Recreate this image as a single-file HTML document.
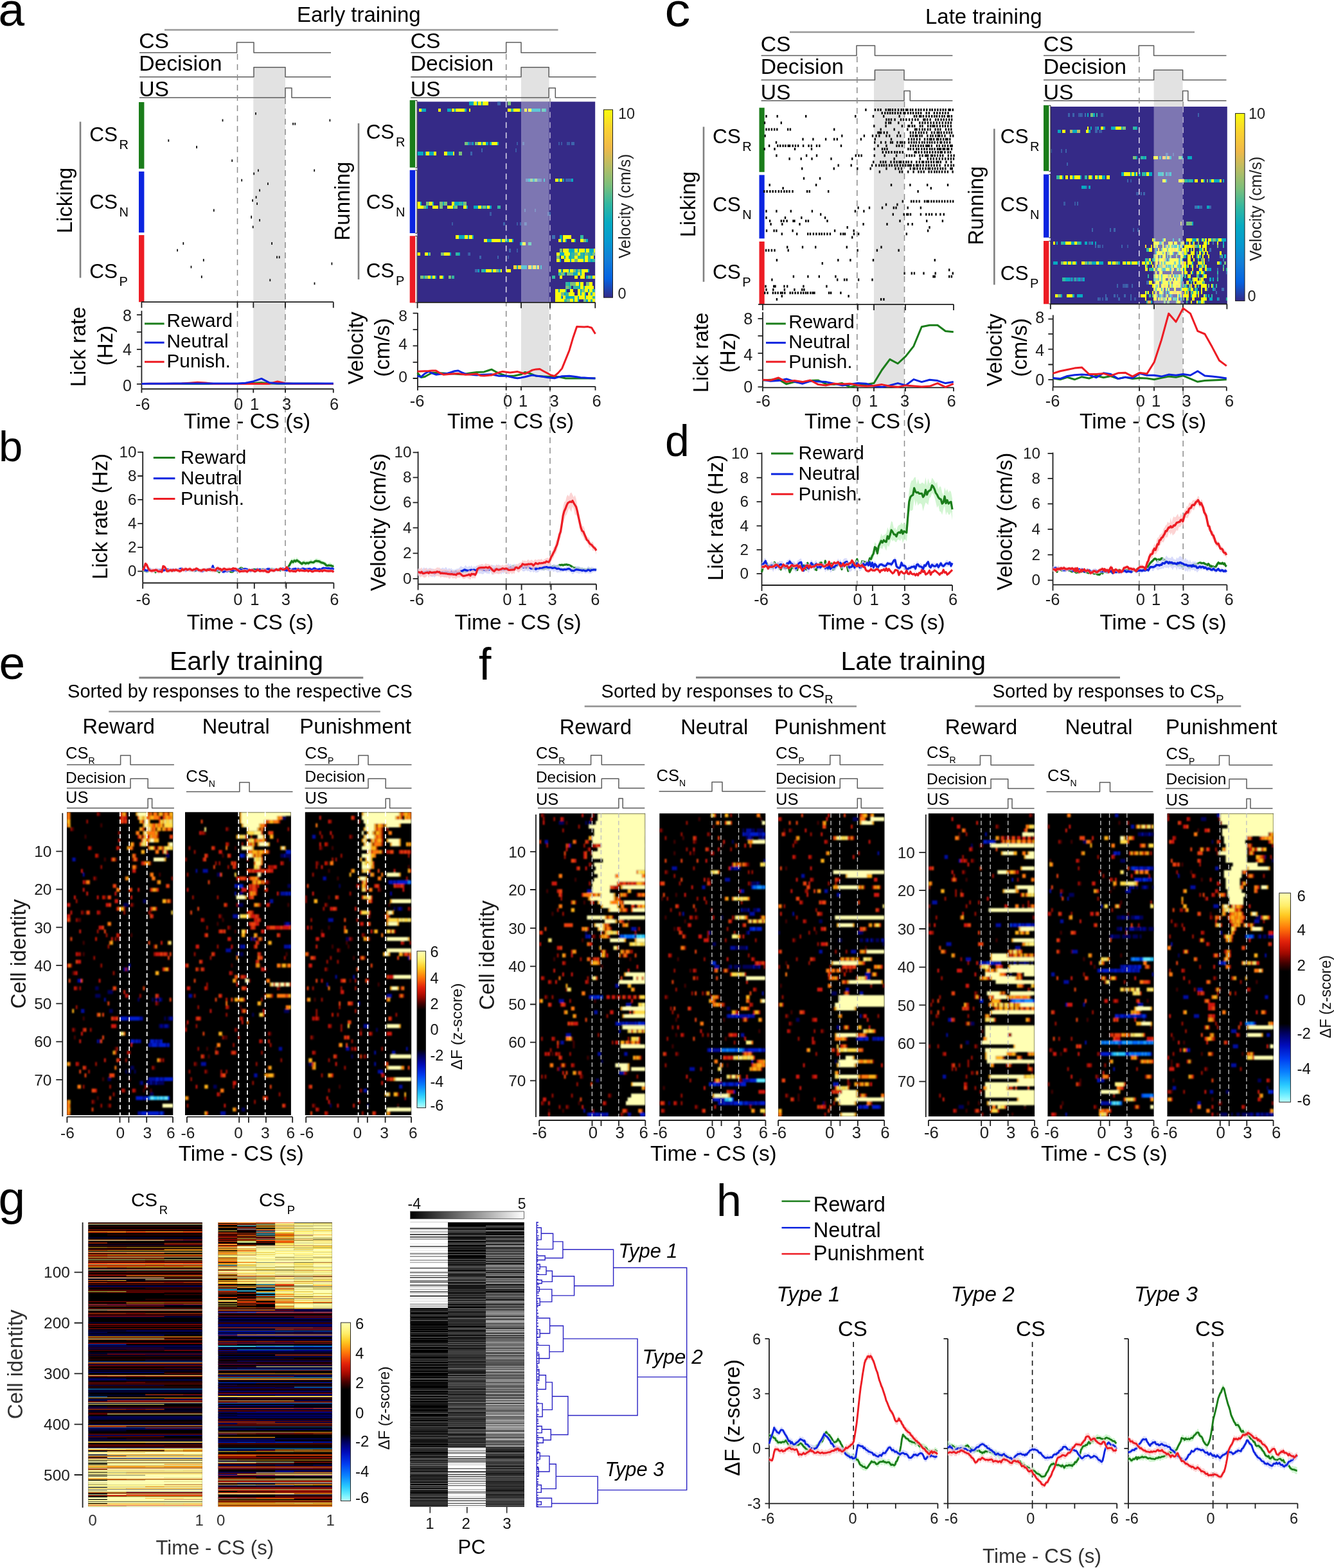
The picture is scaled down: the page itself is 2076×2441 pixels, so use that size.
<!DOCTYPE html>
<html><head><meta charset="utf-8"><title>Figure</title>
<style>html,body{margin:0;padding:0;background:#fff}svg{display:block}text{font-family:"Liberation Sans",sans-serif}</style></head>
<body>
<svg width="2076" height="2441" viewBox="0 0 2076 2441" fill="none">
<rect width="2076" height="2441" fill="#fff"/>
<defs><filter id="bl8" x="-5%" y="-5%" width="110%" height="110%"><feGaussianBlur stdDeviation="0.8"/></filter><filter id="bl5" x="-5%" y="-5%" width="110%" height="110%"><feGaussianBlur stdDeviation="0.5 0.9"/></filter></defs>
<g fill="#000">
<text x="-2.5" y="40.4" font-size="73">a</text>
<text x="462" y="33.5" font-size="33">Early training</text>
<path d="M256 46.5L868.5 46.5" stroke="#999" stroke-width="2.6"/>
<rect x="394.3" y="105" width="49.7" height="500.5" fill="#e2e2e2"/>
<path d="M217 82H368.5V66H395V82H515" stroke="#5c5c5c" stroke-width="1.5" fill="none" stroke-linejoin="round"/>
<text x="216.2" y="75.3" font-size="33.7">CS</text>
<path d="M217 119.7H395V104.7H444V119.7H515" stroke="#5c5c5c" stroke-width="1.5" fill="none" stroke-linejoin="round"/>
<text x="216.2" y="110.3" font-size="33.7">Decision</text>
<path d="M217 152H444V137H454V152H515" stroke="#5c5c5c" stroke-width="1.5" fill="none" stroke-linejoin="round"/>
<text x="216.2" y="150" font-size="33.7">US</text>
<path d="M369.5 84L369.5 916" stroke="#8c8c8c" stroke-width="1.5" stroke-dasharray="9 7"/>
<path d="M444 153L444 916" stroke="#8c8c8c" stroke-width="1.5" stroke-dasharray="9 7"/>
<rect x="216" y="159" width="8.4" height="103.6" fill="#1a7d1a"/>
<rect x="216" y="267" width="8.4" height="95" fill="#0b24e0"/>
<rect x="216" y="366" width="8.4" height="104.2" fill="#ed1c24"/>
<text text-anchor="middle" transform="translate(111.5 312) rotate(-90)" font-size="33">Licking</text>
<path d="M125 189.5L125 432.5" stroke="#808080" stroke-width="2.6"/>
<text x="139.3" y="219.5" font-size="31.6">CS<tspan font-size="20" dy="12" dx="2.3">R</tspan></text>
<text x="139.3" y="325" font-size="31.6">CS<tspan font-size="20" dy="12" dx="2.3">N</tspan></text>
<text x="139.3" y="432.5" font-size="31.6">CS<tspan font-size="20" dy="12" dx="2.3">P</tspan></text>
<path d="M398 175v3.8M346.5 185.4v3.8M513.4 185.4v3.8M456.1 191v3.8M459.2 191v3.8M262.3 217v3.8M306.1 227.1v3.8M361.2 248.2v3.8M401.9 263.5v3.8M395.2 268.4v3.8M489.2 263.5v3.8M376.2 278.8v3.8M416.9 284.3v3.8M404.1 294.4v3.8M398.6 305.1v3.8M393.1 310.3v3.8M400.1 315.2v3.8M332.8 325.6v3.8M391.2 336.4v3.8M391.2 335.8v3.8M404.1 341v3.8M393.7 351.4v3.8M285.3 377.1v3.8M423.1 377.1v3.8M276.1 387.8v3.8M431 398.5v3.8M434.7 398.5v3.8M316.8 403.1v3.8M516.4 408.6v3.8M297.5 413.8v3.8M313.8 429.1v3.8M420.3 434.3v3.8M489.5 439.5v3.8" stroke="#111" stroke-width="1.8"/>
<path d="M219.8 470.2H518.9M220.4 470.2v9M369.5 470.2v9M394.3 470.2v9M444 470.2v9M518.8 470.2v9" stroke="#1f1f1f" stroke-width="1.8" fill="none"/>
<path d="M220.4 483.8V605.5M220.4 490.2h-7.5M220.4 516.8h-7.5M220.4 543.9h-7.5M220.4 570.7h-7.5M220.4 597.9h-7.5" stroke="#1f1f1f" stroke-width="1.8" fill="none"/>
<path d="M220.4 605.5H518.8M220.4 605.5v6M369.5 605.5v6M394.3 605.5v6M444 605.5v6M518.8 605.5v6" stroke="#1f1f1f" stroke-width="1.8" fill="none"/>
<text x="205" y="500" text-anchor="end" fill="#1c1c1c" font-size="25">8</text>
<text x="205" y="553.4" text-anchor="end" fill="#1c1c1c" font-size="25">4</text>
<text x="205" y="609.4" text-anchor="end" fill="#1c1c1c" font-size="25">0</text>
<text x="222" y="637.6" text-anchor="middle" fill="#1c1c1c" font-size="25.5">-6</text>
<text x="371" y="637.6" text-anchor="middle" fill="#1c1c1c" font-size="25.5">0</text>
<text x="396" y="637.6" text-anchor="middle" fill="#1c1c1c" font-size="25.5">1</text>
<text x="446" y="637.6" text-anchor="middle" fill="#1c1c1c" font-size="25.5">3</text>
<text x="520" y="637.6" text-anchor="middle" fill="#1c1c1c" font-size="25.5">6</text>
<text x="286" y="667.2" font-size="33.4">Time - CS (s)</text>
<text text-anchor="middle" transform="translate(132.8 540) rotate(-90)" font-size="33">Lick rate</text>
<text text-anchor="middle" transform="translate(174.8 538) rotate(-90)" font-size="33">(Hz)</text>
<path d="M220.4 597.5L232.8 597.5L245.3 597.5L257.7 597.5L270.1 597.5L282.6 597.5L295 597.5L307.4 597.4L319.9 597.4L332.3 597.4L344.7 597.4L357.2 597.4L369.6 597.4L382 597.1L394.5 596.4L406.9 595.8L419.3 597.1L431.8 597.2L444.2 597.2L456.6 597.2L469.1 597.3L481.5 597.3L493.9 597.3L506.4 597.4L518.8 597.4" stroke="#1a7d1a" stroke-width="3" fill="none" stroke-linejoin="round"/>
<path d="M220.4 597.4L232.8 597.3L245.3 597.3L257.7 597.2L270.1 597.2L282.6 597.1L295 596.2L307.4 595.3L319.9 596.1L332.3 597.4L344.7 597.4L357.2 597.4L369.6 597.4L382 597.4L394.5 597.4L406.9 597.4L419.3 597.4L431.8 594L444.2 596.7L456.6 597.5L469.1 597.5L481.5 597.5L493.9 597.4L506.4 597.4L518.8 597.4" stroke="#ed1c24" stroke-width="3" fill="none" stroke-linejoin="round"/>
<path d="M220.4 597.4L232.8 597.3L245.3 597.3L257.7 597.2L270.1 597.1L282.6 597.1L295 597.1L307.4 597.1L319.9 597.1L332.3 597L344.7 597L357.2 597L369.6 597L382 596.2L394.5 593.7L406.9 589.4L419.3 595.8L431.8 597.1L444.2 597.1L456.6 597.1L469.1 597.1L481.5 597.1L493.9 597.1L506.4 597.1L518.8 597.1" stroke="#0b24e0" stroke-width="3" fill="none" stroke-linejoin="round"/>
<path d="M225 503.9L255.6 503.9" stroke="#1a7d1a" stroke-width="3"/>
<text x="259.5" y="509.3" font-size="29.8">Reward</text>
<path d="M225 533.3L255.6 533.3" stroke="#0b24e0" stroke-width="3"/>
<text x="259.5" y="541.2" font-size="29.8">Neutral</text>
<path d="M225 563.3L255.6 563.3" stroke="#ed1c24" stroke-width="3"/>
<text x="259.5" y="572.4" font-size="29.8">Punish.</text>
<rect x="811" y="105" width="43.5" height="496.8" fill="#e2e2e2"/>
<path d="M639.3 82H787.7V66H811V82H927.6" stroke="#5c5c5c" stroke-width="1.5" fill="none" stroke-linejoin="round"/>
<text x="638.7" y="75.3" font-size="33.7">CS</text>
<path d="M639.3 119.7H811V104.7H854.2V119.7H927.6" stroke="#5c5c5c" stroke-width="1.5" fill="none" stroke-linejoin="round"/>
<text x="638.7" y="110.3" font-size="33.7">Decision</text>
<path d="M639.3 152H854.2V137H864.3V152H927.6" stroke="#5c5c5c" stroke-width="1.5" fill="none" stroke-linejoin="round"/>
<text x="638.7" y="150" font-size="33.7">US</text>
<path d="M787.7 84L787.7 916" stroke="#8c8c8c" stroke-width="1.5" stroke-dasharray="9 7"/>
<path d="M856 153L856 916" stroke="#8c8c8c" stroke-width="1.5" stroke-dasharray="9 7"/>
<rect x="649.4" y="158.3" width="276.8" height="312.5" fill="#352a87"/>
<g shape-rendering="crispEdges" stroke-width="5.5">
<path d="M803.9 223.4h2.3M813.2 223.4h2.3M868.5 223.4h2.3M873.1 223.4h2.3M882.4 223.4h4.6M801.6 233.8h2.3M831.6 327.6h2.3M762.4 332.8h2.3M852.4 332.8h2.3M702.5 348.4h2.3M803.9 348.4h2.3M817.8 348.4h2.3M803.9 390.1h2.3M727.8 395.3h2.3M790.1 400.5h2.3" stroke="#3b59a5"/>
<path d="M774 160.9h4.6M730.1 223.4h4.6M889.3 223.4h4.6M748.6 233.8h2.3M732.4 239h2.3M840.9 280.7h2.3M880.1 280.7h9.2M815.5 327.6h2.3M854.7 332.8h2.3M783.2 348.4h2.3M808.6 348.4h2.3M815.5 348.4h2.3M792.4 390.1h2.3M730.1 395.3h2.3M746.3 400.5h2.3M774 400.5h2.3M739.4 421.3h4.6" stroke="#3d65ac"/>
<path d="M817.8 280.7h4.6M836.2 280.7h4.6M859.3 369.2h4.6" stroke="#3e70b3"/>
<path d="M730.1 160.9h6.9M741.7 160.9h2.3M748.6 160.9h2.3M656.3 171.3h6.9M695.5 171.3h6.9M707.1 171.3h2.3M723.2 171.3h2.3M808.6 171.3h2.3M827 171.3h13.8M847.8 171.3h2.3M727.8 223.4h2.3M734.7 223.4h2.3M748.6 223.4h2.3M755.5 223.4h4.6M762.4 223.4h2.3M774 223.4h2.3M649.4 239h9.2M660.9 239h2.3M667.9 239h6.9M695.5 239h9.2M822.4 280.7h2.3M829.3 280.7h2.3M845.5 280.7h2.3M868.5 280.7h2.3M875.5 280.7h2.3M889.3 280.7h2.3M654 317.2h2.3M672.5 317.2h2.3M688.6 317.2h2.3M707.1 317.2h6.9M718.6 317.2h2.3M663.2 322.4h2.3M704.8 322.4h2.3M725.5 322.4h2.3M737.1 322.4h6.9M748.6 322.4h2.3M755.5 322.4h2.3M762.4 322.4h2.3M714 369.2h9.2M727.8 369.2h2.3M734.7 369.2h2.3M870.8 369.2h4.6M757.8 374.4h6.9M778.6 374.4h2.3M790.1 374.4h2.3M797 374.4h2.3M873.1 374.4h2.3M880.1 374.4h2.3M893.9 374.4h2.3M912.4 374.4h2.3M808.6 379.7h4.6M884.7 390.1h9.2M898.5 390.1h2.3M910.1 390.1h2.3M917 390.1h6.9M665.5 395.3h2.3M700.1 395.3h2.3M714 395.3h2.3M870.8 395.3h6.9M887 395.3h2.3M907.7 395.3h2.3M919.3 395.3h2.3M877.8 400.5h2.3M884.7 400.5h4.6M907.7 400.5h2.3M870.8 405.7h2.3M887 405.7h2.3M907.7 405.7h2.3M919.3 405.7h2.3M803.9 416.1h2.3M810.9 416.1h9.2M827 416.1h2.3M833.9 416.1h2.3M840.9 416.1h2.3M744 421.3h2.3M753.2 421.3h2.3M764.7 421.3h2.3M776.3 421.3h2.3M873.1 421.3h2.3M884.7 421.3h2.3M896.2 421.3h2.3M903.1 421.3h2.3M914.7 421.3h2.3M877.8 426.5h2.3M891.6 426.5h6.9M903.1 426.5h2.3M658.6 431.7h2.3M670.2 431.7h2.3M677.1 431.7h2.3M688.6 431.7h2.3M912.4 431.7h2.3M919.3 431.7h2.3M884.7 442.2h2.3M900.8 442.2h2.3M900.8 447.4h2.3M907.7 447.4h2.3M868.5 452.6h2.3M880.1 452.6h2.3M903.1 452.6h2.3M914.7 452.6h2.3M921.6 452.6h2.3M877.8 457.8h2.3M903.1 457.8h2.3M910.1 457.8h2.3M919.3 457.8h2.3M873.1 463h2.3M880.1 463h13.8M898.5 463h2.3M910.1 463h2.3M891.6 468.2h2.3M898.5 468.2h2.3M912.4 468.2h2.3M919.3 468.2h2.3" stroke="#07aac1"/>
<path d="M794.7 171.3h4.6M843.2 171.3h4.6M714 317.2h4.6M774 322.4h4.6M903.1 369.2h4.6M785.5 374.4h4.6M822.4 379.7h4.6M709.4 395.3h4.6M889.3 395.3h4.6M903.1 395.3h4.6M914.7 395.3h4.6M889.3 400.5h4.6M898.5 400.5h9.2M914.7 400.5h4.6M914.7 405.7h4.6M921.6 405.7h4.6M748.6 421.3h4.6M868.5 426.5h4.6M702.5 431.7h4.6M859.3 431.7h4.6M880.1 442.2h4.6M884.7 447.4h4.6M891.6 447.4h9.2M923.9 452.6h2.3M880.1 457.8h4.6M921.6 463h4.6M877.8 468.2h4.6" stroke="#33b7a0"/>
<path d="M790.1 160.9h4.6M723.2 223.4h4.6M739.4 223.4h4.6M714 239h4.6M824.7 280.7h4.6M831.6 280.7h4.6M663.2 317.2h4.6M684 317.2h4.6M690.9 317.2h4.6M720.9 317.2h4.6M658.6 322.4h4.6M684 322.4h4.6M707.1 322.4h4.6M750.9 322.4h4.6M907.7 374.4h4.6M870.8 390.1h4.6M667.9 395.3h2.3M686.3 395.3h4.6M893.9 395.3h4.6M910.1 395.3h4.6M921.6 395.3h4.6M866.2 400.5h4.6M893.9 405.7h4.6M771.7 421.3h4.6M891.6 421.3h4.6M898.5 421.3h4.6M873.1 426.5h4.6M882.4 426.5h9.2M654 431.7h4.6M660.9 431.7h4.6M697.8 431.7h4.6M914.7 431.7h4.6M887 442.2h9.2M912.4 442.2h4.6M880.1 447.4h4.6M905.4 452.6h4.6M873.1 457.8h4.6M882.4 468.2h4.6M907.7 468.2h4.6" stroke="#7cbf7b"/>
<path d="M799.3 416.1h4.6M806.3 416.1h4.6M822.4 416.1h4.6M829.3 416.1h4.6M836.2 416.1h2.3" stroke="#fad230"/>
<path d="M737.1 160.9h4.6M744 160.9h4.6M750.9 160.9h9.2M651.7 171.3h4.6M681.7 171.3h4.6M702.5 171.3h4.6M709.4 171.3h13.8M730.1 171.3h2.3M790.1 171.3h4.6M799.3 171.3h9.2M815.5 171.3h4.6M822.4 171.3h4.6M744 223.4h4.6M750.9 223.4h4.6M764.7 223.4h9.2M663.2 239h4.6M674.8 239h4.6M690.9 239h4.6M704.8 239h2.3M863.9 280.7h4.6M870.8 280.7h4.6M649.4 317.2h4.6M667.9 317.2h4.6M702.5 317.2h4.6M649.4 322.4h9.2M672.5 322.4h9.2M695.5 322.4h9.2M720.9 322.4h4.6M744 322.4h4.6M757.8 322.4h4.6M709.4 369.2h4.6M723.2 369.2h4.6M730.1 369.2h4.6M875.5 369.2h13.8M753.2 374.4h4.6M764.7 374.4h13.8M780.9 374.4h4.6M792.4 374.4h4.6M868.5 374.4h4.6M875.5 374.4h4.6M889.3 374.4h4.6M903.1 374.4h4.6M813.2 379.7h4.6M875.5 390.1h9.2M893.9 390.1h4.6M900.8 390.1h9.2M912.4 390.1h4.6M923.9 390.1h2.3M649.4 395.3h4.6M660.9 395.3h4.6M690.9 395.3h9.2M866.2 395.3h4.6M877.8 395.3h9.2M898.5 395.3h4.6M873.1 400.5h4.6M880.1 400.5h4.6M893.9 400.5h4.6M910.1 400.5h4.6M919.3 400.5h4.6M866.2 405.7h4.6M877.8 405.7h9.2M889.3 405.7h4.6M898.5 405.7h9.2M910.1 405.7h4.6M755.5 421.3h9.2M767 421.3h4.6M778.6 421.3h2.3M787.8 421.3h6.9M868.5 421.3h4.6M875.5 421.3h9.2M887 421.3h4.6M905.4 421.3h9.2M898.5 426.5h4.6M905.4 426.5h4.6M665.5 431.7h4.6M672.5 431.7h4.6M684 431.7h4.6M870.8 431.7h4.6M893.9 431.7h4.6M903.1 431.7h6.9M921.6 431.7h4.6M896.2 442.2h4.6M903.1 442.2h4.6M917 442.2h4.6M903.1 447.4h4.6M910.1 447.4h13.8M863.9 452.6h4.6M870.8 452.6h9.2M887 452.6h4.6M898.5 452.6h4.6M910.1 452.6h4.6M917 452.6h4.6M863.9 457.8h9.2M884.7 457.8h9.2M898.5 457.8h4.6M905.4 457.8h4.6M914.7 457.8h4.6M921.6 457.8h4.6M863.9 463h9.2M875.5 463h4.6M893.9 463h4.6M900.8 463h9.2M912.4 463h9.2M863.9 468.2h13.8M887 468.2h4.6M893.9 468.2h4.6M914.7 468.2h4.6M921.6 468.2h4.6" stroke="#f9fb0e"/>
</g>
<rect x="811" y="158.3" width="43.5" height="312.5" fill="#fff" opacity="0.36"/>
<path d="M787.7 158.3L787.7 470.8" stroke="#d6d3e6" stroke-width="1.6" stroke-dasharray="9 7"/>
<path d="M856 158.3L856 470.8" stroke="#c9c6dc" stroke-width="1.3" stroke-dasharray="9 7"/>
<rect x="637.7" y="156" width="8.6" height="104.8" fill="#1a7d1a"/>
<rect x="637.7" y="264.8" width="8.6" height="98.2" fill="#0b24e0"/>
<rect x="637.7" y="367.3" width="8.6" height="104.1" fill="#ed1c24"/>
<path d="M646.3 156.4H649V261.2H646.3M646.3 264.9H649V363.2H646.3M646.3 367.4H649V471H646.3" stroke="#1f1f1f" stroke-width="1" fill="none"/>
<path d="M649.5 470.8H926.3M649.6 470.8v9M811 470.8v9M856 470.8v9M926.3 470.8v9" stroke="#1f1f1f" stroke-width="1.8" fill="none"/>
<defs><linearGradient id="par" x1="0" y1="1" x2="0" y2="0"><stop offset="0" stop-color="#352a87"/><stop offset="0.1" stop-color="#0562e1"/><stop offset="0.2" stop-color="#127dd8"/><stop offset="0.3" stop-color="#0699d0"/><stop offset="0.4" stop-color="#07aac1"/><stop offset="0.5" stop-color="#33b7a0"/><stop offset="0.6" stop-color="#7cbf7b"/><stop offset="0.7" stop-color="#b7bd64"/><stop offset="0.8" stop-color="#f0b949"/><stop offset="0.9" stop-color="#fad230"/><stop offset="1" stop-color="#f9fb0e"/></linearGradient></defs>
<rect x="939.5" y="170.8" width="14" height="292.4" fill="url(#par)" stroke="#1f1f1f" stroke-width="1"/>
<text x="962" y="184.6" fill="#1f1f1f" font-size="23.5">10</text>
<text x="961.6" y="465.3" fill="#1f1f1f" font-size="23.5">0</text>
<text text-anchor="middle" fill="#1f1f1f" transform="translate(980.5 321) rotate(-90)" font-size="25">Velocity (cm/s)</text>
<text text-anchor="middle" transform="translate(544.2 313) rotate(-90)" font-size="33">Running</text>
<path d="M558 192L558 435" stroke="#808080" stroke-width="2.6"/>
<text x="569.8" y="215.8" font-size="31.6">CS<tspan font-size="20" dy="12" dx="2.3">R</tspan></text>
<text x="569.8" y="325" font-size="31.6">CS<tspan font-size="20" dy="12" dx="2.3">N</tspan></text>
<text x="569.8" y="432" font-size="31.6">CS<tspan font-size="20" dy="12" dx="2.3">P</tspan></text>
<path d="M650 487V602M650 487.6h-7.4M650 513.1h-7.4M650 538.3h-7.4M650 563.9h-7.4M650 589h-7.4" stroke="#1f1f1f" stroke-width="1.8" fill="none"/>
<path d="M650 601.8H926.5M650 601.8v6M787.7 601.8v6M811 601.8v6M856 601.8v6M926.5 601.8v6" stroke="#1f1f1f" stroke-width="1.8" fill="none"/>
<text x="634" y="499.5" text-anchor="end" fill="#1c1c1c" font-size="24.6">8</text>
<text x="634" y="543.7" text-anchor="end" fill="#1c1c1c" font-size="24.6">4</text>
<text x="634" y="595.3" text-anchor="end" fill="#1c1c1c" font-size="24.6">0</text>
<text x="649" y="633" text-anchor="middle" fill="#1c1c1c" font-size="25.5">-6</text>
<text x="790" y="633" text-anchor="middle" fill="#1c1c1c" font-size="25.5">0</text>
<text x="814" y="633" text-anchor="middle" fill="#1c1c1c" font-size="25.5">1</text>
<text x="862.7" y="633" text-anchor="middle" fill="#1c1c1c" font-size="25.5">3</text>
<text x="928.5" y="633" text-anchor="middle" fill="#1c1c1c" font-size="25.5">6</text>
<text x="696" y="667.2" font-size="33.4">Time - CS (s)</text>
<text text-anchor="middle" transform="translate(564.5 542) rotate(-90)" font-size="33">Velocity</text>
<text text-anchor="middle" transform="translate(606 541) rotate(-90)" font-size="33">(cm/s)</text>
<path d="M649.6 580.2L655.4 587.5L661.1 586.5L666.9 583.3L672.7 580.2L678.4 580.5L684.2 580.8L690 581.1L695.8 581.4L701.5 581.8L707.3 582.1L713.1 582.4L718.8 582.7L724.6 581.9L730.4 581.1L736.1 580.3L741.9 579.5L747.7 579.2L753.4 578.9L759.2 577L765 575.1L770.7 578.3L776.5 581.4L782.3 583.3L788 585.2L793.8 585.2L799.6 585.2L805.4 584L811.1 582.7L816.9 579.5L822.7 580.7L828.4 583L834.2 585.2L840 585.5L845.7 585.9L851.5 586.2L857.3 586.5L863 586.5L868.8 586.5L874.6 587.7L880.4 589L886.1 589L891.9 589L897.7 589L903.4 589L909.2 589L915 589L920.7 589L926.5 589" stroke="#1a7d1a" stroke-width="3" fill="none" stroke-linejoin="round"/>
<path d="M649.6 585.2L655.4 586.7L661.1 581.7L666.9 578.2L672.7 581.1L678.4 583.2L684.2 582.6L690 582L695.8 581.4L701.5 579.6L707.3 577.8L713.1 577L718.8 579.8L724.6 582.2L730.4 582.8L736.1 583.4L741.9 584L747.7 583.6L753.4 583.3L759.2 583L765 582.7L770.7 584L776.5 585.2L782.3 585.2L788 585.2L793.8 586.6L799.6 587.9L805.4 588.8L811.1 587.9L816.9 586.8L822.7 585.2L828.4 584.1L834.2 584.9L840 585.7L845.7 586.5L851.5 587.4L857.3 588.3L863 588.7L868.8 587.1L874.6 585.8L880.4 585.5L886.1 585.3L891.9 585.9L897.7 586.8L903.4 587.7L909.2 588.1L915 588.4L920.7 588.7L926.5 589" stroke="#0b24e0" stroke-width="3" fill="none" stroke-linejoin="round"/>
<path d="M649.6 578.3L655.4 578.1L661.1 577.8L666.9 577.5L672.7 576.9L678.4 577.1L684.2 580.6L690 583.2L695.8 582.8L701.5 582.3L707.3 581.8L713.1 581.6L718.8 582.6L724.6 583.3L730.4 582.9L736.1 582.5L741.9 582.1L747.7 584.7L753.4 584.9L759.2 584.4L765 584L770.7 581.9L776.5 579.9L782.3 578.4L788 579.2L793.8 580L799.6 579.2L805.4 578.6L811.1 580.2L816.9 581.8L822.7 579.2L828.4 576.1L834.2 574.9L840 574.5L845.7 577.7L851.5 580.8L857.3 584L863 585.5L868.8 580.4L874.6 573.6L880.4 559.4L886.1 545.2L891.9 525.4L897.7 508.4L903.4 508.7L909.2 508.9L915 508.6L920.7 510.2L926.5 519.7" stroke="#ed1c24" stroke-width="3" fill="none" stroke-linejoin="round"/>
<text x="-2" y="718.2" font-size="67">b</text>
<path d="M222.2 702.9V907.5M222.2 703.8h-8M222.2 741h-8M222.2 777.8h-8M222.2 815.2h-8M222.2 852.2h-8M222.2 889.3h-8" stroke="#1f1f1f" stroke-width="1.8" fill="none"/>
<path d="M222.2 907.5H519.4M222.2 907.5v9M369.5 907.5v9M395.8 907.5v9M445.4 907.5v9M519.4 907.5v9" stroke="#1f1f1f" stroke-width="1.8" fill="none"/>
<text x="212.5" y="711.7" text-anchor="end" fill="#1c1c1c" font-size="24.3">10</text>
<text x="212.5" y="748.9" text-anchor="end" fill="#1c1c1c" font-size="24.3">8</text>
<text x="212.5" y="785.7" text-anchor="end" fill="#1c1c1c" font-size="24.3">6</text>
<text x="212.5" y="823.1" text-anchor="end" fill="#1c1c1c" font-size="24.3">4</text>
<text x="212.5" y="860.1" text-anchor="end" fill="#1c1c1c" font-size="24.3">2</text>
<text x="212.5" y="897.2" text-anchor="end" fill="#1c1c1c" font-size="24.3">0</text>
<text x="222.8" y="941.6" text-anchor="middle" fill="#1c1c1c" font-size="25.5">-6</text>
<text x="370.4" y="941.6" text-anchor="middle" fill="#1c1c1c" font-size="25.5">0</text>
<text x="396.4" y="941.6" text-anchor="middle" fill="#1c1c1c" font-size="25.5">1</text>
<text x="444.8" y="941.6" text-anchor="middle" fill="#1c1c1c" font-size="25.5">3</text>
<text x="520.4" y="941.6" text-anchor="middle" fill="#1c1c1c" font-size="25.5">6</text>
<text x="290.8" y="980" font-size="33.4">Time - CS (s)</text>
<text text-anchor="middle" transform="translate(167 804) rotate(-90)" font-size="33">Lick rate (Hz)</text>
<path d="M222.2 885.4L224.2 887.1L226.2 885.8L228.1 888.1L230.1 887.3L232.1 885.2L234.1 885.2L236.1 886.2L238.1 887.3L240 887.2L242 889.2L244 886L246 885.2L248 885.4L249.9 885.4L251.9 886.5L253.9 886.3L255.9 885.9L257.9 885.3L259.8 886.2L261.8 887.9L263.8 886.7L265.8 885.5L267.8 886.8L269.8 886.3L271.7 885L273.7 885.6L275.7 886L277.7 885.2L279.7 884.5L281.6 885.9L283.6 884.9L285.6 885.3L287.6 885L289.6 884.3L291.5 885.7L293.5 886L295.5 886.4L297.5 886.5L299.5 885.7L301.5 886.4L303.4 887.4L305.4 885.9L307.4 885L309.4 886.4L311.4 887.1L313.3 885.6L315.3 885.3L317.3 885.8L319.3 886.7L321.3 885.4L323.2 883.7L325.2 884.5L327.2 885.6L329.2 885L331.2 885.5L333.2 886.4L335.1 886L337.1 886.7L339.1 886.6L341.1 889.4L343.1 886L345 885.5L347 886.9L349 886L351 886.5L353 887L354.9 886.2L356.9 887L358.9 888.5L360.9 888.3L362.9 887.4L364.9 885.1L366.8 884.7L368.8 885L370.8 885.4L372.8 883.5L374.8 882.7L376.7 882.6L378.7 884.9L380.7 885.7L382.7 886L384.7 885.7L386.7 886.4L388.6 885.8L390.6 885.4L392.6 885.7L394.6 884.9L396.6 884.5L398.5 884.9L400.5 885.9L402.5 886.8L404.5 885.8L406.5 884.8L408.4 884.3L410.4 884.7L412.4 885.9L414.4 885L416.4 885.3L418.4 884.3L420.3 885L422.3 884.3L424.3 884.5L426.3 885.3L428.3 885.6L430.2 885.1L432.2 884.7L434.2 884.7L436.2 886.5L438.2 884.9L440.1 885.2L442.1 886L444.1 884.9L446.1 883.7L448.1 881.6L450.1 878.1L452 872.2L454 869.2L456 870.9L458 868.1L460 871L461.9 867.6L463.9 870.2L465.9 871.3L467.9 873.9L469.9 874.6L471.8 872.4L473.8 871.7L475.8 873.7L477.8 873.1L479.8 873L481.8 872.5L483.7 870.5L485.7 872.1L487.7 872.8L489.7 870.7L491.7 869.3L493.6 869.4L495.6 870.5L497.6 870.5L499.6 871.5L501.6 873.2L503.5 873.4L505.5 874.2L507.5 875.3L509.5 878.2L511.5 876.9L513.5 875.6L515.4 876.7L517.4 879.3L519.4 877.5L519.4 885.2L517.4 884.1L515.4 884.2L513.5 885.1L511.5 883.1L509.5 883.7L507.5 884.2L505.5 881.2L503.5 879.8L501.6 879.1L499.6 879.7L497.6 878.2L495.6 876.7L493.6 877.6L491.7 877.1L489.7 877.6L487.7 878.7L485.7 878.7L483.7 879.5L481.8 878.9L479.8 881L477.8 879.3L475.8 881.1L473.8 880.8L471.8 879.2L469.9 880.9L467.9 879.1L465.9 878.1L463.9 876.9L461.9 876.6L460 877L458 877.2L456 879.6L454 877.8L452 881.4L450.1 882.7L448.1 885.9L446.1 886.6L444.1 889.2L442.1 888.8L440.1 887.9L438.2 888.8L436.2 889.6L434.2 887.4L432.2 889.1L430.2 889.5L428.3 889.2L426.3 889.4L424.3 887.1L422.3 888.1L420.3 889.3L418.4 888.6L416.4 888.3L414.4 888.6L412.4 888.4L410.4 887.9L408.4 888.4L406.5 888.4L404.5 888.6L402.5 889.7L400.5 889.4L398.5 889L396.6 888.8L394.6 887.8L392.6 889L390.6 889.8L388.6 889.8L386.7 890.3L384.7 890.2L382.7 889L380.7 890.2L378.7 887.9L376.7 886L374.8 885.5L372.8 888.1L370.8 888L368.8 888.7L366.8 889.7L364.9 889.8L362.9 891.4L360.9 892.6L358.9 892L356.9 890.1L354.9 891.2L353 889.7L351 889.5L349 890.1L347 889.6L345 890.3L343.1 890.6L341.1 892.2L339.1 891.1L337.1 890.4L335.1 889.2L333.2 889.4L331.2 889.4L329.2 888.8L327.2 890.4L325.2 887.8L323.2 888.2L321.3 889.1L319.3 890.1L317.3 890.8L315.3 888.4L313.3 889.8L311.4 890.2L309.4 890.1L307.4 888.9L305.4 889.4L303.4 890.2L301.5 890.4L299.5 890.2L297.5 889.7L295.5 889.8L293.5 888.5L291.5 888.4L289.6 888.5L287.6 889.6L285.6 889.1L283.6 888.3L281.6 889.4L279.7 888.7L277.7 889.7L275.7 889.4L273.7 889.2L271.7 889.7L269.8 888.9L267.8 891.1L265.8 890.2L263.8 889.7L261.8 890.6L259.8 890L257.9 889L255.9 888.9L253.9 889.5L251.9 889.3L249.9 888.6L248 889.6L246 890.1L244 890.3L242 892.4L240 890.3L238.1 890.3L236.1 890.6L234.1 887.9L232.1 890.1L230.1 891.3L228.1 892.1L226.2 890.7L224.2 890L222.2 889.2Z" fill="#c6f2c6" opacity="0.8"/>
<path d="M222.2 887.3L224.2 888.5L226.2 888.3L228.1 890.1L230.1 889.3L232.1 887.6L234.1 886.6L236.1 888.4L238.1 888.8L240 888.8L242 890.8L244 888.1L246 887.6L248 887.5L249.9 887L251.9 887.9L253.9 887.9L255.9 887.4L257.9 887.2L259.8 888.1L261.8 889.2L263.8 888.2L265.8 887.9L267.8 888.9L269.8 887.6L271.7 887.4L273.7 887.4L275.7 887.7L277.7 887.5L279.7 886.6L281.6 887.6L283.6 886.6L285.6 887.2L287.6 887.3L289.6 886.4L291.5 887.1L293.5 887.2L295.5 888.1L297.5 888.1L299.5 887.9L301.5 888.4L303.4 888.8L305.4 887.6L307.4 886.9L309.4 888.2L311.4 888.7L313.3 887.7L315.3 886.9L317.3 888.3L319.3 888.4L321.3 887.2L323.2 886L325.2 886.1L327.2 888L329.2 886.9L331.2 887.5L333.2 887.9L335.1 887.6L337.1 888.6L339.1 888.9L341.1 890.8L343.1 888.3L345 887.9L347 888.2L349 888L351 888L353 888.4L354.9 888.7L356.9 888.5L358.9 890.2L360.9 890.4L362.9 889.4L364.9 887.5L366.8 887.2L368.8 886.8L370.8 886.7L372.8 885.8L374.8 884.1L376.7 884.3L378.7 886.4L380.7 888L382.7 887.5L384.7 887.9L386.7 888.4L388.6 887.8L390.6 887.6L392.6 887.3L394.6 886.4L396.6 886.7L398.5 887L400.5 887.6L402.5 888.3L404.5 887.2L406.5 886.6L408.4 886.3L410.4 886.3L412.4 887.1L414.4 886.8L416.4 886.8L418.4 886.4L420.3 887.2L422.3 886.2L424.3 885.8L426.3 887.3L428.3 887.4L430.2 887.3L432.2 886.9L434.2 886L436.2 888.1L438.2 886.8L440.1 886.5L442.1 887.4L444.1 887L446.1 885.2L448.1 883.7L450.1 880.4L452 876.8L454 873.5L456 875.2L458 872.7L460 874L461.9 872.1L463.9 873.6L465.9 874.7L467.9 876.5L469.9 877.8L471.8 875.8L473.8 876.3L475.8 877.4L477.8 876.2L479.8 877L481.8 875.7L483.7 875L485.7 875.4L487.7 875.7L489.7 874.1L491.7 873.2L493.6 873.5L495.6 873.6L497.6 874.4L499.6 875.6L501.6 876.1L503.5 876.6L505.5 877.7L507.5 879.8L509.5 880.9L511.5 880L513.5 880.4L515.4 880.4L517.4 881.7L519.4 881.4" stroke="#1a7d1a" stroke-width="3.3" fill="none" stroke-linejoin="round"/>
<path d="M222.2 885.2L224.2 883.4L226.2 885.1L228.1 884.9L230.1 884.8L232.1 883.5L234.1 883.1L236.1 885.8L238.1 885.1L240 885.5L242 884L244 883.7L246 884.5L248 885L249.9 884.3L251.9 886.4L253.9 885.3L255.9 884.1L257.9 883L259.8 884.3L261.8 884.3L263.8 885.4L265.8 884.4L267.8 885.2L269.8 884.2L271.7 884.7L273.7 884.1L275.7 885.3L277.7 884.3L279.7 883.3L281.6 883.3L283.6 882.7L285.6 884.9L287.6 883.9L289.6 884.3L291.5 885.1L293.5 885.1L295.5 883.7L297.5 885.1L299.5 885.4L301.5 884.6L303.4 885.2L305.4 883.8L307.4 883.9L309.4 884.1L311.4 887L313.3 886.1L315.3 886.5L317.3 884.8L319.3 883.9L321.3 883.8L323.2 884.3L325.2 883.9L327.2 885.4L329.2 884.7L331.2 878.7L333.2 883.6L335.1 884.1L337.1 884.2L339.1 883.9L341.1 883.6L343.1 883.6L345 884.5L347 887.3L349 886.4L351 886.2L353 886.4L354.9 886.5L356.9 885.3L358.9 884L360.9 885.3L362.9 886.4L364.9 884.9L366.8 884.3L368.8 884.8L370.8 883.2L372.8 885.4L374.8 884L376.7 883.8L378.7 884.9L380.7 882.2L382.7 884L384.7 883.4L386.7 884.8L388.6 884.4L390.6 886.3L392.6 884L394.6 885.9L396.6 887.4L398.5 884.7L400.5 883.2L402.5 884.6L404.5 884.2L406.5 884L408.4 885.9L410.4 883.4L412.4 884.5L414.4 884.1L416.4 882.7L418.4 882.2L420.3 883.1L422.3 885.9L424.3 884L426.3 883.8L428.3 884L430.2 883.7L432.2 885.4L434.2 885.1L436.2 884.1L438.2 883.2L440.1 882.7L442.1 884.5L444.1 884L446.1 885.1L448.1 884.2L450.1 881.6L452 883.9L454 885.1L456 883L458 883.1L460 881.9L461.9 884.6L463.9 883.4L465.9 884.5L467.9 884.3L469.9 883.6L471.8 881.9L473.8 883L475.8 883.8L477.8 883.5L479.8 883.6L481.8 883.5L483.7 882.6L485.7 885.4L487.7 882.4L489.7 882L491.7 882.7L493.6 884.6L495.6 883.8L497.6 883.9L499.6 885.1L501.6 882.2L503.5 881.5L505.5 882.3L507.5 881.9L509.5 882L511.5 882.7L513.5 882L515.4 883.3L517.4 882.4L519.4 883.5L519.4 889.9L517.4 887.6L515.4 887L513.5 888.9L511.5 886.5L509.5 887.8L507.5 887.1L505.5 887.2L503.5 887.2L501.6 887.3L499.6 889.1L497.6 888L495.6 889L493.6 888.9L491.7 889.3L489.7 887.9L487.7 888.1L485.7 889.7L483.7 889.7L481.8 887.6L479.8 887.6L477.8 888.4L475.8 888.8L473.8 888.8L471.8 888.5L469.9 887.9L467.9 889.7L465.9 888.3L463.9 887.6L461.9 889.2L460 888.7L458 889L456 889.2L454 888.8L452 890.3L450.1 888.3L448.1 890.7L446.1 891L444.1 890.5L442.1 890.3L440.1 886.9L438.2 889.6L436.2 888.6L434.2 888.8L432.2 889.2L430.2 889.4L428.3 890.7L426.3 891.2L424.3 890.6L422.3 889.6L420.3 889.7L418.4 889.6L416.4 889.2L414.4 890.7L412.4 889.1L410.4 890.8L408.4 889.8L406.5 891L404.5 888.6L402.5 889.3L400.5 889.1L398.5 889.6L396.6 892.1L394.6 890.3L392.6 888.8L390.6 891.4L388.6 891.7L386.7 890.6L384.7 889.6L382.7 887.8L380.7 889.2L378.7 888.9L376.7 890.4L374.8 889.1L372.8 889.6L370.8 889.5L368.8 891.9L366.8 889.8L364.9 890.3L362.9 890L360.9 890.9L358.9 889.1L356.9 890.5L354.9 891.2L353 892.3L351 891L349 893.2L347 893.1L345 891.1L343.1 890.6L341.1 890.3L339.1 890.2L337.1 889.2L335.1 891.1L333.2 890.2L331.2 883L329.2 889.1L327.2 889.7L325.2 888.2L323.2 891L321.3 890L319.3 889.8L317.3 890.4L315.3 891.6L313.3 892.5L311.4 890.6L309.4 890.5L307.4 890.4L305.4 888.3L303.4 890.9L301.5 890.4L299.5 890L297.5 888.8L295.5 890.6L293.5 889.2L291.5 888.8L289.6 891.5L287.6 890.4L285.6 889.9L283.6 887.6L281.6 887.5L279.7 888.5L277.7 889.1L275.7 889.7L273.7 889.8L271.7 890.8L269.8 891.5L267.8 889.2L265.8 889.7L263.8 890.4L261.8 888.8L259.8 889.7L257.9 889.5L255.9 891.1L253.9 890.6L251.9 890.1L249.9 891L248 890.9L246 891.2L244 891.1L242 890.3L240 890.8L238.1 892L236.1 890.5L234.1 890.3L232.1 889.2L230.1 890.8L228.1 892.1L226.2 890.3L224.2 889.3L222.2 889.1Z" fill="#d0d3fa" opacity="0.8"/>
<path d="M222.2 887.2L224.2 886.4L226.2 887.7L228.1 888.5L230.1 887.8L232.1 886.3L234.1 886.7L236.1 888.2L238.1 888.6L240 888.2L242 887.2L244 887.4L246 887.8L248 887.9L249.9 887.7L251.9 888.3L253.9 888L255.9 887.6L257.9 886.3L259.8 887L261.8 886.5L263.8 887.9L265.8 887.1L267.8 887.2L269.8 887.8L271.7 887.7L273.7 886.9L275.7 887.5L277.7 886.7L279.7 885.9L281.6 885.4L283.6 885.1L285.6 887.4L287.6 887.2L289.6 887.9L291.5 886.9L293.5 887.2L295.5 887.1L297.5 886.9L299.5 887.7L301.5 887.5L303.4 888.1L305.4 886.1L307.4 887.1L309.4 887.3L311.4 888.8L313.3 889.3L315.3 889.1L317.3 887.6L319.3 886.9L321.3 886.9L323.2 887.7L325.2 886L327.2 887.5L329.2 886.9L331.2 880.9L333.2 886.9L335.1 887.6L337.1 886.7L339.1 887.1L341.1 886.9L343.1 887.1L345 887.8L347 890.2L349 889.8L351 888.6L353 889.3L354.9 888.8L356.9 887.9L358.9 886.6L360.9 888.1L362.9 888.2L364.9 887.6L366.8 887.1L368.8 888.4L370.8 886.3L372.8 887.5L374.8 886.5L376.7 887.1L378.7 886.9L380.7 885.7L382.7 885.9L384.7 886.5L386.7 887.7L388.6 888L390.6 888.8L392.6 886.4L394.6 888.1L396.6 889.8L398.5 887.2L400.5 886.1L402.5 887L404.5 886.4L406.5 887.5L408.4 887.8L410.4 887.1L412.4 886.8L414.4 887.4L416.4 885.9L418.4 885.9L420.3 886.4L422.3 887.7L424.3 887.3L426.3 887.5L428.3 887.3L430.2 886.6L432.2 887.3L434.2 887L436.2 886.3L438.2 886.4L440.1 884.8L442.1 887.4L444.1 887.2L446.1 888L448.1 887.4L450.1 884.9L452 887.1L454 887L456 886.1L458 886L460 885.3L461.9 886.9L463.9 885.5L465.9 886.4L467.9 887L469.9 885.7L471.8 885.2L473.8 885.9L475.8 886.3L477.8 886L479.8 885.6L481.8 885.5L483.7 886.2L485.7 887.6L487.7 885.2L489.7 885L491.7 886L493.6 886.8L495.6 886.4L497.6 885.9L499.6 887.1L501.6 884.8L503.5 884.4L505.5 884.8L507.5 884.5L509.5 884.9L511.5 884.6L513.5 885.4L515.4 885.2L517.4 885L519.4 886.7" stroke="#0b24e0" stroke-width="3.3" fill="none" stroke-linejoin="round"/>
<path d="M222.2 884.7L224.2 881.2L226.2 874.9L228.1 874.7L230.1 879.7L232.1 883.6L234.1 885.2L236.1 885L238.1 884.3L240 885L242 885.1L244 884.7L246 885.3L248 886.5L249.9 886.6L251.9 887L253.9 879.3L255.9 879.6L257.9 881.3L259.8 886L261.8 886.1L263.8 884L265.8 884.3L267.8 885.9L269.8 884.9L271.7 884.9L273.7 884L275.7 885.2L277.7 884.4L279.7 886.1L281.6 885.7L283.6 882.3L285.6 884.8L287.6 882.2L289.6 882.4L291.5 884.4L293.5 883.5L295.5 881.7L297.5 883.8L299.5 885.8L301.5 882.9L303.4 884L305.4 882.5L307.4 882.9L309.4 885.4L311.4 884.4L313.3 885.5L315.3 884.4L317.3 883.7L319.3 884.8L321.3 884.9L323.2 883.2L325.2 885.3L327.2 882.9L329.2 884L331.2 883.7L333.2 884.4L335.1 884.7L337.1 881.9L339.1 880.8L341.1 882.9L343.1 883.4L345 884.8L347 883.1L349 882.5L351 884L353 883.2L354.9 883.1L356.9 882.7L358.9 884.1L360.9 883.9L362.9 882.6L364.9 882.9L366.8 883.1L368.8 883.7L370.8 885.5L372.8 886.2L374.8 887.6L376.7 886.7L378.7 885.9L380.7 886.2L382.7 885.8L384.7 886.7L386.7 885.2L388.6 885.2L390.6 886.3L392.6 884L394.6 886.2L396.6 886.9L398.5 887.1L400.5 884.3L402.5 885.2L404.5 887.2L406.5 885.4L408.4 885.7L410.4 886.1L412.4 884.8L414.4 886.2L416.4 887.2L418.4 888.7L420.3 885.4L422.3 884.9L424.3 885L426.3 886L428.3 885L430.2 884.1L432.2 885.6L434.2 884.2L436.2 883.4L438.2 882.7L440.1 883.5L442.1 885.1L444.1 883.5L446.1 881L448.1 882.3L450.1 886L452 885.8L454 885.9L456 886.9L458 886.6L460 887.3L461.9 885.3L463.9 884.9L465.9 885.6L467.9 886L469.9 885L471.8 886.1L473.8 887.2L475.8 886.8L477.8 885L479.8 886.4L481.8 886.4L483.7 887.1L485.7 887.7L487.7 886.5L489.7 886.6L491.7 886.5L493.6 886.4L495.6 887.4L497.6 887.6L499.6 886L501.6 886.8L503.5 885.4L505.5 885.5L507.5 885.7L509.5 886.5L511.5 886.6L513.5 886.3L515.4 886.9L517.4 885.9L519.4 889L519.4 892.3L517.4 891.9L515.4 890.8L513.5 891.5L511.5 891.5L509.5 891.2L507.5 891.5L505.5 890.5L503.5 890.6L501.6 891.7L499.6 890.1L497.6 891L495.6 890.4L493.6 890.3L491.7 890.8L489.7 890.2L487.7 892.1L485.7 891.8L483.7 890.2L481.8 889.7L479.8 892.4L477.8 890.3L475.8 890.2L473.8 890.4L471.8 890.7L469.9 891.4L467.9 889.8L465.9 891.8L463.9 889L461.9 890.9L460 892.3L458 891.4L456 891.8L454 891.2L452 892.1L450.1 891.9L448.1 888.3L446.1 885.1L444.1 887.4L442.1 888.4L440.1 890.1L438.2 888.5L436.2 886.7L434.2 890.3L432.2 889.6L430.2 888.4L428.3 889.8L426.3 891.2L424.3 891.5L422.3 890.5L420.3 890.6L418.4 892.2L416.4 893.6L414.4 893L412.4 891.1L410.4 891.7L408.4 891.5L406.5 891.2L404.5 891.2L402.5 889.8L400.5 889.5L398.5 890.8L396.6 892.2L394.6 891.1L392.6 891L390.6 889.9L388.6 889.2L386.7 891L384.7 893.2L382.7 891.8L380.7 891.5L378.7 892.6L376.7 891.7L374.8 891.2L372.8 893.4L370.8 890.5L368.8 890L366.8 887.9L364.9 887.9L362.9 886.8L360.9 888.1L358.9 888.6L356.9 889.3L354.9 889.7L353 890.4L351 888.5L349 888.1L347 889.1L345 891.1L343.1 888L341.1 889.4L339.1 887.7L337.1 888L335.1 892L333.2 891.1L331.2 891.3L329.2 890.9L327.2 889.1L325.2 889.2L323.2 890.2L321.3 891.3L319.3 889.8L317.3 889.4L315.3 890L313.3 891.7L311.4 890.8L309.4 890L307.4 888.7L305.4 887.5L303.4 889.4L301.5 890.2L299.5 889.7L297.5 890.1L295.5 889.5L293.5 889.1L291.5 889.8L289.6 889L287.6 890.1L285.6 890.3L283.6 889.7L281.6 891.8L279.7 892.6L277.7 892.2L275.7 890.3L273.7 889.9L271.7 891.3L269.8 889.1L267.8 891.7L265.8 890.5L263.8 892L261.8 891.7L259.8 892L257.9 888.6L255.9 885L253.9 883.8L251.9 893.7L249.9 892.2L248 892.9L246 893.5L244 890.7L242 889.5L240 891.6L238.1 891.5L236.1 892.7L234.1 891.3L232.1 891L230.1 887L228.1 882.8L226.2 880.3L224.2 887.9L222.2 891.1Z" fill="#fbc9c9" opacity="0.8"/>
<path d="M222.2 887.9L224.2 884.5L226.2 877.6L228.1 878.8L230.1 883.4L232.1 887.3L234.1 888.2L236.1 888.9L238.1 887.9L240 888.3L242 887.3L244 887.7L246 889.4L248 889.7L249.9 889.4L251.9 890.3L253.9 881.5L255.9 882.3L257.9 884.9L259.8 889L261.8 888.9L263.8 888L265.8 887.4L267.8 888.8L269.8 887L271.7 888.1L273.7 886.9L275.7 887.8L277.7 888.3L279.7 889.3L281.6 888.7L283.6 886L285.6 887.5L287.6 886.2L289.6 885.7L291.5 887.1L293.5 886.3L295.5 885.6L297.5 886.9L299.5 887.8L301.5 886.6L303.4 886.7L305.4 885L307.4 885.8L309.4 887.7L311.4 887.6L313.3 888.6L315.3 887.2L317.3 886.5L319.3 887.3L321.3 888.1L323.2 886.7L325.2 887.3L327.2 886L329.2 887.5L331.2 887.5L333.2 887.7L335.1 888.3L337.1 885L339.1 884.3L341.1 886.1L343.1 885.7L345 888L347 886.1L349 885.3L351 886.3L353 886.8L354.9 886.4L356.9 886L358.9 886.3L360.9 886L362.9 884.7L364.9 885.4L366.8 885.5L368.8 886.8L370.8 888L372.8 889.8L374.8 889.4L376.7 889.2L378.7 889.2L380.7 888.8L382.7 888.8L384.7 890L386.7 888.1L388.6 887.2L390.6 888.1L392.6 887.5L394.6 888.7L396.6 889.6L398.5 889L400.5 886.9L402.5 887.5L404.5 889.2L406.5 888.3L408.4 888.6L410.4 888.9L412.4 888L414.4 889.6L416.4 890.4L418.4 890.5L420.3 888L422.3 887.7L424.3 888.2L426.3 888.6L428.3 887.4L430.2 886.2L432.2 887.6L434.2 887.3L436.2 885L438.2 885.6L440.1 886.8L442.1 886.7L444.1 885.5L446.1 883L448.1 885.3L450.1 888.9L452 889L454 888.5L456 889.3L458 889L460 889.8L461.9 888.1L463.9 886.9L465.9 888.7L467.9 887.9L469.9 888.2L471.8 888.4L473.8 888.8L475.8 888.5L477.8 887.7L479.8 889.4L481.8 888.1L483.7 888.7L485.7 889.8L487.7 889.3L489.7 888.4L491.7 888.6L493.6 888.4L495.6 888.9L497.6 889.3L499.6 888L501.6 889.3L503.5 888L505.5 888L507.5 888.6L509.5 888.8L511.5 889L513.5 888.9L515.4 888.8L517.4 888.9L519.4 890.6" stroke="#ed1c24" stroke-width="3.3" fill="none" stroke-linejoin="round"/>
<path d="M238.8 712.6L272.4 712.6" stroke="#1a7d1a" stroke-width="3"/>
<text x="281" y="721.8" font-size="29.7">Reward</text>
<path d="M238.8 744.8L272.4 744.8" stroke="#0b24e0" stroke-width="3"/>
<text x="281" y="754" font-size="29.7">Neutral</text>
<path d="M238.8 776.6L272.4 776.6" stroke="#ed1c24" stroke-width="3"/>
<text x="281" y="786" font-size="29.7">Punish.</text>
<path d="M650.6 702.9V909.5M650.6 704.4h-8M650.6 743.3h-8M650.6 782.4h-8M650.6 821.6h-8M650.6 861.4h-8M650.6 900.9h-8" stroke="#1f1f1f" stroke-width="1.8" fill="none"/>
<path d="M650.6 909.5H928M650.6 909.5v9M787.7 909.5v9M811.6 909.5v9M857.5 909.5v9M928 909.5v9" stroke="#1f1f1f" stroke-width="1.8" fill="none"/>
<text x="640.5" y="712.3" text-anchor="end" fill="#1c1c1c" font-size="24.3">10</text>
<text x="640.5" y="751.2" text-anchor="end" fill="#1c1c1c" font-size="24.3">8</text>
<text x="640.5" y="790.3" text-anchor="end" fill="#1c1c1c" font-size="24.3">6</text>
<text x="640.5" y="829.5" text-anchor="end" fill="#1c1c1c" font-size="24.3">4</text>
<text x="640.5" y="869.3" text-anchor="end" fill="#1c1c1c" font-size="24.3">2</text>
<text x="640.5" y="908.8" text-anchor="end" fill="#1c1c1c" font-size="24.3">0</text>
<text x="648.5" y="941.6" text-anchor="middle" fill="#1c1c1c" font-size="25.5">-6</text>
<text x="789.3" y="941.6" text-anchor="middle" fill="#1c1c1c" font-size="25.5">0</text>
<text x="812.8" y="941.6" text-anchor="middle" fill="#1c1c1c" font-size="25.5">1</text>
<text x="859.7" y="941.6" text-anchor="middle" fill="#1c1c1c" font-size="25.5">3</text>
<text x="926.4" y="941.6" text-anchor="middle" fill="#1c1c1c" font-size="25.5">6</text>
<text x="707.5" y="980" font-size="33.4">Time - CS (s)</text>
<text text-anchor="middle" transform="translate(599.8 813) rotate(-90)" font-size="33">Velocity (cm/s)</text>
<path d="M650.6 889.6L652.4 889.7L654.3 888.1L656.1 888.1L658 888.4L659.8 889L661.7 889.7L663.5 888.8L665.4 887.4L667.2 888.3L669.1 886.8L670.9 887.6L672.8 888.8L674.6 888L676.5 887.7L678.3 887.7L680.2 889.2L682 889.7L683.9 887.6L685.7 888.7L687.6 889.4L689.4 888.2L691.3 887L693.1 888L695 888.2L696.8 888.7L698.7 889.8L700.5 889.1L702.4 889.5L704.2 889.8L706.1 888.5L707.9 887.4L709.8 887.8L711.6 886.6L713.5 887.9L715.3 887.5L717.2 888.2L719 888.1L720.9 888.6L722.7 887.4L724.6 887.9L726.4 887.4L728.3 887.1L730.1 885.5L732 886L733.8 885.7L735.7 886.2L737.5 886.1L739.4 885.5L741.2 885.5L743.1 884.1L744.9 883.6L746.8 883L748.6 884.8L750.5 885.8L752.3 885.2L754.2 884.4L756 883.3L757.9 884.6L759.7 885.4L761.6 885L763.4 885.1L765.3 885L767.1 884L769 884.1L770.8 883L772.7 884L774.5 882.6L776.4 883.1L778.2 883.1L780.1 883.6L781.9 883.7L783.8 882.9L785.6 883.3L787.5 882.3L789.3 883.5L791.1 881.6L793 881.7L794.8 881.7L796.7 880L798.5 879.6L800.4 879.7L802.2 880.7L804.1 879.8L805.9 880.1L807.8 880.2L809.6 879L811.5 880.7L813.3 881L815.2 880.4L817 881.3L818.9 882.6L820.7 881.7L822.6 881L824.4 880.2L826.3 881.3L828.1 883.8L830 883.3L831.8 882.6L833.7 882.2L835.5 882.3L837.4 881.9L839.2 882L841.1 883.5L842.9 881.9L844.8 884.4L846.6 883.4L848.5 882.2L850.3 883.5L852.2 882.3L854 882.4L855.9 880.4L857.7 881.1L859.6 880.1L861.4 879.3L863.3 880L865.1 879.4L867 879.8L868.8 878.3L870.7 877.1L872.5 877.5L874.4 877.2L876.2 877.2L878.1 877.4L879.9 876.7L881.8 877.2L883.6 877.9L885.5 877.3L887.3 878.7L889.2 879.6L891 880.8L892.9 882.4L894.7 881.9L896.6 882.2L898.4 881.6L900.3 881.9L902.1 883L904 884.2L905.8 882.6L907.7 884.6L909.5 884.8L911.4 884.1L913.2 884.9L915.1 882.6L916.9 883.6L918.8 884.3L920.6 883.7L922.5 885.3L924.3 885L926.2 884.8L928 884.8L928 889.7L926.2 888.1L924.3 888.5L922.5 889.5L920.6 889.2L918.8 887.4L916.9 887.9L915.1 888.7L913.2 888.5L911.4 889.5L909.5 887.8L907.7 888.7L905.8 888.7L904 887.7L902.1 887.5L900.3 887.7L898.4 887.6L896.6 886.1L894.7 886.4L892.9 885.8L891 884.7L889.2 883.5L887.3 882.4L885.5 881.9L883.6 881L881.8 880.3L879.9 881.4L878.1 881L876.2 882.8L874.4 881.3L872.5 881.9L870.7 882.2L868.8 883.7L867 883.4L865.1 884.3L863.3 883.8L861.4 883.4L859.6 883.7L857.7 885.9L855.9 886.3L854 888.2L852.2 886.6L850.3 886.5L848.5 887.5L846.6 888.3L844.8 887.5L842.9 887.4L841.1 887L839.2 887.8L837.4 885.8L835.5 885.6L833.7 886L831.8 887.7L830 886.9L828.1 886.9L826.3 886.2L824.4 885.8L822.6 886.6L820.7 885.4L818.9 886L817 884.7L815.2 885L813.3 884.9L811.5 884.1L809.6 884.5L807.8 883.6L805.9 883.4L804.1 883.3L802.2 884.1L800.4 883.9L798.5 882.9L796.7 884.2L794.8 884.7L793 885.3L791.1 886.5L789.3 886.6L787.5 886.5L785.6 887.1L783.8 887.6L781.9 886.7L780.1 887.9L778.2 888.3L776.4 886.8L774.5 887.1L772.7 887.2L770.8 887.3L769 887.5L767.1 888.6L765.3 889.1L763.4 889.5L761.6 888.7L759.7 888.6L757.9 888L756 888.7L754.2 889L752.3 888.8L750.5 889.9L748.6 888L746.8 888.4L744.9 888L743.1 887.6L741.2 889.2L739.4 888.8L737.5 890.4L735.7 891.2L733.8 888.7L732 889.9L730.1 890.8L728.3 891.1L726.4 890.4L724.6 891.9L722.7 890.4L720.9 891.7L719 891.2L717.2 891.2L715.3 892.7L713.5 890.9L711.6 892L709.8 893.1L707.9 892.5L706.1 892.7L704.2 894L702.4 893.8L700.5 893.6L698.7 893.6L696.8 894.1L695 892.9L693.1 891.6L691.3 892.1L689.4 893.1L687.6 892.1L685.7 892.4L683.9 892.9L682 893.5L680.2 892.8L678.3 890.9L676.5 892.1L674.6 892.5L672.8 891.7L670.9 892.1L669.1 890.8L667.2 892.7L665.4 892.7L663.5 892.3L661.7 892.9L659.8 891.6L658 892.8L656.1 892.9L654.3 892.7L652.4 893.1L650.6 893.5Z" fill="#c6f2c6" opacity="0.8"/>
<path d="M650.6 891.5L652.4 891.4L654.3 890.4L656.1 890.5L658 890.6L659.8 890.3L661.7 891.3L663.5 890.6L665.4 890L667.2 890.5L669.1 888.8L670.9 889.8L672.8 890.3L674.6 890.3L676.5 889.9L678.3 889.3L680.2 891L682 891.6L683.9 890.2L685.7 890.5L687.6 890.7L689.4 890.7L691.3 889.5L693.1 889.8L695 890.6L696.8 891.4L698.7 891.7L700.5 891.4L702.4 891.6L704.2 891.9L706.1 890.6L707.9 890L709.8 890.5L711.6 889.3L713.5 889.4L715.3 890.1L717.2 889.7L719 889.7L720.9 890.2L722.7 888.9L724.6 889.9L726.4 888.9L728.3 889.1L730.1 888.1L732 887.9L733.8 887.2L735.7 888.7L737.5 888.3L739.4 887.1L741.2 887.4L743.1 885.9L744.9 885.8L746.8 885.7L748.6 886.4L750.5 887.8L752.3 887L754.2 886.7L756 886L757.9 886.3L759.7 887L761.6 886.8L763.4 887.3L765.3 887.1L767.1 886.3L769 885.8L770.8 885.1L772.7 885.6L774.5 884.8L776.4 884.9L778.2 885.7L780.1 885.7L781.9 885.2L783.8 885.2L785.6 885.2L787.5 884.4L789.3 885.1L791.1 884L793 883.5L794.8 883.2L796.7 882.1L798.5 881.2L800.4 881.8L802.2 882.4L804.1 881.6L805.9 881.7L807.8 881.9L809.6 881.8L811.5 882.4L813.3 883L815.2 882.7L817 883L818.9 884.3L820.7 883.6L822.6 883.8L824.4 883L826.3 883.7L828.1 885.4L830 885.1L831.8 885.2L833.7 884.1L835.5 883.9L837.4 883.8L839.2 884.9L841.1 885.2L842.9 884.6L844.8 885.9L846.6 885.8L848.5 884.9L850.3 885L852.2 884.4L854 885.3L855.9 883.3L857.7 883.5L859.6 881.9L861.4 881.4L863.3 881.9L865.1 881.8L867 881.6L868.8 881L870.7 879.7L872.5 879.7L874.4 879.2L876.2 880L878.1 879.2L879.9 879.1L881.8 878.7L883.6 879.4L885.5 879.6L887.3 880.5L889.2 881.5L891 882.8L892.9 884.1L894.7 884.1L896.6 884.2L898.4 884.6L900.3 884.8L902.1 885.2L904 886L905.8 885.6L907.7 886.6L909.5 886.3L911.4 886.8L913.2 886.7L915.1 885.7L916.9 885.8L918.8 885.8L920.6 886.5L922.5 887.4L924.3 886.8L926.2 886.5L928 887.2" stroke="#1a7d1a" stroke-width="3.2" fill="none" stroke-linejoin="round"/>
<path d="M650.6 885.6L652.4 883.9L654.3 887.6L656.1 885.8L658 885.3L659.8 883.1L661.7 885.5L663.5 883.5L665.4 885.5L667.2 885L669.1 883.8L670.9 885L672.8 885L674.6 886L676.5 887.5L678.3 886.3L680.2 886.2L682 886.9L683.9 885.8L685.7 885.3L687.6 884.6L689.4 883.5L691.3 885.4L693.1 883L695 883.6L696.8 886.5L698.7 884L700.5 885.8L702.4 884.5L704.2 886.8L706.1 886.8L707.9 886.7L709.8 885.7L711.6 885.2L713.5 885.2L715.3 883.6L717.2 881.1L719 882.6L720.9 883.3L722.7 882.3L724.6 879.5L726.4 882.2L728.3 882.9L730.1 880.5L732 882.8L733.8 879.8L735.7 883.8L737.5 881.2L739.4 882.6L741.2 880.7L743.1 880.3L744.9 880.8L746.8 878.6L748.6 880L750.5 879.6L752.3 879.3L754.2 883.2L756 883.3L757.9 881.9L759.7 881.9L761.6 879.3L763.4 880.7L765.3 878.8L767.1 880.1L769 879.8L770.8 881.1L772.7 878.4L774.5 879.7L776.4 878.6L778.2 881.1L780.1 880.4L781.9 881.8L783.8 881.8L785.6 882L787.5 881.7L789.3 878.8L791.1 876.5L793 879.2L794.8 877.5L796.7 880.2L798.5 879.5L800.4 877.9L802.2 878.4L804.1 879.9L805.9 878.3L807.8 876.4L809.6 878.7L811.5 876.9L813.3 876.3L815.2 877L817 876.5L818.9 878L820.7 875.1L822.6 875.4L824.4 876.7L826.3 879.3L828.1 880.3L830 877.7L831.8 878.5L833.7 880.9L835.5 879.4L837.4 878.5L839.2 880.9L841.1 880.1L842.9 879.5L844.8 880.1L846.6 877.3L848.5 878.9L850.3 877.1L852.2 877.7L854 877.7L855.9 877.5L857.7 878.5L859.6 880.7L861.4 878L863.3 878.5L865.1 879.8L867 879.5L868.8 879.1L870.7 880.6L872.5 882.3L874.4 882.6L876.2 883.9L878.1 883.1L879.9 883.5L881.8 881.1L883.6 882.1L885.5 880L887.3 882.3L889.2 884.7L891 882.1L892.9 884.5L894.7 884.3L896.6 881.6L898.4 881.8L900.3 881.2L902.1 882L904 883.5L905.8 883.6L907.7 884.3L909.5 884.2L911.4 884.6L913.2 884.8L915.1 881.5L916.9 882.2L918.8 884.8L920.6 881.9L922.5 883L924.3 883.4L926.2 883.7L928 883.6L928 890L926.2 890.9L924.3 890.2L922.5 891.2L920.6 892.6L918.8 892.9L916.9 892.8L915.1 892.5L913.2 892.1L911.4 893.4L909.5 892.2L907.7 891.2L905.8 893.2L904 891.8L902.1 892.9L900.3 893.1L898.4 892L896.6 891.7L894.7 890.9L892.9 892.9L891 894.3L889.2 892L887.3 890.2L885.5 890.7L883.6 889.1L881.8 891.7L879.9 889.8L878.1 889.6L876.2 890.4L874.4 890.2L872.5 891.1L870.7 890.8L868.8 890.9L867 891.7L865.1 889.5L863.3 889.1L861.4 890.5L859.6 888.3L857.7 888.6L855.9 889.4L854 889.4L852.2 888.5L850.3 888L848.5 886.5L846.6 888.9L844.8 887.7L842.9 888.7L841.1 888.1L839.2 888.8L837.4 890.9L835.5 891.2L833.7 891.4L831.8 889.8L830 891.6L828.1 888.5L826.3 891L824.4 889.9L822.6 888.4L820.7 889.4L818.9 887.5L817 889L815.2 889.7L813.3 889.3L811.5 887L809.6 887.6L807.8 890.9L805.9 891L804.1 887.7L802.2 887.7L800.4 888.9L798.5 889.9L796.7 887.8L794.8 890.4L793 888.1L791.1 892.3L789.3 894.2L787.5 891.5L785.6 890.8L783.8 893.2L781.9 891.2L780.1 894.5L778.2 891.3L776.4 893.4L774.5 893.2L772.7 892.5L770.8 890.9L769 892.9L767.1 894.5L765.3 894.6L763.4 889.5L761.6 893.7L759.7 892.8L757.9 892.9L756 892.1L754.2 891.4L752.3 893.7L750.5 894.1L748.6 892.9L746.8 892.9L744.9 893.1L743.1 891.7L741.2 896.4L739.4 893.1L737.5 892.5L735.7 891.5L733.8 894.7L732 891.8L730.1 896L728.3 893.4L726.4 893.9L724.6 895.2L722.7 891.2L720.9 892.7L719 895.4L717.2 896.9L715.3 897.7L713.5 895.9L711.6 899.3L709.8 894.1L707.9 894.9L706.1 895.8L704.2 895.2L702.4 895.8L700.5 897.6L698.7 898.9L696.8 894.2L695 897.4L693.1 897.4L691.3 898.3L689.4 897.2L687.6 897.1L685.7 896.7L683.9 894.9L682 895L680.2 895.7L678.3 895.6L676.5 899.2L674.6 897.3L672.8 898.6L670.9 897.2L669.1 897.2L667.2 894L665.4 894L663.5 896L661.7 896L659.8 898.2L658 896.2L656.1 895.8L654.3 896L652.4 897.9L650.6 895.9Z" fill="#d0d3fa" opacity="0.8"/>
<path d="M650.6 890.7L652.4 890.9L654.3 891.8L656.1 890.8L658 890.7L659.8 890.6L661.7 890.7L663.5 889.7L665.4 889.7L667.2 889.5L669.1 890.5L670.9 891.1L672.8 891.8L674.6 891.6L676.5 893.3L678.3 891L680.2 890.9L682 890.9L683.9 890.3L685.7 891L687.6 890.8L689.4 890.4L691.3 891.9L693.1 890.2L695 890.5L696.8 890.3L698.7 891.4L700.5 891.7L702.4 890.1L704.2 891L706.1 891.3L707.9 890.8L709.8 889.9L711.6 892.2L713.5 890.6L715.3 890.6L717.2 889L719 889L720.9 888L722.7 886.8L724.6 887.4L726.4 888L728.3 888.2L730.1 888.3L732 887.3L733.8 887.2L735.7 887.6L737.5 886.9L739.4 887.8L741.2 888.5L743.1 886L744.9 887L746.8 885.8L748.6 886.4L750.5 886.8L752.3 886.5L754.2 887.3L756 887.7L757.9 887.4L759.7 887.3L761.6 886.5L763.4 885.1L765.3 886.7L767.1 887.3L769 886.4L770.8 886L772.7 885.4L774.5 886.5L776.4 886L778.2 886.2L780.1 887.4L781.9 886.5L783.8 887.5L785.6 886.4L787.5 886.6L789.3 886.5L791.1 884.4L793 883.7L794.8 884L796.7 884L798.5 884.7L800.4 883.4L802.2 883L804.1 883.8L805.9 884.6L807.8 883.7L809.6 883.1L811.5 882L813.3 882.8L815.2 883.4L817 882.7L818.9 882.8L820.7 882.2L822.6 881.9L824.4 883.3L826.3 885.2L828.1 884.4L830 884.7L831.8 884.2L833.7 886.2L835.5 885.3L837.4 884.7L839.2 884.8L841.1 884.1L842.9 884.1L844.8 883.9L846.6 883.1L848.5 882.7L850.3 882.5L852.2 883.1L854 883.5L855.9 883.4L857.7 883.6L859.6 884.5L861.4 884.2L863.3 883.8L865.1 884.6L867 885.6L868.8 885L870.7 885.7L872.5 886.7L874.4 886.4L876.2 887.2L878.1 886.3L879.9 886.6L881.8 886.4L883.6 885.6L885.5 885.4L887.3 886.2L889.2 888.3L891 888.2L892.9 888.7L894.7 887.6L896.6 886.6L898.4 886.9L900.3 887.2L902.1 887.5L904 887.6L905.8 888.4L907.7 887.7L909.5 888.2L911.4 889L913.2 888.5L915.1 887L916.9 887.5L918.8 888.9L920.6 887.3L922.5 887.1L924.3 886.8L926.2 887.3L928 886.8" stroke="#0b24e0" stroke-width="3.2" fill="none" stroke-linejoin="round"/>
<path d="M650.6 885.4L652.4 885.6L654.3 884.9L656.1 883.2L658 887.9L659.8 885.8L661.7 884.6L663.5 884.7L665.4 887.5L667.2 885L669.1 885.7L670.9 884.8L672.8 887.1L674.6 885.3L676.5 885.7L678.3 884.9L680.2 883.2L682 883.8L683.9 883.6L685.7 885.8L687.6 886.1L689.4 887L691.3 885.9L693.1 886.8L695 886.2L696.8 888.5L698.7 886.4L700.5 886.7L702.4 889.4L704.2 887.3L706.1 888.8L707.9 888.2L709.8 888.4L711.6 886.8L713.5 886.9L715.3 885.6L717.2 889.7L719 891.8L720.9 891.9L722.7 891.4L724.6 891.9L726.4 891.8L728.3 889.8L730.1 887.2L732 889.6L733.8 888.1L735.7 886.9L737.5 887.7L739.4 889.3L741.2 888.3L743.1 881L744.9 879.3L746.8 879.9L748.6 878.5L750.5 877.7L752.3 879.8L754.2 879L756 876.4L757.9 878.5L759.7 878L761.6 878.4L763.4 879.8L765.3 879.5L767.1 881.7L769 885.3L770.8 881.5L772.7 879.3L774.5 880.2L776.4 880.8L778.2 879.9L780.1 880.8L781.9 878.9L783.8 880.6L785.6 880.1L787.5 878.4L789.3 879L791.1 880.6L793 881.3L794.8 883.1L796.7 880.1L798.5 881.9L800.4 880L802.2 880L804.1 877.4L805.9 879.2L807.8 876.9L809.6 875.4L811.5 875.5L813.3 871.4L815.2 873.4L817 871.9L818.9 874.5L820.7 871.6L822.6 871L824.4 873.6L826.3 871.5L828.1 871.6L830 874.1L831.8 871.4L833.7 870.8L835.5 872.3L837.4 870.5L839.2 871L841.1 871L842.9 869.8L844.8 872.6L846.6 871.1L848.5 869.8L850.3 869.1L852.2 867.9L854 869.5L855.9 864.4L857.7 860.7L859.6 858.5L861.4 851.7L863.3 850.9L865.1 841.8L867 839.4L868.8 832.3L870.7 824.9L872.5 817.3L874.4 803L876.2 789.7L878.1 781.4L879.9 780.5L881.8 773L883.6 770.1L885.5 773.2L887.3 768L889.2 766.4L891 770.2L892.9 774.1L894.7 770.7L896.6 776.6L898.4 786.7L900.3 797.2L902.1 801.8L904 812.5L905.8 818.8L907.7 819.1L909.5 822.3L911.4 831.2L913.2 835.2L915.1 837L916.9 837.1L918.8 843L920.6 844L922.5 843.2L924.3 848.2L926.2 850.5L928 850.5L928 863.7L926.2 857.4L924.3 856.7L922.5 857.8L920.6 852.1L918.8 851.4L916.9 853L915.1 846.6L913.2 845.6L911.4 840.8L909.5 840.9L907.7 835.9L905.8 833.8L904 830.5L902.1 824.5L900.3 812.9L898.4 804.5L896.6 801.7L894.7 801.3L892.9 792.2L891 788.5L889.2 797L887.3 793.9L885.5 790.6L883.6 796.2L881.8 800.9L879.9 803.5L878.1 810.1L876.2 815.5L874.4 827.5L872.5 837.6L870.7 840L868.8 848.7L867 855.9L865.1 861.8L863.3 862.7L861.4 868.7L859.6 869.9L857.7 873.7L855.9 880L854 880.7L852.2 881.3L850.3 878.7L848.5 881.9L846.6 880.3L844.8 880.5L842.9 883.3L841.1 883L839.2 882.1L837.4 885.1L835.5 883.1L833.7 882.1L831.8 885.7L830 886.7L828.1 885.1L826.3 884.2L824.4 883L822.6 885.1L820.7 886L818.9 883L817 886.3L815.2 884.1L813.3 884.2L811.5 886.6L809.6 888.4L807.8 891.5L805.9 890.2L804.1 889.1L802.2 887.7L800.4 893.8L798.5 892L796.7 894.2L794.8 891.1L793 893.7L791.1 893.5L789.3 892.7L787.5 891.3L785.6 891.5L783.8 889.8L781.9 890.7L780.1 891L778.2 893.2L776.4 893.7L774.5 893.2L772.7 892.4L770.8 893.4L769 893.3L767.1 894.7L765.3 892.7L763.4 888.5L761.6 886.8L759.7 890.2L757.9 888.8L756 889.5L754.2 888.3L752.3 887.6L750.5 889.5L748.6 888.5L746.8 887.7L744.9 889.4L743.1 890.6L741.2 895.9L739.4 900.9L737.5 899.4L735.7 900.8L733.8 898.8L732 902.7L730.1 900.9L728.3 900.6L726.4 899.2L724.6 900L722.7 901.3L720.9 901.3L719 899.4L717.2 898L715.3 899.5L713.5 899.2L711.6 899.1L709.8 901.7L707.9 900L706.1 900.2L704.2 900.6L702.4 898.1L700.5 900.8L698.7 901L696.8 898.6L695 899.5L693.1 898.8L691.3 899.1L689.4 898.3L687.6 898L685.7 899.6L683.9 897.1L682 897.4L680.2 896.3L678.3 897.4L676.5 896L674.6 896.9L672.8 895.5L670.9 898.1L669.1 894.8L667.2 899.7L665.4 894.8L663.5 898.3L661.7 899.1L659.8 899.4L658 897.4L656.1 897.2L654.3 899L652.4 895.9L650.6 895.7Z" fill="#fbc9c9" opacity="0.8"/>
<path d="M650.6 890.5L652.4 890.8L654.3 891.9L656.1 890.2L658 892.7L659.8 892.6L661.7 891.9L663.5 891.5L665.4 891.2L667.2 892.4L669.1 890.3L670.9 891.4L672.8 891.3L674.6 891.1L676.5 890.9L678.3 891.1L680.2 889.8L682 890.6L683.9 890.4L685.7 892.7L687.6 892.1L689.4 892.6L691.3 892.5L693.1 892.8L695 892.9L696.8 893.6L698.7 893.7L700.5 893.8L702.4 893.7L704.2 893.9L706.1 894.5L707.9 894.1L709.8 895.1L711.6 893L713.5 893.1L715.3 892.6L717.2 893.8L719 895.6L720.9 896.6L722.7 896.3L724.6 896L726.4 895.5L728.3 895.2L730.1 894.1L732 896.1L733.8 893.4L735.7 893.9L737.5 893.6L739.4 895.1L741.2 892.1L743.1 885.8L744.9 884.4L746.8 883.8L748.6 883.5L750.5 883.6L752.3 883.7L754.2 883.7L756 882.9L757.9 883.6L759.7 884.1L761.6 882.6L763.4 884.2L765.3 886.1L767.1 888.2L769 889.3L770.8 887.5L772.7 885.8L774.5 886.7L776.4 887.2L778.2 886.6L780.1 885.9L781.9 884.8L783.8 885.2L785.6 885.8L787.5 884.9L789.3 885.8L791.1 887.1L793 887.5L794.8 887.1L796.7 887.2L798.5 886.9L800.4 886.9L802.2 883.8L804.1 883.3L805.9 884.7L807.8 884.2L809.6 881.9L811.5 881L813.3 877.8L815.2 878.8L817 879.1L818.9 878.7L820.7 878.8L822.6 878L824.4 878.3L826.3 877.9L828.1 878.4L830 880.4L831.8 878.6L833.7 876.5L835.5 877.7L837.4 877.8L839.2 876.6L841.1 877L842.9 876.6L844.8 876.6L846.6 875.7L848.5 875.8L850.3 873.9L852.2 874.6L854 875.1L855.9 872.2L857.7 867.2L859.6 864.2L861.4 860.2L863.3 856.8L865.1 851.8L867 847.6L868.8 840.5L870.7 832.4L872.5 827.5L874.4 815.3L876.2 802.6L878.1 795.7L879.9 792L881.8 786.9L883.6 783.1L885.5 781.9L887.3 780.9L889.2 781.7L891 779.4L892.9 783.1L894.7 786L896.6 789.1L898.4 795.6L900.3 805L902.1 813.2L904 821.5L905.8 826.3L907.7 827.5L909.5 831.6L911.4 836L913.2 840.4L915.1 841.8L916.9 845.1L918.8 847.2L920.6 848.1L922.5 850.5L924.3 852.4L926.2 853.9L928 857.1" stroke="#ed1c24" stroke-width="3.2" fill="none" stroke-linejoin="round"/>
<text transform="translate(1034.5 40.7) scale(1.06 1)" font-size="75">c</text>
<text x="1440" y="37.3" font-size="33">Late training</text>
<path d="M1229 50L1859 50" stroke="#999" stroke-width="2.6"/>
<rect x="1360" y="109.5" width="46.8" height="493.8" fill="#e2e2e2"/>
<path d="M1184.6 86.6H1333V71H1361.5V86.6H1482.4" stroke="#5c5c5c" stroke-width="1.5" fill="none" stroke-linejoin="round"/>
<text x="1183.8" y="79.6" font-size="33.7">CS</text>
<path d="M1184.6 124.6H1361.5V109H1407V124.6H1482.4" stroke="#5c5c5c" stroke-width="1.5" fill="none" stroke-linejoin="round"/>
<text x="1183.8" y="114.8" font-size="33.7">Decision</text>
<path d="M1184.6 156.7H1407V141.4H1416.3V156.7H1482.4" stroke="#5c5c5c" stroke-width="1.5" fill="none" stroke-linejoin="round"/>
<text x="1183.8" y="154.5" font-size="33.7">US</text>
<path d="M1333.8 88L1333.8 916" stroke="#8c8c8c" stroke-width="1.5" stroke-dasharray="9 7"/>
<path d="M1407.5 158L1407.5 916" stroke="#8c8c8c" stroke-width="1.5" stroke-dasharray="9 7"/>
<rect x="1181.5" y="167.7" width="8.2" height="100.1" fill="#1a7d1a"/>
<rect x="1181.5" y="272.4" width="8.2" height="98.9" fill="#0b24e0"/>
<rect x="1181.5" y="376" width="8.2" height="98" fill="#ed1c24"/>
<text text-anchor="middle" transform="translate(1081.5 318) rotate(-90)" font-size="33">Licking</text>
<path d="M1095 197.4L1095 438.7" stroke="#808080" stroke-width="2.6"/>
<text x="1109" y="222.5" font-size="31.6">CS<tspan font-size="20" dy="12" dx="2.3">R</tspan></text>
<text x="1109" y="329" font-size="31.6">CS<tspan font-size="20" dy="12" dx="2.3">N</tspan></text>
<text x="1109" y="434" font-size="31.6">CS<tspan font-size="20" dy="12" dx="2.3">P</tspan></text>
<path d="M1347.4 168.9v4M1361.9 168.9v4M1366.5 168.9v4M1370.6 168.9v4M1378.7 168.9v4M1382.6 168.9v4M1385.4 168.9v4M1389.1 168.9v4M1393.2 168.9v4M1398 168.9v4M1402.7 168.9v4M1406 168.9v4M1410.1 168.9v4M1412.4 168.9v4M1416.9 168.9v4M1420.3 168.9v4M1425.3 168.9v4M1429.6 168.9v4M1433.3 168.9v4M1437.9 168.9v4M1442.2 168.9v4M1447.2 168.9v4M1450.7 168.9v4M1455.1 168.9v4M1459.3 168.9v4M1463.6 168.9v4M1467.7 168.9v4M1471.6 168.9v4M1476.5 168.9v4M1478.7 168.9v4M1482.8 168.9v4M1372.7 174v4M1377.3 174v4M1381.5 174v4M1385.2 174v4M1389 174v4M1393 174v4M1397.4 174v4M1401.5 174v4M1406.6 174v4M1408.4 174v4M1413.1 174v4M1417.2 174v4M1421.1 174v4M1425.6 174v4M1429.3 174v4M1433.2 174v4M1441.7 174v4M1445.8 174v4M1453.9 174v4M1458.3 174v4M1462.7 174v4M1467.1 174v4M1471.2 174v4M1475.5 174v4M1192.5 179.1v4M1209.7 179.1v4M1254.2 179.1v4M1331.3 179.1v4M1359 179.1v4M1375.2 179.1v4M1399.7 179.1v4M1422.9 179.1v4M1426.3 179.1v4M1431 179.1v4M1433.2 179.1v4M1437 179.1v4M1441.5 179.1v4M1445.8 179.1v4M1450.2 179.1v4M1454.3 179.1v4M1457.8 179.1v4M1462 179.1v4M1466.2 179.1v4M1469.8 179.1v4M1474.8 179.1v4M1477 179.1v4M1480.9 179.1v4M1379.5 184.2v4M1383.3 184.2v4M1387 184.2v4M1392.6 184.2v4M1402 184.2v4M1406.1 184.2v4M1410.4 184.2v4M1415.1 184.2v4M1419.8 184.2v4M1424.4 184.2v4M1428.5 184.2v4M1437.3 184.2v4M1439.5 184.2v4M1443.2 184.2v4M1447.7 184.2v4M1456.1 184.2v4M1459.9 184.2v4M1464.6 184.2v4M1468.6 184.2v4M1472.8 184.2v4M1477.1 184.2v4M1481.1 184.2v4M1190 189.3v4M1215.8 189.3v4M1378.6 189.3v4M1383.3 189.3v4M1386.1 189.3v4M1398.3 189.3v4M1418.8 189.3v4M1431.3 189.3v4M1435.6 189.3v4M1439.6 189.3v4M1444 189.3v4M1448.6 189.3v4M1453 189.3v4M1457.7 189.3v4M1462.1 189.3v4M1466.8 189.3v4M1471.6 189.3v4M1475.7 189.3v4M1479.8 189.3v4M1360.3 194.3v4M1378.6 194.3v4M1403.9 194.3v4M1413.5 194.3v4M1415.3 194.3v4M1419.7 194.3v4M1423.3 194.3v4M1431.9 194.3v4M1435.5 194.3v4M1444.1 194.3v4M1448.2 194.3v4M1451.7 194.3v4M1454.3 194.3v4M1458.3 194.3v4M1462.9 194.3v4M1467.1 194.3v4M1471 194.3v4M1475.2 194.3v4M1479.8 194.3v4M1192.5 199.4v4M1196.6 199.4v4M1200.9 199.4v4M1205.2 199.4v4M1209.3 199.4v4M1226.1 199.4v4M1229.9 199.4v4M1298.2 199.4v4M1370.7 199.4v4M1391.7 199.4v4M1412.3 199.4v4M1424.1 199.4v4M1426.6 199.4v4M1430.9 199.4v4M1435.5 199.4v4M1439.2 199.4v4M1443.9 199.4v4M1447.7 199.4v4M1455.6 199.4v4M1459.7 199.4v4M1463.4 199.4v4M1472 199.4v4M1476.4 199.4v4M1480.3 199.4v4M1366.4 204.5v4M1368.7 204.5v4M1371.1 204.5v4M1375.8 204.5v4M1380.5 204.5v4M1398.6 204.5v4M1416.9 204.5v4M1421 204.5v4M1425.2 204.5v4M1430 204.5v4M1433.7 204.5v4M1437.6 204.5v4M1442.1 204.5v4M1450 204.5v4M1454.1 204.5v4M1458.7 204.5v4M1461.3 204.5v4M1464.8 204.5v4M1469.2 204.5v4M1473.5 204.5v4M1477.4 204.5v4M1481 204.5v4M1190.6 209.6v4M1310.3 209.6v4M1344.9 209.6v4M1358 209.6v4M1363.6 209.6v4M1368.3 209.6v4M1379.5 209.6v4M1384.2 209.6v4M1396.4 209.6v4M1401.1 209.6v4M1417 209.6v4M1420.8 209.6v4M1424.7 209.6v4M1427.1 209.6v4M1431.4 209.6v4M1434.7 209.6v4M1443.4 209.6v4M1448.2 209.6v4M1451.6 209.6v4M1456.1 209.6v4M1459.8 209.6v4M1462.2 209.6v4M1466 209.6v4M1470.5 209.6v4M1479 209.6v4M1483.2 209.6v4M1249.5 214.7v4M1265.4 214.7v4M1285.1 214.7v4M1298.2 214.7v4M1302.8 214.7v4M1339.9 214.7v4M1361.8 214.7v4M1387 214.7v4M1414.1 214.7v4M1418.6 214.7v4M1422.4 214.7v4M1426.9 214.7v4M1431.3 214.7v4M1439 214.7v4M1443.4 214.7v4M1447.2 214.7v4M1449.6 214.7v4M1453.2 214.7v4M1458 214.7v4M1460.2 214.7v4M1464 214.7v4M1468.2 214.7v4M1472 214.7v4M1474.5 214.7v4M1478.3 214.7v4M1208 219.8v4M1361.2 219.8v4M1371.1 219.8v4M1378.2 219.8v4M1386.1 219.8v4M1388.9 219.8v4M1396.4 219.8v4M1401.1 219.8v4M1403.9 219.8v4M1407.6 219.8v4M1414.4 219.8v4M1418.5 219.8v4M1422.4 219.8v4M1426 219.8v4M1430.6 219.8v4M1435.1 219.8v4M1438.7 219.8v4M1443.1 219.8v4M1446.9 219.8v4M1450.4 219.8v4M1454.5 219.8v4M1459 219.8v4M1463.5 219.8v4M1465.2 219.8v4M1469.7 219.8v4M1473.7 219.8v4M1478.2 219.8v4M1197.1 224.9v4M1309 224.9v4M1366.4 224.9v4M1379.5 224.9v4M1395.4 224.9v4M1399.2 224.9v4M1403.9 224.9v4M1210.3 224.9v4M1214.2 224.9v4M1218.6 224.9v4M1222.4 224.9v4M1226.7 224.9v4M1229.1 224.9v4M1233.7 224.9v4M1237.9 224.9v4M1242.1 224.9v4M1250.1 224.9v4M1258.5 224.9v4M1262.8 224.9v4M1271 224.9v4M1275.3 224.9v4M1417.2 224.9v4M1421.2 224.9v4M1425 224.9v4M1429.2 224.9v4M1433.3 224.9v4M1436.9 224.9v4M1441.3 224.9v4M1443.3 224.9v4M1445.8 224.9v4M1449.8 224.9v4M1458 224.9v4M1461.9 224.9v4M1466.9 224.9v4M1470.6 224.9v4M1475.1 224.9v4M1479.4 224.9v4M1481.6 224.9v4M1189.6 230v4M1205.5 230v4M1237 230v4M1263 230v4M1360.8 230v4M1373 230v4M1376.7 230v4M1380.5 230v4M1413.4 230v4M1417 230v4M1421.5 230v4M1426.2 230v4M1429.6 230v4M1434.3 230v4M1438.4 230v4M1442.4 230v4M1447.1 230v4M1450.5 230v4M1454.4 230v4M1459 230v4M1461.8 230v4M1463.9 230v4M1467.7 230v4M1470.1 230v4M1474.1 230v4M1476.2 230v4M1480.9 230v4M1373.8 235.1v4M1378.9 235.1v4M1383 235.1v4M1387.5 235.1v4M1392.3 235.1v4M1396 235.1v4M1400.4 235.1v4M1404.8 235.1v4M1423.6 235.1v4M1425.7 235.1v4M1429.8 235.1v4M1434.2 235.1v4M1439 235.1v4M1442.8 235.1v4M1447.1 235.1v4M1451.3 235.1v4M1455.6 235.1v4M1459.8 235.1v4M1463.6 235.1v4M1465.9 235.1v4M1470.4 235.1v4M1475.5 235.1v4M1479.2 235.1v4M1208.4 240.2v4M1255.1 240.2v4M1271 240.2v4M1331.8 240.2v4M1336.5 240.2v4M1340.6 240.2v4M1360.8 240.2v4M1376.7 240.2v4M1395.1 240.2v4M1411 240.2v4M1415.2 240.2v4M1419 240.2v4M1423.2 240.2v4M1431.4 240.2v4M1435.6 240.2v4M1440.3 240.2v4M1441.9 240.2v4M1444.1 240.2v4M1449.1 240.2v4M1451.1 240.2v4M1454.8 240.2v4M1459 240.2v4M1463.3 240.2v4M1467.2 240.2v4M1475.8 240.2v4M1480.2 240.2v4M1484.6 240.2v4M1228.6 245.2v4M1246.7 245.2v4M1263.5 245.2v4M1293.5 245.2v4M1326.2 245.2v4M1391.7 245.2v4M1431.9 245.2v4M1443.8 245.2v4M1448.5 245.2v4M1452.8 245.2v4M1457.4 245.2v4M1462 245.2v4M1466.7 245.2v4M1471.2 245.2v4M1475.7 245.2v4M1479.9 245.2v4M1484 245.2v4M1359.3 250.3v4M1370.4 250.3v4M1374.5 250.3v4M1378.3 250.3v4M1386.5 250.3v4M1391.5 250.3v4M1395.6 250.3v4M1399.6 250.3v4M1402.1 250.3v4M1406.1 250.3v4M1410.3 250.3v4M1413.8 250.3v4M1418.4 250.3v4M1426.3 250.3v4M1430.9 250.3v4M1435.2 250.3v4M1437.1 250.3v4M1441.5 250.3v4M1445 250.3v4M1449.2 250.3v4M1453.1 250.3v4M1457.5 250.3v4M1460.1 250.3v4M1463.8 250.3v4M1472.5 250.3v4M1480.2 250.3v4M1304.7 255.4v4M1324.7 255.4v4M1357.1 255.4v4M1363.3 255.4v4M1368.2 255.4v4M1372.1 255.4v4M1375.6 255.4v4M1379.4 255.4v4M1384.1 255.4v4M1387.9 255.4v4M1392.6 255.4v4M1396.4 255.4v4M1401 255.4v4M1405.1 255.4v4M1409.3 255.4v4M1413.1 255.4v4M1415.8 255.4v4M1417.8 255.4v4M1422 255.4v4M1426.3 255.4v4M1428.6 255.4v4M1432.4 255.4v4M1436.7 255.4v4M1441.5 255.4v4M1445.3 255.4v4M1449.5 255.4v4M1453.7 255.4v4M1458.1 255.4v4M1462.6 255.4v4M1470.9 255.4v4M1475.4 255.4v4M1480.2 255.4v4M1484 255.4v4M1248.2 260.5v4M1297.8 260.5v4M1334.3 260.5v4M1354.7 260.5v4M1379.5 260.5v4M1393.6 260.5v4M1398.3 260.5v4M1402.9 260.5v4M1416.8 260.5v4M1421.5 260.5v4M1423.4 260.5v4M1427.4 260.5v4M1431.9 260.5v4M1436.2 260.5v4M1440.6 260.5v4M1444.6 260.5v4M1447.2 260.5v4M1451.2 260.5v4M1455.1 260.5v4M1459.1 260.5v4M1463.6 260.5v4M1467.2 260.5v4M1471.3 260.5v4M1479.4 260.5v4M1481.7 260.5v4M1368.9 265.6v4M1400.1 265.6v4M1403.9 265.6v4M1413.2 265.6v4M1421.6 265.6v4M1429.4 265.6v4M1433.5 265.6v4M1437.7 265.6v4M1445.6 265.6v4M1449.6 265.6v4M1454.2 265.6v4M1457.8 265.6v4M1461.7 265.6v4M1466 265.6v4M1470.6 265.6v4M1474.9 265.6v4M1482.6 265.6v4M1251 275.8v4M1276.1 275.8v4M1197.7 286v4M1270.1 286v4M1387 286v4M1416.4 286v4M1443.2 286v4M1475 286v4M1218.6 291.1v4M1448.8 291.1v4M1256.1 296.1v4M1259.8 296.1v4M1289.2 296.1v4M1428.6 296.1v4M1189.3 296.1v4M1193.6 296.1v4M1198.4 296.1v4M1202.7 296.1v4M1207 296.1v4M1211.8 296.1v4M1215.9 296.1v4M1220.4 296.1v4M1224.4 296.1v4M1228.5 296.1v4M1233.5 296.1v4M1404.8 311.4v4M1418.2 311.4v4M1421.9 311.4v4M1426.3 311.4v4M1430.7 311.4v4M1439 311.4v4M1442.6 311.4v4M1445 311.4v4M1449.4 311.4v4M1453.3 311.4v4M1457.7 311.4v4M1461.6 311.4v4M1466 311.4v4M1470.2 311.4v4M1474.7 311.4v4M1479.1 311.4v4M1483.2 311.4v4M1379 316.5v4M1396.4 316.5v4M1335.6 321.6v4M1353 321.6v4M1373 321.6v4M1390.8 321.6v4M1394.5 321.6v4M1412.7 321.6v4M1432.9 321.6v4M1192.5 326.7v4M1208.4 326.7v4M1230.8 326.7v4M1263.9 326.7v4M1330.9 326.7v4M1344.4 326.7v4M1277.2 331.8v4M1389.8 331.8v4M1406.7 331.8v4M1411.3 331.8v4M1413.2 331.8v4M1417 331.8v4M1432.9 331.8v4M1441.3 331.8v4M1446 331.8v4M1450.1 331.8v4M1456.6 331.8v4M1463.4 331.8v4M1468.8 331.8v4M1192.5 336.9v4M1222 336.9v4M1247.3 336.9v4M1284.1 336.9v4M1198.1 342v4M1215.8 342v4M1219.6 342v4M1224.6 342v4M1234.5 342v4M1236.4 342v4M1254.2 342v4M1257.9 342v4M1287.5 342v4M1400.5 342v4M1442.2 342v4M1466.9 342v4M1199.6 347.1v4M1217.3 347.1v4M1244.5 347.1v4M1343.6 347.1v4M1380.5 347.1v4M1413.2 347.1v4M1419.8 347.1v4M1318.7 352.1v4M1446.5 352.1v4M1193 357.2v4M1204.6 357.2v4M1208.4 357.2v4M1233.6 357.2v4M1299.1 357.2v4M1328.7 357.2v4M1444.1 357.2v4M1216.8 362.3v4M1240.2 362.3v4M1308.4 362.3v4M1312.2 362.3v4M1315 362.3v4M1329 362.3v4M1336.1 362.3v4M1410.8 362.3v4M1257.2 362.3v4M1261 362.3v4M1265.9 362.3v4M1270.4 362.3v4M1275 362.3v4M1278.7 362.3v4M1282.9 362.3v4M1287.4 362.3v4M1291.9 362.3v4M1326.2 367.4v4M1225.2 382.7v4M1249 382.7v4M1269.2 382.7v4M1317.8 382.7v4M1371.5 382.7v4M1192.1 387.8v4M1196.2 387.8v4M1200.9 387.8v4M1205.5 387.8v4M1226.7 387.8v4M1334.6 387.8v4M1364.9 387.8v4M1398.6 387.8v4M1208.9 403v4M1304.3 403v4M1323.4 403v4M1359 403v4M1454.8 403v4M1279.8 408.1v4M1477.2 418.3v4M1407.6 423.4v4M1418.8 423.4v4M1422.9 423.4v4M1437.5 423.4v4M1455.7 423.4v4M1482.8 423.4v4M1234.9 428.5v4M1257.4 428.5v4M1274.8 428.5v4M1300.4 428.5v4M1452.5 428.5v4M1454.8 428.5v4M1477.2 428.5v4M1480.9 428.5v4M1201.4 433.6v4M1303.2 433.6v4M1314.1 433.6v4M1317.8 433.6v4M1336.1 433.6v4M1357.5 433.6v4M1191.5 443.8v4M1204.2 443.8v4M1206.5 443.8v4M1220.5 443.8v4M1225.2 443.8v4M1250.4 443.8v4M1286.4 443.8v4M1192.5 448.9v4M1203.3 448.9v4M1220.9 448.9v4M1236.4 448.9v4M1248.2 448.9v4M1251.4 448.9v4M1290.1 453.9v4M1293.1 453.9v4M1308.4 453.9v4M1190.2 453.9v4M1194.5 453.9v4M1202.9 453.9v4M1206.6 453.9v4M1210.6 453.9v4M1215 453.9v4M1217.6 453.9v4M1221.3 453.9v4M1229.7 453.9v4M1233.3 453.9v4M1237.6 453.9v4M1241.8 453.9v4M1246.5 453.9v4M1250.3 453.9v4M1254 453.9v4M1257 453.9v4M1261.4 453.9v4M1264.8 453.9v4M1267.4 453.9v4M1216.8 459v4M1320.6 459v4M1208.9 464.1v4M1371.1 464.1v4M1375.4 464.1v4" stroke="#0a0a0a" stroke-width="2.4"/>
<path d="M1180 473.9H1484.2M1187 473.9v9M1335 473.9v9M1360 473.9v9M1409 473.9v9M1484 473.9v9" stroke="#1f1f1f" stroke-width="1.8" fill="none"/>
<path d="M1187 486V603.3M1187 496.2h-7.5M1187 522.8h-7.5M1187 549.8h-7.5M1187 576.4h-7.5M1187 602.4h-7.5" stroke="#1f1f1f" stroke-width="1.8" fill="none"/>
<path d="M1187 603.3H1484M1187 603.3v6M1335 603.3v6M1360 603.3v6M1409 603.3v6M1484 603.3v6" stroke="#1f1f1f" stroke-width="1.8" fill="none"/>
<text x="1171.2" y="505.1" text-anchor="end" fill="#1c1c1c" font-size="25.2">8</text>
<text x="1171.2" y="561.2" text-anchor="end" fill="#1c1c1c" font-size="25.2">4</text>
<text x="1171.2" y="610.5" text-anchor="end" fill="#1c1c1c" font-size="25.2">0</text>
<text x="1187.6" y="633" text-anchor="middle" fill="#1c1c1c" font-size="25.5">-6</text>
<text x="1333" y="633" text-anchor="middle" fill="#1c1c1c" font-size="25.5">0</text>
<text x="1359" y="633" text-anchor="middle" fill="#1c1c1c" font-size="25.5">1</text>
<text x="1408" y="633" text-anchor="middle" fill="#1c1c1c" font-size="25.5">3</text>
<text x="1480.6" y="633" text-anchor="middle" fill="#1c1c1c" font-size="25.5">6</text>
<text x="1252" y="667.2" font-size="33.4">Time - CS (s)</text>
<text text-anchor="middle" transform="translate(1102 549) rotate(-90)" font-size="33">Lick rate</text>
<text text-anchor="middle" transform="translate(1143.5 549) rotate(-90)" font-size="33">(Hz)</text>
<path d="M1186.8 592L1199.2 591.3L1211.5 590.6L1223.9 597.9L1236.3 594.6L1248.7 596L1261 592.6L1273.4 592L1285.8 597.9L1298.2 598.6L1310.5 596.6L1322.9 602.6L1335.3 599.9L1347.7 598.6L1360 596.6L1372.4 576L1384.8 559.4L1397.2 566L1409.5 554.7L1421.9 538.8L1434.3 508.8L1446.7 506.2L1459 506.2L1471.4 515.5L1483.8 516.8" stroke="#1a7d1a" stroke-width="3" fill="none" stroke-linejoin="round"/>
<path d="M1186.8 591.3L1199.2 593.3L1211.5 592.6L1223.9 590L1236.3 594L1248.7 597.3L1261 593.3L1273.4 594L1285.8 594.6L1298.2 597.3L1310.5 599.9L1322.9 598.3L1335.3 596.6L1347.7 597.3L1360 601.3L1372.4 602.6L1384.8 599.9L1397.2 596.6L1409.5 599.9L1421.9 590.6L1434.3 594.6L1446.7 591.3L1459 592.6L1471.4 596.6L1483.8 594.6" stroke="#0b24e0" stroke-width="3" fill="none" stroke-linejoin="round"/>
<path d="M1186.8 591.3L1199.2 592L1211.5 588L1223.9 594.6L1236.3 592.6L1248.7 594.6L1261 592L1273.4 598.6L1285.8 599.9L1298.2 597.3L1310.5 597.9L1322.9 597.3L1335.3 599.9L1347.7 601.3L1360 600.6L1372.4 598.6L1384.8 601.3L1397.2 602.6L1409.5 599.9L1421.9 600.9L1434.3 601.9L1446.7 601.3L1459 596.6L1471.4 602.6L1483.8 597.3" stroke="#ed1c24" stroke-width="3" fill="none" stroke-linejoin="round"/>
<path d="M1192 503.9L1222.8 503.9" stroke="#1a7d1a" stroke-width="3"/>
<text x="1227.2" y="510.6" font-size="29.8">Reward</text>
<path d="M1192 533.6L1222.8 533.6" stroke="#0b24e0" stroke-width="3"/>
<text x="1227.2" y="542.1" font-size="29.8">Neutral</text>
<path d="M1192 563.2L1222.8 563.2" stroke="#ed1c24" stroke-width="3"/>
<text x="1227.2" y="573.4" font-size="29.8">Punish.</text>
<rect x="1795.6" y="109.5" width="45" height="492.9" fill="#e2e2e2"/>
<path d="M1624 86.6H1772.3V71H1795.6V86.6H1908.5" stroke="#5c5c5c" stroke-width="1.5" fill="none" stroke-linejoin="round"/>
<text x="1623.7" y="79.6" font-size="33.7">CS</text>
<path d="M1624 124.6H1795.6V109H1840.6V124.6H1908.5" stroke="#5c5c5c" stroke-width="1.5" fill="none" stroke-linejoin="round"/>
<text x="1623.7" y="114.8" font-size="33.7">Decision</text>
<path d="M1624 156.7H1840.6V141.4H1848.8V156.7H1908.5" stroke="#5c5c5c" stroke-width="1.5" fill="none" stroke-linejoin="round"/>
<text x="1623.7" y="154.5" font-size="33.7">US</text>
<path d="M1772.8 88L1772.8 916" stroke="#8c8c8c" stroke-width="1.5" stroke-dasharray="9 7"/>
<path d="M1841.2 158L1841.2 916" stroke="#8c8c8c" stroke-width="1.5" stroke-dasharray="9 7"/>
<rect x="1634.8" y="166" width="275" height="307.3" fill="#352a87"/>
<g shape-rendering="crispEdges" stroke-width="5.4">
<path d="M1678.3 178.8h2.3M1682.9 178.8h2.3M1712.7 178.8h4.6M1710.4 204.4h4.6M1634.8 235.1h2.3M1650.8 235.1h2.3M1815.8 240.3h2.3M1825 240.3h2.3M1758.5 281.2h2.3M1767.7 301.7h4.6M1655.4 317.1h2.3M1671.5 317.1h2.3M1763.1 358.1h2.3M1770 358.1h2.3M1710.4 383.7h2.3M1715 383.7h2.3M1754 383.7h2.3M1811.3 383.7h2.3M1669.2 434.9h2.3M1747.1 445.1h4.6M1754 445.1h2.3M1737.9 460.5h2.3M1710.4 465.6h2.3M1715 465.6h2.3M1765.4 465.6h2.3" stroke="#3b59a5"/>
<path d="M1662.3 178.8h2.3M1669.2 178.8h2.3M1680.6 178.8h2.3M1864 178.8h2.3M1703.5 199.3h4.6M1703.5 204.4h4.6M1657.7 235.1h2.3M1813.5 240.3h2.3M1660 255.6h2.3M1815.8 271h4.6M1754 281.2h2.3M1689.8 291.5h2.3M1774.6 301.7h2.3M1779.2 301.7h2.3M1676 317.1h2.3M1866.3 322.2h4.6M1882.3 322.2h2.3M1699 358.1h2.3M1726.5 358.1h2.3M1733.3 358.1h2.3M1694.4 378.5h4.6M1703.5 383.7h2.3M1708.1 383.7h2.3M1744.8 383.7h2.3M1783.8 440h4.6M1737.9 445.1h2.3M1751.7 445.1h2.3M1760.8 445.1h2.3M1719.6 460.5h2.3M1733.3 460.5h2.3M1749.4 460.5h2.3M1758.5 460.5h2.3M1809 460.5h2.3M1822.7 460.5h2.3M1708.1 465.6h2.3M1719.6 465.6h4.6M1740.2 465.6h2.3M1758.5 465.6h2.3" stroke="#3d65ac"/>
<path d="M1687.5 178.8h2.3M1859.4 322.2h4.6M1886.9 378.5h2.3M1882.3 388.8h2.3M1898.3 399h2.3M1786 404.2h2.3M1880 404.2h2.3M1902.9 404.2h2.3M1880 419.5h2.3M1893.8 419.5h2.3M1907.5 424.6h2.3M1893.8 429.8h2.3M1664.6 434.9h2.3M1673.8 434.9h4.6M1680.6 434.9h4.6M1877.7 450.3h2.3M1889.2 450.3h2.3M1900.6 450.3h4.6M1891.5 455.4h2.3M1896 465.6h2.3" stroke="#3e70b3"/>
<path d="M1692.1 178.8h2.3M1701.3 178.8h2.3M1696.7 199.3h2.3M1708.1 199.3h2.3M1717.3 199.3h2.3M1728.8 199.3h6.9M1744.8 199.3h2.3M1767.7 199.3h2.3M1646.3 204.4h4.6M1669.2 204.4h6.9M1694.4 204.4h2.3M1767.7 245.4h2.3M1779.2 245.4h2.3M1804.4 245.4h2.3M1813.5 245.4h2.3M1820.4 245.4h2.3M1838.8 245.4h2.3M1847.9 245.4h6.9M1744.8 271h4.6M1758.5 271h2.3M1765.4 271h2.3M1772.3 271h2.3M1781.5 271h2.3M1788.3 271h4.6M1802.1 271h6.9M1813.5 271h2.3M1820.4 271h2.3M1653.1 276.1h2.3M1669.2 276.1h2.3M1680.6 276.1h2.3M1699 276.1h2.3M1708.1 276.1h2.3M1715 276.1h4.6M1813.5 281.2h2.3M1847.9 281.2h2.3M1854.8 281.2h2.3M1873.1 281.2h2.3M1882.3 281.2h2.3M1889.2 281.2h9.2M1902.9 281.2h2.3M1682.9 291.5h6.9M1694.4 291.5h2.3M1864 322.2h2.3M1877.7 322.2h4.6M1854.8 347.8h2.3M1809 373.4h2.3M1825 373.4h2.3M1857.1 373.4h4.6M1868.5 373.4h2.3M1873.1 373.4h2.3M1884.6 373.4h2.3M1891.5 373.4h2.3M1900.6 373.4h6.9M1644 378.5h2.3M1655.4 378.5h2.3M1666.9 378.5h4.6M1680.6 378.5h2.3M1687.5 378.5h4.6M1699 378.5h2.3M1703.5 378.5h2.3M1804.4 378.5h2.3M1845.6 378.5h2.3M1854.8 378.5h2.3M1877.7 378.5h2.3M1902.9 378.5h2.3M1818.1 383.7h2.3M1827.3 383.7h4.6M1834.2 383.7h2.3M1838.8 383.7h2.3M1864 383.7h2.3M1797.5 388.8h2.3M1797.5 393.9h2.3M1825 393.9h2.3M1843.3 399h2.3M1905.2 399h2.3M1813.5 404.2h2.3M1818.1 404.2h2.3M1834.2 404.2h2.3M1838.8 404.2h2.3M1639.4 409.3h6.9M1660 409.3h2.3M1666.9 409.3h2.3M1673.8 409.3h2.3M1692.1 409.3h2.3M1699 409.3h6.9M1710.4 409.3h6.9M1728.8 409.3h2.3M1740.2 409.3h2.3M1751.7 409.3h2.3M1758.5 409.3h2.3M1770 409.3h2.3M1781.5 409.3h2.3M1788.3 409.3h2.3M1834.2 409.3h2.3M1854.8 409.3h2.3M1898.3 409.3h2.3M1802.1 414.4h2.3M1813.5 414.4h2.3M1818.1 414.4h2.3M1825 414.4h2.3M1834.2 414.4h2.3M1845.6 414.4h2.3M1866.3 414.4h2.3M1873.1 414.4h2.3M1792.9 419.5h2.3M1809 419.5h4.6M1820.4 419.5h2.3M1829.6 419.5h2.3M1841 419.5h2.3M1877.7 419.5h2.3M1882.3 419.5h2.3M1854.8 424.6h2.3M1866.3 424.6h2.3M1873.1 424.6h2.3M1806.7 429.8h2.3M1827.3 429.8h2.3M1870.8 429.8h2.3M1657.7 434.9h6.9M1666.9 434.9h2.3M1678.3 434.9h2.3M1685.2 434.9h2.3M1829.6 434.9h2.3M1838.8 434.9h2.3M1850.2 434.9h2.3M1882.3 434.9h2.3M1886.9 434.9h2.3M1806.7 440h2.3M1818.1 440h2.3M1836.5 445.1h2.3M1841 445.1h2.3M1845.6 445.1h2.3M1886.9 445.1h2.3M1797.5 450.3h2.3M1806.7 450.3h2.3M1815.8 450.3h2.3M1836.5 450.3h2.3M1850.2 450.3h2.3M1861.7 450.3h2.3M1886.9 450.3h2.3M1813.5 455.4h2.3M1818.1 455.4h2.3M1861.7 455.4h2.3M1650.8 460.5h2.3M1669.2 460.5h2.3M1676 460.5h9.2M1804.4 460.5h2.3M1820.4 460.5h2.3M1834.2 460.5h2.3M1852.5 460.5h2.3M1880 460.5h2.3M1829.6 465.6h2.3M1836.5 465.6h2.3M1882.3 465.6h4.6M1893.8 465.6h2.3M1790.6 470.7h2.3M1864 470.7h2.3" stroke="#07aac1"/>
<path d="M1705.8 178.8h2.3M1763.1 199.3h4.6M1774.6 245.4h4.6M1781.5 245.4h2.3M1776.9 271h4.6M1809 271h2.3M1644 276.1h4.6M1687.5 276.1h4.6M1843.3 281.2h4.6M1850.2 281.2h4.6M1834.2 373.4h2.3M1854.8 373.4h2.3M1893.8 373.4h2.3M1650.8 378.5h4.6M1676 378.5h4.6M1822.7 383.7h2.3M1861.7 383.7h2.3M1902.9 383.7h2.3M1783.8 388.8h4.6M1806.7 388.8h2.3M1815.8 388.8h2.3M1834.2 388.8h2.3M1866.3 388.8h4.6M1809 393.9h2.3M1831.9 393.9h2.3M1861.7 393.9h2.3M1870.8 393.9h2.3M1804.4 399h2.3M1815.8 399h2.3M1861.7 399h2.3M1866.3 399h2.3M1900.6 399h2.3M1781.5 404.2h4.6M1792.9 404.2h4.6M1864 404.2h2.3M1806.7 409.3h2.3M1811.3 409.3h2.3M1827.3 409.3h2.3M1870.8 409.3h2.3M1783.8 414.4h2.3M1820.4 414.4h2.3M1831.9 414.4h2.3M1852.5 414.4h2.3M1902.9 414.4h2.3M1788.3 419.5h4.6M1799.8 419.5h2.3M1834.2 419.5h2.3M1907.5 419.5h2.3M1893.8 424.6h2.3M1786 429.8h2.3M1831.9 429.8h2.3M1836.5 429.8h2.3M1843.3 429.8h2.3M1864 429.8h2.3M1653.1 434.9h4.6M1671.5 434.9h2.3M1795.2 434.9h2.3M1802.1 434.9h2.3M1806.7 434.9h2.3M1820.4 434.9h2.3M1836.5 434.9h2.3M1893.8 434.9h2.3M1836.5 440h2.3M1852.5 440h2.3M1870.8 440h2.3M1799.8 445.1h2.3M1822.7 445.1h2.3M1864 445.1h2.3M1891.5 445.1h2.3M1859.4 450.3h2.3M1783.8 455.4h2.3M1845.6 455.4h2.3M1854.8 455.4h2.3M1788.3 460.5h2.3M1799.8 460.5h2.3M1875.4 460.5h2.3M1884.6 460.5h2.3M1825 465.6h4.6M1907.5 465.6h2.3M1783.8 470.7h2.3M1845.6 470.7h2.3M1866.3 470.7h2.3" stroke="#33b7a0"/>
<path d="M1696.7 178.8h4.6M1747.1 199.3h4.6M1763.1 245.4h4.6M1834.2 245.4h4.6M1877.7 281.2h2.3M1845.6 347.8h9.2M1795.2 373.4h2.3M1864 373.4h2.3M1886.9 373.4h4.6M1806.7 378.5h2.3M1836.5 378.5h2.3M1864 378.5h2.3M1797.5 383.7h2.3M1813.5 383.7h2.3M1825 383.7h2.3M1859.4 383.7h2.3M1893.8 383.7h2.3M1845.6 388.8h2.3M1852.5 388.8h2.3M1815.8 393.9h4.6M1838.8 393.9h4.6M1845.6 393.9h2.3M1795.2 399h2.3M1820.4 399h2.3M1829.6 399h2.3M1841 399h2.3M1802.1 404.2h2.3M1868.5 404.2h4.6M1650.8 409.3h4.6M1687.5 409.3h4.6M1694.4 409.3h4.6M1735.6 409.3h4.6M1905.2 409.3h2.3M1804.4 414.4h4.6M1815.8 414.4h2.3M1868.5 414.4h2.3M1806.7 419.5h2.3M1902.9 419.5h2.3M1795.2 429.8h2.3M1802.1 429.8h2.3M1818.1 429.8h2.3M1829.6 429.8h2.3M1838.8 429.8h2.3M1861.7 429.8h2.3M1797.5 434.9h4.6M1854.8 434.9h2.3M1866.3 434.9h2.3M1873.1 440h2.3M1797.5 445.1h2.3M1843.3 445.1h2.3M1850.2 445.1h2.3M1880 445.1h2.3M1847.9 450.3h2.3M1809 455.4h2.3M1852.5 455.4h2.3M1646.3 460.5h4.6M1792.9 460.5h2.3M1806.7 460.5h2.3M1813.5 460.5h2.3M1804.4 465.6h2.3M1809 465.6h4.6M1841 465.6h2.3M1847.9 465.6h2.3M1811.3 470.7h2.3M1815.8 470.7h4.6M1829.6 470.7h2.3M1873.1 470.7h2.3" stroke="#7cbf7b"/>
<path d="M1664.6 204.4h4.6M1676 204.4h4.6M1836.5 347.8h2.3" stroke="#b7bd64"/>
<path d="M1809 245.4h4.6M1815.8 245.4h4.6M1811.3 404.2h2.3M1786 470.7h4.6" stroke="#f0b949"/>
<path d="M1809 378.5h2.3M1850.2 378.5h2.3M1781.5 383.7h2.3M1790.6 383.7h2.3M1815.8 383.7h2.3M1836.5 383.7h2.3M1854.8 383.7h4.6M1822.7 388.8h2.3M1827.3 388.8h2.3M1797.5 399h2.3M1873.1 404.2h2.3M1799.8 409.3h2.3M1804.4 409.3h2.3M1838.8 409.3h4.6M1809 414.4h4.6M1861.7 414.4h2.3M1870.8 414.4h2.3M1781.5 419.5h2.3M1822.7 419.5h4.6M1836.5 419.5h2.3M1854.8 419.5h2.3M1822.7 424.6h2.3M1815.8 429.8h2.3M1818.1 434.9h2.3M1831.9 434.9h2.3M1825 440h2.3M1834.2 440h2.3M1845.6 440h2.3M1811.3 445.1h2.3M1829.6 445.1h4.6M1852.5 445.1h2.3M1825 455.4h6.9M1834.2 455.4h4.6M1847.9 455.4h2.3M1797.5 460.5h2.3M1806.7 465.6h2.3" stroke="#fad230"/>
<path d="M1692.1 199.3h2.3M1712.7 199.3h4.6M1735.6 199.3h9.2M1653.1 204.4h4.6M1689.8 204.4h4.6M1795.2 245.4h6.9M1749.4 271h9.2M1760.8 271h4.6M1767.7 271h2.3M1783.8 271h4.6M1648.5 276.1h4.6M1657.7 276.1h4.6M1664.6 276.1h4.6M1671.5 276.1h9.2M1694.4 276.1h4.6M1703.5 276.1h4.6M1710.4 276.1h4.6M1721.9 276.1h4.6M1809 281.2h4.6M1834.2 281.2h9.2M1859.4 281.2h4.6M1868.5 281.2h4.6M1884.6 281.2h4.6M1898.3 281.2h2.3M1792.9 373.4h2.3M1811.3 373.4h2.3M1845.6 373.4h9.2M1861.7 373.4h2.3M1870.8 373.4h2.3M1875.4 373.4h2.3M1880 373.4h4.6M1896 373.4h4.6M1639.4 378.5h2.3M1657.7 378.5h9.2M1671.5 378.5h4.6M1795.2 378.5h9.2M1818.1 378.5h6.9M1827.3 378.5h4.6M1838.8 378.5h4.6M1857.1 378.5h2.3M1873.1 378.5h4.6M1880 378.5h2.3M1893.8 378.5h2.3M1795.2 383.7h2.3M1799.8 383.7h2.3M1809 383.7h2.3M1820.4 383.7h2.3M1831.9 383.7h2.3M1843.3 383.7h11.5M1866.3 383.7h2.3M1870.8 383.7h6.9M1788.3 388.8h4.6M1802.1 388.8h2.3M1809 388.8h6.9M1818.1 388.8h4.6M1825 388.8h2.3M1829.6 388.8h4.6M1838.8 388.8h6.9M1847.9 388.8h2.3M1857.1 388.8h2.3M1870.8 388.8h2.3M1875.4 388.8h2.3M1799.8 393.9h9.2M1811.3 393.9h2.3M1820.4 393.9h4.6M1834.2 393.9h4.6M1843.3 393.9h2.3M1852.5 393.9h6.9M1866.3 393.9h2.3M1873.1 393.9h2.3M1877.7 393.9h2.3M1898.3 393.9h2.3M1799.8 399h2.3M1809 399h4.6M1836.5 399h4.6M1847.9 399h4.6M1854.8 399h2.3M1864 399h2.3M1870.8 399h2.3M1880 399h2.3M1788.3 404.2h2.3M1797.5 404.2h4.6M1804.4 404.2h6.9M1820.4 404.2h13.8M1836.5 404.2h2.3M1847.9 404.2h4.6M1857.1 404.2h2.3M1655.4 409.3h4.6M1662.3 409.3h4.6M1669.2 409.3h4.6M1682.9 409.3h4.6M1705.8 409.3h4.6M1724.2 409.3h4.6M1731 409.3h4.6M1747.1 409.3h4.6M1754 409.3h4.6M1760.8 409.3h9.2M1776.9 409.3h4.6M1783.8 409.3h4.6M1790.6 409.3h2.3M1797.5 409.3h2.3M1809 409.3h2.3M1813.5 409.3h13.8M1829.6 409.3h4.6M1836.5 409.3h2.3M1843.3 409.3h2.3M1847.9 409.3h6.9M1864 409.3h6.9M1873.1 409.3h2.3M1893.8 409.3h4.6M1781.5 414.4h2.3M1792.9 414.4h2.3M1797.5 414.4h2.3M1822.7 414.4h2.3M1827.3 414.4h4.6M1838.8 414.4h6.9M1847.9 414.4h2.3M1854.8 414.4h2.3M1875.4 414.4h2.3M1783.8 419.5h2.3M1795.2 419.5h2.3M1802.1 419.5h4.6M1813.5 419.5h6.9M1831.9 419.5h2.3M1838.8 419.5h2.3M1843.3 419.5h2.3M1866.3 419.5h4.6M1875.4 419.5h2.3M1797.5 424.6h2.3M1804.4 424.6h4.6M1838.8 424.6h2.3M1843.3 424.6h4.6M1852.5 424.6h2.3M1861.7 424.6h4.6M1868.5 424.6h4.6M1797.5 429.8h4.6M1804.4 429.8h2.3M1809 429.8h6.9M1820.4 429.8h2.3M1825 429.8h2.3M1834.2 429.8h2.3M1847.9 429.8h4.6M1873.1 429.8h4.6M1804.4 434.9h2.3M1809 434.9h4.6M1822.7 434.9h2.3M1827.3 434.9h2.3M1834.2 434.9h2.3M1857.1 434.9h6.9M1868.5 434.9h4.6M1788.3 440h4.6M1797.5 440h6.9M1809 440h9.2M1820.4 440h2.3M1827.3 440h6.9M1847.9 440h2.3M1857.1 440h2.3M1861.7 440h9.2M1792.9 445.1h4.6M1802.1 445.1h2.3M1806.7 445.1h4.6M1813.5 445.1h4.6M1820.4 445.1h2.3M1825 445.1h4.6M1834.2 445.1h2.3M1859.4 445.1h2.3M1868.5 445.1h9.2M1884.6 445.1h2.3M1795.2 450.3h2.3M1799.8 450.3h6.9M1809 450.3h2.3M1813.5 450.3h2.3M1818.1 450.3h2.3M1827.3 450.3h2.3M1838.8 450.3h9.2M1852.5 450.3h4.6M1868.5 450.3h2.3M1875.4 450.3h2.3M1781.5 455.4h2.3M1786 455.4h2.3M1792.9 455.4h2.3M1797.5 455.4h2.3M1804.4 455.4h4.6M1820.4 455.4h4.6M1831.9 455.4h2.3M1843.3 455.4h2.3M1857.1 455.4h4.6M1864 455.4h2.3M1868.5 455.4h2.3M1641.7 460.5h4.6M1660 460.5h9.2M1774.6 460.5h9.2M1795.2 460.5h2.3M1815.8 460.5h2.3M1831.9 460.5h2.3M1836.5 460.5h2.3M1841 460.5h9.2M1854.8 460.5h6.9M1864 460.5h2.3M1873.1 460.5h2.3M1781.5 465.6h2.3M1795.2 465.6h4.6M1802.1 465.6h2.3M1813.5 465.6h2.3M1818.1 465.6h4.6M1831.9 465.6h2.3M1845.6 465.6h2.3M1854.8 465.6h4.6M1868.5 465.6h9.2M1831.9 470.7h4.6M1852.5 470.7h2.3M1861.7 470.7h2.3M1868.5 470.7h4.6" stroke="#f9fb0e"/>
</g>
<rect x="1795.6" y="166" width="45" height="307.3" fill="#fff" opacity="0.36"/>
<path d="M1772.8 166L1772.8 473.3" stroke="#d6d3e6" stroke-width="1.6" stroke-dasharray="9 7"/>
<path d="M1841.2 166L1841.2 473.3" stroke="#c9c6dc" stroke-width="1.3" stroke-dasharray="9 7"/>
<rect x="1624" y="163.8" width="8.4" height="102.5" fill="#1a7d1a"/>
<rect x="1624" y="271.5" width="8.4" height="98.3" fill="#0b24e0"/>
<rect x="1624" y="375" width="8.4" height="98.3" fill="#ed1c24"/>
<path d="M1632.4 164.2H1635V266.6H1632.4M1632.4 271.6H1635V370H1632.4M1632.4 375.2H1635V473H1632.4" stroke="#1f1f1f" stroke-width="1" fill="none"/>
<path d="M1634.6 473.3H1909.4M1634.8 473.3v8M1796 473.3v8M1841 473.3v8M1909.4 473.3v8" stroke="#1f1f1f" stroke-width="1.8" fill="none"/>
<rect x="1922.6" y="176.6" width="14.4" height="291.8" fill="url(#par)" stroke="#1f1f1f" stroke-width="1"/>
<text x="1943" y="184.6" fill="#1f1f1f" font-size="23.5">10</text>
<text x="1941.6" y="469.3" fill="#1f1f1f" font-size="23.5">0</text>
<text text-anchor="middle" fill="#1f1f1f" transform="translate(1962.5 325) rotate(-90)" font-size="25">Velocity (cm/s)</text>
<text text-anchor="middle" transform="translate(1530 320) rotate(-90)" font-size="33">Running</text>
<path d="M1547.3 200.5L1547.3 443.3" stroke="#808080" stroke-width="2.6"/>
<text x="1556.8" y="222.5" font-size="31.6">CS<tspan font-size="20" dy="12" dx="2.3">R</tspan></text>
<text x="1556.8" y="329" font-size="31.6">CS<tspan font-size="20" dy="12" dx="2.3">N</tspan></text>
<text x="1556.8" y="435.6" font-size="31.6">CS<tspan font-size="20" dy="12" dx="2.3">P</tspan></text>
<path d="M1638.8 490.4V602.7M1638.8 496.6h-7.5M1638.8 519.9h-7.5M1638.8 543.7h-7.5M1638.8 567.5h-7.5M1638.8 591.1h-7.5" stroke="#1f1f1f" stroke-width="1.8" fill="none"/>
<path d="M1638.5 602.4H1908.8M1638.5 602.4v6M1773.2 602.4v6M1796 602.4v6M1841 602.4v6M1908.8 602.4v6" stroke="#1f1f1f" stroke-width="1.8" fill="none"/>
<text x="1625.1" y="503.4" text-anchor="end" fill="#1c1c1c" font-size="25">8</text>
<text x="1625.1" y="553.9" text-anchor="end" fill="#1c1c1c" font-size="25">4</text>
<text x="1625.1" y="599.8" text-anchor="end" fill="#1c1c1c" font-size="25">0</text>
<text x="1638" y="633" text-anchor="middle" fill="#1c1c1c" font-size="25.5">-6</text>
<text x="1774.8" y="633" text-anchor="middle" fill="#1c1c1c" font-size="25.5">0</text>
<text x="1799" y="633" text-anchor="middle" fill="#1c1c1c" font-size="25.5">1</text>
<text x="1846.7" y="633" text-anchor="middle" fill="#1c1c1c" font-size="25.5">3</text>
<text x="1913" y="633" text-anchor="middle" fill="#1c1c1c" font-size="25.5">6</text>
<text x="1680" y="667.2" font-size="33.4">Time - CS (s)</text>
<text text-anchor="middle" transform="translate(1559 545) rotate(-90)" font-size="33">Velocity</text>
<text text-anchor="middle" transform="translate(1597.5 541) rotate(-90)" font-size="33">(cm/s)</text>
<path d="M1638.5 589L1649.8 590.8L1661 587.3L1672.3 590.8L1683.5 586.7L1694.8 589L1706.1 584.9L1717.3 587.8L1728.6 585.5L1739.9 589.6L1751.1 587.3L1762.4 589.6L1773.7 588.4L1784.9 589L1796.2 590.8L1807.4 588.4L1818.7 586.1L1830 587.3L1841.2 584.9L1852.5 589.6L1863.8 594.3L1875 592.6L1886.3 592L1897.5 591.4L1908.8 590.8" stroke="#1a7d1a" stroke-width="3" fill="none" stroke-linejoin="round"/>
<path d="M1638.5 588.4L1649.8 589.6L1661 585.5L1672.3 583.7L1683.5 583.1L1694.8 583.7L1706.1 587.8L1717.3 580.8L1728.6 582.5L1739.9 589.6L1751.1 587.3L1762.4 588.4L1773.7 581.4L1784.9 584.3L1796.2 584.3L1807.4 586.1L1818.7 583.1L1830 584.3L1841.2 582.5L1852.5 584.3L1863.8 577.8L1875 584.9L1886.3 586.1L1897.5 587.3L1908.8 589" stroke="#0b24e0" stroke-width="3" fill="none" stroke-linejoin="round"/>
<path d="M1638.5 581.4L1649.8 577.8L1661 575.5L1672.3 573.1L1683.5 571.9L1694.8 582.5L1706.1 582.5L1717.3 581.4L1728.6 584.9L1739.9 580.8L1751.1 580.2L1762.4 586.1L1773.7 580.2L1784.9 581.9L1796.2 563.7L1807.4 529.4L1818.7 488.1L1830 501.1L1841.2 479.9L1852.5 488.1L1863.8 515.3L1875 520L1886.3 540.1L1897.5 561.3L1908.8 569.6" stroke="#ed1c24" stroke-width="3" fill="none" stroke-linejoin="round"/>
<text x="1035" y="709.6" font-size="68">d</text>
<path d="M1185.5 704.4V911M1185.5 705.9h-8M1185.5 743.6h-8M1185.5 781.2h-8M1185.5 818.6h-8M1185.5 855.9h-8M1185.5 893.2h-8" stroke="#1f1f1f" stroke-width="1.8" fill="none"/>
<path d="M1185.5 911H1482M1185.5 911v9M1332.4 911v9M1358 911v9M1408 911v9M1482 911v9" stroke="#1f1f1f" stroke-width="1.8" fill="none"/>
<text x="1165" y="713.8" text-anchor="end" fill="#1c1c1c" font-size="24.3">10</text>
<text x="1165" y="751.5" text-anchor="end" fill="#1c1c1c" font-size="24.3">8</text>
<text x="1165" y="789.1" text-anchor="end" fill="#1c1c1c" font-size="24.3">6</text>
<text x="1165" y="826.5" text-anchor="end" fill="#1c1c1c" font-size="24.3">4</text>
<text x="1165" y="863.8" text-anchor="end" fill="#1c1c1c" font-size="24.3">2</text>
<text x="1165" y="901.1" text-anchor="end" fill="#1c1c1c" font-size="24.3">0</text>
<text x="1184.6" y="941.6" text-anchor="middle" fill="#1c1c1c" font-size="25.5">-6</text>
<text x="1334.6" y="941.6" text-anchor="middle" fill="#1c1c1c" font-size="25.5">0</text>
<text x="1360.6" y="941.6" text-anchor="middle" fill="#1c1c1c" font-size="25.5">1</text>
<text x="1409.6" y="941.6" text-anchor="middle" fill="#1c1c1c" font-size="25.5">3</text>
<text x="1483" y="941.6" text-anchor="middle" fill="#1c1c1c" font-size="25.5">6</text>
<text x="1273.3" y="980" font-size="33.4">Time - CS (s)</text>
<text text-anchor="middle" transform="translate(1125 806) rotate(-90)" font-size="33">Lick rate (Hz)</text>
<path d="M1185.5 890.7L1187.5 883.2L1189.5 879.9L1191.4 881.4L1193.4 876.9L1195.4 882.6L1197.4 880.4L1199.3 879.6L1201.3 879L1203.3 884.8L1205.3 875.4L1207.2 879.4L1209.2 878.2L1211.2 877.6L1213.2 884.8L1215.2 886.7L1217.1 881.9L1219.1 883.5L1221.1 884.9L1223.1 885L1225 881.7L1227 883.4L1229 890.9L1231 886.3L1232.9 883L1234.9 884.6L1236.9 878.4L1238.9 887.3L1240.8 887.4L1242.8 878.7L1244.8 881.8L1246.8 880.9L1248.8 881.1L1250.7 880.1L1252.7 880.6L1254.7 886.7L1256.7 876.4L1258.6 882.2L1260.6 882.3L1262.6 879.2L1264.6 877.4L1266.5 879.6L1268.5 886.3L1270.5 887.5L1272.5 879.8L1274.5 879.2L1276.4 876.1L1278.4 875.9L1280.4 882.4L1282.4 882.2L1284.3 873.1L1286.3 880.9L1288.3 886.4L1290.3 875.6L1292.2 881.2L1294.2 877.1L1296.2 886.7L1298.2 886.4L1300.1 882.2L1302.1 881.3L1304.1 879.2L1306.1 877.6L1308.1 878.4L1310 886.4L1312 877.7L1314 876L1316 879.2L1317.9 879.6L1319.9 889L1321.9 882L1323.9 877.5L1325.8 881.9L1327.8 880L1329.8 882.6L1331.8 875.6L1333.8 870.3L1335.7 877.8L1337.7 880.7L1339.7 882.6L1341.7 873.5L1343.6 873.9L1345.6 874.3L1347.6 873.1L1349.6 874.8L1351.5 873.6L1353.5 864.7L1355.5 864.2L1357.5 858.5L1359.4 854L1361.4 843.9L1363.4 846.5L1365.4 856L1367.4 842.1L1369.3 839.2L1371.3 830.4L1373.3 834.6L1375.3 833L1377.2 832.3L1379.2 829.9L1381.2 820.8L1383.2 826.2L1385.1 820.2L1387.1 811.3L1389.1 813L1391.1 823.4L1393.1 821L1395 826.1L1397 819.6L1399 817.3L1401 816.9L1402.9 812.9L1404.9 816.4L1406.9 813L1408.9 817L1410.8 815.5L1412.8 784.2L1414.8 764.1L1416.8 753L1418.7 748L1420.7 747.8L1422.7 743.5L1424.7 742.6L1426.7 754.3L1428.6 745.6L1430.6 752.9L1432.6 753.2L1434.6 751.2L1436.5 751.8L1438.5 754L1440.5 742.9L1442.5 756.4L1444.4 744.6L1446.4 752.6L1448.4 750.9L1450.4 743.7L1452.4 746.3L1454.3 749.4L1456.3 752.7L1458.3 749.9L1460.3 761.8L1462.2 757.3L1464.2 757.7L1466.2 766.7L1468.2 771.7L1470.1 758.4L1472.1 764.9L1474.1 761L1476.1 767L1478 763.4L1480 765.8L1482 776.3L1482 809.8L1480 796.8L1478 801.2L1476.1 801L1474.1 796.4L1472.1 801.9L1470.1 786.9L1468.2 792.4L1466.2 801.4L1464.2 796.8L1462.2 796L1460.3 786.6L1458.3 790.4L1456.3 782.1L1454.3 773.9L1452.4 769.2L1450.4 767.6L1448.4 774.1L1446.4 775.1L1444.4 786.3L1442.5 783.9L1440.5 782.3L1438.5 788.3L1436.5 795.7L1434.6 785.4L1432.6 783.5L1430.6 784.1L1428.6 787.1L1426.7 779.8L1424.7 788.3L1422.7 776.1L1420.7 793.4L1418.7 795.2L1416.8 794.4L1414.8 798L1412.8 825.1L1410.8 843L1408.9 839.4L1406.9 841L1404.9 845.5L1402.9 837.3L1401 842.3L1399 840L1397 840L1395 844.1L1393.1 843.4L1391.1 840.4L1389.1 842.8L1387.1 839.1L1385.1 845.9L1383.2 851.5L1381.2 848.6L1379.2 857.5L1377.2 853.3L1375.3 848.8L1373.3 854.8L1371.3 853.5L1369.3 853.3L1367.4 858.1L1365.4 866.9L1363.4 859.6L1361.4 859.5L1359.4 869.6L1357.5 871.5L1355.5 876.3L1353.5 873.4L1351.5 879.9L1349.6 879.8L1347.6 877L1345.6 875.9L1343.6 873.9L1341.7 873.5L1339.7 882.6L1337.7 880.7L1335.7 877.8L1333.8 870.3L1331.8 875.6L1329.8 882.6L1327.8 880L1325.8 881.9L1323.9 877.5L1321.9 882L1319.9 889L1317.9 879.6L1316 879.2L1314 876L1312 877.7L1310 886.4L1308.1 878.4L1306.1 877.6L1304.1 879.2L1302.1 881.3L1300.1 882.2L1298.2 886.4L1296.2 886.7L1294.2 877.1L1292.2 881.2L1290.3 875.6L1288.3 886.4L1286.3 880.9L1284.3 873.1L1282.4 882.2L1280.4 882.4L1278.4 875.9L1276.4 876.1L1274.5 879.2L1272.5 879.8L1270.5 887.5L1268.5 886.3L1266.5 879.6L1264.6 877.4L1262.6 879.2L1260.6 882.3L1258.6 882.2L1256.7 876.4L1254.7 886.7L1252.7 880.6L1250.7 880.1L1248.8 881.1L1246.8 880.9L1244.8 881.8L1242.8 878.7L1240.8 887.4L1238.9 887.3L1236.9 878.4L1234.9 884.6L1232.9 883L1231 886.3L1229 890.9L1227 883.4L1225 881.7L1223.1 885L1221.1 884.9L1219.1 883.5L1217.1 881.9L1215.2 886.7L1213.2 884.8L1211.2 877.6L1209.2 878.2L1207.2 879.4L1205.3 875.4L1203.3 884.8L1201.3 879L1199.3 879.6L1197.4 880.4L1195.4 882.6L1193.4 876.9L1191.4 881.4L1189.5 879.9L1187.5 883.2L1185.5 890.7Z" fill="#c6f2c6" opacity="0.8"/>
<path d="M1185.5 890.7L1187.5 883.2L1189.5 879.9L1191.4 881.4L1193.4 876.9L1195.4 882.6L1197.4 880.4L1199.3 879.6L1201.3 879L1203.3 884.8L1205.3 875.4L1207.2 879.4L1209.2 878.2L1211.2 877.6L1213.2 884.8L1215.2 886.7L1217.1 881.9L1219.1 883.5L1221.1 884.9L1223.1 885L1225 881.7L1227 883.4L1229 890.9L1231 886.3L1232.9 883L1234.9 884.6L1236.9 878.4L1238.9 887.3L1240.8 887.4L1242.8 878.7L1244.8 881.8L1246.8 880.9L1248.8 881.1L1250.7 880.1L1252.7 880.6L1254.7 886.7L1256.7 876.4L1258.6 882.2L1260.6 882.3L1262.6 879.2L1264.6 877.4L1266.5 879.6L1268.5 886.3L1270.5 887.5L1272.5 879.8L1274.5 879.2L1276.4 876.1L1278.4 875.9L1280.4 882.4L1282.4 882.2L1284.3 873.1L1286.3 880.9L1288.3 886.4L1290.3 875.6L1292.2 881.2L1294.2 877.1L1296.2 886.7L1298.2 886.4L1300.1 882.2L1302.1 881.3L1304.1 879.2L1306.1 877.6L1308.1 878.4L1310 886.4L1312 877.7L1314 876L1316 879.2L1317.9 879.6L1319.9 889L1321.9 882L1323.9 877.5L1325.8 881.9L1327.8 880L1329.8 882.6L1331.8 875.6L1333.8 870.3L1335.7 877.8L1337.7 880.7L1339.7 882.6L1341.7 873.5L1343.6 873.9L1345.6 875.1L1347.6 875L1349.6 877.3L1351.5 876.7L1353.5 869.1L1355.5 870.3L1357.5 865L1359.4 861.8L1361.4 851.7L1363.4 853.1L1365.4 861.5L1367.4 850.1L1369.3 846.3L1371.3 841.9L1373.3 844.7L1375.3 840.9L1377.2 842.8L1379.2 843.7L1381.2 834.7L1383.2 838.8L1385.1 833.1L1387.1 825.2L1389.1 827.9L1391.1 831.9L1393.1 832.2L1395 835.1L1397 829.8L1399 828.6L1401 829.6L1402.9 825.1L1404.9 831L1406.9 827L1408.9 828.2L1410.8 829.2L1412.8 804.7L1414.8 781.1L1416.8 773.7L1418.7 771.6L1420.7 770.6L1422.7 759.8L1424.7 765.4L1426.7 767L1428.6 766.3L1430.6 768.5L1432.6 768.3L1434.6 768.3L1436.5 773.8L1438.5 771.1L1440.5 762.6L1442.5 770.2L1444.4 765.5L1446.4 763.8L1448.4 762.5L1450.4 755.6L1452.4 757.7L1454.3 761.6L1456.3 767.4L1458.3 770.1L1460.3 774.2L1462.2 776.6L1464.2 777.3L1466.2 784L1468.2 782.1L1470.1 772.7L1472.1 783.4L1474.1 778.7L1476.1 784L1478 782.3L1480 781.3L1482 793.1" stroke="#1a7d1a" stroke-width="3.2" fill="none" stroke-linejoin="round"/>
<path d="M1185.5 874.9L1187.5 874.5L1189.5 869.3L1191.4 868.9L1193.4 874.7L1195.4 878.1L1197.4 877.8L1199.3 875.3L1201.3 874L1203.3 876L1205.3 874.6L1207.2 878.7L1209.2 874.2L1211.2 875.4L1213.2 872.7L1215.2 874.1L1217.1 873.1L1219.1 876.3L1221.1 877.8L1223.1 877L1225 872.1L1227 871.5L1229 869.4L1231 872.4L1232.9 873.9L1234.9 874.1L1236.9 874.4L1238.9 878.3L1240.8 872.9L1242.8 871.7L1244.8 870L1246.8 869.2L1248.8 876.8L1250.7 884.4L1252.7 876.6L1254.7 875.9L1256.7 878L1258.6 878.1L1260.6 875.1L1262.6 871.2L1264.6 873.8L1266.5 876.7L1268.5 873.2L1270.5 872.1L1272.5 878.9L1274.5 873L1276.4 879.7L1278.4 876.9L1280.4 876.2L1282.4 875.8L1284.3 878.9L1286.3 874.8L1288.3 879.9L1290.3 875.1L1292.2 879.7L1294.2 877.1L1296.2 878.9L1298.2 876.6L1300.1 875.1L1302.1 874.3L1304.1 869.3L1306.1 873L1308.1 870.3L1310 877.8L1312 871.2L1314 869.3L1316 868.9L1317.9 869.2L1319.9 873.6L1321.9 876.2L1323.9 875.9L1325.8 876L1327.8 871.3L1329.8 879L1331.8 873L1333.8 871.6L1335.7 874.4L1337.7 877.2L1339.7 878.6L1341.7 872.6L1343.6 872.3L1345.6 876.1L1347.6 873.8L1349.6 871.2L1351.5 877L1353.5 870.5L1355.5 876.7L1357.5 873.1L1359.4 877.9L1361.4 872.7L1363.4 876.1L1365.4 879.2L1367.4 876.1L1369.3 876.6L1371.3 875.8L1373.3 875.1L1375.3 877.2L1377.2 877L1379.2 876.8L1381.2 873.2L1383.2 874.7L1385.1 874.1L1387.1 874.9L1389.1 872.8L1391.1 869.6L1393.1 866.8L1395 877.2L1397 877.8L1399 880.2L1401 878.3L1402.9 872.2L1404.9 877.3L1406.9 875.1L1408.9 878L1410.8 883.2L1412.8 881.8L1414.8 879.2L1416.8 880.6L1418.7 879.1L1420.7 879.5L1422.7 876.1L1424.7 879.8L1426.7 874.2L1428.6 874.2L1430.6 878.6L1432.6 876.7L1434.6 878.8L1436.5 881.7L1438.5 876.4L1440.5 877.9L1442.5 873.5L1444.4 871.5L1446.4 877.4L1448.4 879.4L1450.4 876L1452.4 876L1454.3 876.5L1456.3 876.4L1458.3 874.9L1460.3 877.9L1462.2 875.3L1464.2 873.6L1466.2 875.8L1468.2 878.1L1470.1 875.4L1472.1 872.2L1474.1 871.5L1476.1 874L1478 872.3L1480 877L1482 873.4L1482 879.5L1480 885.2L1478 878.6L1476.1 882.3L1474.1 882.1L1472.1 882.4L1470.1 883.2L1468.2 884.5L1466.2 885.3L1464.2 880.1L1462.2 885.5L1460.3 888.1L1458.3 882.3L1456.3 885.7L1454.3 886.7L1452.4 885.7L1450.4 882.3L1448.4 887.3L1446.4 886.3L1444.4 877.8L1442.5 880.8L1440.5 884.2L1438.5 883.3L1436.5 890.8L1434.6 887.3L1432.6 887.1L1430.6 884.7L1428.6 882.8L1426.7 883.7L1424.7 890.8L1422.7 887.2L1420.7 885.4L1418.7 886.2L1416.8 887.7L1414.8 889.3L1412.8 889.8L1410.8 889.5L1408.9 884.9L1406.9 886.1L1404.9 883.7L1402.9 879.8L1401 887.5L1399 888.6L1397 888.7L1395 885.5L1393.1 877L1391.1 875.2L1389.1 879.3L1387.1 882.9L1385.1 881L1383.2 880.8L1381.2 880.3L1379.2 883.6L1377.2 885.4L1375.3 884L1373.3 884L1371.3 881.3L1369.3 882.1L1367.4 886.9L1365.4 890.3L1363.4 883.8L1361.4 883.1L1359.4 889L1357.5 878.8L1355.5 887L1353.5 879.6L1351.5 883.4L1349.6 881.2L1347.6 884.6L1345.6 883.5L1343.6 883.1L1341.7 886L1339.7 887.7L1337.7 889.4L1335.7 883.6L1333.8 881.8L1331.8 887.9L1329.8 888.7L1327.8 881.3L1325.8 888.3L1323.9 889.7L1321.9 890.7L1319.9 887.4L1317.9 879.5L1316 881.2L1314 884.2L1312 883.9L1310 886.2L1308.1 882L1306.1 881.7L1304.1 880.7L1302.1 885L1300.1 886.1L1298.2 889.5L1296.2 886.5L1294.2 889.9L1292.2 891.8L1290.3 885L1288.3 889.7L1286.3 887.3L1284.3 891L1282.4 885.2L1280.4 883.6L1278.4 886.7L1276.4 887.3L1274.5 886.8L1272.5 888.3L1270.5 883.6L1268.5 885.9L1266.5 888.6L1264.6 884L1262.6 881.7L1260.6 886.1L1258.6 892L1256.7 890.2L1254.7 885.8L1252.7 886.2L1250.7 892.5L1248.8 887.6L1246.8 881.5L1244.8 881.5L1242.8 883.3L1240.8 885.4L1238.9 891.5L1236.9 888L1234.9 888L1232.9 882.5L1231 881.9L1229 878.7L1227 883.1L1225 881.4L1223.1 890.2L1221.1 886.9L1219.1 886.4L1217.1 886.2L1215.2 882.8L1213.2 886.4L1211.2 888.5L1209.2 884.3L1207.2 888.2L1205.3 885.2L1203.3 890.4L1201.3 886.7L1199.3 887.1L1197.4 887.2L1195.4 885.4L1193.4 887.4L1191.4 877.6L1189.5 882.8L1187.5 882.1L1185.5 886.2Z" fill="#d0d3fa" opacity="0.8"/>
<path d="M1185.5 880.5L1187.5 878.3L1189.5 876L1191.4 873.3L1193.4 881.1L1195.4 881.8L1197.4 882.5L1199.3 881.2L1201.3 880.4L1203.3 883.2L1205.3 879.9L1207.2 883.5L1209.2 879.3L1211.2 881.9L1213.2 879.5L1215.2 878.4L1217.1 879.6L1219.1 881.3L1221.1 882.3L1223.1 883.6L1225 876.8L1227 877.3L1229 874L1231 877.1L1232.9 878.2L1234.9 881.1L1236.9 881.2L1238.9 884.9L1240.8 879.1L1242.8 877.5L1244.8 875.8L1246.8 875.4L1248.8 882.2L1250.7 888.4L1252.7 881.4L1254.7 880.8L1256.7 884.1L1258.6 885.1L1260.6 880.6L1262.6 876.5L1264.6 878.9L1266.5 882.7L1268.5 879.5L1270.5 877.8L1272.5 883.6L1274.5 879.9L1276.4 883.5L1278.4 881.8L1280.4 879.9L1282.4 880.5L1284.3 884.9L1286.3 881L1288.3 884.8L1290.3 880L1292.2 885.7L1294.2 883.5L1296.2 882.7L1298.2 883.1L1300.1 880.6L1302.1 879.7L1304.1 875L1306.1 877.3L1308.1 876.2L1310 882L1312 877.6L1314 876.7L1316 875.1L1317.9 874.4L1319.9 880.5L1321.9 883.5L1323.9 882.8L1325.8 882.2L1327.8 876.3L1329.8 883.8L1331.8 880.4L1333.8 876.7L1335.7 879L1337.7 883.3L1339.7 883.2L1341.7 879.3L1343.6 877.7L1345.6 879.8L1347.6 879.2L1349.6 876.2L1351.5 880.2L1353.5 875L1355.5 881.8L1357.5 876L1359.4 883.5L1361.4 877.9L1363.4 879.9L1365.4 884.7L1367.4 881.5L1369.3 879.3L1371.3 878.5L1373.3 879.5L1375.3 880.6L1377.2 881.2L1379.2 880.2L1381.2 876.8L1383.2 877.8L1385.1 877.5L1387.1 878.9L1389.1 876L1391.1 872.4L1393.1 871.9L1395 881.3L1397 883.3L1399 884.4L1401 882.9L1402.9 876L1404.9 880.5L1406.9 880.6L1408.9 881.4L1410.8 886.3L1412.8 885.8L1414.8 884.3L1416.8 884.1L1418.7 882.6L1420.7 882.5L1422.7 881.7L1424.7 885.3L1426.7 879L1428.6 878.5L1430.6 881.7L1432.6 881.9L1434.6 883L1436.5 886.2L1438.5 879.9L1440.5 881L1442.5 877.1L1444.4 874.7L1446.4 881.8L1448.4 883.4L1450.4 879.1L1452.4 880.8L1454.3 881.6L1456.3 881.1L1458.3 878.6L1460.3 883L1462.2 880.4L1464.2 876.9L1466.2 880.6L1468.2 881.3L1470.1 879.3L1472.1 877.3L1474.1 876.8L1476.1 878.1L1478 875.4L1480 881.1L1482 876.5" stroke="#0b24e0" stroke-width="3.2" fill="none" stroke-linejoin="round"/>
<path d="M1185.5 879.3L1187.5 879.3L1189.5 879.6L1191.4 877.7L1193.4 879.3L1195.4 881.8L1197.4 879.8L1199.3 880.6L1201.3 880.4L1203.3 879L1205.3 877.9L1207.2 876.3L1209.2 877.7L1211.2 878.6L1213.2 881.2L1215.2 882.1L1217.1 879.7L1219.1 875.5L1221.1 878.2L1223.1 878.4L1225 877.3L1227 882.7L1229 881.3L1231 877.6L1232.9 877.9L1234.9 879.1L1236.9 877.6L1238.9 878.7L1240.8 876.6L1242.8 880.2L1244.8 877.7L1246.8 882.6L1248.8 886.2L1250.7 882.7L1252.7 882.9L1254.7 878.9L1256.7 877.7L1258.6 881.8L1260.6 877.3L1262.6 881L1264.6 880.3L1266.5 879.8L1268.5 879.1L1270.5 877.4L1272.5 876.1L1274.5 877.2L1276.4 876.5L1278.4 876.8L1280.4 878.4L1282.4 879L1284.3 878.3L1286.3 876L1288.3 878L1290.3 871.8L1292.2 877.6L1294.2 880L1296.2 875.8L1298.2 872.5L1300.1 874.7L1302.1 874L1304.1 872.1L1306.1 876.2L1308.1 880.1L1310 877.7L1312 874.1L1314 878.8L1316 876.4L1317.9 875.1L1319.9 876.3L1321.9 873.8L1323.9 873.7L1325.8 869.4L1327.8 872.5L1329.8 877.7L1331.8 878.3L1333.8 880.2L1335.7 875.8L1337.7 879.6L1339.7 878.4L1341.7 876.8L1343.6 881.1L1345.6 881.3L1347.6 885.4L1349.6 885.7L1351.5 886.1L1353.5 885.6L1355.5 883.1L1357.5 885.9L1359.4 885.2L1361.4 885.8L1363.4 884.1L1365.4 883.6L1367.4 886L1369.3 888.9L1371.3 885.4L1373.3 886.1L1375.3 883.5L1377.2 885.5L1379.2 882.9L1381.2 887L1383.2 883.3L1385.1 885.9L1387.1 888.5L1389.1 890.5L1391.1 889.4L1393.1 884.9L1395 886.3L1397 885.6L1399 893.5L1401 888.6L1402.9 887.6L1404.9 889.7L1406.9 891L1408.9 890.3L1410.8 885.4L1412.8 892L1414.8 890.9L1416.8 888.3L1418.7 891.3L1420.7 891.9L1422.7 891.4L1424.7 893.4L1426.7 891.7L1428.6 893.3L1430.6 890L1432.6 890.4L1434.6 885.4L1436.5 888.8L1438.5 886.2L1440.5 891.7L1442.5 891.2L1444.4 889.2L1446.4 886.7L1448.4 893.3L1450.4 888.3L1452.4 888.5L1454.3 886.2L1456.3 887.6L1458.3 888.8L1460.3 890.8L1462.2 892.6L1464.2 890.4L1466.2 889.5L1468.2 884.6L1470.1 889.3L1472.1 889.3L1474.1 892.8L1476.1 891L1478 889.5L1480 887.4L1482 885.4L1482 889L1480 891L1478 892.7L1476.1 895L1474.1 896.2L1472.1 891.9L1470.1 893.6L1468.2 889.6L1466.2 894.7L1464.2 893.8L1462.2 896.8L1460.3 894.4L1458.3 893L1456.3 890.6L1454.3 889.9L1452.4 892.1L1450.4 893L1448.4 896.1L1446.4 889.7L1444.4 894.5L1442.5 895.2L1440.5 896.8L1438.5 891.5L1436.5 892L1434.6 889.6L1432.6 894.4L1430.6 893.3L1428.6 898L1426.7 895L1424.7 898.2L1422.7 894.9L1420.7 896.2L1418.7 895.1L1416.8 891.8L1414.8 896.5L1412.8 894.7L1410.8 890.8L1408.9 893.6L1406.9 894.8L1404.9 894.2L1402.9 891.7L1401 892.6L1399 897L1397 890.8L1395 889.1L1393.1 889.9L1391.1 893L1389.1 894.8L1387.1 892.5L1385.1 890.5L1383.2 888.2L1381.2 890.7L1379.2 886.5L1377.2 891.3L1375.3 888.6L1373.3 889.6L1371.3 889.8L1369.3 892.8L1367.4 889L1365.4 888.6L1363.4 888.4L1361.4 890.5L1359.4 890.6L1357.5 889.9L1355.5 888.6L1353.5 891L1351.5 892.2L1349.6 891.8L1347.6 890L1345.6 884.5L1343.6 884.2L1341.7 882.3L1339.7 883.9L1337.7 882.8L1335.7 881.3L1333.8 883.5L1331.8 882.9L1329.8 880.9L1327.8 878.3L1325.8 875.7L1323.9 879.5L1321.9 880.1L1319.9 881.8L1317.9 881.2L1316 882.2L1314 884L1312 880.2L1310 883.8L1308.1 883.3L1306.1 879.6L1304.1 877.9L1302.1 878.9L1300.1 879.1L1298.2 878.8L1296.2 880.7L1294.2 883.7L1292.2 881.8L1290.3 877.2L1288.3 882.1L1286.3 882.4L1284.3 884.8L1282.4 885L1280.4 883.8L1278.4 880.7L1276.4 880.7L1274.5 881.3L1272.5 881.5L1270.5 880.7L1268.5 882.9L1266.5 884.2L1264.6 883.8L1262.6 885.5L1260.6 883.3L1258.6 885.8L1256.7 881.9L1254.7 882.3L1252.7 886.4L1250.7 887.4L1248.8 890.6L1246.8 887.1L1244.8 884.2L1242.8 886.9L1240.8 882.8L1238.9 883L1236.9 884L1234.9 884.2L1232.9 881.3L1231 884.6L1229 885.3L1227 886.6L1225 883.8L1223.1 885L1221.1 883.5L1219.1 882.4L1217.1 884.4L1215.2 886.8L1213.2 885.1L1211.2 883.1L1209.2 881.4L1207.2 881.9L1205.3 884.8L1203.3 884.7L1201.3 884.7L1199.3 884.5L1197.4 884.5L1195.4 888.6L1193.4 884.3L1191.4 883.2L1189.5 885.1L1187.5 885.6L1185.5 885.3Z" fill="#fbc9c9" opacity="0.8"/>
<path d="M1185.5 882.3L1187.5 882.4L1189.5 882.3L1191.4 880.5L1193.4 881.8L1195.4 885.2L1197.4 882.1L1199.3 882.6L1201.3 882.6L1203.3 881.8L1205.3 881.3L1207.2 879.1L1209.2 879.6L1211.2 880.9L1213.2 883.2L1215.2 884.5L1217.1 882.1L1219.1 878.9L1221.1 880.8L1223.1 881.7L1225 880.6L1227 884.6L1229 883.3L1231 881.1L1232.9 879.6L1234.9 881.6L1236.9 880.8L1238.9 880.9L1240.8 879.7L1242.8 883.6L1244.8 881L1246.8 884.8L1248.8 888.4L1250.7 885L1252.7 884.7L1254.7 880.6L1256.7 879.8L1258.6 883.8L1260.6 880.3L1262.6 883.3L1264.6 882L1266.5 882L1268.5 881L1270.5 879.1L1272.5 878.8L1274.5 879.2L1276.4 878.6L1278.4 878.7L1280.4 881.1L1282.4 882L1284.3 881.6L1286.3 879.2L1288.3 880.1L1290.3 874.5L1292.2 879.7L1294.2 881.9L1296.2 878.2L1298.2 875.7L1300.1 876.9L1302.1 876.5L1304.1 875L1306.1 877.9L1308.1 881.7L1310 880.8L1312 877.2L1314 881.4L1316 879.3L1317.9 878.1L1319.9 879L1321.9 876.9L1323.9 876.6L1325.8 872.5L1327.8 875.4L1329.8 879.3L1331.8 880.6L1333.8 881.9L1335.7 878.6L1337.7 881.2L1339.7 881.2L1341.7 879.6L1343.6 882.6L1345.6 882.9L1347.6 887.7L1349.6 888.8L1351.5 889.2L1353.5 888.3L1355.5 885.9L1357.5 887.9L1359.4 887.9L1361.4 888.1L1363.4 886.2L1365.4 886.1L1367.4 887.5L1369.3 890.8L1371.3 887.6L1373.3 887.9L1375.3 886.1L1377.2 888.4L1379.2 884.7L1381.2 888.8L1383.2 885.7L1385.1 888.2L1387.1 890.5L1389.1 892.6L1391.1 891.2L1393.1 887.4L1395 887.7L1397 888.2L1399 895.2L1401 890.6L1402.9 889.7L1404.9 891.9L1406.9 892.9L1408.9 892L1410.8 888.1L1412.8 893.3L1414.8 893.7L1416.8 890L1418.7 893.2L1420.7 894.1L1422.7 893.2L1424.7 895.8L1426.7 893.3L1428.6 895.7L1430.6 891.7L1432.6 892.4L1434.6 887.5L1436.5 890.4L1438.5 888.8L1440.5 894.3L1442.5 893.2L1444.4 891.8L1446.4 888.2L1448.4 894.7L1450.4 890.7L1452.4 890.3L1454.3 888L1456.3 889.1L1458.3 890.9L1460.3 892.6L1462.2 894.7L1464.2 892.1L1466.2 892.1L1468.2 887.1L1470.1 891.4L1472.1 890.6L1474.1 894.5L1476.1 893L1478 891.1L1480 889.2L1482 887.2" stroke="#ed1c24" stroke-width="3.2" fill="none" stroke-linejoin="round"/>
<path d="M1200 706L1234.5 706" stroke="#1a7d1a" stroke-width="3"/>
<text x="1242.5" y="714.5" font-size="29.7">Reward</text>
<path d="M1200 738L1234.5 738" stroke="#0b24e0" stroke-width="3"/>
<text x="1242.5" y="746.8" font-size="29.7">Neutral</text>
<path d="M1200 769.3L1234.5 769.3" stroke="#ed1c24" stroke-width="3"/>
<text x="1242.5" y="778.5" font-size="29.7">Punish.</text>
<path d="M1638.5 704.4V910.4M1638.5 705.9h-8M1638.5 744.8h-8M1638.5 784.3h-8M1638.5 823.8h-8M1638.5 863.6h-8M1638.5 903.3h-8" stroke="#1f1f1f" stroke-width="1.8" fill="none"/>
<path d="M1638.5 910.4H1909.4M1638.5 910.4v9M1772.6 910.4v9M1796.8 910.4v9M1841.5 910.4v9M1909.4 910.4v9" stroke="#1f1f1f" stroke-width="1.8" fill="none"/>
<text x="1619" y="713.8" text-anchor="end" fill="#1c1c1c" font-size="24.3">10</text>
<text x="1619" y="752.7" text-anchor="end" fill="#1c1c1c" font-size="24.3">8</text>
<text x="1619" y="792.2" text-anchor="end" fill="#1c1c1c" font-size="24.3">6</text>
<text x="1619" y="831.7" text-anchor="end" fill="#1c1c1c" font-size="24.3">4</text>
<text x="1619" y="871.5" text-anchor="end" fill="#1c1c1c" font-size="24.3">2</text>
<text x="1619" y="911.2" text-anchor="end" fill="#1c1c1c" font-size="24.3">0</text>
<text x="1638" y="941.6" text-anchor="middle" fill="#1c1c1c" font-size="25.5">-6</text>
<text x="1774.8" y="941.6" text-anchor="middle" fill="#1c1c1c" font-size="25.5">0</text>
<text x="1799.2" y="941.6" text-anchor="middle" fill="#1c1c1c" font-size="25.5">1</text>
<text x="1844.2" y="941.6" text-anchor="middle" fill="#1c1c1c" font-size="25.5">3</text>
<text x="1912.5" y="941.6" text-anchor="middle" fill="#1c1c1c" font-size="25.5">6</text>
<text x="1711.4" y="980" font-size="33.4">Time - CS (s)</text>
<text text-anchor="middle" transform="translate(1574.5 812) rotate(-90)" font-size="33">Velocity (cm/s)</text>
<path d="M1638.5 885L1640.1 884.4L1641.7 885.9L1643.2 886L1644.8 888.4L1646.4 886.2L1648 885.2L1649.6 884.3L1651.1 885.6L1652.7 885.6L1654.3 884L1655.9 883.7L1657.5 883.8L1659 886.2L1660.6 884.3L1662.2 883.4L1663.8 885.5L1665.4 885L1666.9 886.7L1668.5 887.7L1670.1 884.7L1671.7 888.2L1673.3 888.7L1674.8 889.1L1676.4 887.5L1678 889.5L1679.6 889.2L1681.2 887.5L1682.7 888L1684.3 885.2L1685.9 887.1L1687.5 887.8L1689.1 888.1L1690.6 888L1692.2 888.7L1693.8 889.2L1695.4 889.7L1697 888.8L1698.5 890L1700.1 890.2L1701.7 890.5L1703.3 891.3L1704.9 889.7L1706.5 891.6L1708 891.4L1709.6 891.6L1711.2 892.3L1712.8 890.4L1714.4 888.9L1715.9 890.1L1717.5 888.7L1719.1 887.6L1720.7 888.4L1722.3 888.9L1723.8 889.2L1725.4 888L1727 887.8L1728.6 887.3L1730.2 888.2L1731.7 888.1L1733.3 885.4L1734.9 886.4L1736.5 886.8L1738.1 889.2L1739.6 887.7L1741.2 884.8L1742.8 885.3L1744.4 886L1746 887.3L1747.5 886.3L1749.1 884.3L1750.7 885.4L1752.3 886L1753.9 886.7L1755.4 886.3L1757 883.8L1758.6 886.2L1760.2 886.2L1761.8 887.2L1763.3 885.7L1764.9 886.4L1766.5 885.6L1768.1 885.6L1769.7 883.2L1771.2 882.9L1772.8 883L1774.4 884.3L1776 883L1777.6 883.6L1779.1 880.5L1780.7 882L1782.3 881.4L1783.9 881.2L1785.5 880.2L1787 879.8L1788.6 876.3L1790.2 874.3L1791.8 872.4L1793.4 870.6L1794.9 870.1L1796.5 868L1798.1 868.1L1799.7 867.9L1801.3 871.5L1802.8 869.5L1804.4 869.3L1806 868.5L1807.6 867.7L1809.2 867.2L1810.7 869.7L1812.3 869.8L1813.9 870.2L1815.5 873.7L1817.1 873.1L1818.6 873.6L1820.2 873.2L1821.8 876.1L1823.4 876.8L1825 875.6L1826.5 874.5L1828.1 873.7L1829.7 875.8L1831.3 876.4L1832.9 878.6L1834.5 877.4L1836 877.7L1837.6 877.1L1839.2 879.8L1840.8 879.2L1842.4 878.3L1843.9 878.4L1845.5 878.8L1847.1 877.8L1848.7 878.6L1850.3 881.4L1851.8 881.1L1853.4 880.8L1855 878.1L1856.6 878L1858.2 876.4L1859.7 876.3L1861.3 877.9L1862.9 875.3L1864.5 875.7L1866.1 874.3L1867.6 873.6L1869.2 873.4L1870.8 875.2L1872.4 874.8L1874 874L1875.5 875.8L1877.1 876.3L1878.7 877.5L1880.3 875.8L1881.9 877.6L1883.4 880.4L1885 877.9L1886.6 880.5L1888.2 880L1889.8 881.9L1891.3 881L1892.9 877.9L1894.5 875.2L1896.1 873.1L1897.7 875.4L1899.2 875.1L1900.8 875.4L1902.4 874.6L1904 875.9L1905.6 874.7L1907.1 878.4L1908.7 880L1908.7 884L1907.1 882.5L1905.6 879.6L1904 880.7L1902.4 877.8L1900.8 879.8L1899.2 878.8L1897.7 879.2L1896.1 878.6L1894.5 880.9L1892.9 883.9L1891.3 884.6L1889.8 885.5L1888.2 883.7L1886.6 884.4L1885 884L1883.4 884.4L1881.9 881L1880.3 879.5L1878.7 882.3L1877.1 881.1L1875.5 880.3L1874 879.7L1872.4 878.3L1870.8 878.7L1869.2 879.6L1867.6 878.6L1866.1 878.7L1864.5 879.4L1862.9 880.1L1861.3 881.6L1859.7 879.9L1858.2 879.8L1856.6 883L1855 882.4L1853.4 885.1L1851.8 884.3L1850.3 885.4L1848.7 884.4L1847.1 883.3L1845.5 882L1843.9 882.2L1842.4 882.5L1840.8 884.3L1839.2 884.2L1837.6 881.5L1836 881.7L1834.5 881.8L1832.9 881.8L1831.3 879.6L1829.7 879.2L1828.1 879.2L1826.5 879.6L1825 881.3L1823.4 880.6L1821.8 879.9L1820.2 878.1L1818.6 877.1L1817.1 876.3L1815.5 877.1L1813.9 875.9L1812.3 873.5L1810.7 874L1809.2 871.8L1807.6 870.6L1806 874.1L1804.4 873L1802.8 872.4L1801.3 876.5L1799.7 873.8L1798.1 871.5L1796.5 871.9L1794.9 873.5L1793.4 876.2L1791.8 877.2L1790.2 878.4L1788.6 879.9L1787 885L1785.5 883.5L1783.9 886L1782.3 887L1780.7 886.3L1779.1 886.3L1777.6 887.2L1776 888.4L1774.4 888L1772.8 888.8L1771.2 887.4L1769.7 888.5L1768.1 891.2L1766.5 889L1764.9 890.3L1763.3 888.5L1761.8 892L1760.2 889.9L1758.6 890.2L1757 886.7L1755.4 889.4L1753.9 889.5L1752.3 889.4L1750.7 890L1749.1 889.9L1747.5 890.2L1746 891.1L1744.4 890.4L1742.8 890.5L1741.2 890L1739.6 891.3L1738.1 892.5L1736.5 889.9L1734.9 892L1733.3 890.1L1731.7 893.3L1730.2 893.5L1728.6 892.4L1727 891.6L1725.4 891L1723.8 893.3L1722.3 892.1L1720.7 892.8L1719.1 891.2L1717.5 891.8L1715.9 895.2L1714.4 892L1712.8 894L1711.2 897L1709.6 897.1L1708 896.9L1706.5 895.1L1704.9 892.4L1703.3 894.8L1701.7 894.8L1700.1 893.5L1698.5 893.5L1697 891.6L1695.4 892.8L1693.8 894.7L1692.2 893.2L1690.6 893.1L1689.1 890.9L1687.5 892.9L1685.9 891.4L1684.3 889.4L1682.7 892.1L1681.2 892L1679.6 892.6L1678 892.7L1676.4 891.8L1674.8 894L1673.3 891.5L1671.7 891.2L1670.1 888.7L1668.5 892.3L1666.9 892L1665.4 888.9L1663.8 890.4L1662.2 886.4L1660.6 889.3L1659 888.9L1657.5 888.5L1655.9 887.6L1654.3 889.2L1652.7 890.3L1651.1 889.2L1649.6 888.9L1648 888L1646.4 889.3L1644.8 892.3L1643.2 889.5L1641.7 889L1640.1 889.5L1638.5 889.9Z" fill="#c6f2c6" opacity="0.8"/>
<path d="M1638.5 887.4L1640.1 886.9L1641.7 887.4L1643.2 887.8L1644.8 890.3L1646.4 887.7L1648 886.6L1649.6 886.6L1651.1 887.4L1652.7 888L1654.3 886.6L1655.9 885.6L1657.5 886.1L1659 887.5L1660.6 886.8L1662.2 884.9L1663.8 887.9L1665.4 886.9L1666.9 889.3L1668.5 890L1670.1 886.7L1671.7 889.7L1673.3 890.1L1674.8 891.5L1676.4 889.7L1678 891.1L1679.6 890.9L1681.2 889.8L1682.7 890.1L1684.3 887.3L1685.9 889.3L1687.5 890.4L1689.1 889.5L1690.6 890.6L1692.2 891L1693.8 891.9L1695.4 891.2L1697 890.2L1698.5 891.7L1700.1 891.9L1701.7 892.7L1703.3 893L1704.9 891L1706.5 893.4L1708 894.1L1709.6 894.3L1711.2 894.6L1712.8 892.2L1714.4 890.5L1715.9 892.6L1717.5 890.3L1719.1 889.4L1720.7 890.6L1722.3 890.5L1723.8 891.3L1725.4 889.5L1727 889.7L1728.6 889.8L1730.2 890.9L1731.7 890.7L1733.3 887.8L1734.9 889.2L1736.5 888.4L1738.1 890.8L1739.6 889.5L1741.2 887.4L1742.8 887.9L1744.4 888.2L1746 889.2L1747.5 888.3L1749.1 887.1L1750.7 887.7L1752.3 887.7L1753.9 888.1L1755.4 887.9L1757 885.3L1758.6 888.2L1760.2 888.1L1761.8 889.6L1763.3 887.1L1764.9 888.3L1766.5 887.3L1768.1 888.4L1769.7 885.8L1771.2 885.2L1772.8 885.9L1774.4 886.2L1776 885.7L1777.6 885.4L1779.1 883.4L1780.7 884.1L1782.3 884.2L1783.9 883.6L1785.5 881.9L1787 882.4L1788.6 878.1L1790.2 876.4L1791.8 874.8L1793.4 873.4L1794.9 871.8L1796.5 870L1798.1 869.8L1799.7 870.9L1801.3 874L1802.8 870.9L1804.4 871.2L1806 871.3L1807.6 869.1L1809.2 869.5L1810.7 871.9L1812.3 871.7L1813.9 873L1815.5 875.4L1817.1 874.7L1818.6 875.4L1820.2 875.7L1821.8 878L1823.4 878.7L1825 878.4L1826.5 877.1L1828.1 876.5L1829.7 877.5L1831.3 878L1832.9 880.2L1834.5 879.6L1836 879.7L1837.6 879.3L1839.2 882L1840.8 881.8L1842.4 880.4L1843.9 880.3L1845.5 880.4L1847.1 880.6L1848.7 881.5L1850.3 883.4L1851.8 882.7L1853.4 882.9L1855 880.2L1856.6 880.5L1858.2 878.1L1859.7 878.1L1861.3 879.7L1862.9 877.7L1864.5 877.6L1866.1 876.5L1867.6 876.1L1869.2 876.5L1870.8 877L1872.4 876.5L1874 876.9L1875.5 878L1877.1 878.7L1878.7 879.9L1880.3 877.7L1881.9 879.3L1883.4 882.4L1885 881L1886.6 882.5L1888.2 881.9L1889.8 883.7L1891.3 882.8L1892.9 880.9L1894.5 878.1L1896.1 875.9L1897.7 877.3L1899.2 877L1900.8 877.6L1902.4 876.2L1904 878.3L1905.6 877.1L1907.1 880.4L1908.7 882" stroke="#1a7d1a" stroke-width="3.4" fill="none" stroke-linejoin="round"/>
<path d="M1638.5 882.1L1640.1 880.9L1641.7 880.6L1643.2 880.7L1644.8 882.8L1646.4 880.6L1648 881L1649.6 883L1651.1 881.9L1652.7 883L1654.3 884.7L1655.9 883.7L1657.5 884.2L1659 884.2L1660.6 883.1L1662.2 883.6L1663.8 883L1665.4 884.1L1666.9 884.1L1668.5 883.1L1670.1 886.6L1671.7 885L1673.3 884.5L1674.8 883.5L1676.4 885.8L1678 883.4L1679.6 884L1681.2 884.7L1682.7 883.6L1684.3 883.3L1685.9 886.9L1687.5 886L1689.1 886.8L1690.6 885.9L1692.2 884.1L1693.8 885.6L1695.4 884.6L1697 886.6L1698.5 887L1700.1 887.4L1701.7 884.9L1703.3 885.2L1704.9 884.4L1706.5 886.6L1708 887.7L1709.6 885.4L1711.2 885.3L1712.8 886.2L1714.4 885.4L1715.9 887.2L1717.5 886L1719.1 885.7L1720.7 886.2L1722.3 887L1723.8 885.8L1725.4 887.7L1727 884.7L1728.6 887.2L1730.2 885.2L1731.7 888.8L1733.3 887.2L1734.9 887.1L1736.5 887.6L1738.1 887.6L1739.6 886.8L1741.2 888.1L1742.8 886.1L1744.4 887.7L1746 885.8L1747.5 887L1749.1 884.5L1750.7 885.5L1752.3 886.8L1753.9 887.5L1755.4 886.3L1757 887.7L1758.6 886.9L1760.2 887L1761.8 885.8L1763.3 884.4L1764.9 883.7L1766.5 884.8L1768.1 886.3L1769.7 886.4L1771.2 885.7L1772.8 884.5L1774.4 883.9L1776 884.6L1777.6 885L1779.1 885L1780.7 885.6L1782.3 884.8L1783.9 884L1785.5 884.4L1787 884.3L1788.6 880.8L1790.2 879.5L1791.8 879.5L1793.4 876.4L1794.9 876.8L1796.5 878.3L1798.1 877.3L1799.7 873.7L1801.3 871.5L1802.8 871.8L1804.4 874.7L1806 872.3L1807.6 873.1L1809.2 868.7L1810.7 868L1812.3 871.7L1813.9 866.6L1815.5 864.7L1817.1 867.4L1818.6 868.4L1820.2 868.6L1821.8 869.1L1823.4 866.5L1825 866.7L1826.5 869.9L1828.1 870.8L1829.7 871.6L1831.3 867.4L1832.9 869.7L1834.5 867.5L1836 865.4L1837.6 866.2L1839.2 866.9L1840.8 869.7L1842.4 872L1843.9 869.4L1845.5 868.7L1847.1 872L1848.7 870.9L1850.3 874.9L1851.8 870.7L1853.4 874.7L1855 875.9L1856.6 873.1L1858.2 875.3L1859.7 872.9L1861.3 875.7L1862.9 876.7L1864.5 878.2L1866.1 877.2L1867.6 877.1L1869.2 878.9L1870.8 878L1872.4 878.3L1874 881L1875.5 880.3L1877.1 879.1L1878.7 882.9L1880.3 880L1881.9 882.4L1883.4 882.7L1885 884.2L1886.6 883.1L1888.2 881.5L1889.8 883.7L1891.3 883.2L1892.9 884.5L1894.5 882.8L1896.1 882.9L1897.7 885.3L1899.2 885.1L1900.8 883.7L1902.4 884.8L1904 886.6L1905.6 885.3L1907.1 884.3L1908.7 886.7L1908.7 894L1907.1 892L1905.6 893L1904 891.8L1902.4 890.4L1900.8 892L1899.2 892.1L1897.7 890.7L1896.1 888.2L1894.5 890.4L1892.9 892L1891.3 892.5L1889.8 889.7L1888.2 889.4L1886.6 890.9L1885 890L1883.4 889.2L1881.9 888L1880.3 890L1878.7 889.3L1877.1 889.4L1875.5 886.1L1874 887.6L1872.4 886.8L1870.8 886.7L1869.2 887.9L1867.6 886.8L1866.1 887.8L1864.5 889.5L1862.9 891.5L1861.3 887.9L1859.7 889.6L1858.2 887.6L1856.6 886.7L1855 888.1L1853.4 885.7L1851.8 891L1850.3 885.8L1848.7 891.1L1847.1 887.4L1845.5 889.8L1843.9 888.8L1842.4 885.1L1840.8 884.8L1839.2 887.1L1837.6 885.8L1836 886L1834.5 886.5L1832.9 882.7L1831.3 888.6L1829.7 883.5L1828.1 883.1L1826.5 884.1L1825 887.4L1823.4 884.6L1821.8 883.3L1820.2 881.7L1818.6 885.6L1817.1 883.6L1815.5 884L1813.9 884L1812.3 882.7L1810.7 885.8L1809.2 884.7L1807.6 885.7L1806 886L1804.4 885.9L1802.8 887.4L1801.3 887.7L1799.7 885.4L1798.1 885L1796.5 885.9L1794.9 889L1793.4 889L1791.8 885.6L1790.2 886L1788.6 889.4L1787 891.7L1785.5 889.4L1783.9 890L1782.3 891.1L1780.7 890.3L1779.1 890.4L1777.6 891.9L1776 892.2L1774.4 891.7L1772.8 892.2L1771.2 889.7L1769.7 892.1L1768.1 892.9L1766.5 890.9L1764.9 890.5L1763.3 888.6L1761.8 892L1760.2 893.8L1758.6 892L1757 891.7L1755.4 892L1753.9 892.8L1752.3 893.4L1750.7 891.4L1749.1 892.3L1747.5 891.3L1746 892.3L1744.4 894.1L1742.8 892.4L1741.2 894.2L1739.6 891.1L1738.1 892.7L1736.5 893.8L1734.9 892.8L1733.3 891.3L1731.7 895.5L1730.2 892.2L1728.6 891.2L1727 891.7L1725.4 893.7L1723.8 892.9L1722.3 891.8L1720.7 893L1719.1 891.5L1717.5 892.5L1715.9 892.3L1714.4 891.6L1712.8 892.6L1711.2 892.7L1709.6 893.2L1708 892L1706.5 891.4L1704.9 892.3L1703.3 893.1L1701.7 891.9L1700.1 892.1L1698.5 892.9L1697 893.6L1695.4 891.3L1693.8 891.1L1692.2 890.1L1690.6 891.8L1689.1 893.8L1687.5 890.2L1685.9 891.7L1684.3 889.9L1682.7 891.6L1681.2 891.5L1679.6 888.5L1678 890.3L1676.4 890.9L1674.8 889.2L1673.3 889.7L1671.7 890.6L1670.1 891.2L1668.5 890.6L1666.9 888.6L1665.4 889.2L1663.8 887.4L1662.2 889.8L1660.6 889.3L1659 890.8L1657.5 891.1L1655.9 890.9L1654.3 890.5L1652.7 889.3L1651.1 887.7L1649.6 889.2L1648 888.6L1646.4 888.5L1644.8 887.5L1643.2 887.2L1641.7 888.4L1640.1 888.2L1638.5 888.9Z" fill="#d0d3fa" opacity="0.8"/>
<path d="M1638.5 885.5L1640.1 884.6L1641.7 884.5L1643.2 884L1644.8 885.1L1646.4 884.6L1648 884.8L1649.6 886.1L1651.1 884.8L1652.7 886.1L1654.3 887.6L1655.9 887.3L1657.5 887.6L1659 887.5L1660.6 886.2L1662.2 886.7L1663.8 885.2L1665.4 886.6L1666.9 886.3L1668.5 886.9L1670.1 888.9L1671.7 887.8L1673.3 887.1L1674.8 886.4L1676.4 888.4L1678 886.9L1679.6 886.2L1681.2 888.1L1682.7 887.6L1684.3 886.6L1685.9 889.3L1687.5 888.1L1689.1 890.3L1690.6 888.8L1692.2 887.1L1693.8 888.4L1695.4 887.9L1697 890.1L1698.5 889.9L1700.1 889.7L1701.7 888.4L1703.3 889.1L1704.9 888.4L1706.5 889L1708 889.8L1709.6 889.3L1711.2 889L1712.8 889.4L1714.4 888.5L1715.9 889.8L1717.5 889.2L1719.1 888.6L1720.7 889.6L1722.3 889.4L1723.8 889.3L1725.4 890.7L1727 888.2L1728.6 889.2L1730.2 888.7L1731.7 892.2L1733.3 889.3L1734.9 889.9L1736.5 890.7L1738.1 890.2L1739.6 888.9L1741.2 891.2L1742.8 889.2L1744.4 890.9L1746 889.1L1747.5 889.2L1749.1 888.4L1750.7 888.5L1752.3 890.1L1753.9 890.2L1755.4 889.2L1757 889.7L1758.6 889.5L1760.2 890.4L1761.8 888.9L1763.3 886.5L1764.9 887.1L1766.5 887.9L1768.1 889.6L1769.7 889.2L1771.2 887.7L1772.8 888.3L1774.4 887.8L1776 888.4L1777.6 888.5L1779.1 887.7L1780.7 888L1782.3 888L1783.9 887L1785.5 886.9L1787 888L1788.6 885.1L1790.2 882.7L1791.8 882.6L1793.4 882.7L1794.9 882.9L1796.5 882.1L1798.1 881.2L1799.7 879.5L1801.3 879.6L1802.8 879.6L1804.4 880.3L1806 879.2L1807.6 879.4L1809.2 876.7L1810.7 876.9L1812.3 877.2L1813.9 875.3L1815.5 874.4L1817.1 875.5L1818.6 877L1820.2 875.1L1821.8 876.2L1823.4 875.5L1825 877L1826.5 877L1828.1 876.9L1829.7 877.6L1831.3 878L1832.9 876.2L1834.5 877L1836 875.7L1837.6 876L1839.2 877L1840.8 877.3L1842.4 878.6L1843.9 879.1L1845.5 879.2L1847.1 879.7L1848.7 881L1850.3 880.3L1851.8 880.9L1853.4 880.2L1855 882L1856.6 879.9L1858.2 881.5L1859.7 881.3L1861.3 881.8L1862.9 884.1L1864.5 883.9L1866.1 882.5L1867.6 881.9L1869.2 883.4L1870.8 882.4L1872.4 882.5L1874 884.3L1875.5 883.2L1877.1 884.3L1878.7 886.1L1880.3 885L1881.9 885.2L1883.4 885.9L1885 887.1L1886.6 887L1888.2 885.4L1889.8 886.7L1891.3 887.9L1892.9 888.3L1894.5 886.6L1896.1 885.6L1897.7 888L1899.2 888.6L1900.8 887.9L1902.4 887.6L1904 889.2L1905.6 889.2L1907.1 888.2L1908.7 890.3" stroke="#0b24e0" stroke-width="3.4" fill="none" stroke-linejoin="round"/>
<path d="M1638.5 882L1640.1 883.6L1641.7 884.4L1643.2 884.5L1644.8 881.7L1646.4 883.3L1648 881.5L1649.6 883L1651.1 882.2L1652.7 881.8L1654.3 881.8L1655.9 880.2L1657.5 882.9L1659 881.9L1660.6 882.4L1662.2 883L1663.8 881.7L1665.4 883.2L1666.9 883.1L1668.5 881.2L1670.1 883L1671.7 885.6L1673.3 881.1L1674.8 885.5L1676.4 881.2L1678 886.2L1679.6 886.8L1681.2 886.1L1682.7 884.8L1684.3 887L1685.9 885.1L1687.5 884L1689.1 886L1690.6 886.3L1692.2 885.6L1693.8 884.3L1695.4 887.4L1697 888.8L1698.5 888.8L1700.1 887.7L1701.7 886.5L1703.3 885.6L1704.9 886.6L1706.5 888.2L1708 887.1L1709.6 886.2L1711.2 883.8L1712.8 884.8L1714.4 882.2L1715.9 883L1717.5 884.4L1719.1 883.8L1720.7 886.7L1722.3 884.6L1723.8 883.8L1725.4 887.2L1727 882.9L1728.6 879.4L1730.2 880L1731.7 886.2L1733.3 889.3L1734.9 885.2L1736.5 883.3L1738.1 885.7L1739.6 884.4L1741.2 887.5L1742.8 885.2L1744.4 886.5L1746 886.6L1747.5 884.6L1749.1 880.8L1750.7 881.6L1752.3 880.3L1753.9 880.1L1755.4 879.9L1757 883.6L1758.6 882L1760.2 882.6L1761.8 883.7L1763.3 882L1764.9 883L1766.5 884.6L1768.1 887.2L1769.7 883.9L1771.2 881.9L1772.8 881.2L1774.4 878.5L1776 879.1L1777.6 878.6L1779.1 880.2L1780.7 881.4L1782.3 883.3L1783.9 877.7L1785.5 872.1L1787 866.7L1788.6 860.2L1790.2 860.1L1791.8 855.8L1793.4 854.2L1794.9 851.5L1796.5 846.1L1798.1 849.4L1799.7 842L1801.3 836.7L1802.8 837.5L1804.4 832.7L1806 832L1807.6 830.5L1809.2 829L1810.7 822.9L1812.3 821.8L1813.9 817.8L1815.5 817L1817.1 812L1818.6 813.7L1820.2 814.2L1821.8 805.7L1823.4 813.2L1825 807.2L1826.5 803.7L1828.1 805.4L1829.7 804.7L1831.3 802.3L1832.9 799.7L1834.5 804.8L1836 804.3L1837.6 799.2L1839.2 802.3L1840.8 803.7L1842.4 797L1843.9 793.4L1845.5 792.7L1847.1 787L1848.7 789.2L1850.3 783.3L1851.8 782.3L1853.4 783.5L1855 780.9L1856.6 778.1L1858.2 778.7L1859.7 777.9L1861.3 776.9L1862.9 775.5L1864.5 771.8L1866.1 773.7L1867.6 780.9L1869.2 777.4L1870.8 778.4L1872.4 784.1L1874 791.9L1875.5 793.1L1877.1 797.1L1878.7 806.3L1880.3 811.4L1881.9 815.5L1883.4 819.4L1885 824.4L1886.6 825.9L1888.2 827.6L1889.8 833L1891.3 837.6L1892.9 840L1894.5 843.3L1896.1 841.8L1897.7 847L1899.2 848.4L1900.8 850.1L1902.4 850.9L1904 854.6L1905.6 855.8L1907.1 856.4L1908.7 858.9L1908.7 869.2L1907.1 865.4L1905.6 865.3L1904 864.3L1902.4 859.5L1900.8 858.5L1899.2 859.8L1897.7 854.2L1896.1 850.8L1894.5 851L1892.9 851L1891.3 848.3L1889.8 842.6L1888.2 839.2L1886.6 839.2L1885 832.4L1883.4 831.5L1881.9 823.3L1880.3 826.1L1878.7 815.6L1877.1 808.6L1875.5 806.5L1874 803.2L1872.4 796.2L1870.8 794.8L1869.2 788.8L1867.6 790L1866.1 789.2L1864.5 785.2L1862.9 785.7L1861.3 785.8L1859.7 790.4L1858.2 794.4L1856.6 793.7L1855 792.6L1853.4 797.8L1851.8 800.1L1850.3 801.8L1848.7 806.6L1847.1 806.5L1845.5 806L1843.9 808.1L1842.4 813.7L1840.8 819.5L1839.2 815.9L1837.6 819.6L1836 820.6L1834.5 820.4L1832.9 826.8L1831.3 824.9L1829.7 827.4L1828.1 831L1826.5 832L1825 833.8L1823.4 828.7L1821.8 832.8L1820.2 828.5L1818.6 828.9L1817.1 836L1815.5 836.9L1813.9 835.6L1812.3 840.7L1810.7 844.5L1809.2 843.8L1807.6 843.9L1806 849.1L1804.4 849.3L1802.8 857.6L1801.3 858L1799.7 861.8L1798.1 862.8L1796.5 862.1L1794.9 862.8L1793.4 870.2L1791.8 869.4L1790.2 868.1L1788.6 874.1L1787 879.5L1785.5 878.9L1783.9 884.1L1782.3 889.1L1780.7 885.6L1779.1 885.5L1777.6 886L1776 886L1774.4 886.3L1772.8 886.1L1771.2 887.8L1769.7 889.7L1768.1 891.1L1766.5 891.6L1764.9 888.7L1763.3 889.9L1761.8 889.2L1760.2 887.7L1758.6 888.2L1757 887.7L1755.4 886.1L1753.9 884.7L1752.3 886L1750.7 886L1749.1 887.3L1747.5 891L1746 893.7L1744.4 894.3L1742.8 889.9L1741.2 893L1739.6 892.2L1738.1 889.9L1736.5 889.6L1734.9 889.5L1733.3 894.4L1731.7 891.2L1730.2 887.8L1728.6 887.2L1727 889.1L1725.4 894.4L1723.8 891.5L1722.3 889.9L1720.7 891.7L1719.1 887.8L1717.5 891.5L1715.9 888.3L1714.4 890.1L1712.8 889.6L1711.2 891.5L1709.6 891.3L1708 893.6L1706.5 893.4L1704.9 893.3L1703.3 892.2L1701.7 892.3L1700.1 894.7L1698.5 893.5L1697 895.9L1695.4 892.2L1693.8 891.8L1692.2 890.3L1690.6 891.6L1689.1 891.7L1687.5 888.6L1685.9 889.3L1684.3 891.4L1682.7 889.1L1681.2 893.8L1679.6 894.1L1678 891.9L1676.4 887.8L1674.8 893.1L1673.3 888.8L1671.7 890.8L1670.1 888.2L1668.5 888.2L1666.9 888.2L1665.4 887.2L1663.8 887.9L1662.2 888.1L1660.6 889.3L1659 889.8L1657.5 887.8L1655.9 887.7L1654.3 888.1L1652.7 888.8L1651.1 886.2L1649.6 889.5L1648 889.1L1646.4 889.7L1644.8 888.9L1643.2 892.4L1641.7 888.9L1640.1 889.1L1638.5 889.9Z" fill="#fbc9c9" opacity="0.8"/>
<path d="M1638.5 885.9L1640.1 886.3L1641.7 886.7L1643.2 888.5L1644.8 885.3L1646.4 886.5L1648 885.3L1649.6 886.3L1651.1 884.2L1652.7 885.3L1654.3 885L1655.9 883.9L1657.5 885.4L1659 885.9L1660.6 885.8L1662.2 885.6L1663.8 884.8L1665.4 885.2L1666.9 885.7L1668.5 884.7L1670.1 885.6L1671.7 888.2L1673.3 884.9L1674.8 889.3L1676.4 884.5L1678 889.1L1679.6 890.5L1681.2 889.9L1682.7 887L1684.3 889.2L1685.9 887.2L1687.5 886.3L1689.1 888.9L1690.6 889L1692.2 888L1693.8 888L1695.4 889.8L1697 892.4L1698.5 891.1L1700.1 891.2L1701.7 889.4L1703.3 888.9L1704.9 889.9L1706.5 890.8L1708 890.3L1709.6 888.8L1711.2 887.6L1712.8 887.2L1714.4 886.1L1715.9 885.6L1717.5 888L1719.1 885.8L1720.7 889.2L1722.3 887.3L1723.8 887.7L1725.4 890.8L1727 886L1728.6 883.3L1730.2 883.9L1731.7 888.7L1733.3 891.8L1734.9 887.3L1736.5 886.5L1738.1 887.8L1739.6 888.3L1741.2 890.3L1742.8 887.6L1744.4 890.4L1746 890.1L1747.5 887.8L1749.1 884.1L1750.7 883.8L1752.3 883.2L1753.9 882.4L1755.4 883L1757 885.7L1758.6 885.1L1760.2 885.2L1761.8 886.4L1763.3 886L1764.9 885.9L1766.5 888.1L1768.1 889.1L1769.7 886.8L1771.2 884.8L1772.8 883.7L1774.4 882.4L1776 882.6L1777.6 882.3L1779.1 882.8L1780.7 883.5L1782.3 886.2L1783.9 880.9L1785.5 875.5L1787 873.1L1788.6 867.2L1790.2 864.1L1791.8 862.6L1793.4 862.2L1794.9 857.1L1796.5 854.1L1798.1 856.1L1799.7 851.9L1801.3 847.3L1802.8 847.5L1804.4 841L1806 840.5L1807.6 837.2L1809.2 836.4L1810.7 833.7L1812.3 831.2L1813.9 826.7L1815.5 826.9L1817.1 824L1818.6 821.3L1820.2 821.3L1821.8 819.2L1823.4 821L1825 820.5L1826.5 817.9L1828.1 818.2L1829.7 816.1L1831.3 813.6L1832.9 813.3L1834.5 812.6L1836 812.4L1837.6 809.4L1839.2 809.1L1840.8 811.6L1842.4 805.4L1843.9 800.7L1845.5 799.4L1847.1 796.7L1848.7 797.9L1850.3 792.6L1851.8 791.2L1853.4 790.6L1855 786.8L1856.6 785.9L1858.2 786.5L1859.7 784.2L1861.3 781.4L1862.9 780.6L1864.5 778.5L1866.1 781.4L1867.6 785.4L1869.2 783.1L1870.8 786.6L1872.4 790.1L1874 797.6L1875.5 799.8L1877.1 802.9L1878.7 810.9L1880.3 818.7L1881.9 819.4L1883.4 825.5L1885 828.4L1886.6 832.5L1888.2 833.4L1889.8 837.8L1891.3 842.9L1892.9 845.5L1894.5 847.1L1896.1 846.3L1897.7 850.6L1899.2 854.1L1900.8 854.3L1902.4 855.2L1904 859.4L1905.6 860.5L1907.1 860.9L1908.7 864.1" stroke="#ed1c24" stroke-width="3.4" fill="none" stroke-linejoin="round"/>
<text x="-1.5" y="1056.6" font-size="73">e</text>
<text x="263.9" y="1042.9" font-size="41">Early training</text>
<path d="M216.4 1055L565.3 1055" stroke="#808080" stroke-width="3"/>
<text x="105" y="1086.3" font-size="29.1">Sorted by responses to the respective CS</text>
<path d="M169.3 1107.7L591.8 1107.7" stroke="#999" stroke-width="2.6"/>
<text x="128.6" y="1142.3" font-size="32.6">Reward</text>
<text x="314.7" y="1142.3" font-size="32.6">Neutral</text>
<text x="466.2" y="1142.3" font-size="32.9">Punishment</text>
<path d="M104 1190.6H187.6V1176H203V1190.6H270.9" stroke="#5c5c5c" stroke-width="1.5" fill="none" stroke-linejoin="round"/>
<path d="M104 1227H203V1212.2H230.2V1227H270.9" stroke="#5c5c5c" stroke-width="1.5" fill="none" stroke-linejoin="round"/>
<path d="M104 1258H230.2V1243.2H236.6V1258H270.9" stroke="#5c5c5c" stroke-width="1.5" fill="none" stroke-linejoin="round"/>
<text x="102" y="1180.6" font-size="25.5">CS<tspan font-size="14" dy="8">R</tspan></text>
<text x="102" y="1218.9" font-size="24.5">Decision</text>
<text x="102" y="1249.5" font-size="25.5">US</text>
<text x="289.3" y="1217.3" font-size="25.5">CS<tspan font-size="14" dy="8">N</tspan></text>
<path d="M289.9 1232.6H372.8V1218H388.1V1232.6H455.5" stroke="#5c5c5c" stroke-width="1.5" fill="none" stroke-linejoin="round"/>
<path d="M474.5 1190.6H557.8V1176H573V1190.6H640.5" stroke="#5c5c5c" stroke-width="1.5" fill="none" stroke-linejoin="round"/>
<path d="M474.5 1227H573V1212.2H600.2V1227H640.5" stroke="#5c5c5c" stroke-width="1.5" fill="none" stroke-linejoin="round"/>
<path d="M474.5 1258H600.2V1243.2H606.6V1258H640.5" stroke="#5c5c5c" stroke-width="1.5" fill="none" stroke-linejoin="round"/>
<text x="474.5" y="1180.6" font-size="25.5">CS<tspan font-size="14" dy="8">P</tspan></text>
<text x="474.5" y="1216.5" font-size="24.5">Decision</text>
<text x="474.5" y="1250.5" font-size="25.5">US</text>
<rect x="104" y="1264.3" width="165.3" height="471.7" fill="#000"/>
<clipPath id="cl1"><rect x="104" y="1264.3" width="165.3" height="471.7"/></clipPath>
<g clip-path="url(#cl1)"><g filter="url(#bl8)" stroke-width="6.1">
<path d="M233.5 1709.5h5.5M244.5 1709.5h2.8M250 1709.5h2.8M255.5 1709.5h5.5" stroke="#62e9ff"/>
<path d="M239 1709.5h5.5M247.3 1709.5h2.8M252.8 1709.5h2.8" stroke="#28c8ff"/>
<path d="M230.7 1709.5h2.8" stroke="#0668f9"/>
<path d="M261 1709.5h2.8M250 1733.1h2.8" stroke="#003cf0"/>
<path d="M186.7 1585.6h11M200.4 1585.6h16.5M203.2 1621h5.5M211.4 1621h2.8M233.5 1621h5.5M241.8 1621h2.8M250 1621h2.8M236.2 1626.9h8.3M247.3 1626.9h11M261 1626.9h2.8M241.8 1680h5.5M250 1680h2.8M255.5 1680h13.8M211.4 1709.5h11M225.2 1709.5h5.5M219.7 1733.1h8.3M230.7 1733.1h16.5" stroke="#001dce"/>
<path d="M112.3 1338h5.5M128.8 1361.6h2.8M200.4 1503.1h2.8M192.2 1509h2.8M197.7 1509h2.8M120.5 1526.7h5.5M161.9 1556.2h2.8M241.8 1556.2h2.8M247.3 1556.2h2.8M126 1573.9h5.5M197.7 1585.6h2.8M217 1585.6h5.5M263.8 1585.6h5.5M250 1597.4h2.8M255.5 1597.4h5.5M150.8 1621h2.8M208.7 1621h2.8M214.2 1621h5.5M239 1621h2.8M244.5 1621h5.5M230.7 1626.9h5.5M244.5 1626.9h2.8M258.3 1626.9h2.8M200.4 1668.2h2.8M230.7 1680h11M247.3 1680h2.8M252.8 1680h2.8M219.7 1685.9h2.8M228 1685.9h2.8M233.5 1685.9h2.8M241.8 1685.9h2.8M222.5 1709.5h2.8M214.2 1733.1h5.5M228 1733.1h2.8M247.3 1733.1h2.8M252.8 1733.1h2.8" stroke="#00079e"/>
<path d="M258.3 1332.1h5.5M222.5 1402.9h5.5M192.2 1408.8h8.3M148.1 1538.5h5.5M167.4 1544.4h8.3M148.1 1550.3h8.3M214.2 1556.2h2.8M236.2 1556.2h2.8M250 1556.2h2.8M170.1 1573.9h5.5M255.5 1585.6h2.8M261 1585.6h2.8M247.3 1597.4h2.8M252.8 1597.4h2.8M261 1597.4h2.8M153.6 1621h2.8M203.2 1662.3h5.5M194.9 1668.2h2.8M208.7 1668.2h2.8M167.4 1680h5.5M217 1685.9h2.8M230.7 1685.9h2.8M236.2 1685.9h5.5M244.5 1685.9h11M233.5 1703.6h5.5" stroke="#00005a"/>
<path d="M153.6 1267.2h2.8M236.2 1267.2h2.8M244.5 1267.2h2.8M156.3 1284.9h2.8M112.3 1290.8h2.8M241.8 1290.8h2.8M250 1290.8h2.8M131.6 1302.6h2.8M219.7 1302.6h2.8M205.9 1320.3h2.8M161.9 1338h2.8M233.5 1343.9h2.8M211.4 1349.8h2.8M247.3 1361.6h2.8M148.1 1367.5h2.8M205.9 1408.8h2.8M128.8 1420.6h2.8M233.5 1420.6h2.8M120.5 1432.3h5.5M203.2 1455.9h2.8M128.8 1467.7h2.8M128.8 1485.4h2.8M112.3 1514.9h2.8M244.5 1562.1h2.8M128.8 1585.6h2.8M115 1603.3h2.8M115 1615.1h2.8M178.4 1632.8h2.8M250 1650.5h2.8M239 1662.3h2.8M159.1 1680h2.8M200.4 1680h2.8M228 1691.8h2.8M222.5 1697.7h2.8M233.5 1697.7h2.8M150.8 1709.5h2.8M145.3 1715.4h2.8M167.4 1721.3h2.8" stroke="#460000"/>
<path d="M150.8 1267.2h2.8M194.9 1267.2h2.8M252.8 1267.2h2.8M261 1267.2h2.8M134.3 1279h2.8M222.5 1279h2.8M252.8 1284.9h2.8M109.5 1290.8h2.8M222.5 1290.8h2.8M258.3 1290.8h2.8M266.5 1290.8h2.8M183.9 1296.7h2.8M244.5 1296.7h2.8M244.5 1302.6h2.8M139.8 1320.3h2.8M183.9 1320.3h2.8M252.8 1320.3h2.8M150.8 1332.1h2.8M178.4 1338h2.8M205.9 1338h2.8M156.3 1349.8h2.8M145.3 1367.5h2.8M266.5 1367.5h2.8M131.6 1373.4h2.8M161.9 1397h2.8M117.8 1402.9h2.8M258.3 1402.9h2.8M263.8 1402.9h2.8M203.2 1408.8h2.8M192.2 1414.7h2.8M126 1420.6h2.8M153.6 1420.6h2.8M192.2 1420.6h2.8M230.7 1420.6h2.8M117.8 1432.3h2.8M150.8 1450h2.8M164.6 1455.9h2.8M183.9 1455.9h2.8M178.4 1461.8h2.8M183.9 1461.8h2.8M167.4 1473.6h2.8M239 1473.6h2.8M120.5 1485.4h5.5M239 1485.4h2.8M145.3 1491.3h2.8M109.5 1503.1h2.8M156.3 1503.1h2.8M194.9 1509h2.8M261 1509h2.8M115 1514.9h2.8M175.6 1514.9h2.8M117.8 1538.5h2.8M123.3 1538.5h2.8M197.7 1550.3h2.8M217 1550.3h2.8M241.8 1562.1h2.8M117.8 1568h2.8M112.3 1603.3h2.8M139.8 1603.3h2.8M181.1 1632.8h2.8M200.4 1638.7h2.8M194.9 1650.5h2.8M252.8 1650.5h2.8M120.5 1656.4h2.8M148.1 1656.4h2.8M236.2 1662.3h2.8M137.1 1668.2h2.8M128.8 1691.8h2.8M170.1 1691.8h2.8M225.2 1691.8h2.8M192.2 1697.7h2.8M208.7 1697.7h2.8M175.6 1703.6h2.8M142.6 1715.4h2.8M156.3 1721.3h2.8M170.1 1721.3h2.8" stroke="#990800"/>
<path d="M186.7 1267.2h2.8M230.7 1267.2h2.8M186.7 1273.1h2.8M192.2 1273.1h5.5M247.3 1273.1h2.8M252.8 1273.1h2.8M192.2 1279h2.8M214.2 1302.6h2.8M228 1302.6h5.5M183.9 1308.5h2.8M137.1 1320.3h2.8M181.1 1320.3h2.8M244.5 1320.3h2.8M258.3 1326.2h2.8M148.1 1332.1h2.8M172.9 1338h2.8M211.4 1338h2.8M219.7 1343.9h2.8M126 1355.7h2.8M205.9 1355.7h5.5M128.8 1373.4h2.8M128.8 1385.2h2.8M214.2 1385.2h2.8M233.5 1385.2h2.8M244.5 1385.2h2.8M134.3 1391.1h2.8M178.4 1391.1h2.8M115 1397h2.8M150.8 1397h2.8M159.1 1397h2.8M203.2 1397h2.8M178.4 1402.9h5.5M104 1408.8h5.5M164.6 1408.8h5.5M181.1 1414.7h2.8M233.5 1414.7h2.8M241.8 1414.7h2.8M109.5 1420.6h2.8M150.8 1420.6h2.8M104 1426.4h5.5M236.2 1426.4h2.8M153.6 1444.1h5.5M123.3 1450h2.8M181.1 1455.9h2.8M148.1 1461.8h2.8M172.9 1461.8h2.8M250 1467.7h2.8M117.8 1485.4h2.8M241.8 1485.4h8.3M252.8 1485.4h2.8M258.3 1485.4h2.8M120.5 1497.2h5.5M104 1503.1h2.8M252.8 1509h2.8M117.8 1514.9h2.8M153.6 1526.7h2.8M115 1538.5h2.8M192.2 1544.4h2.8M194.9 1550.3h2.8M244.5 1550.3h2.8M175.6 1585.6h5.5M172.9 1597.4h8.3M128.8 1603.3h2.8M126 1609.2h2.8M123.3 1621h2.8M203.2 1626.9h2.8M197.7 1638.7h2.8M161.9 1650.5h2.8M183.9 1650.5h2.8M117.8 1656.4h2.8M131.6 1662.3h2.8M148.1 1697.7h2.8M189.4 1697.7h2.8M205.9 1697.7h2.8" stroke="#cf1707"/>
<path d="M189.4 1273.1h2.8M228 1273.1h2.8M186.7 1279h5.5M194.9 1279h2.8M247.3 1279h2.8M239 1284.9h2.8M236.2 1290.8h2.8M222.5 1302.6h2.8M263.8 1302.6h5.5M219.7 1308.5h2.8M228 1308.5h2.8M217 1314.4h2.8M228 1314.4h2.8M239 1320.3h2.8M252.8 1326.2h2.8M208.7 1332.1h2.8M222.5 1343.9h2.8M175.6 1379.3h5.5M258.3 1379.3h5.5M200.4 1385.2h5.5M167.4 1397h5.5M170.1 1408.8h2.8M134.3 1420.6h5.5M233.5 1426.4h2.8M104 1432.3h5.5M159.1 1444.1h2.8M161.9 1450h2.8M109.5 1461.8h2.8M230.7 1467.7h2.8M250 1485.4h2.8M255.5 1485.4h2.8M263.8 1485.4h2.8M261 1491.3h2.8M117.8 1497.2h2.8M106.8 1526.7h2.8M126 1526.7h2.8M175.6 1538.5h5.5M222.5 1538.5h2.8M241.8 1550.3h2.8M263.8 1556.2h2.8M167.4 1562.1h2.8M150.8 1579.7h2.8M159.1 1579.7h2.8M172.9 1585.6h2.8M181.1 1585.6h2.8M131.6 1603.3h2.8M159.1 1615.1h2.8M156.3 1621h2.8M178.4 1638.7h2.8M181.1 1650.5h2.8M247.3 1650.5h2.8M128.8 1662.3h2.8M123.3 1668.2h2.8M131.6 1674.1h2.8M170.1 1674.1h8.3M142.6 1697.7h5.5M170.1 1709.5h2.8M142.6 1727.2h2.8" stroke="#ec400a"/>
<path d="M104 1267.2h5.5M189.4 1267.2h2.8M233.5 1267.2h2.8M239 1267.2h5.5M255.5 1267.2h5.5M104 1273.1h5.5M214.2 1273.1h2.8M230.7 1273.1h2.8M239 1273.1h8.3M255.5 1273.1h2.8M261 1273.1h5.5M219.7 1279h2.8M104 1284.9h2.8M236.2 1284.9h2.8M244.5 1284.9h5.5M219.7 1290.8h2.8M239 1290.8h2.8M255.5 1290.8h2.8M261 1290.8h5.5M211.4 1296.7h5.5M230.7 1296.7h11M217 1302.6h2.8M236.2 1302.6h8.3M205.9 1314.4h2.8M200.4 1320.3h5.5M230.7 1320.3h2.8M250 1320.3h2.8M241.8 1326.2h5.5M205.9 1332.1h2.8M175.6 1338h2.8M208.7 1338h2.8M225.2 1343.9h2.8M230.7 1343.9h2.8M205.9 1349.8h5.5M233.5 1361.6h5.5M194.9 1367.5h2.8M236.2 1367.5h5.5M134.3 1373.4h5.5M244.5 1373.4h2.8M181.1 1385.2h5.5M236.2 1385.2h2.8M241.8 1385.2h2.8M261 1402.9h2.8M183.9 1414.7h2.8M236.2 1414.7h2.8M167.4 1438.2h5.5M170.1 1467.7h2.8M241.8 1473.6h2.8M106.8 1503.1h2.8M255.5 1509h2.8M153.6 1579.7h2.8M192.2 1609.2h2.8M106.8 1656.4h2.8M178.4 1662.3h2.8M120.5 1691.8h5.5M104 1715.4h2.8M104 1721.3h5.5M104 1727.2h2.8M104 1733.1h5.5" stroke="#ff780a"/>
<path d="M192.2 1267.2h2.8M211.4 1267.2h2.8M228 1267.2h2.8M247.3 1267.2h5.5M263.8 1267.2h5.5M222.5 1273.1h2.8M233.5 1273.1h5.5M258.3 1273.1h2.8M266.5 1273.1h2.8M104 1279h5.5M217 1279h2.8M230.7 1279h2.8M252.8 1279h2.8M106.8 1284.9h2.8M222.5 1284.9h2.8M230.7 1284.9h5.5M241.8 1284.9h2.8M250 1284.9h2.8M217 1290.8h2.8M228 1290.8h2.8M233.5 1290.8h2.8M244.5 1290.8h5.5M252.8 1290.8h2.8M222.5 1296.7h2.8M228 1296.7h2.8M241.8 1296.7h2.8M233.5 1302.6h2.8M230.7 1308.5h2.8M239 1308.5h8.3M203.2 1314.4h2.8M261 1314.4h2.8M197.7 1320.3h2.8M247.3 1320.3h2.8M219.7 1326.2h5.5M255.5 1338h2.8M228 1343.9h2.8M197.7 1367.5h2.8M247.3 1373.4h2.8M239 1385.2h2.8M252.8 1402.9h5.5M186.7 1414.7h5.5M239 1414.7h2.8M172.9 1467.7h2.8M261 1467.7h2.8M258.3 1509h2.8M241.8 1514.9h5.5M112.3 1573.9h2.8M175.6 1638.7h2.8M244.5 1650.5h2.8M104 1656.4h2.8M106.8 1715.4h2.8M106.8 1727.2h2.8" stroke="#ffb118"/>
<path d="M219.7 1273.1h2.8M250 1279h2.8M258.3 1279h5.5M266.5 1279h2.8M255.5 1284.9h13.8M225.2 1302.6h2.8M225.2 1308.5h2.8M219.7 1314.4h2.8M225.2 1314.4h2.8M233.5 1320.3h5.5M255.5 1320.3h5.5M263.8 1320.3h5.5M266.5 1420.6h2.8" stroke="#ffdc46"/>
<path d="M217 1273.1h2.8M225.2 1273.1h2.8M255.5 1279h2.8M263.8 1279h2.8M222.5 1308.5h2.8M222.5 1314.4h2.8M261 1320.3h2.8M255.5 1326.2h2.8M263.8 1467.7h2.8M186.7 1609.2h5.5" stroke="#fff482"/>
<path d="M214.2 1267.2h13.8M225.2 1279h5.5M225.2 1284.9h5.5M230.7 1290.8h2.8M225.2 1296.7h2.8M233.5 1308.5h5.5M263.8 1314.4h5.5M239 1338h16.5M252.8 1721.3h16.5" stroke="#ffffb4"/>
</g></g>
<path d="M186.9 1264.3L186.9 1736" stroke="#fff" stroke-width="1.8" stroke-dasharray="6.8 4.6"/>
<path d="M201.1 1264.3L201.1 1736" stroke="#fff" stroke-width="1.8" stroke-dasharray="6.8 4.6"/>
<path d="M228.7 1264.3L228.7 1736" stroke="#fff" stroke-width="1.8" stroke-dasharray="6.8 4.6"/>
<rect x="288" y="1264.3" width="164.9" height="471.7" fill="#000"/>
<clipPath id="cl2"><rect x="288" y="1264.3" width="164.9" height="471.7"/></clipPath>
<g clip-path="url(#cl2)"><g filter="url(#bl8)" stroke-width="6.1">
<path d="M373.2 1379.3h2.7" stroke="#003cf0"/>
<path d="M444.7 1326.2h8.2M373.2 1332.1h5.5M365 1379.3h2.7M370.4 1379.3h2.7M375.9 1379.3h2.7M444.7 1391.1h2.7M450.2 1391.1h2.7M378.7 1473.6h2.7M450.2 1473.6h2.7" stroke="#001dce"/>
<path d="M378.7 1332.1h2.7M441.9 1332.1h2.7M304.5 1355.7h2.7M315.5 1355.7h8.2M367.7 1379.3h2.7M365 1391.1h2.7M373.2 1391.1h2.7M436.4 1391.1h8.2M447.4 1391.1h2.7M419.9 1402.9h5.5M362.2 1426.4h8.2M444.7 1438.2h5.5M389.7 1461.8h2.7M395.2 1461.8h2.7M373.2 1473.6h5.5M441.9 1473.6h8.2M351.2 1479.5h8.2M293.5 1550.3h5.5M433.7 1632.8h5.5M312.7 1656.4h8.2M395.2 1674.1h5.5M343 1733.1h8.2" stroke="#00079e"/>
<path d="M439.2 1273.1h5.5M436.4 1332.1h5.5M444.7 1332.1h8.2M450.2 1338h2.7M337.5 1361.6h5.5M447.4 1379.3h5.5M375.9 1391.1h2.7M370.4 1408.8h8.2M441.9 1438.2h2.7M450.2 1438.2h2.7M367.7 1485.4h2.7M373.2 1485.4h5.5M441.9 1573.9h8.2M392.4 1579.7h2.7M332 1691.8h5.5M375.9 1727.2h5.5" stroke="#00005a"/>
<path d="M354 1290.8h2.7M408.9 1290.8h2.7M318.2 1296.7h2.7M365 1320.3h2.7M345.7 1332.1h2.7M417.2 1373.4h2.7M447.4 1408.8h2.7M343 1426.4h2.7M345.7 1432.3h2.7M337.5 1438.2h2.7M356.7 1444.1h2.7M365 1450h2.7M392.4 1461.8h2.7M444.7 1485.4h2.7M359.5 1503.1h2.7M403.4 1503.1h2.7M436.4 1503.1h2.7M444.7 1503.1h2.7M433.7 1538.5h2.7M373.2 1568h2.7M288 1597.4h2.7M367.7 1603.3h2.7M419.9 1609.2h2.7M348.5 1615.1h5.5M321 1632.8h2.7M334.7 1632.8h2.7M323.7 1644.6h2.7M304.5 1656.4h2.7M321 1668.2h2.7M425.4 1674.1h2.7" stroke="#460000"/>
<path d="M433.7 1279h2.7M351.2 1290.8h2.7M403.4 1290.8h2.7M447.4 1290.8h2.7M312.7 1296.7h5.5M389.7 1302.6h2.7M411.7 1308.5h2.7M430.9 1308.5h2.7M354 1314.4h2.7M375.9 1314.4h2.7M395.2 1314.4h2.7M293.5 1320.3h2.7M301.7 1326.2h2.7M384.2 1326.2h2.7M417.2 1326.2h2.7M406.2 1332.1h2.7M288 1338h2.7M384.2 1338h2.7M334.7 1343.9h2.7M340.2 1343.9h2.7M439.2 1343.9h2.7M354 1349.8h2.7M419.9 1349.8h5.5M290.7 1361.6h2.7M411.7 1373.4h5.5M397.9 1379.3h2.7M397.9 1391.1h2.7M299 1397h2.7M337.5 1397h2.7M367.7 1408.8h2.7M403.4 1408.8h2.7M392.4 1420.6h2.7M340.2 1426.4h2.7M315.5 1432.3h2.7M321 1444.1h2.7M354 1444.1h2.7M400.7 1461.8h2.7M406.2 1461.8h2.7M337.5 1473.6h2.7M301.7 1485.4h2.7M326.5 1491.3h2.7M441.9 1491.3h2.7M307.2 1509h2.7M411.7 1509h2.7M359.5 1514.9h2.7M373.2 1520.8h2.7M381.4 1520.8h2.7M386.9 1526.7h2.7M321 1532.6h2.7M321 1538.5h2.7M430.9 1538.5h2.7M301.7 1550.3h2.7M422.7 1550.3h2.7M406.2 1556.2h2.7M307.2 1568h2.7M354 1568h2.7M381.4 1573.9h2.7M351.2 1579.7h2.7M375.9 1585.6h2.7M304.5 1597.4h2.7M365 1603.3h2.7M417.2 1609.2h2.7M345.7 1615.1h2.7M370.4 1615.1h2.7M406.2 1621h2.7M362.2 1626.9h2.7M419.9 1626.9h2.7M307.2 1632.8h2.7M406.2 1638.7h2.7M436.4 1650.5h2.7M301.7 1656.4h2.7M397.9 1656.4h2.7M293.5 1668.2h2.7M318.2 1668.2h2.7M343 1668.2h2.7M351.2 1668.2h2.7M296.2 1680h2.7M392.4 1685.9h2.7M362.2 1691.8h2.7M340.2 1703.6h2.7M433.7 1703.6h2.7M395.2 1715.4h2.7M290.7 1721.3h2.7" stroke="#990800"/>
<path d="M414.4 1279h2.7M411.7 1284.9h2.7M310 1296.7h2.7M395.2 1308.5h2.7M351.2 1314.4h2.7M332 1320.3h2.7M340.2 1326.2h5.5M321 1332.1h2.7M356.7 1332.1h2.7M395.2 1332.1h2.7M315.5 1338h2.7M362.2 1343.9h2.7M436.4 1343.9h2.7M365 1349.8h2.7M417.2 1349.8h2.7M425.4 1349.8h5.5M389.7 1355.7h2.7M395.2 1355.7h11M411.7 1355.7h5.5M419.9 1355.7h5.5M367.7 1367.5h5.5M381.4 1367.5h2.7M386.9 1367.5h2.7M400.7 1367.5h2.7M389.7 1379.3h2.7M400.7 1379.3h2.7M290.7 1385.2h2.7M375.9 1385.2h8.2M386.9 1385.2h5.5M397.9 1385.2h2.7M414.4 1385.2h2.7M386.9 1391.1h2.7M430.9 1391.1h2.7M386.9 1397h2.7M351.2 1408.8h2.7M414.4 1408.8h5.5M384.2 1420.6h2.7M389.7 1426.4h8.2M400.7 1426.4h2.7M312.7 1432.3h2.7M395.2 1432.3h5.5M403.4 1432.3h2.7M386.9 1438.2h2.7M397.9 1438.2h5.5M389.7 1444.1h2.7M395.2 1444.1h2.7M414.4 1444.1h5.5M428.2 1444.1h8.2M439.2 1444.1h11M340.2 1450h2.7M345.7 1450h2.7M406.2 1450h5.5M318.2 1455.9h2.7M433.7 1455.9h2.7M354 1461.8h5.5M400.7 1467.7h2.7M304.5 1473.6h5.5M359.5 1473.6h2.7M395.2 1473.6h2.7M332 1485.4h2.7M403.4 1485.4h2.7M312.7 1497.2h2.7M397.9 1497.2h2.7M288 1503.1h2.7M315.5 1509h2.7M406.2 1509h5.5M356.7 1514.9h2.7M378.7 1520.8h2.7M367.7 1532.6h2.7M290.7 1538.5h5.5M318.2 1538.5h2.7M381.4 1538.5h2.7M343 1550.3h2.7M411.7 1550.3h2.7M351.2 1556.2h2.7M378.7 1556.2h2.7M351.2 1568h2.7M326.5 1573.9h2.7M375.9 1573.9h2.7M408.9 1573.9h2.7M304.5 1585.6h2.7M310 1585.6h2.7M373.2 1585.6h2.7M290.7 1591.5h2.7M375.9 1591.5h2.7M288 1603.3h2.7M403.4 1621h2.7M417.2 1621h2.7M337.5 1638.7h2.7M359.5 1638.7h2.7M365 1638.7h2.7M315.5 1644.6h2.7M343 1674.1h2.7M362.2 1685.9h5.5M304.5 1691.8h2.7M337.5 1703.6h2.7M414.4 1709.5h2.7M348.5 1721.3h2.7M441.9 1721.3h2.7" stroke="#cf1707"/>
<path d="M312.7 1279h2.7M406.2 1296.7h2.7M417.2 1296.7h8.2M381.4 1302.6h2.7M384.2 1308.5h2.7M389.7 1314.4h2.7M329.2 1320.3h2.7M318.2 1332.1h2.7M354 1332.1h2.7M318.2 1338h2.7M359.5 1343.9h2.7M365 1343.9h2.7M332 1349.8h2.7M362.2 1349.8h2.7M403.4 1349.8h2.7M384.2 1355.7h5.5M392.4 1355.7h2.7M406.2 1355.7h5.5M417.2 1355.7h2.7M343 1361.6h2.7M373.2 1367.5h8.2M323.7 1373.4h2.7M397.9 1373.4h2.7M406.2 1373.4h2.7M386.9 1379.3h2.7M392.4 1379.3h5.5M392.4 1385.2h5.5M411.7 1385.2h2.7M389.7 1397h5.5M348.5 1408.8h2.7M307.2 1414.7h2.7M296.2 1420.6h2.7M386.9 1420.6h5.5M397.9 1426.4h2.7M400.7 1432.3h2.7M389.7 1438.2h8.2M392.4 1444.1h2.7M419.9 1444.1h8.2M436.4 1444.1h2.7M450.2 1444.1h2.7M343 1450h2.7M348.5 1450h2.7M381.4 1450h2.7M321 1455.9h2.7M430.9 1455.9h2.7M397.9 1467.7h2.7M397.9 1473.6h2.7M329.2 1485.4h2.7M400.7 1485.4h2.7M403.4 1491.3h5.5M310 1497.2h2.7M400.7 1497.2h2.7M290.7 1503.1h2.7M304.5 1509h2.7M312.7 1509h2.7M365 1520.8h2.7M375.9 1520.8h2.7M301.7 1526.7h2.7M425.4 1532.6h2.7M433.7 1532.6h2.7M441.9 1532.6h2.7M450.2 1532.6h2.7M375.9 1538.5h5.5M340.2 1550.3h2.7M444.7 1550.3h2.7M334.7 1556.2h2.7M359.5 1556.2h2.7M408.9 1579.7h2.7M307.2 1585.6h2.7M315.5 1609.2h2.7M334.7 1638.7h2.7M362.2 1638.7h2.7M312.7 1644.6h2.7M345.7 1674.1h5.5M419.9 1691.8h2.7M408.9 1709.5h5.5M439.2 1721.3h2.7M321 1733.1h2.7" stroke="#ec400a"/>
<path d="M433.7 1273.1h5.5M417.2 1279h2.7M425.4 1279h8.2M406.2 1284.9h5.5M406.2 1290.8h2.7M397.9 1308.5h2.7M403.4 1308.5h5.5M384.2 1314.4h5.5M351.2 1320.3h2.7M386.9 1326.2h5.5M400.7 1326.2h2.7M408.9 1326.2h8.2M400.7 1332.1h2.7M406.2 1338h2.7M395.2 1343.9h2.7M406.2 1343.9h2.7M389.7 1367.5h8.2M392.4 1373.4h2.7M408.9 1373.4h2.7M392.4 1391.1h5.5M395.2 1408.8h2.7M400.7 1408.8h2.7M386.9 1426.4h2.7M397.9 1455.9h2.7M403.4 1461.8h2.7M367.7 1491.3h2.7M400.7 1491.3h2.7M397.9 1503.1h2.7M430.9 1503.1h5.5M447.4 1503.1h5.5M367.7 1520.8h2.7M365 1526.7h2.7M414.4 1526.7h5.5M419.9 1550.3h2.7M430.9 1550.3h13.7M447.4 1550.3h2.7M370.4 1556.2h2.7M351.2 1562.1h2.7M444.7 1568h5.5M378.7 1573.9h2.7M384.2 1591.5h2.7M337.5 1626.9h5.5M417.2 1662.3h2.7M414.4 1674.1h2.7M343 1697.7h5.5M290.7 1709.5h2.7M365 1727.2h2.7" stroke="#ff780a"/>
<path d="M373.2 1267.2h2.7M373.2 1273.1h2.7M430.9 1273.1h2.7M373.2 1279h2.7M411.7 1279h2.7M419.9 1279h5.5M375.9 1284.9h2.7M403.4 1284.9h2.7M384.2 1290.8h2.7M400.7 1290.8h2.7M367.7 1302.6h2.7M408.9 1302.6h2.7M419.9 1302.6h5.5M400.7 1308.5h2.7M408.9 1308.5h2.7M392.4 1314.4h2.7M400.7 1314.4h2.7M417.2 1314.4h2.7M392.4 1320.3h2.7M436.4 1320.3h2.7M441.9 1320.3h2.7M392.4 1326.2h8.2M403.4 1326.2h5.5M392.4 1332.1h2.7M397.9 1332.1h2.7M403.4 1332.1h2.7M397.9 1367.5h2.7M395.2 1373.4h2.7M400.7 1373.4h5.5M389.7 1391.1h2.7M381.4 1397h2.7M397.9 1408.8h2.7M375.9 1455.9h5.5M395.2 1455.9h2.7M417.2 1467.7h5.5M400.7 1503.1h2.7M439.2 1503.1h5.5M362.2 1526.7h2.7M419.9 1532.6h2.7M414.4 1550.3h5.5M450.2 1550.3h2.7M365 1556.2h5.5M373.2 1556.2h5.5M400.7 1562.1h5.5M450.2 1568h2.7M340.2 1609.2h5.5M419.9 1662.3h2.7M411.7 1674.1h2.7M417.2 1674.1h8.2M318.2 1691.8h5.5M288 1709.5h2.7M362.2 1727.2h2.7M318.2 1733.1h2.7" stroke="#ffb118"/>
<path d="M384.2 1296.7h11M373.2 1302.6h5.5M389.7 1308.5h5.5M397.9 1338h5.5M395.2 1349.8h5.5M365 1361.6h2.7M375.9 1426.4h8.2M375.9 1450h5.5M403.4 1579.7h5.5" stroke="#ffdc46"/>
<path d="M318.2 1290.8h2.7M395.2 1296.7h11M370.4 1302.6h2.7M378.7 1302.6h2.7M386.9 1308.5h2.7M395.2 1338h2.7M403.4 1338h2.7M397.9 1343.9h8.2M400.7 1349.8h2.7M373.2 1426.4h2.7M384.2 1426.4h2.7" stroke="#fff482"/>
<path d="M375.9 1267.2h77M375.9 1273.1h55M375.9 1279h35.7M378.7 1284.9h24.7M386.9 1290.8h13.7M400.7 1302.6h8.2M403.4 1314.4h13.7M375.9 1320.3h16.5M439.2 1320.3h2.7M384.2 1332.1h8.2M400.7 1361.6h5.5M367.7 1397h13.7M381.4 1526.7h5.5M422.7 1532.6h2.7M428.2 1532.6h5.5M436.4 1532.6h5.5M444.7 1532.6h5.5" stroke="#ffffb4"/>
</g></g>
<path d="M371.3 1264.3L371.3 1736" stroke="#fff" stroke-width="1.8" stroke-dasharray="6.8 4.6"/>
<path d="M385 1264.3L385 1736" stroke="#fff" stroke-width="1.8" stroke-dasharray="6.8 4.6"/>
<path d="M412.7 1264.3L412.7 1736" stroke="#fff" stroke-width="1.8" stroke-dasharray="6.8 4.6"/>
<rect x="474.8" y="1264.3" width="165.4" height="471.7" fill="#000"/>
<clipPath id="cl3"><rect x="474.8" y="1264.3" width="165.4" height="471.7"/></clipPath>
<g clip-path="url(#cl3)"><g filter="url(#bl8)" stroke-width="6.1">
<path d="M634.7 1373.4h2.8" stroke="#1396ff"/>
<path d="M637.4 1373.4h2.8" stroke="#0668f9"/>
<path d="M607.1 1373.4h2.8M612.6 1373.4h2.8M618.1 1373.4h16.5" stroke="#001dce"/>
<path d="M485.8 1302.6h5.5M502.4 1367.5h5.5M604.4 1373.4h2.8M609.9 1373.4h2.8M615.4 1373.4h2.8M607.1 1391.1h2.8M620.9 1414.7h2.8M510.6 1432.3h8.3M634.7 1491.3h2.8M521.7 1520.8h2.8M549.2 1520.8h2.8M507.9 1532.6h2.8M601.6 1550.3h8.3M557.5 1562.1h2.8M565.8 1597.4h8.3M538.2 1632.8h5.5M631.9 1632.8h2.8M582.3 1638.7h2.8M609.9 1638.7h5.5M582.3 1656.4h2.8M587.8 1668.2h8.3M620.9 1691.8h5.5M565.8 1697.7h5.5" stroke="#00079e"/>
<path d="M574 1361.6h2.8M527.2 1379.3h2.8M612.6 1414.7h2.8M618.1 1414.7h2.8M623.7 1414.7h2.8M538.2 1461.8h5.5M585.1 1603.3h2.8M546.5 1644.6h2.8M480.3 1656.4h5.5M513.4 1721.3h2.8M571.3 1721.3h2.8" stroke="#00005a"/>
<path d="M596.1 1284.9h2.8M546.5 1302.6h2.8M499.6 1320.3h2.8M516.1 1320.3h2.8M494.1 1343.9h2.8M634.7 1349.8h2.8M510.6 1355.7h2.8M524.4 1367.5h2.8M590.6 1385.2h2.8M510.6 1397h2.8M507.9 1408.8h2.8M604.4 1408.8h2.8M637.4 1414.7h2.8M574 1426.4h2.8M510.6 1444.1h2.8M499.6 1450h2.8M565.8 1455.9h2.8M546.5 1461.8h2.8M574 1461.8h2.8M538.2 1467.7h2.8M516.1 1473.6h2.8M541 1473.6h2.8M527.2 1479.5h2.8M626.4 1485.4h2.8M549.2 1491.3h2.8M507.9 1509h2.8M543.7 1526.7h2.8M587.8 1532.6h2.8M488.6 1556.2h2.8M560.3 1603.3h2.8M485.8 1615.1h2.8M549.2 1632.8h2.8M568.5 1644.6h2.8M527.2 1691.8h2.8M488.6 1721.3h2.8M618.1 1721.3h2.8" stroke="#460000"/>
<path d="M513.4 1279h2.8M557.5 1279h2.8M585.1 1284.9h2.8M593.3 1290.8h2.8M601.6 1290.8h2.8M496.9 1296.7h2.8M582.3 1296.7h2.8M593.3 1296.7h2.8M499.6 1302.6h2.8M516.1 1302.6h2.8M543.7 1302.6h2.8M593.3 1302.6h2.8M507.9 1314.4h2.8M579.6 1314.4h2.8M593.3 1314.4h2.8M496.9 1320.3h2.8M585.1 1320.3h2.8M593.3 1326.2h2.8M604.4 1326.2h2.8M637.4 1326.2h2.8M529.9 1332.1h2.8M634.7 1332.1h2.8M516.1 1338h2.8M521.7 1338h2.8M491.3 1343.9h2.8M507.9 1343.9h2.8M491.3 1349.8h2.8M485.8 1361.6h2.8M631.9 1367.5h2.8M557.5 1379.3h2.8M587.8 1385.2h2.8M543.7 1391.1h2.8M474.8 1397h2.8M474.8 1402.9h2.8M505.1 1408.8h2.8M502.4 1414.7h2.8M634.7 1414.7h2.8M571.3 1426.4h2.8M604.4 1426.4h2.8M483.1 1432.3h2.8M554.7 1432.3h2.8M483.1 1444.1h2.8M563 1455.9h2.8M543.7 1461.8h2.8M626.4 1467.7h2.8M637.4 1467.7h2.8M524.4 1479.5h2.8M634.7 1485.4h2.8M513.4 1491.3h2.8M565.8 1491.3h2.8M507.9 1497.2h2.8M524.4 1497.2h2.8M505.1 1509h2.8M552 1526.7h2.8M485.8 1538.5h2.8M529.9 1538.5h2.8M552 1538.5h2.8M626.4 1550.3h2.8M499.6 1556.2h2.8M527.2 1568h2.8M491.3 1573.9h2.8M552 1573.9h2.8M491.3 1579.7h2.8M524.4 1579.7h2.8M615.4 1579.7h2.8M488.6 1585.6h2.8M494.1 1585.6h2.8M513.4 1597.4h2.8M529.9 1597.4h2.8M529.9 1603.3h2.8M576.8 1609.2h2.8M483.1 1615.1h2.8M546.5 1621h2.8M546.5 1632.8h2.8M593.3 1632.8h2.8M488.6 1638.7h2.8M565.8 1644.6h2.8M510.6 1650.5h2.8M535.4 1662.3h2.8M499.6 1674.1h2.8M596.1 1674.1h2.8M604.4 1680h2.8M510.6 1697.7h2.8M560.3 1697.7h2.8M618.1 1703.6h2.8M629.2 1709.5h2.8M557.5 1715.4h2.8M485.8 1721.3h2.8M494.1 1727.2h2.8M507.9 1733.1h2.8M563 1733.1h2.8" stroke="#990800"/>
<path d="M623.7 1267.2h2.8M496.9 1273.1h2.8M549.2 1273.1h2.8M618.1 1273.1h2.8M623.7 1273.1h2.8M510.6 1279h2.8M585.1 1290.8h2.8M513.4 1296.7h2.8M593.3 1308.5h2.8M496.9 1314.4h2.8M505.1 1314.4h2.8M601.6 1326.2h2.8M620.9 1326.2h2.8M626.4 1326.2h2.8M631.9 1326.2h2.8M505.1 1343.9h2.8M499.6 1349.8h2.8M574 1355.7h2.8M612.6 1355.7h2.8M554.7 1379.3h2.8M568.5 1379.3h2.8M582.3 1379.3h2.8M587.8 1379.3h2.8M615.4 1379.3h8.3M626.4 1379.3h2.8M626.4 1385.2h2.8M485.8 1391.1h2.8M524.4 1397h2.8M571.3 1402.9h2.8M576.8 1402.9h2.8M513.4 1414.7h5.5M521.7 1414.7h2.8M552 1414.7h2.8M574 1420.6h2.8M598.9 1426.4h2.8M560.3 1438.2h5.5M477.6 1444.1h2.8M576.8 1450h2.8M607.1 1450h2.8M612.6 1450h2.8M499.6 1455.9h5.5M491.3 1461.8h5.5M623.7 1467.7h2.8M491.3 1473.6h2.8M488.6 1491.3h2.8M560.3 1491.3h2.8M480.3 1503.1h5.5M604.4 1520.8h8.3M499.6 1526.7h2.8M529.9 1526.7h2.8M571.3 1526.7h2.8M529.9 1544.4h5.5M620.9 1550.3h2.8M546.5 1562.1h2.8M516.1 1579.7h2.8M485.8 1585.6h2.8M491.3 1585.6h2.8M607.1 1585.6h2.8M510.6 1597.4h2.8M560.3 1609.2h2.8M574 1609.2h2.8M601.6 1609.2h8.3M538.2 1615.1h2.8M552 1632.8h2.8M485.8 1638.7h2.8M521.7 1644.6h2.8M521.7 1656.4h2.8M598.9 1656.4h2.8M516.1 1674.1h2.8M593.3 1674.1h2.8M601.6 1680h2.8M609.9 1680h2.8M593.3 1685.9h2.8M480.3 1691.8h2.8M507.9 1709.5h2.8M510.6 1715.4h2.8M524.4 1721.3h2.8M549.2 1721.3h2.8M491.3 1727.2h2.8M505.1 1733.1h2.8M582.3 1733.1h2.8" stroke="#cf1707"/>
<path d="M546.5 1273.1h2.8M585.1 1302.6h2.8M582.3 1308.5h2.8M576.8 1326.2h2.8M607.1 1326.2h5.5M623.7 1326.2h2.8M629.2 1326.2h2.8M634.7 1326.2h2.8M579.6 1343.9h2.8M587.8 1355.7h2.8M637.4 1355.7h2.8M563 1373.4h2.8M568.5 1373.4h2.8M477.6 1379.3h2.8M585.1 1379.3h2.8M612.6 1379.3h2.8M623.7 1379.3h2.8M568.5 1385.2h2.8M521.7 1397h2.8M563 1397h2.8M576.8 1397h2.8M518.9 1414.7h2.8M560.3 1420.6h2.8M535.4 1432.3h2.8M571.3 1438.2h5.5M535.4 1444.1h2.8M477.6 1485.4h2.8M629.2 1485.4h5.5M483.1 1491.3h5.5M618.1 1491.3h2.8M576.8 1503.1h2.8M554.7 1509h2.8M601.6 1520.8h2.8M491.3 1526.7h2.8M532.7 1526.7h5.5M568.5 1526.7h2.8M477.6 1538.5h2.8M623.7 1538.5h2.8M527.2 1562.1h2.8M541 1562.1h5.5M604.4 1585.6h2.8M541 1591.5h5.5M535.4 1615.1h2.8M541 1615.1h2.8M538.2 1626.9h2.8M518.9 1644.6h2.8M560.3 1644.6h2.8M485.8 1656.4h2.8M601.6 1656.4h2.8M634.7 1662.3h2.8M607.1 1680h2.8M483.1 1691.8h2.8M483.1 1733.1h2.8M579.6 1733.1h2.8" stroke="#ec400a"/>
<path d="M626.4 1267.2h2.8M634.7 1267.2h5.5M631.9 1273.1h2.8M637.4 1273.1h2.8M491.3 1284.9h2.8M593.3 1284.9h2.8M587.8 1290.8h5.5M590.6 1296.7h2.8M604.4 1296.7h5.5M587.8 1302.6h5.5M576.8 1308.5h2.8M585.1 1308.5h2.8M582.3 1314.4h11M634.7 1314.4h2.8M571.3 1326.2h2.8M579.6 1326.2h11M582.3 1332.1h2.8M513.4 1343.9h5.5M579.6 1349.8h2.8M546.5 1355.7h2.8M579.6 1361.6h2.8M593.3 1361.6h2.8M587.8 1367.5h5.5M574 1385.2h5.5M574 1402.9h2.8M601.6 1426.4h2.8M601.6 1432.3h2.8M535.4 1450h2.8M593.3 1455.9h2.8M568.5 1461.8h5.5M474.8 1485.4h2.8M637.4 1485.4h2.8M563 1491.3h2.8M637.4 1491.3h2.8M510.6 1538.5h2.8M626.4 1538.5h2.8M623.7 1550.3h2.8M477.6 1556.2h2.8M601.6 1556.2h2.8M527.2 1626.9h2.8M485.8 1662.3h2.8M626.4 1662.3h2.8M513.4 1674.1h2.8M604.4 1733.1h2.8" stroke="#ff780a"/>
<path d="M563 1267.2h2.8M620.9 1267.2h2.8M629.2 1267.2h5.5M615.4 1273.1h2.8M620.9 1273.1h2.8M629.2 1273.1h2.8M634.7 1273.1h2.8M582.3 1284.9h2.8M587.8 1284.9h5.5M598.9 1284.9h2.8M620.9 1284.9h2.8M565.8 1290.8h2.8M582.3 1290.8h2.8M571.3 1296.7h2.8M579.6 1296.7h2.8M585.1 1296.7h5.5M565.8 1302.6h2.8M582.3 1302.6h2.8M563 1308.5h2.8M568.5 1308.5h2.8M587.8 1308.5h5.5M601.6 1308.5h2.8M620.9 1308.5h2.8M565.8 1314.4h2.8M576.8 1314.4h2.8M607.1 1314.4h2.8M620.9 1314.4h2.8M631.9 1314.4h2.8M637.4 1314.4h2.8M576.8 1320.3h8.3M590.6 1326.2h2.8M576.8 1332.1h5.5M560.3 1338h2.8M568.5 1338h2.8M576.8 1338h2.8M571.3 1343.9h2.8M576.8 1349.8h2.8M549.2 1355.7h2.8M563 1355.7h2.8M634.7 1355.7h2.8M543.7 1361.6h2.8M576.8 1361.6h2.8M620.9 1361.6h2.8M557.5 1367.5h2.8M568.5 1367.5h2.8M563 1379.3h5.5M568.5 1397h2.8M488.6 1402.9h5.5M607.1 1402.9h2.8M601.6 1420.6h2.8M609.9 1420.6h2.8M618.1 1432.3h2.8M601.6 1438.2h2.8M618.1 1438.2h2.8M538.2 1450h2.8M582.3 1450h5.5M565.8 1461.8h2.8M634.7 1461.8h2.8M596.1 1485.4h2.8M604.4 1485.4h2.8M620.9 1485.4h5.5M607.1 1538.5h2.8M618.1 1538.5h2.8M480.3 1556.2h2.8M604.4 1556.2h2.8M620.9 1597.4h2.8M529.9 1626.9h2.8M480.3 1650.5h5.5M488.6 1656.4h2.8M488.6 1662.3h2.8M601.6 1662.3h2.8M623.7 1662.3h2.8M510.6 1674.1h2.8M612.6 1680h2.8M598.9 1703.6h2.8M604.4 1703.6h2.8M612.6 1703.6h5.5M629.2 1703.6h2.8M601.6 1733.1h2.8" stroke="#ffb118"/>
<path d="M579.6 1308.5h2.8M568.5 1343.9h2.8M576.8 1343.9h2.8M568.5 1355.7h5.5M565.8 1373.4h2.8M563 1385.2h2.8M565.8 1397h2.8M563 1420.6h8.3M604.4 1432.3h13.8M623.7 1432.3h2.8M629.2 1432.3h5.5M637.4 1432.3h2.8M601.6 1450h5.5M609.9 1450h2.8M541 1597.4h2.8" stroke="#ffdc46"/>
<path d="M574 1326.2h2.8M563 1343.9h5.5M574 1343.9h2.8M565.8 1355.7h2.8M565.8 1385.2h2.8M571.3 1397h5.5M571.3 1420.6h2.8M620.9 1432.3h2.8M626.4 1432.3h2.8M634.7 1432.3h2.8" stroke="#fff482"/>
<path d="M565.8 1267.2h55.1M563 1273.1h52.4M565.8 1279h74.4M568.5 1284.9h13.8M601.6 1284.9h19.3M568.5 1290.8h13.8M563 1296.7h2.8M574 1296.7h5.5M568.5 1302.6h13.8M565.8 1308.5h2.8M604.4 1308.5h16.5M568.5 1314.4h8.3M609.9 1314.4h11M563 1320.3h13.8M563 1332.1h13.8M571.3 1338h5.5M563 1349.8h13.8M601.6 1361.6h19.3M560.3 1367.5h8.3M609.9 1402.9h30.3M604.4 1420.6h5.5M604.4 1438.2h13.8M601.6 1461.8h33.1M601.6 1479.5h38.6M598.9 1485.4h5.5M612.6 1520.8h27.6M609.9 1538.5h8.3M601.6 1597.4h19.3M607.1 1644.6h33.1M604.4 1662.3h19.3M615.4 1680h24.8M601.6 1703.6h2.8M601.6 1727.2h38.6" stroke="#ffffb4"/>
</g></g>
<path d="M557.6 1264.3L557.6 1736" stroke="#fff" stroke-width="1.8" stroke-dasharray="6.8 4.6"/>
<path d="M572.3 1264.3L572.3 1736" stroke="#fff" stroke-width="1.8" stroke-dasharray="6.8 4.6"/>
<path d="M599.9 1264.3L599.9 1736" stroke="#fff" stroke-width="1.8" stroke-dasharray="6.8 4.6"/>
<path d="M97.3 1265.7V1738M97.3 1325.3h-10M97.3 1384.5h-10M97.3 1443.7h-10M97.3 1502.9h-10M97.3 1562.4h-10M97.3 1621.6h-10M97.3 1680.8h-10" stroke="#1f1f1f" stroke-width="1.8" fill="none"/>
<text x="80.5" y="1334.1" text-anchor="end" fill="#1c1c1c" font-size="24.5">10</text>
<text x="80.5" y="1393.3" text-anchor="end" fill="#1c1c1c" font-size="24.5">20</text>
<text x="80.5" y="1452.5" text-anchor="end" fill="#1c1c1c" font-size="24.5">30</text>
<text x="80.5" y="1511.7" text-anchor="end" fill="#1c1c1c" font-size="24.5">40</text>
<text x="80.5" y="1571.2" text-anchor="end" fill="#1c1c1c" font-size="24.5">50</text>
<text x="80.5" y="1630.4" text-anchor="end" fill="#1c1c1c" font-size="24.5">60</text>
<text x="80.5" y="1689.6" text-anchor="end" fill="#1c1c1c" font-size="24.5">70</text>
<path d="M104.4 1738.7H269M104.4 1738.7v9M186.5 1738.7v9M200.4 1738.7v9M228.2 1738.7v9M269 1738.7v9" stroke="#1f1f1f" stroke-width="1.8" fill="none"/>
<path d="M290.9 1738.7H455.2M290.9 1738.7v9M372.2 1738.7v9M386.9 1738.7v9M413.9 1738.7v9M455.2 1738.7v9" stroke="#1f1f1f" stroke-width="1.8" fill="none"/>
<path d="M476.2 1738.7H640M476.2 1738.7v9M557.5 1738.7v9M571.8 1738.7v9M599.6 1738.7v9M640 1738.7v9" stroke="#1f1f1f" stroke-width="1.8" fill="none"/>
<text x="105" y="1772" text-anchor="middle" fill="#1c1c1c" font-size="24.5">-6</text>
<text x="187.3" y="1772" text-anchor="middle" fill="#1c1c1c" font-size="24.5">0</text>
<text x="229.4" y="1772" text-anchor="middle" fill="#1c1c1c" font-size="24.5">3</text>
<text x="265.9" y="1772" text-anchor="middle" fill="#1c1c1c" font-size="24.5">6</text>
<text x="292.5" y="1772" text-anchor="middle" fill="#1c1c1c" font-size="24.5">-6</text>
<text x="371" y="1772" text-anchor="middle" fill="#1c1c1c" font-size="24.5">0</text>
<text x="412.7" y="1772" text-anchor="middle" fill="#1c1c1c" font-size="24.5">3</text>
<text x="452.4" y="1772" text-anchor="middle" fill="#1c1c1c" font-size="24.5">6</text>
<text x="477.4" y="1772" text-anchor="middle" fill="#1c1c1c" font-size="24.5">-6</text>
<text x="556.3" y="1772" text-anchor="middle" fill="#1c1c1c" font-size="24.5">0</text>
<text x="598" y="1772" text-anchor="middle" fill="#1c1c1c" font-size="24.5">3</text>
<text x="642.9" y="1772" text-anchor="middle" fill="#1c1c1c" font-size="24.5">6</text>
<text x="277.8" y="1807" font-size="33">Time - CS (s)</text>
<text text-anchor="middle" fill="#1a1a1a" transform="translate(39.6 1485) rotate(-90)" font-size="33">Cell identity</text>
<defs><linearGradient id="hce" x1="0" y1="0" x2="0" y2="1"><stop offset="0%" stop-color="#ffffb4"/><stop offset="2.1%" stop-color="#fffa9b"/><stop offset="4.2%" stop-color="#fff482"/><stop offset="6.2%" stop-color="#ffed67"/><stop offset="8.3%" stop-color="#ffdc46"/><stop offset="10.4%" stop-color="#ffcb25"/><stop offset="12.5%" stop-color="#ffb118"/><stop offset="14.6%" stop-color="#ff9511"/><stop offset="16.7%" stop-color="#ff780a"/><stop offset="18.8%" stop-color="#f65c0a"/><stop offset="20.8%" stop-color="#ec400a"/><stop offset="22.9%" stop-color="#e3240a"/><stop offset="25%" stop-color="#cf1707"/><stop offset="27.1%" stop-color="#b80f02"/><stop offset="29.2%" stop-color="#990800"/><stop offset="31.2%" stop-color="#700400"/><stop offset="33.3%" stop-color="#460000"/><stop offset="35.4%" stop-color="#230000"/><stop offset="37.5%" stop-color="#000"/><stop offset="39.6%" stop-color="#000"/><stop offset="41.7%" stop-color="#000"/><stop offset="43.8%" stop-color="#000"/><stop offset="45.8%" stop-color="#000"/><stop offset="47.9%" stop-color="#000"/><stop offset="50%" stop-color="#000"/><stop offset="52.1%" stop-color="#000"/><stop offset="54.2%" stop-color="#000"/><stop offset="56.2%" stop-color="#000"/><stop offset="58.3%" stop-color="#000"/><stop offset="60.4%" stop-color="#000"/><stop offset="62.5%" stop-color="#000"/><stop offset="64.6%" stop-color="#00002d"/><stop offset="66.7%" stop-color="#00005a"/><stop offset="68.8%" stop-color="#00047c"/><stop offset="70.8%" stop-color="#00079e"/><stop offset="72.9%" stop-color="#000dbc"/><stop offset="75%" stop-color="#001dce"/><stop offset="77.1%" stop-color="#002cdf"/><stop offset="79.2%" stop-color="#003cf0"/><stop offset="81.2%" stop-color="#0352f5"/><stop offset="83.3%" stop-color="#0668f9"/><stop offset="85.4%" stop-color="#097efe"/><stop offset="87.5%" stop-color="#1396ff"/><stop offset="89.6%" stop-color="#1dafff"/><stop offset="91.7%" stop-color="#28c8ff"/><stop offset="93.8%" stop-color="#45d9ff"/><stop offset="95.8%" stop-color="#62e9ff"/><stop offset="97.9%" stop-color="#8cf6ff"/><stop offset="100%" stop-color="#beffff"/></linearGradient></defs>
<rect x="649" y="1480.7" width="13.5" height="243.9" fill="url(#hce)" stroke="#2a2a2a" stroke-width="1"/>
<text x="669.5" y="1489.5" fill="#111" font-size="23.5">6</text>
<text x="669.5" y="1530.5" fill="#111" font-size="23.5">4</text>
<text x="669.5" y="1570.5" fill="#111" font-size="23.5">2</text>
<text x="669.5" y="1611" fill="#111" font-size="23.5">0</text>
<text x="669.5" y="1650.5" fill="#111" font-size="23.5">-2</text>
<text x="669.5" y="1691.5" fill="#111" font-size="23.5">-4</text>
<text x="669.5" y="1729.2" fill="#111" font-size="23.5">-6</text>
<text text-anchor="middle" fill="#111" transform="translate(718.5 1598) rotate(-90)" font-size="24.5">ΔF (z-score)</text>
<text x="745" y="1058.4" font-size="70">f</text>
<text x="1308.5" y="1042.9" font-size="41">Late training</text>
<path d="M1083 1054.8L1743 1054.8" stroke="#808080" stroke-width="3"/>
<text x="935.5" y="1086" font-size="29.1">Sorted by responses to CS<tspan font-size="18.5" dy="9">R</tspan></text>
<path d="M909.7 1099.6L1333 1099.6" stroke="#999" stroke-width="2.6"/>
<text x="1544.6" y="1085.6" font-size="29.1">Sorted by responses to CS<tspan font-size="18.5" dy="9">P</tspan></text>
<path d="M1517.3 1099.4L1931.3 1099.4" stroke="#999" stroke-width="2.6"/>
<text x="870.8" y="1142.9" font-size="32.6">Reward</text>
<text x="1059.3" y="1142.9" font-size="32.6">Neutral</text>
<text x="1205" y="1142.9" font-size="32.9">Punishment</text>
<text x="1470.8" y="1142.9" font-size="32.6">Reward</text>
<text x="1657.4" y="1142.9" font-size="32.6">Neutral</text>
<text x="1814" y="1142.9" font-size="32.9">Punishment</text>
<path d="M837 1190.5H919.6V1175.8H936.3V1190.5H1003.3" stroke="#5c5c5c" stroke-width="1.5" fill="none" stroke-linejoin="round"/>
<path d="M837 1227H936.3V1212.3H962.9V1227H1003.3" stroke="#5c5c5c" stroke-width="1.5" fill="none" stroke-linejoin="round"/>
<path d="M837 1258H962.9V1242.9H969.2V1258H1003.3" stroke="#5c5c5c" stroke-width="1.5" fill="none" stroke-linejoin="round"/>
<text x="833.9" y="1180.6" font-size="25.5">CS<tspan font-size="14" dy="8">R</tspan></text>
<text x="833.9" y="1217.5" font-size="24.5">Decision</text>
<text x="833.9" y="1252.8" font-size="25.5">US</text>
<text x="1021.6" y="1216.3" font-size="25.5">CS<tspan font-size="14" dy="8">N</tspan></text>
<path d="M1025.6 1232H1108V1217.5H1124V1232H1191.4" stroke="#5c5c5c" stroke-width="1.5" fill="none" stroke-linejoin="round"/>
<path d="M1208.9 1190.5H1291.8V1175.8H1307.3V1190.5H1374.8" stroke="#5c5c5c" stroke-width="1.5" fill="none" stroke-linejoin="round"/>
<path d="M1208.9 1227H1307.3V1212.3H1334.3V1227H1374.8" stroke="#5c5c5c" stroke-width="1.5" fill="none" stroke-linejoin="round"/>
<path d="M1208.9 1258H1334.3V1242.9H1340.2V1258H1374.8" stroke="#5c5c5c" stroke-width="1.5" fill="none" stroke-linejoin="round"/>
<text x="1207" y="1180.6" font-size="25.5">CS<tspan font-size="14" dy="8">P</tspan></text>
<text x="1207" y="1219.5" font-size="24.5">Decision</text>
<text x="1207" y="1252.8" font-size="25.5">US</text>
<path d="M1443.3 1191H1525.4V1176.3H1542.1V1191H1609.6" stroke="#5c5c5c" stroke-width="1.5" fill="none" stroke-linejoin="round"/>
<path d="M1443.3 1227.5H1542.1V1212.8H1568.7V1227.5H1609.6" stroke="#5c5c5c" stroke-width="1.5" fill="none" stroke-linejoin="round"/>
<path d="M1443.3 1258.5H1568.7V1243.4H1575V1258.5H1609.6" stroke="#5c5c5c" stroke-width="1.5" fill="none" stroke-linejoin="round"/>
<text x="1442" y="1179.8" font-size="25.5">CS<tspan font-size="14" dy="8">R</tspan></text>
<text x="1442" y="1220.5" font-size="24.5">Decision</text>
<text x="1442" y="1252.5" font-size="25.5">US</text>
<text x="1630" y="1215.5" font-size="25.5">CS<tspan font-size="14" dy="8">N</tspan></text>
<path d="M1628.5 1232.5H1711.5V1218H1727.5V1232.5H1794.5" stroke="#5c5c5c" stroke-width="1.5" fill="none" stroke-linejoin="round"/>
<path d="M1814 1191H1897.5V1176.3H1913V1191H1980.5" stroke="#5c5c5c" stroke-width="1.5" fill="none" stroke-linejoin="round"/>
<path d="M1814 1227.5H1913V1212.8H1940V1227.5H1980.5" stroke="#5c5c5c" stroke-width="1.5" fill="none" stroke-linejoin="round"/>
<path d="M1814 1258.5H1940V1243.4H1946V1258.5H1980.5" stroke="#5c5c5c" stroke-width="1.5" fill="none" stroke-linejoin="round"/>
<text x="1814.5" y="1181.5" font-size="25.5">CS<tspan font-size="14" dy="8">P</tspan></text>
<text x="1814.5" y="1220.5" font-size="24.5">Decision</text>
<text x="1814.5" y="1253.5" font-size="25.5">US</text>
<rect x="839.2" y="1266.3" width="165" height="471.7" fill="#000"/>
<clipPath id="cl4"><rect x="839.2" y="1266.3" width="165" height="471.7"/></clipPath>
<g clip-path="url(#cl4)"><g filter="url(#bl8)" stroke-width="6.1">
<path d="M990.5 1457.9h2.8M996 1457.9h2.8" stroke="#62e9ff"/>
<path d="M993.2 1457.9h2.8M998.7 1457.9h5.5" stroke="#28c8ff"/>
<path d="M971.2 1457.9h2.8M985 1457.9h2.8" stroke="#1396ff"/>
<path d="M965.7 1457.9h2.8M974 1457.9h11" stroke="#0668f9"/>
<path d="M968.5 1457.9h2.8M921.7 1552.3h2.8M930 1552.3h2.8M935.5 1552.3h2.8M993.2 1593.5h2.8" stroke="#003cf0"/>
<path d="M916.2 1457.9h2.8M919 1552.3h2.8M924.5 1552.3h5.5M960.2 1593.5h5.5M968.5 1593.5h2.8M974 1593.5h2.8M987.7 1593.5h2.8M996 1593.5h8.2M916.2 1735.1h8.2M927.2 1735.1h2.8M935.5 1735.1h2.8M943.7 1735.1h2.8M996 1735.1h8.2" stroke="#001dce"/>
<path d="M916.2 1281h2.8M847.5 1310.5h5.5M886 1316.4h2.8M913.5 1387.2h8.2M982.2 1446.1h8.2M910.7 1457.9h5.5M963 1457.9h2.8M987.7 1457.9h2.8M957.5 1534.6h5.5M916.2 1552.3h2.8M932.7 1552.3h2.8M869.5 1558.2h8.2M974 1564.1h8.2M924.5 1575.9h5.5M957.5 1593.5h2.8M965.7 1593.5h2.8M971.2 1593.5h2.8M976.7 1593.5h11M990.5 1593.5h2.8M963 1605.3h2.8M880.5 1611.2h8.2M872.2 1623h5.5M930 1640.7h5.5M971.2 1640.7h5.5M963 1670.2h8.2M908 1729.2h2.8M913.5 1735.1h2.8M924.5 1735.1h2.8M930 1735.1h5.5M938.2 1735.1h5.5M976.7 1735.1h5.5" stroke="#00079e"/>
<path d="M869.5 1281h8.2M910.7 1281h2.8M910.7 1452h2.8M935.5 1652.5h2.8M869.5 1664.3h2.8M927.2 1682h5.5" stroke="#00005a"/>
<path d="M844.7 1269.2h2.8M880.5 1281h2.8M913.5 1322.3h2.8M919 1345.9h2.8M894.2 1369.5h2.8M850.2 1387.2h2.8M913.5 1399h2.8M908 1404.9h2.8M858.5 1422.6h2.8M976.7 1434.3h2.8M976.7 1440.2h2.8M924.5 1457.9h2.8M905.2 1463.8h2.8M971.2 1481.5h2.8M941 1487.4h2.8M861.2 1493.3h2.8M979.5 1493.3h2.8M932.7 1499.2h2.8M935.5 1505.1h2.8M850.2 1552.3h2.8M924.5 1558.2h2.8M891.5 1623h2.8M971.2 1623h2.8M979.5 1623h2.8M891.5 1628.9h2.8M858.5 1640.7h2.8M913.5 1646.6h2.8M974 1670.2h2.8M905.2 1676.1h2.8M949.2 1705.6h2.8M844.7 1717.4h2.8M899.7 1717.4h2.8M883.2 1723.3h2.8M853 1729.2h2.8M875 1729.2h2.8M998.7 1729.2h2.8M968.5 1735.1h2.8" stroke="#460000"/>
<path d="M842 1269.2h2.8M921.7 1269.2h2.8M844.7 1275.1h2.8M861.2 1275.1h2.8M875 1275.1h2.8M899.7 1286.9h2.8M875 1292.8h2.8M850.2 1316.4h2.8M908 1316.4h2.8M924.5 1316.4h2.8M919 1328.2h2.8M877.7 1334.1h2.8M916.2 1345.9h2.8M916.2 1375.4h2.8M974 1375.4h2.8M957.5 1381.3h2.8M930 1393.1h2.8M963 1393.1h2.8M974 1393.1h2.8M990.5 1393.1h2.8M872.2 1399h2.8M957.5 1399h2.8M894.2 1404.9h2.8M968.5 1404.9h2.8M866.7 1416.7h2.8M965.7 1416.7h2.8M875 1422.6h2.8M943.7 1428.4h2.8M952 1428.4h2.8M968.5 1434.3h2.8M946.5 1440.2h2.8M941 1446.1h2.8M949.2 1446.1h2.8M993.2 1446.1h2.8M935.5 1452h2.8M987.7 1452h2.8M921.7 1457.9h2.8M932.7 1457.9h2.8M946.5 1457.9h2.8M941 1481.5h2.8M979.5 1481.5h5.5M866.7 1487.4h2.8M968.5 1487.4h2.8M902.5 1493.3h2.8M921.7 1493.3h2.8M877.7 1499.2h2.8M844.7 1522.8h2.8M913.5 1522.8h2.8M855.7 1528.7h2.8M913.5 1528.7h2.8M880.5 1540.5h2.8M847.5 1552.3h2.8M858.5 1552.3h2.8M886 1558.2h2.8M943.7 1581.7h2.8M990.5 1605.3h2.8M930 1611.2h2.8M842 1617.1h2.8M861.2 1617.1h2.8M888.7 1617.1h2.8M976.7 1617.1h2.8M952 1623h2.8M960.2 1623h2.8M987.7 1623h2.8M855.7 1634.8h2.8M850.2 1640.7h2.8M866.7 1640.7h5.5M886 1640.7h2.8M996 1646.6h2.8M872.2 1658.4h2.8M877.7 1658.4h2.8M891.5 1658.4h2.8M866.7 1664.3h2.8M971.2 1670.2h2.8M842 1676.1h2.8M847.5 1676.1h2.8M902.5 1676.1h2.8M990.5 1676.1h2.8M897 1687.9h2.8M858.5 1705.6h2.8M888.7 1705.6h2.8M946.5 1705.6h2.8M842 1717.4h2.8M941 1717.4h2.8M869.5 1723.3h2.8M880.5 1723.3h2.8M921.7 1729.2h2.8M974 1729.2h2.8M965.7 1735.1h2.8" stroke="#990800"/>
<path d="M905.2 1269.2h2.8M872.2 1275.1h2.8M919 1275.1h2.8M844.7 1281h2.8M913.5 1310.5h2.8M883.2 1316.4h2.8M921.7 1316.4h2.8M930 1316.4h5.5M880.5 1322.3h2.8M916.2 1322.3h2.8M908 1328.2h2.8M908 1334.1h2.8M894.2 1340h2.8M897 1351.8h2.8M910.7 1351.8h2.8M858.5 1375.4h8.2M965.7 1375.4h2.8M979.5 1375.4h2.8M985 1375.4h5.5M954.7 1381.3h2.8M960.2 1381.3h2.8M866.7 1387.2h2.8M872.2 1393.1h2.8M905.2 1393.1h2.8M963 1399h2.8M921.7 1404.9h2.8M985 1410.8h2.8M990.5 1410.8h2.8M974 1416.7h2.8M941 1440.2h2.8M913.5 1446.1h2.8M842 1452h2.8M839.2 1469.7h2.8M919 1469.7h2.8M866.7 1475.6h5.5M888.7 1481.5h2.8M935.5 1481.5h2.8M888.7 1487.4h2.8M943.7 1487.4h2.8M974 1487.4h2.8M927.2 1493.3h2.8M875 1499.2h2.8M990.5 1505.1h2.8M861.2 1511h2.8M976.7 1511h2.8M875 1516.9h2.8M888.7 1516.9h2.8M842 1522.8h2.8M853 1528.7h2.8M864 1528.7h2.8M910.7 1528.7h2.8M943.7 1552.3h5.5M952 1552.3h5.5M960.2 1552.3h5.5M971.2 1552.3h2.8M976.7 1552.3h5.5M985 1552.3h2.8M993.2 1552.3h2.8M982.2 1558.2h2.8M855.7 1564.1h2.8M872.2 1564.1h2.8M877.7 1564.1h2.8M949.2 1575.9h5.5M979.5 1575.9h2.8M886 1593.5h2.8M891.5 1593.5h8.2M982.2 1605.3h2.8M998.7 1605.3h2.8M858.5 1617.1h2.8M957.5 1623h2.8M993.2 1623h2.8M866.7 1628.9h2.8M847.5 1640.7h2.8M853 1640.7h2.8M864 1640.7h2.8M872.2 1646.6h2.8M888.7 1658.4h2.8M875 1670.2h2.8M902.5 1670.2h2.8M844.7 1711.5h5.5M853 1717.4h2.8M938.2 1717.4h2.8M905.2 1723.3h2.8M853 1735.1h2.8" stroke="#cf1707"/>
<path d="M839.2 1310.5h2.8M894.2 1310.5h2.8M910.7 1310.5h2.8M880.5 1316.4h2.8M927.2 1316.4h2.8M877.7 1328.2h2.8M910.7 1328.2h2.8M910.7 1334.1h2.8M888.7 1340h5.5M899.7 1351.8h2.8M960.2 1375.4h5.5M968.5 1375.4h5.5M976.7 1375.4h2.8M982.2 1375.4h2.8M1001.5 1375.4h2.8M949.2 1381.3h5.5M869.5 1387.2h5.5M869.5 1393.1h2.8M921.7 1393.1h2.8M996 1393.1h2.8M888.7 1404.9h2.8M919 1404.9h2.8M963 1404.9h2.8M982.2 1410.8h2.8M996 1410.8h2.8M965.7 1434.3h2.8M877.7 1440.2h13.8M847.5 1446.1h2.8M839.2 1452h2.8M960.2 1452h2.8M916.2 1469.7h2.8M872.2 1475.6h2.8M960.2 1475.6h2.8M987.7 1487.4h2.8M916.2 1493.3h2.8M924.5 1493.3h2.8M930 1493.3h2.8M927.2 1522.8h2.8M965.7 1522.8h2.8M990.5 1522.8h2.8M998.7 1522.8h2.8M968.5 1552.3h2.8M987.7 1552.3h2.8M853 1564.1h2.8M875 1564.1h2.8M910.7 1587.6h2.8M883.2 1593.5h2.8M888.7 1593.5h2.8M993.2 1617.1h2.8M866.7 1623h2.8M976.7 1623h2.8M869.5 1646.6h2.8M880.5 1670.2h2.8M899.7 1670.2h2.8M877.7 1676.1h2.8M919 1687.9h2.8M902.5 1711.5h2.8M968.5 1729.2h5.5" stroke="#ec400a"/>
<path d="M919 1304.6h2.8M891.5 1310.5h2.8M990.5 1357.7h2.8M869.5 1363.6h5.5M957.5 1363.6h5.5M998.7 1363.6h5.5M998.7 1375.4h2.8M908 1393.1h11M924.5 1393.1h2.8M968.5 1393.1h5.5M993.2 1393.1h2.8M998.7 1393.1h5.5M960.2 1399h2.8M952 1404.9h8.2M965.7 1404.9h2.8M869.5 1410.8h5.5M965.7 1410.8h5.5M968.5 1416.7h5.5M982.2 1416.7h2.8M946.5 1428.4h2.8M963 1434.3h2.8M943.7 1440.2h2.8M968.5 1440.2h5.5M905.2 1446.1h5.5M943.7 1446.1h5.5M941 1452h2.8M938.2 1457.9h2.8M943.7 1457.9h2.8M913.5 1469.7h2.8M894.2 1481.5h2.8M968.5 1481.5h2.8M974 1481.5h5.5M877.7 1487.4h2.8M963 1487.4h2.8M971.2 1487.4h2.8M913.5 1493.3h2.8M919 1499.2h2.8M930 1499.2h2.8M869.5 1522.8h2.8M985 1540.5h2.8M905.2 1546.4h5.5M839.2 1558.2h2.8M888.7 1570h5.5M877.7 1575.9h2.8M985 1575.9h2.8M894.2 1581.7h2.8M880.5 1617.1h5.5M974 1623h2.8M982.2 1623h2.8M990.5 1623h2.8M987.7 1646.6h2.8M993.2 1646.6h2.8M855.7 1658.4h5.5M875 1658.4h2.8M894.2 1670.2h2.8M1001.5 1693.8h2.8M993.2 1729.2h5.5" stroke="#ff780a"/>
<path d="M916.2 1304.6h2.8M990.5 1375.4h8.2M965.7 1381.3h2.8M976.7 1387.2h5.5M919 1393.1h2.8M927.2 1393.1h2.8M932.7 1393.1h2.8M954.7 1393.1h2.8M965.7 1393.1h2.8M916.2 1399h2.8M954.7 1399h2.8M891.5 1404.9h2.8M930 1404.9h2.8M949.2 1404.9h2.8M960.2 1404.9h2.8M935.5 1410.8h2.8M960.2 1410.8h2.8M993.2 1410.8h2.8M998.7 1410.8h5.5M888.7 1416.7h5.5M946.5 1416.7h2.8M963 1416.7h2.8M941 1428.4h2.8M949.2 1428.4h2.8M957.5 1434.3h2.8M924.5 1440.2h2.8M938.2 1440.2h2.8M974 1440.2h2.8M910.7 1446.1h2.8M930 1446.1h2.8M938.2 1446.1h2.8M935.5 1457.9h2.8M941 1457.9h2.8M971.2 1463.8h2.8M987.7 1463.8h2.8M932.7 1475.6h2.8M891.5 1481.5h2.8M938.2 1481.5h2.8M965.7 1481.5h2.8M875 1487.4h2.8M935.5 1487.4h5.5M921.7 1499.2h8.2M971.2 1516.9h2.8M880.5 1534.6h2.8M976.7 1534.6h5.5M982.2 1540.5h2.8M842 1558.2h2.8M965.7 1570h2.8M880.5 1575.9h2.8M891.5 1581.7h2.8M968.5 1581.7h2.8M886 1617.1h2.8M965.7 1623h5.5M985 1623h2.8M985 1646.6h2.8M990.5 1646.6h2.8M976.7 1658.4h2.8M976.7 1664.3h2.8M891.5 1670.2h2.8M982.2 1687.9h2.8M998.7 1693.8h2.8" stroke="#ffb118"/>
<path d="M996 1357.7h8.2M943.7 1452h2.8M949.2 1452h5.5M957.5 1452h2.8M853 1463.8h2.8M979.5 1469.7h5.5M987.7 1469.7h2.8M996 1469.7h5.5M886 1540.5h2.8M996 1552.3h8.2M993.2 1564.1h5.5M987.7 1575.9h16.5M976.7 1605.3h2.8M985 1605.3h2.8M993.2 1605.3h5.5M1001.5 1605.3h2.8M982.2 1617.1h8.2" stroke="#ffdc46"/>
<path d="M993.2 1357.7h2.8M946.5 1452h2.8M954.7 1452h2.8M855.7 1463.8h2.8M985 1469.7h2.8M990.5 1469.7h5.5M1001.5 1469.7h2.8M954.7 1475.6h5.5M921.7 1522.8h5.5M883.2 1540.5h2.8M998.7 1564.1h5.5M979.5 1605.3h2.8M987.7 1605.3h2.8M990.5 1617.1h2.8" stroke="#fff482"/>
<path d="M930 1269.2h74.2M930 1275.1h74.2M927.2 1281h77M916.2 1286.9h88M924.5 1292.8h79.8M924.5 1298.7h79.8M921.7 1304.6h82.5M921.7 1310.5h82.5M935.5 1316.4h68.8M930 1322.3h74.2M921.7 1328.2h82.5M921.7 1334.1h82.5M938.2 1340h66M924.5 1345.9h79.8M927.2 1351.8h77M924.5 1357.7h66M930 1363.6h27.5M963 1363.6h35.8M924.5 1369.5h79.8M921.7 1375.4h38.5M921.7 1381.3h27.5M968.5 1381.3h35.8M921.7 1387.2h27.5M935.5 1393.1h19.2M919 1399h35.8M932.7 1404.9h16.5M971.2 1404.9h33M938.2 1410.8h22M949.2 1416.7h13.8M985 1416.7h19.2M913.5 1428.4h27.5M963 1428.4h41.2M941 1434.3h16.5M927.2 1440.2h11M932.7 1446.1h5.5M949.2 1463.8h22M990.5 1463.8h13.8M974 1516.9h30.2M985 1522.8h5.5M993.2 1522.8h5.5M1001.5 1522.8h2.8M963 1528.7h41.2M968.5 1570h35.8M971.2 1581.7h33M968.5 1599.4h35.8M965.7 1628.9h38.5M957.5 1658.4h19.2M965.7 1664.3h11M982.2 1664.3h22M985 1687.9h19.2M982.2 1705.6h22M976.7 1711.5h27.5M974 1717.4h30.2" stroke="#ffffb4"/>
</g></g>
<path d="M921.4 1266.3L921.4 1738" stroke="#c2c2c2" stroke-width="1.4" stroke-dasharray="6.8 4.6"/>
<path d="M935.4 1266.3L935.4 1738" stroke="#c2c2c2" stroke-width="1.4" stroke-dasharray="6.8 4.6"/>
<path d="M962.8 1266.3L962.8 1738" stroke="#c2c2c2" stroke-width="1.4" stroke-dasharray="6.8 4.6"/>
<rect x="1026.3" y="1266.3" width="165" height="471.7" fill="#000"/>
<clipPath id="cl5"><rect x="1026.3" y="1266.3" width="165" height="471.7"/></clipPath>
<g clip-path="url(#cl5)"><g filter="url(#bl8)" stroke-width="6.1">
<path d="M1177.5 1682h13.8M1133.5 1711.5h5.5" stroke="#62e9ff"/>
<path d="M1128 1711.5h5.5" stroke="#28c8ff"/>
<path d="M1177.5 1381.3h8.2M1188.5 1381.3h2.8M1122.5 1634.8h2.8M1130.8 1634.8h2.8M1147.3 1634.8h8.2" stroke="#1396ff"/>
<path d="M1172 1381.3h5.5M1185.8 1381.3h2.8M1125.3 1634.8h5.5M1133.5 1634.8h11M1155.5 1634.8h2.8" stroke="#0668f9"/>
<path d="M1172 1446.1h2.8M1108.8 1499.2h2.8M1144.5 1634.8h2.8M1180.3 1634.8h2.8M1174.8 1682h2.8M1111.5 1687.9h2.8M1125.3 1687.9h2.8M1139 1711.5h2.8M1150 1717.4h5.5" stroke="#003cf0"/>
<path d="M1155.5 1298.7h2.8M1166.5 1298.7h13.8M1185.8 1298.7h5.5M1169.3 1381.3h2.8M1166.5 1446.1h5.5M1177.5 1446.1h8.2M1111.5 1499.2h2.8M1133.5 1581.7h2.8M1139 1581.7h2.8M1144.5 1581.7h5.5M1163.8 1581.7h2.8M1103.3 1634.8h2.8M1163.8 1634.8h16.5M1183 1634.8h2.8M1188.5 1634.8h2.8M1166.5 1682h8.2M1103.3 1687.9h2.8M1108.8 1687.9h2.8M1117 1687.9h2.8M1133.5 1687.9h8.2M1144.5 1687.9h5.5M1152.8 1687.9h8.2M1111.5 1711.5h8.2M1122.5 1711.5h2.8M1119.8 1717.4h2.8M1125.3 1717.4h2.8M1136.3 1717.4h2.8M1141.8 1717.4h8.2M1158.3 1717.4h5.5M1174.8 1717.4h2.8M1183 1717.4h8.2" stroke="#001dce"/>
<path d="M1161 1292.8h8.2M1158.3 1298.7h8.2M1180.3 1298.7h5.5M1163.8 1304.6h5.5M1185.8 1304.6h2.8M1188.5 1340h2.8M1045.5 1351.8h8.2M1136.3 1351.8h2.8M1141.8 1351.8h8.2M1128 1369.5h8.2M1177.5 1375.4h2.8M1092.3 1381.3h5.5M1152.8 1387.2h5.5M1152.8 1416.7h2.8M1163.8 1416.7h2.8M1177.5 1416.7h5.5M1062 1422.6h2.8M1166.5 1422.6h8.2M1174.8 1446.1h2.8M1103.3 1452h2.8M1163.8 1452h2.8M1136.3 1475.6h8.2M1161 1475.6h2.8M1106 1499.2h2.8M1111.5 1505.1h8.2M1136.3 1505.1h2.8M1172 1505.1h2.8M1180.3 1505.1h2.8M1185.8 1546.4h2.8M1130.8 1581.7h2.8M1136.3 1581.7h2.8M1141.8 1581.7h2.8M1150 1581.7h13.8M1166.5 1581.7h8.2M1152.8 1611.2h5.5M1100.5 1634.8h2.8M1106 1634.8h16.5M1158.3 1634.8h5.5M1185.8 1634.8h2.8M1169.3 1652.5h2.8M1073 1664.3h8.2M1155.5 1682h11M1106 1687.9h2.8M1114.3 1687.9h2.8M1119.8 1687.9h5.5M1128 1687.9h5.5M1141.8 1687.9h2.8M1150 1687.9h2.8M1141.8 1699.7h2.8M1108.8 1711.5h2.8M1119.8 1711.5h2.8M1125.3 1711.5h2.8M1117 1717.4h2.8M1122.5 1717.4h2.8M1128 1717.4h8.2M1139 1717.4h2.8M1155.5 1717.4h2.8M1163.8 1717.4h11M1177.5 1717.4h5.5" stroke="#00079e"/>
<path d="M1155.5 1292.8h2.8M1169.3 1292.8h5.5M1177.5 1292.8h11M1161 1304.6h2.8M1169.3 1304.6h2.8M1180.3 1304.6h5.5M1188.5 1304.6h2.8M1139 1310.5h2.8M1139 1351.8h2.8M1150 1351.8h2.8M1169.3 1375.4h8.2M1180.3 1375.4h2.8M1155.5 1416.7h8.2M1172 1416.7h5.5M1122.5 1428.4h2.8M1161 1452h2.8M1108.8 1469.7h5.5M1144.5 1475.6h16.5M1133.5 1505.1h2.8M1141.8 1505.1h11M1155.5 1505.1h16.5M1174.8 1505.1h5.5M1130.8 1570h5.5M1040 1717.4h2.8" stroke="#00005a"/>
<path d="M1086.8 1275.1h2.8M1183 1275.1h2.8M1108.8 1286.9h2.8M1029 1292.8h2.8M1103.3 1298.7h2.8M1062 1304.6h2.8M1048.3 1310.5h2.8M1081.3 1310.5h2.8M1122.5 1316.4h2.8M1048.3 1328.2h2.8M1078.5 1328.2h2.8M1152.8 1345.9h2.8M1163.8 1345.9h2.8M1037.3 1357.7h2.8M1103.3 1369.5h2.8M1166.5 1375.4h2.8M1051 1393.1h2.8M1029 1399h2.8M1034.5 1428.4h2.8M1084 1428.4h2.8M1141.8 1428.4h2.8M1064.8 1434.3h2.8M1048.3 1446.1h2.8M1053.8 1493.3h2.8M1073 1511h2.8M1081.3 1522.8h2.8M1064.8 1534.6h2.8M1103.3 1546.4h2.8M1037.3 1552.3h2.8M1051 1587.6h2.8M1125.3 1587.6h2.8M1180.3 1605.3h2.8M1051 1611.2h2.8M1128 1617.1h2.8M1045.5 1628.9h2.8M1053.8 1640.7h2.8M1169.3 1640.7h2.8M1130.8 1658.4h2.8M1152.8 1682h2.8M1031.8 1693.8h2.8M1084 1723.3h2.8" stroke="#460000"/>
<path d="M1136.3 1269.2h2.8M1067.5 1281h2.8M1026.3 1292.8h2.8M1059.3 1298.7h2.8M1100.5 1298.7h2.8M1034.5 1304.6h2.8M1078.5 1310.5h2.8M1067.5 1322.3h2.8M1136.3 1322.3h2.8M1073 1328.2h2.8M1108.8 1328.2h2.8M1144.5 1345.9h2.8M1161 1345.9h2.8M1078.5 1351.8h2.8M1034.5 1357.7h2.8M1163.8 1357.7h2.8M1169.3 1357.7h2.8M1048.3 1363.6h2.8M1100.5 1369.5h2.8M1056.5 1375.4h2.8M1163.8 1375.4h2.8M1150 1387.2h2.8M1037.3 1399h2.8M1084 1399h2.8M1097.8 1404.9h2.8M1152.8 1404.9h2.8M1042.8 1416.7h2.8M1081.3 1416.7h2.8M1106 1416.7h2.8M1056.5 1422.6h2.8M1075.8 1428.4h2.8M1081.3 1428.4h2.8M1139 1428.4h2.8M1183 1428.4h2.8M1169.3 1434.3h2.8M1056.5 1446.1h2.8M1130.8 1446.1h2.8M1100.5 1452h2.8M1141.8 1452h2.8M1064.8 1457.9h2.8M1100.5 1457.9h2.8M1128 1463.8h2.8M1174.8 1463.8h2.8M1064.8 1475.6h2.8M1042.8 1487.4h2.8M1163.8 1487.4h2.8M1095 1493.3h2.8M1172 1493.3h2.8M1188.5 1505.1h2.8M1048.3 1511h2.8M1081.3 1511h2.8M1125.3 1511h2.8M1130.8 1511h2.8M1084 1522.8h2.8M1051 1540.5h2.8M1174.8 1540.5h2.8M1075.8 1546.4h2.8M1092.3 1546.4h2.8M1097.8 1546.4h2.8M1034.5 1552.3h2.8M1117 1552.3h2.8M1111.5 1558.2h2.8M1125.3 1564.1h2.8M1169.3 1564.1h2.8M1042.8 1570h2.8M1045.5 1575.9h2.8M1147.3 1575.9h2.8M1053.8 1581.7h2.8M1155.5 1587.6h2.8M1161 1587.6h2.8M1045.5 1599.4h2.8M1062 1611.2h2.8M1092.3 1611.2h2.8M1100.5 1611.2h2.8M1037.3 1617.1h2.8M1141.8 1623h2.8M1051 1640.7h2.8M1155.5 1640.7h2.8M1034.5 1658.4h2.8M1089.5 1664.3h2.8M1136.3 1676.1h2.8M1073 1682h2.8M1119.8 1682h2.8M1150 1682h2.8M1059.3 1705.6h2.8M1026.3 1717.4h2.8M1051 1717.4h2.8M1059.3 1717.4h2.8M1081.3 1723.3h2.8M1166.5 1723.3h2.8M1031.8 1729.2h2.8M1188.5 1735.1h2.8" stroke="#990800"/>
<path d="M1081.3 1304.6h2.8M1125.3 1310.5h2.8M1158.3 1316.4h2.8M1078.5 1322.3h2.8M1100.5 1322.3h2.8M1117 1322.3h2.8M1106 1328.2h2.8M1097.8 1340h2.8M1139 1345.9h2.8M1133.5 1351.8h2.8M1095 1369.5h2.8M1026.3 1375.4h2.8M1103.3 1375.4h2.8M1075.8 1381.3h2.8M1064.8 1393.1h2.8M1095 1399h2.8M1053.8 1410.8h2.8M1073 1428.4h2.8M1108.8 1428.4h2.8M1136.3 1434.3h2.8M1177.5 1434.3h2.8M1185.8 1434.3h2.8M1070.3 1440.2h5.5M1155.5 1440.2h2.8M1053.8 1446.1h2.8M1059.3 1452h2.8M1086.8 1457.9h5.5M1155.5 1457.9h2.8M1095 1463.8h8.2M1040 1487.4h2.8M1130.8 1493.3h2.8M1169.3 1493.3h2.8M1174.8 1499.2h2.8M1180.3 1499.2h5.5M1188.5 1499.2h2.8M1078.5 1511h2.8M1158.3 1516.9h2.8M1161 1528.7h2.8M1172 1540.5h2.8M1106 1552.3h2.8M1166.5 1564.1h2.8M1073 1570h2.8M1163.8 1570h2.8M1144.5 1575.9h2.8M1172 1575.9h2.8M1180.3 1575.9h2.8M1053.8 1599.4h2.8M1089.5 1605.3h2.8M1059.3 1611.2h2.8M1133.5 1611.2h2.8M1139 1611.2h8.2M1158.3 1617.1h2.8M1034.5 1640.7h2.8M1128 1646.6h5.5M1136.3 1646.6h5.5M1177.5 1652.5h2.8M1169.3 1658.4h2.8M1183 1664.3h2.8M1067.5 1676.1h2.8M1144.5 1676.1h2.8M1150 1676.1h2.8M1161 1676.1h2.8M1111.5 1682h2.8M1095 1693.8h2.8M1133.5 1699.7h8.2M1180.3 1699.7h11M1031.8 1717.4h2.8M1048.3 1717.4h2.8M1111.5 1723.3h2.8M1029 1729.2h2.8M1092.3 1729.2h2.8" stroke="#cf1707"/>
<path d="M1111.5 1269.2h2.8M1128 1281h2.8M1136.3 1281h2.8M1078.5 1304.6h2.8M1117 1304.6h2.8M1144.5 1316.4h2.8M1166.5 1316.4h2.8M1097.8 1322.3h2.8M1034.5 1340h2.8M1059.3 1340h2.8M1084 1340h2.8M1158.3 1345.9h2.8M1059.3 1369.5h2.8M1029 1375.4h5.5M1100.5 1375.4h2.8M1031.8 1393.1h2.8M1051 1410.8h2.8M1078.5 1410.8h2.8M1161 1428.4h2.8M1133.5 1434.3h2.8M1158.3 1440.2h2.8M1056.5 1452h2.8M1062 1457.9h2.8M1150 1457.9h2.8M1081.3 1481.5h2.8M1177.5 1499.2h2.8M1185.8 1499.2h2.8M1111.5 1511h2.8M1136.3 1516.9h2.8M1078.5 1522.8h2.8M1114.3 1522.8h2.8M1045.5 1528.7h2.8M1081.3 1546.4h2.8M1166.5 1546.4h2.8M1163.8 1558.2h2.8M1122.5 1564.1h2.8M1048.3 1570h2.8M1070.3 1570h2.8M1081.3 1587.6h2.8M1136.3 1611.2h2.8M1078.5 1617.1h2.8M1031.8 1640.7h2.8M1161 1640.7h2.8M1125.3 1646.6h2.8M1133.5 1646.6h2.8M1172 1646.6h2.8M1130.8 1699.7h2.8M1029 1717.4h2.8M1095 1729.2h2.8" stroke="#ec400a"/>
<path d="M1177.5 1269.2h5.5M1114.3 1281h5.5M1166.5 1310.5h2.8M1147.3 1345.9h5.5M1155.5 1345.9h2.8M1117 1357.7h2.8M1128 1399h2.8M1139 1399h2.8M1163.8 1399h2.8M1188.5 1428.4h2.8M1163.8 1434.3h2.8M1059.3 1475.6h5.5M1114.3 1511h2.8M1128 1511h2.8M1111.5 1552.3h5.5M1106 1558.2h5.5M1161 1558.2h2.8M1108.8 1564.1h5.5M1117 1564.1h5.5M1152.8 1570h5.5M1161 1570h2.8M1158.3 1587.6h2.8M1183 1587.6h2.8M1089.5 1593.5h5.5M1169.3 1623h2.8M1158.3 1640.7h2.8M1163.8 1640.7h5.5M1111.5 1652.5h5.5M1180.3 1652.5h8.2M1119.8 1658.4h5.5M1172 1658.4h5.5M1185.8 1658.4h5.5M1169.3 1664.3h2.8M1177.5 1664.3h2.8M1117 1682h2.8M1172 1729.2h2.8" stroke="#ff780a"/>
<path d="M1128 1269.2h5.5M1163.8 1310.5h2.8M1169.3 1310.5h2.8M1141.8 1345.9h2.8M1130.8 1399h2.8M1158.3 1428.4h2.8M1185.8 1428.4h2.8M1100.5 1546.4h2.8M1108.8 1552.3h2.8M1161 1552.3h5.5M1103.3 1558.2h2.8M1183 1558.2h2.8M1114.3 1564.1h2.8M1158.3 1570h2.8M1139 1575.9h5.5M1174.8 1575.9h5.5M1180.3 1587.6h2.8M1188.5 1652.5h2.8M1177.5 1658.4h8.2M1166.5 1664.3h2.8M1172 1664.3h5.5M1180.3 1664.3h2.8M1114.3 1682h2.8M1108.8 1705.6h2.8M1133.5 1705.6h2.8M1169.3 1729.2h2.8" stroke="#ffb118"/>
<path d="M1106 1269.2h5.5M1130.8 1281h2.8M1183 1345.9h5.5M1108.8 1357.7h2.8M1147.3 1399h5.5M1155.5 1399h8.2M1150 1428.4h2.8M1172 1434.3h5.5M1180.3 1434.3h5.5M1188.5 1434.3h2.8M1147.3 1457.9h2.8M1139 1516.9h8.2M1150 1516.9h5.5M1144.5 1646.6h5.5M1155.5 1646.6h8.2M1166.5 1646.6h5.5M1117 1664.3h2.8M1133.5 1676.1h2.8M1147.3 1676.1h2.8M1183 1729.2h8.2" stroke="#ffdc46"/>
<path d="M1133.5 1281h2.8M1188.5 1345.9h2.8M1106 1357.7h2.8M1111.5 1357.7h5.5M1141.8 1399h5.5M1152.8 1399h2.8M1144.5 1428.4h5.5M1152.8 1428.4h5.5M1166.5 1434.3h2.8M1139 1457.9h8.2M1147.3 1516.9h2.8M1155.5 1516.9h2.8M1161 1623h8.2M1141.8 1646.6h2.8M1150 1646.6h5.5M1163.8 1646.6h2.8M1119.8 1664.3h2.8M1130.8 1676.1h2.8M1139 1676.1h5.5" stroke="#fff482"/>
<path d="M1185.8 1281h5.5M1172 1310.5h19.2M1161 1522.8h30.2M1185.8 1558.2h5.5M1111.5 1705.6h22" stroke="#ffffb4"/>
</g></g>
<path d="M1107.9 1266.3L1107.9 1738" stroke="#c2c2c2" stroke-width="1.4" stroke-dasharray="6.8 4.6"/>
<path d="M1122 1266.3L1122 1738" stroke="#c2c2c2" stroke-width="1.4" stroke-dasharray="6.8 4.6"/>
<path d="M1149.5 1266.3L1149.5 1738" stroke="#c2c2c2" stroke-width="1.4" stroke-dasharray="6.8 4.6"/>
<rect x="1211.1" y="1266.3" width="165.4" height="471.7" fill="#000"/>
<clipPath id="cl6"><rect x="1211.1" y="1266.3" width="165.4" height="471.7"/></clipPath>
<g clip-path="url(#cl6)"><g filter="url(#bl8)" stroke-width="6.1">
<path d="M1335.2 1617.1h8.3M1346.2 1617.1h5.5M1365.5 1617.1h2.8M1371 1617.1h2.8M1296.6 1687.9h2.8M1302.1 1687.9h2.8M1337.9 1723.3h2.8M1343.4 1723.3h8.3M1357.2 1723.3h11" stroke="#001dce"/>
<path d="M1365.5 1328.2h2.8M1246.9 1363.6h5.5M1282.8 1387.2h5.5M1302.1 1393.1h5.5M1233.2 1422.6h2.8M1335.2 1452h2.8M1348.9 1463.8h2.8M1354.4 1463.8h2.8M1371 1463.8h5.5M1274.5 1481.5h5.5M1324.1 1481.5h8.3M1346.2 1516.9h8.3M1348.9 1522.8h5.5M1315.9 1540.5h5.5M1337.9 1546.4h5.5M1337.9 1581.7h2.8M1302.1 1599.4h2.8M1332.4 1617.1h2.8M1343.4 1617.1h2.8M1357.2 1617.1h8.3M1368.2 1617.1h2.8M1373.7 1617.1h2.8M1299.3 1687.9h2.8M1335.2 1723.3h2.8M1340.7 1723.3h2.8M1368.2 1723.3h2.8" stroke="#00079e"/>
<path d="M1326.9 1275.1h8.3M1274.5 1434.3h5.5M1211.1 1452h2.8M1337.9 1452h5.5M1304.8 1463.8h5.5M1337.9 1463.8h5.5M1346.2 1463.8h2.8M1357.2 1463.8h2.8M1362.7 1463.8h5.5M1373.7 1469.7h2.8M1293.8 1546.4h8.3M1238.7 1587.6h5.5M1304.8 1599.4h2.8M1299.3 1652.5h2.8M1280 1717.4h2.8" stroke="#00005a"/>
<path d="M1348.9 1269.2h2.8M1346.2 1275.1h2.8M1271.7 1281h2.8M1219.4 1292.8h2.8M1230.4 1292.8h2.8M1238.7 1310.5h2.8M1222.1 1351.8h2.8M1222.1 1434.3h2.8M1269 1452h2.8M1235.9 1463.8h2.8M1346.2 1475.6h2.8M1329.6 1493.3h2.8M1222.1 1499.2h2.8M1299.3 1511h2.8M1307.6 1511h5.5M1324.1 1511h2.8M1213.9 1534.6h2.8M1296.6 1570h2.8M1230.4 1575.9h2.8M1224.9 1581.7h2.8M1230.4 1593.5h2.8M1280 1605.3h2.8M1321.4 1687.9h2.8M1335.2 1687.9h2.8M1351.7 1687.9h2.8M1224.9 1705.6h2.8M1241.4 1705.6h2.8M1241.4 1711.5h2.8M1282.8 1717.4h2.8" stroke="#460000"/>
<path d="M1213.9 1275.1h2.8M1227.6 1292.8h2.8M1260.7 1298.7h2.8M1321.4 1304.6h2.8M1326.9 1304.6h2.8M1235.9 1310.5h2.8M1285.5 1310.5h2.8M1233.2 1316.4h2.8M1335.2 1328.2h2.8M1235.9 1334.1h2.8M1260.7 1334.1h2.8M1263.5 1369.5h2.8M1304.8 1369.5h2.8M1288.3 1375.4h2.8M1299.3 1375.4h2.8M1343.4 1381.3h2.8M1357.2 1381.3h2.8M1368.2 1381.3h2.8M1252.4 1387.2h5.5M1246.9 1404.9h2.8M1219.4 1410.8h2.8M1269 1416.7h2.8M1277.3 1422.6h2.8M1238.7 1428.4h2.8M1252.4 1434.3h2.8M1266.2 1446.1h2.8M1346.2 1446.1h2.8M1258 1452h2.8M1244.2 1457.9h2.8M1233.2 1463.8h2.8M1271.7 1469.7h2.8M1299.3 1481.5h2.8M1315.9 1481.5h2.8M1346.2 1481.5h2.8M1238.7 1493.3h2.8M1266.2 1493.3h2.8M1313.1 1493.3h2.8M1321.4 1493.3h2.8M1335.2 1493.3h2.8M1258 1499.2h2.8M1211.1 1505.1h2.8M1291 1505.1h2.8M1291 1511h2.8M1315.9 1511h2.8M1321.4 1511h2.8M1362.7 1516.9h2.8M1288.3 1522.8h2.8M1315.9 1528.7h2.8M1354.4 1534.6h2.8M1373.7 1534.6h2.8M1313.1 1546.4h2.8M1216.6 1552.3h2.8M1211.1 1564.1h2.8M1222.1 1581.7h2.8M1365.5 1581.7h2.8M1263.5 1587.6h2.8M1227.6 1593.5h2.8M1227.6 1605.3h2.8M1266.2 1605.3h2.8M1277.3 1605.3h2.8M1346.2 1611.2h2.8M1241.4 1617.1h2.8M1315.9 1617.1h2.8M1266.2 1623h2.8M1315.9 1628.9h2.8M1269 1640.7h2.8M1304.8 1640.7h2.8M1357.2 1652.5h2.8M1263.5 1676.1h2.8M1337.9 1676.1h2.8M1362.7 1676.1h2.8M1318.6 1682h2.8M1318.6 1687.9h2.8M1343.4 1687.9h2.8M1222.1 1705.6h2.8M1346.2 1705.6h2.8M1266.2 1711.5h2.8M1296.6 1717.4h2.8M1354.4 1717.4h2.8M1282.8 1735.1h2.8" stroke="#990800"/>
<path d="M1288.3 1269.2h2.8M1337.9 1269.2h2.8M1211.1 1275.1h2.8M1285.5 1275.1h2.8M1324.1 1286.9h2.8M1252.4 1292.8h2.8M1219.4 1298.7h2.8M1277.3 1298.7h2.8M1282.8 1310.5h2.8M1351.7 1310.5h2.8M1233.2 1334.1h2.8M1258 1334.1h2.8M1326.9 1334.1h2.8M1260.7 1351.8h2.8M1238.7 1369.5h2.8M1260.7 1369.5h2.8M1302.1 1369.5h2.8M1360 1369.5h5.5M1258 1375.4h2.8M1230.4 1387.2h2.8M1255.2 1393.1h2.8M1360 1393.1h8.3M1244.2 1404.9h2.8M1277.3 1404.9h2.8M1365.5 1416.7h2.8M1213.9 1422.6h2.8M1274.5 1422.6h2.8M1249.7 1434.3h2.8M1277.3 1446.1h5.5M1277.3 1469.7h8.3M1211.1 1481.5h2.8M1263.5 1493.3h2.8M1343.4 1499.2h2.8M1310.3 1505.1h2.8M1318.6 1505.1h2.8M1324.1 1505.1h2.8M1371 1505.1h2.8M1291 1516.9h2.8M1313.1 1516.9h2.8M1302.1 1522.8h2.8M1271.7 1540.5h8.3M1318.6 1546.4h2.8M1216.6 1564.1h2.8M1249.7 1575.9h2.8M1343.4 1581.7h5.5M1266.2 1587.6h5.5M1348.9 1587.6h2.8M1318.6 1599.4h2.8M1351.7 1599.4h2.8M1224.9 1605.3h2.8M1335.2 1611.2h2.8M1263.5 1617.1h2.8M1263.5 1623h2.8M1307.6 1628.9h2.8M1296.6 1634.8h2.8M1302.1 1640.7h2.8M1249.7 1658.4h2.8M1371 1658.4h2.8M1238.7 1676.1h5.5M1266.2 1676.1h5.5M1354.4 1687.9h2.8M1244.2 1693.8h2.8M1293.8 1699.7h2.8M1299.3 1699.7h2.8M1304.8 1699.7h5.5M1337.9 1705.6h2.8M1233.2 1711.5h2.8M1274.5 1723.3h2.8M1280 1723.3h5.5" stroke="#cf1707"/>
<path d="M1246.9 1269.2h2.8M1313.1 1269.2h2.8M1227.6 1281h2.8M1238.7 1281h2.8M1280 1286.9h5.5M1216.6 1298.7h2.8M1296.6 1304.6h2.8M1318.6 1304.6h2.8M1213.9 1351.8h2.8M1299.3 1369.5h2.8M1249.7 1375.4h5.5M1255.2 1381.3h5.5M1337.9 1381.3h2.8M1266.2 1387.2h2.8M1238.7 1399h5.5M1274.5 1404.9h2.8M1280 1404.9h5.5M1335.2 1404.9h2.8M1362.7 1416.7h2.8M1271.7 1422.6h2.8M1368.2 1440.2h2.8M1282.8 1446.1h2.8M1337.9 1446.1h5.5M1285.5 1469.7h2.8M1213.9 1481.5h2.8M1260.7 1493.3h2.8M1224.9 1505.1h2.8M1313.1 1505.1h5.5M1321.4 1505.1h2.8M1326.9 1505.1h5.5M1288.3 1516.9h2.8M1332.4 1522.8h2.8M1346.2 1522.8h2.8M1313.1 1528.7h2.8M1244.2 1575.9h5.5M1313.1 1599.4h2.8M1360 1605.3h2.8M1310.3 1628.9h2.8M1293.8 1634.8h2.8M1302.1 1634.8h2.8M1335.2 1634.8h2.8M1340.7 1634.8h2.8M1216.6 1682h5.5M1299.3 1693.8h2.8M1296.6 1699.7h2.8M1302.1 1699.7h2.8M1230.4 1711.5h2.8M1271.7 1723.3h2.8M1277.3 1723.3h2.8M1291 1723.3h2.8M1288.3 1729.2h2.8" stroke="#ec400a"/>
<path d="M1340.7 1269.2h2.8M1354.4 1269.2h2.8M1337.9 1275.1h8.3M1280 1281h2.8M1238.7 1304.6h2.8M1299.3 1304.6h2.8M1324.1 1304.6h2.8M1285.5 1328.2h2.8M1299.3 1381.3h2.8M1360 1381.3h5.5M1271.7 1387.2h2.8M1211.1 1410.8h5.5M1351.7 1440.2h2.8M1360 1440.2h2.8M1343.4 1446.1h2.8M1337.9 1481.5h2.8M1343.4 1481.5h2.8M1307.6 1493.3h2.8M1315.9 1493.3h2.8M1324.1 1493.3h2.8M1354.4 1493.3h2.8M1340.7 1499.2h2.8M1360 1505.1h5.5M1368.2 1505.1h2.8M1285.5 1511h5.5M1293.8 1511h5.5M1302.1 1511h5.5M1351.7 1511h2.8M1222.1 1516.9h2.8M1357.2 1516.9h2.8M1291 1522.8h8.3M1310.3 1528.7h2.8M1288.3 1534.6h5.5M1315.9 1546.4h2.8M1307.6 1581.7h2.8M1337.9 1611.2h8.3M1299.3 1617.1h11M1313.1 1617.1h2.8M1313.1 1628.9h2.8M1255.2 1634.8h2.8M1337.9 1634.8h2.8M1337.9 1652.5h5.5M1348.9 1652.5h5.5M1302.1 1670.2h2.8M1340.7 1676.1h11M1332.4 1687.9h2.8M1337.9 1687.9h2.8M1318.6 1693.8h2.8M1343.4 1705.6h2.8M1371 1705.6h5.5M1348.9 1717.4h5.5M1211.1 1735.1h5.5" stroke="#ff780a"/>
<path d="M1343.4 1269.2h5.5M1357.2 1269.2h2.8M1282.8 1281h2.8M1337.9 1281h2.8M1357.2 1281h2.8M1241.4 1304.6h2.8M1288.3 1328.2h2.8M1277.3 1340h5.5M1315.9 1363.6h2.8M1348.9 1363.6h8.3M1296.6 1381.3h2.8M1302.1 1381.3h2.8M1335.2 1381.3h2.8M1340.7 1381.3h2.8M1365.5 1381.3h2.8M1274.5 1387.2h2.8M1302.1 1440.2h2.8M1326.9 1440.2h2.8M1354.4 1440.2h2.8M1340.7 1481.5h2.8M1310.3 1493.3h2.8M1318.6 1493.3h2.8M1326.9 1493.3h2.8M1332.4 1493.3h2.8M1293.8 1499.2h2.8M1335.2 1499.2h5.5M1365.5 1505.1h2.8M1348.9 1511h2.8M1360 1516.9h2.8M1299.3 1522.8h2.8M1318.6 1528.7h2.8M1371 1528.7h2.8M1213.9 1564.1h2.8M1299.3 1570h2.8M1329.6 1570h2.8M1304.8 1581.7h2.8M1315.9 1599.4h2.8M1335.2 1599.4h5.5M1348.9 1605.3h2.8M1357.2 1605.3h2.8M1299.3 1611.2h2.8M1332.4 1611.2h2.8M1310.3 1617.1h2.8M1258 1634.8h2.8M1326.9 1646.6h2.8M1335.2 1652.5h2.8M1343.4 1652.5h5.5M1354.4 1652.5h2.8M1302.1 1658.4h2.8M1329.6 1658.4h2.8M1299.3 1670.2h2.8M1335.2 1676.1h2.8M1351.7 1676.1h11M1329.6 1687.9h2.8M1340.7 1687.9h2.8M1346.2 1687.9h5.5M1332.4 1699.7h2.8M1332.4 1705.6h2.8M1340.7 1705.6h2.8M1299.3 1711.5h2.8M1304.8 1717.4h2.8M1329.6 1717.4h2.8M1211.1 1729.2h5.5M1307.6 1735.1h2.8M1329.6 1735.1h2.8" stroke="#ffb118"/>
<path d="M1310.3 1304.6h5.5M1362.7 1440.2h5.5M1348.9 1493.3h2.8M1337.9 1522.8h2.8M1343.4 1522.8h2.8M1346.2 1605.3h2.8M1351.7 1605.3h5.5M1302.1 1628.9h2.8M1304.8 1634.8h8.3M1318.6 1634.8h13.8M1302.1 1676.1h2.8M1302.1 1693.8h5.5M1310.3 1693.8h5.5" stroke="#ffdc46"/>
<path d="M1302.1 1304.6h8.3M1315.9 1304.6h2.8M1373.7 1410.8h2.8M1343.4 1493.3h5.5M1351.7 1493.3h2.8M1335.2 1522.8h2.8M1340.7 1522.8h2.8M1343.4 1605.3h2.8M1313.1 1634.8h5.5M1332.4 1634.8h2.8M1299.3 1676.1h2.8M1307.6 1693.8h2.8M1315.9 1693.8h2.8" stroke="#fff482"/>
<path d="M1354.4 1275.1h22.1M1340.7 1281h16.5M1296.6 1357.7h79.9M1318.6 1363.6h30.3M1304.8 1381.3h30.3M1299.3 1428.4h77.2M1304.8 1440.2h22.1M1348.9 1481.5h27.6M1296.6 1499.2h38.6M1321.4 1528.7h49.6M1304.8 1552.3h71.7M1304.8 1558.2h71.7M1299.3 1564.1h77.2M1302.1 1570h27.6M1302.1 1611.2h30.3M1315.9 1646.6h11M1304.8 1652.5h30.3M1304.8 1658.4h24.8M1304.8 1676.1h30.3M1310.3 1699.7h22.1M1304.8 1705.6h27.6M1302.1 1711.5h74.4M1307.6 1717.4h22.1M1310.3 1735.1h19.3" stroke="#ffffb4"/>
</g></g>
<path d="M1293.1 1266.3L1293.1 1738" stroke="#c2c2c2" stroke-width="1.4" stroke-dasharray="6.8 4.6"/>
<path d="M1306.8 1266.3L1306.8 1738" stroke="#c2c2c2" stroke-width="1.4" stroke-dasharray="6.8 4.6"/>
<path d="M1334.4 1266.3L1334.4 1738" stroke="#c2c2c2" stroke-width="1.4" stroke-dasharray="6.8 4.6"/>
<rect x="1444.9" y="1266.3" width="165.2" height="471.7" fill="#000"/>
<clipPath id="cl7"><rect x="1444.9" y="1266.3" width="165.2" height="471.7"/></clipPath>
<g clip-path="url(#cl7)"><g filter="url(#bl8)" stroke-width="6.1">
<path d="M1579.8 1558.2h8.3M1593.6 1558.2h13.8" stroke="#1396ff"/>
<path d="M1574.3 1558.2h5.5M1588.1 1558.2h5.5" stroke="#0668f9"/>
<path d="M1571.6 1440.2h2.8M1585.3 1440.2h2.8M1535.8 1499.2h2.8M1607.3 1558.2h2.8" stroke="#003cf0"/>
<path d="M1530.3 1310.5h5.5M1538.5 1310.5h8.3M1577.1 1440.2h5.5M1590.8 1440.2h2.8M1596.3 1440.2h8.3M1607.3 1440.2h2.8M1524.7 1499.2h5.5M1538.5 1499.2h8.3M1549.5 1499.2h2.8M1555 1499.2h2.8M1524.7 1558.2h5.5" stroke="#001dce"/>
<path d="M1533 1298.7h2.8M1535.8 1310.5h2.8M1546.8 1310.5h2.8M1469.7 1334.1h5.5M1491.7 1340h2.8M1574.3 1369.5h2.8M1450.4 1404.9h8.3M1549.5 1440.2h8.3M1574.3 1440.2h2.8M1582.6 1440.2h2.8M1588.1 1440.2h2.8M1593.6 1440.2h2.8M1604.6 1440.2h2.8M1472.4 1469.7h8.3M1579.8 1475.6h8.3M1502.7 1493.3h8.3M1530.3 1499.2h5.5M1546.8 1499.2h2.8M1552.3 1499.2h2.8M1577.1 1499.2h2.8M1593.6 1499.2h2.8M1571.6 1558.2h2.8M1475.2 1587.6h5.5M1472.4 1611.2h2.8M1466.9 1676.1h5.5" stroke="#00079e"/>
<path d="M1511 1316.4h2.8M1571.6 1499.2h2.8M1579.8 1499.2h2.8M1585.3 1499.2h8.3M1596.3 1499.2h5.5M1604.6 1499.2h2.8M1571.6 1516.9h2.8M1511 1593.5h5.5M1502.7 1623h5.5M1491.7 1723.3h8.3" stroke="#00005a"/>
<path d="M1604.6 1269.2h2.8M1552.3 1286.9h2.8M1491.7 1298.7h2.8M1491.7 1304.6h2.8M1563.3 1310.5h2.8M1571.6 1310.5h2.8M1579.8 1310.5h2.8M1596.3 1310.5h2.8M1527.5 1316.4h2.8M1513.7 1340h2.8M1500 1357.7h2.8M1502.7 1369.5h2.8M1494.5 1387.2h2.8M1593.6 1393.1h2.8M1601.8 1410.8h2.8M1585.3 1452h2.8M1593.6 1452h2.8M1549.5 1463.8h2.8M1590.8 1487.4h2.8M1546.8 1511h2.8M1601.8 1540.5h2.8M1519.2 1546.4h2.8M1563.3 1546.4h2.8M1560.5 1570h2.8M1568.8 1570h2.8M1577.1 1570h2.8M1585.3 1570h2.8M1601.8 1570h2.8M1458.7 1581.7h2.8M1601.8 1587.6h2.8M1508.2 1593.5h2.8M1527.5 1605.3h2.8M1519.2 1628.9h2.8M1579.8 1640.7h2.8M1513.7 1670.2h2.8M1604.6 1670.2h2.8M1505.5 1717.4h2.8M1522 1717.4h2.8M1538.5 1723.3h2.8M1593.6 1723.3h2.8M1502.7 1729.2h2.8M1574.3 1735.1h2.8" stroke="#460000"/>
<path d="M1601.8 1269.2h2.8M1549.5 1286.9h2.8M1502.7 1298.7h2.8M1557.8 1310.5h2.8M1588.1 1310.5h2.8M1604.6 1310.5h2.8M1524.7 1316.4h2.8M1511 1322.3h2.8M1497.2 1334.1h2.8M1497.2 1340h2.8M1502.7 1340h2.8M1511 1340h2.8M1497.2 1357.7h2.8M1579.8 1357.7h2.8M1483.4 1363.6h2.8M1544 1363.6h2.8M1582.6 1369.5h2.8M1444.9 1381.3h2.8M1486.2 1387.2h2.8M1486.2 1393.1h2.8M1469.7 1399h2.8M1508.2 1404.9h2.8M1522 1404.9h2.8M1599.1 1404.9h2.8M1444.9 1410.8h2.8M1502.7 1410.8h2.8M1566 1410.8h2.8M1590.8 1410.8h2.8M1599.1 1410.8h2.8M1516.5 1422.6h2.8M1455.9 1428.4h2.8M1607.3 1428.4h2.8M1444.9 1440.2h2.8M1450.4 1452h2.8M1469.7 1481.5h2.8M1568.8 1487.4h2.8M1574.3 1487.4h2.8M1582.6 1487.4h2.8M1599.1 1487.4h2.8M1607.3 1487.4h2.8M1494.5 1493.3h2.8M1505.5 1499.2h2.8M1588.1 1516.9h2.8M1464.2 1522.8h2.8M1538.5 1522.8h2.8M1590.8 1534.6h2.8M1599.1 1540.5h2.8M1516.5 1546.4h2.8M1557.8 1546.4h2.8M1461.4 1552.3h2.8M1522 1552.3h2.8M1601.8 1552.3h2.8M1450.4 1558.2h2.8M1541.3 1558.2h2.8M1447.7 1564.1h2.8M1505.5 1564.1h2.8M1552.3 1564.1h2.8M1560.5 1564.1h2.8M1577.1 1564.1h2.8M1466.9 1570h2.8M1513.7 1570h2.8M1546.8 1570h2.8M1552.3 1570h2.8M1593.6 1570h2.8M1447.7 1575.9h2.8M1455.9 1581.7h2.8M1505.5 1581.7h2.8M1538.5 1581.7h2.8M1450.4 1593.5h2.8M1502.7 1593.5h2.8M1571.6 1611.2h2.8M1444.9 1628.9h2.8M1458.7 1628.9h2.8M1516.5 1628.9h2.8M1466.9 1640.7h2.8M1511 1646.6h2.8M1560.5 1646.6h2.8M1588.1 1646.6h2.8M1505.5 1652.5h2.8M1491.7 1658.4h2.8M1505.5 1658.4h2.8M1571.6 1658.4h2.8M1599.1 1658.4h2.8M1480.7 1664.3h2.8M1486.2 1664.3h2.8M1511 1670.2h2.8M1502.7 1676.1h2.8M1502.7 1687.9h2.8M1516.5 1693.8h2.8M1568.8 1693.8h2.8M1574.3 1693.8h2.8M1461.4 1705.6h2.8M1486.2 1729.2h2.8M1516.5 1729.2h2.8M1522 1729.2h2.8M1527.5 1735.1h2.8" stroke="#990800"/>
<path d="M1480.7 1275.1h2.8M1519.2 1281h2.8M1489 1286.9h5.5M1593.6 1292.8h2.8M1560.5 1304.6h2.8M1566 1304.6h5.5M1582.6 1304.6h5.5M1590.8 1304.6h5.5M1601.8 1304.6h2.8M1607.3 1304.6h2.8M1508.2 1322.3h2.8M1494.5 1340h2.8M1500 1340h2.8M1505.5 1345.9h2.8M1444.9 1351.8h5.5M1480.7 1357.7h2.8M1568.8 1357.7h2.8M1582.6 1357.7h2.8M1480.7 1369.5h2.8M1486.2 1369.5h2.8M1497.2 1393.1h2.8M1588.1 1393.1h2.8M1535.8 1399h2.8M1563.3 1410.8h2.8M1497.2 1422.6h2.8M1453.2 1440.2h2.8M1500 1440.2h5.5M1444.9 1452h5.5M1574.3 1481.5h2.8M1582.6 1481.5h2.8M1519.2 1499.2h2.8M1557.8 1505.1h2.8M1458.7 1511h2.8M1489 1511h8.3M1516.5 1516.9h2.8M1563.3 1516.9h2.8M1582.6 1522.8h2.8M1588.1 1522.8h2.8M1502.7 1534.6h5.5M1516.5 1552.3h2.8M1544 1552.3h2.8M1555 1558.2h2.8M1544 1564.1h2.8M1568.8 1564.1h2.8M1500 1570h2.8M1505.5 1570h2.8M1483.4 1587.6h2.8M1568.8 1611.2h2.8M1469.7 1640.7h2.8M1480.7 1658.4h2.8M1566 1658.4h2.8M1599.1 1664.3h2.8M1604.6 1664.3h2.8M1500 1687.9h2.8M1502.7 1693.8h2.8M1524.7 1699.7h2.8M1466.9 1711.5h2.8M1483.4 1729.2h2.8M1552.3 1729.2h2.8" stroke="#cf1707"/>
<path d="M1500 1292.8h2.8M1557.8 1304.6h2.8M1574.3 1304.6h5.5M1599.1 1304.6h2.8M1549.5 1322.3h2.8M1450.4 1351.8h2.8M1524.7 1351.8h2.8M1494.5 1393.1h2.8M1505.5 1440.2h5.5M1522 1452h2.8M1522 1469.7h8.3M1461.4 1475.6h2.8M1568.8 1481.5h2.8M1588.1 1481.5h2.8M1571.6 1487.4h2.8M1585.3 1487.4h2.8M1549.5 1505.1h2.8M1555 1505.1h2.8M1538.5 1511h2.8M1582.6 1516.9h2.8M1527.5 1522.8h2.8M1535.8 1522.8h2.8M1480.7 1546.4h5.5M1458.7 1558.2h2.8M1502.7 1564.1h2.8M1497.2 1570h2.8M1502.7 1570h2.8M1590.8 1570h2.8M1458.7 1575.9h2.8M1480.7 1587.6h2.8M1546.8 1587.6h2.8M1494.5 1628.9h2.8M1599.1 1640.7h2.8M1483.4 1658.4h2.8M1519.2 1670.2h2.8M1500 1693.8h2.8M1571.6 1693.8h2.8M1579.8 1693.8h2.8M1599.1 1693.8h2.8M1563.3 1723.3h2.8M1519.2 1729.2h2.8" stroke="#ec400a"/>
<path d="M1596.3 1286.9h5.5M1497.2 1292.8h2.8M1596.3 1292.8h2.8M1486.2 1304.6h5.5M1552.3 1304.6h2.8M1560.5 1310.5h2.8M1566 1310.5h2.8M1574.3 1310.5h5.5M1590.8 1310.5h5.5M1599.1 1310.5h5.5M1590.8 1328.2h5.5M1577.1 1357.7h2.8M1590.8 1363.6h5.5M1483.4 1369.5h2.8M1604.6 1369.5h5.5M1447.7 1375.4h2.8M1582.6 1387.2h2.8M1596.3 1393.1h2.8M1579.8 1410.8h5.5M1604.6 1410.8h5.5M1494.5 1428.4h2.8M1590.8 1452h2.8M1590.8 1469.7h2.8M1464.2 1481.5h5.5M1483.4 1487.4h2.8M1577.1 1487.4h2.8M1596.3 1487.4h2.8M1601.8 1487.4h2.8M1524.7 1505.1h2.8M1538.5 1505.1h2.8M1552.3 1505.1h2.8M1535.8 1511h2.8M1544 1511h2.8M1557.8 1516.9h5.5M1585.3 1516.9h2.8M1585.3 1534.6h5.5M1560.5 1546.4h2.8M1538.5 1552.3h5.5M1568.8 1552.3h2.8M1574.3 1552.3h2.8M1579.8 1552.3h8.3M1590.8 1552.3h8.3M1538.5 1564.1h2.8M1582.6 1564.1h2.8M1549.5 1570h2.8M1571.6 1570h2.8M1582.6 1570h2.8M1588.1 1570h2.8M1596.3 1570h5.5M1604.6 1570h5.5M1533 1581.7h2.8M1599.1 1587.6h2.8M1505.5 1593.5h2.8M1530.3 1617.1h2.8M1568.8 1640.7h5.5M1604.6 1640.7h2.8M1582.6 1646.6h5.5M1544 1658.4h2.8M1568.8 1658.4h2.8M1601.8 1664.3h2.8M1530.3 1693.8h2.8M1544 1723.3h5.5M1541.3 1729.2h2.8" stroke="#ff780a"/>
<path d="M1549.5 1304.6h2.8M1568.8 1310.5h2.8M1582.6 1310.5h5.5M1607.3 1310.5h2.8M1557.8 1328.2h2.8M1577.1 1328.2h5.5M1599.1 1328.2h2.8M1593.6 1334.1h2.8M1588.1 1351.8h2.8M1566 1357.7h2.8M1571.6 1357.7h5.5M1444.9 1375.4h2.8M1579.8 1381.3h2.8M1464.2 1387.2h5.5M1560.5 1387.2h2.8M1579.8 1387.2h2.8M1590.8 1393.1h2.8M1497.2 1428.4h2.8M1585.3 1446.1h2.8M1579.8 1452h5.5M1588.1 1452h2.8M1596.3 1452h5.5M1574.3 1463.8h2.8M1593.6 1469.7h2.8M1585.3 1481.5h2.8M1480.7 1487.4h2.8M1541.3 1487.4h2.8M1566 1487.4h2.8M1579.8 1487.4h2.8M1588.1 1487.4h2.8M1593.6 1487.4h2.8M1604.6 1487.4h2.8M1541.3 1493.3h2.8M1568.8 1505.1h2.8M1533 1511h2.8M1541.3 1511h2.8M1549.5 1511h2.8M1555 1516.9h2.8M1524.7 1522.8h2.8M1530.3 1522.8h5.5M1541.3 1522.8h2.8M1579.8 1522.8h2.8M1585.3 1522.8h2.8M1582.6 1534.6h2.8M1607.3 1534.6h2.8M1555 1546.4h2.8M1519.2 1552.3h2.8M1566 1552.3h2.8M1571.6 1552.3h2.8M1577.1 1552.3h2.8M1588.1 1552.3h2.8M1599.1 1552.3h2.8M1544 1558.2h11M1500 1564.1h2.8M1579.8 1564.1h2.8M1585.3 1564.1h2.8M1555 1570h5.5M1563.3 1570h5.5M1574.3 1570h2.8M1579.8 1570h2.8M1541.3 1575.9h2.8M1535.8 1581.7h2.8M1596.3 1587.6h2.8M1533 1617.1h2.8M1577.1 1628.9h2.8M1533 1640.7h2.8M1566 1640.7h2.8M1574.3 1640.7h5.5M1601.8 1640.7h2.8M1607.3 1640.7h2.8M1533 1646.6h2.8M1549.5 1646.6h11M1541.3 1658.4h2.8M1538.5 1676.1h2.8M1593.6 1676.1h2.8M1582.6 1682h2.8M1533 1693.8h2.8M1566 1693.8h2.8M1582.6 1711.5h2.8M1535.8 1717.4h2.8" stroke="#ffb118"/>
<path d="M1601.8 1286.9h5.5M1599.1 1393.1h5.5M1607.3 1393.1h2.8M1599.1 1469.7h2.8M1571.6 1481.5h2.8M1579.8 1481.5h2.8M1530.3 1505.1h2.8M1604.6 1534.6h2.8M1541.3 1564.1h2.8M1546.8 1564.1h5.5M1555 1564.1h2.8M1563.3 1564.1h5.5M1571.6 1564.1h5.5M1533 1587.6h2.8M1538.5 1587.6h2.8M1596.3 1676.1h8.3M1607.3 1676.1h2.8M1557.8 1723.3h5.5M1544 1729.2h8.3" stroke="#ffdc46"/>
<path d="M1607.3 1286.9h2.8M1604.6 1393.1h2.8M1596.3 1469.7h2.8M1601.8 1469.7h8.3M1577.1 1481.5h2.8M1527.5 1505.1h2.8M1533 1505.1h5.5M1557.8 1564.1h2.8M1535.8 1587.6h2.8M1541.3 1587.6h5.5M1604.6 1676.1h2.8M1552.3 1723.3h5.5" stroke="#fff482"/>
<path d="M1590.8 1298.7h19.3M1541.3 1316.4h68.8M1560.5 1328.2h16.5M1601.8 1328.2h8.3M1596.3 1334.1h13.8M1590.8 1351.8h19.3M1552.3 1357.7h13.8M1582.6 1381.3h27.5M1563.3 1387.2h16.5M1599.1 1387.2h11M1538.5 1416.7h71.6M1588.1 1446.1h22M1577.1 1463.8h33M1544 1487.4h22M1544 1493.3h66.1M1571.6 1505.1h38.5M1552.3 1511h57.8M1533 1516.9h22M1593.6 1516.9h16.5M1544 1522.8h35.8M1549.5 1528.7h60.6M1535.8 1546.4h19.3M1571.6 1546.4h38.5M1546.8 1552.3h19.3M1588.1 1564.1h22M1544 1575.9h66.1M1533 1599.4h77.1M1533 1605.3h77.1M1533 1611.2h35.8M1574.3 1611.2h35.8M1535.8 1617.1h74.3M1527.5 1623h82.6M1579.8 1628.9h30.3M1533 1634.8h77.1M1535.8 1640.7h30.3M1535.8 1646.6h13.8M1535.8 1652.5h74.3M1541.3 1676.1h52.3M1585.3 1682h24.8M1533 1687.9h77.1M1535.8 1693.8h30.3M1533 1699.7h77.1M1533 1705.6h77.1M1585.3 1711.5h24.8M1538.5 1717.4h71.6" stroke="#ffffb4"/>
</g></g>
<path d="M1526.9 1266.3L1526.9 1738" stroke="#c2c2c2" stroke-width="1.4" stroke-dasharray="6.8 4.6"/>
<path d="M1541.1 1266.3L1541.1 1738" stroke="#c2c2c2" stroke-width="1.4" stroke-dasharray="6.8 4.6"/>
<path d="M1568.7 1266.3L1568.7 1738" stroke="#c2c2c2" stroke-width="1.4" stroke-dasharray="6.8 4.6"/>
<rect x="1630.4" y="1266.3" width="165.2" height="471.7" fill="#000"/>
<clipPath id="cl8"><rect x="1630.4" y="1266.3" width="165.2" height="471.7"/></clipPath>
<g clip-path="url(#cl8)"><g filter="url(#bl8)" stroke-width="6.1">
<path d="M1779.1 1493.3h11M1737.8 1640.7h2.8M1732.3 1717.4h2.8M1737.8 1717.4h2.8" stroke="#62e9ff"/>
<path d="M1790.1 1493.3h5.5M1732.3 1640.7h5.5M1740.5 1640.7h11M1729.5 1717.4h2.8M1735 1717.4h2.8M1740.5 1717.4h2.8" stroke="#28c8ff"/>
<path d="M1762.6 1493.3h2.8M1713 1623h2.8M1718.5 1623h2.8M1724 1623h2.8M1729.5 1623h2.8M1735 1623h5.5M1746 1623h16.5M1770.8 1623h2.8M1779.1 1623h5.5M1787.3 1623h2.8M1792.8 1623h2.8M1729.5 1640.7h2.8M1757.1 1640.7h2.8M1765.3 1640.7h2.8M1776.3 1640.7h2.8M1781.8 1640.7h2.8M1790.1 1705.6h2.8" stroke="#1396ff"/>
<path d="M1759.8 1493.3h2.8M1765.3 1493.3h8.3M1776.3 1493.3h2.8M1715.8 1623h2.8M1721.3 1623h2.8M1726.8 1623h2.8M1732.3 1623h2.8M1740.5 1623h2.8M1762.6 1623h8.3M1773.6 1623h5.5M1784.6 1623h2.8M1790.1 1623h2.8M1759.8 1640.7h5.5M1768.1 1640.7h8.3M1779.1 1640.7h2.8M1784.6 1640.7h5.5M1779.1 1705.6h11M1792.8 1705.6h2.8M1743.3 1717.4h2.8" stroke="#0668f9"/>
<path d="M1762.6 1351.8h2.8M1779.1 1369.5h2.8M1754.3 1581.7h2.8M1765.3 1581.7h2.8M1779.1 1581.7h2.8M1743.3 1623h2.8M1751.5 1640.7h2.8M1776.3 1705.6h2.8" stroke="#003cf0"/>
<path d="M1735 1328.2h2.8M1740.5 1328.2h2.8M1759.8 1351.8h2.8M1765.3 1351.8h5.5M1773.6 1351.8h5.5M1784.6 1351.8h5.5M1765.3 1369.5h11M1781.8 1369.5h5.5M1790.1 1369.5h2.8M1773.6 1493.3h2.8M1748.8 1505.1h2.8M1757.1 1505.1h2.8M1765.3 1505.1h2.8M1770.8 1505.1h5.5M1710.2 1511h2.8M1715.8 1511h11M1735 1511h2.8M1746 1511h2.8M1751.5 1511h8.3M1762.6 1511h2.8M1770.8 1511h2.8M1735 1581.7h5.5M1743.3 1581.7h5.5M1751.5 1581.7h2.8M1757.1 1581.7h2.8M1762.6 1581.7h2.8M1776.3 1581.7h2.8M1713 1640.7h13.8M1754.3 1640.7h2.8M1707.5 1682h2.8M1713 1717.4h2.8M1726.8 1717.4h2.8" stroke="#001dce"/>
<path d="M1735 1269.2h5.5M1759.8 1286.9h5.5M1776.3 1298.7h2.8M1787.3 1298.7h2.8M1732.3 1328.2h2.8M1737.8 1328.2h2.8M1770.8 1351.8h2.8M1779.1 1351.8h5.5M1790.1 1351.8h5.5M1776.3 1369.5h2.8M1787.3 1369.5h2.8M1757.1 1381.3h2.8M1762.6 1381.3h2.8M1779.1 1381.3h5.5M1633.2 1387.2h2.8M1751.5 1387.2h8.3M1649.7 1393.1h2.8M1660.7 1399h2.8M1713 1410.8h2.8M1746 1428.4h2.8M1754.3 1428.4h2.8M1765.3 1428.4h8.3M1649.7 1434.3h5.5M1743.3 1446.1h2.8M1751.5 1446.1h2.8M1757.1 1446.1h8.3M1773.6 1446.1h2.8M1779.1 1446.1h2.8M1729.5 1457.9h2.8M1668.9 1481.5h8.3M1743.3 1505.1h5.5M1751.5 1505.1h5.5M1759.8 1505.1h5.5M1768.1 1505.1h2.8M1707.5 1511h2.8M1713 1511h2.8M1726.8 1511h8.3M1737.8 1511h8.3M1748.8 1511h2.8M1759.8 1511h2.8M1765.3 1511h5.5M1635.9 1516.9h5.5M1792.8 1516.9h2.8M1655.2 1528.7h8.3M1657.9 1564.1h2.8M1685.5 1564.1h2.8M1770.8 1564.1h8.3M1740.5 1581.7h2.8M1748.8 1581.7h2.8M1759.8 1581.7h2.8M1768.1 1581.7h8.3M1781.8 1581.7h2.8M1688.2 1623h2.8M1726.8 1640.7h2.8M1790.1 1640.7h2.8M1732.3 1664.3h2.8M1710.2 1682h8.3M1715.8 1717.4h11M1657.9 1735.1h2.8" stroke="#00079e"/>
<path d="M1770.8 1298.7h5.5M1779.1 1298.7h8.3M1790.1 1298.7h5.5M1685.5 1310.5h5.5M1743.3 1340h8.3M1759.8 1381.3h2.8M1768.1 1381.3h2.8M1776.3 1381.3h2.8M1784.6 1381.3h2.8M1792.8 1381.3h2.8M1663.4 1393.1h8.3M1737.8 1428.4h8.3M1748.8 1428.4h5.5M1759.8 1428.4h5.5M1773.6 1428.4h5.5M1737.8 1446.1h5.5M1765.3 1446.1h8.3M1776.3 1446.1h2.8M1781.8 1446.1h2.8M1787.3 1446.1h8.3M1726.8 1457.9h2.8M1732.3 1457.9h11M1746 1457.9h13.8M1762.6 1457.9h8.3M1773.6 1457.9h2.8M1779.1 1587.6h2.8" stroke="#00005a"/>
<path d="M1740.5 1281h2.8M1724 1304.6h2.8M1649.7 1310.5h2.8M1666.2 1310.5h2.8M1781.8 1316.4h2.8M1770.8 1328.2h2.8M1787.3 1328.2h2.8M1633.2 1340h2.8M1770.8 1357.7h2.8M1779.1 1357.7h2.8M1680 1375.4h2.8M1732.3 1381.3h2.8M1652.4 1387.2h2.8M1726.8 1387.2h2.8M1743.3 1404.9h2.8M1754.3 1422.6h2.8M1649.7 1452h2.8M1666.2 1481.5h2.8M1743.3 1487.4h2.8M1685.5 1493.3h2.8M1702 1505.1h2.8M1784.6 1558.2h2.8M1773.6 1575.9h2.8M1691 1587.6h2.8M1790.1 1599.4h2.8M1740.5 1628.9h2.8M1635.9 1634.8h2.8M1649.7 1640.7h2.8M1710.2 1640.7h2.8M1707.5 1676.1h2.8M1680 1682h2.8M1680 1687.9h2.8M1635.9 1699.7h2.8M1652.4 1717.4h2.8M1704.7 1723.3h2.8" stroke="#460000"/>
<path d="M1754.3 1281h2.8M1630.4 1286.9h2.8M1773.6 1286.9h2.8M1790.1 1286.9h2.8M1646.9 1310.5h2.8M1696.5 1310.5h2.8M1762.6 1328.2h2.8M1779.1 1328.2h2.8M1790.1 1328.2h2.8M1707.5 1334.1h2.8M1732.3 1334.1h2.8M1677.2 1340h2.8M1677.2 1351.8h2.8M1710.2 1357.7h2.8M1715.8 1363.6h2.8M1787.3 1363.6h2.8M1729.5 1369.5h2.8M1677.2 1375.4h2.8M1649.7 1387.2h2.8M1707.5 1399h2.8M1790.1 1404.9h2.8M1635.9 1416.7h2.8M1729.5 1416.7h2.8M1633.2 1422.6h2.8M1666.2 1422.6h2.8M1770.8 1440.2h2.8M1751.5 1452h2.8M1646.9 1481.5h2.8M1787.3 1505.1h2.8M1685.5 1516.9h2.8M1718.5 1528.7h2.8M1748.8 1528.7h2.8M1748.8 1540.5h2.8M1757.1 1540.5h2.8M1765.3 1540.5h2.8M1732.3 1558.2h2.8M1737.8 1558.2h2.8M1699.2 1575.9h2.8M1641.4 1593.5h2.8M1732.3 1611.2h2.8M1757.1 1611.2h2.8M1646.9 1617.1h2.8M1666.2 1617.1h2.8M1633.2 1634.8h2.8M1657.9 1634.8h2.8M1707.5 1640.7h2.8M1768.1 1646.6h2.8M1773.6 1652.5h2.8M1691 1658.4h2.8M1696.5 1658.4h2.8M1718.5 1658.4h2.8M1660.7 1664.3h2.8M1768.1 1664.3h2.8M1704.7 1676.1h2.8M1724 1676.1h2.8M1781.8 1676.1h2.8M1790.1 1676.1h2.8M1630.4 1687.9h2.8M1677.2 1687.9h2.8M1732.3 1705.6h2.8M1649.7 1723.3h2.8M1702 1723.3h2.8M1765.3 1723.3h2.8M1770.8 1723.3h2.8M1641.4 1735.1h2.8" stroke="#990800"/>
<path d="M1663.4 1286.9h2.8M1781.8 1286.9h2.8M1657.9 1292.8h2.8M1699.2 1304.6h2.8M1762.6 1304.6h2.8M1773.6 1316.4h2.8M1757.1 1328.2h2.8M1729.5 1334.1h2.8M1674.5 1340h2.8M1765.3 1357.7h2.8M1759.8 1363.6h2.8M1726.8 1369.5h2.8M1735 1369.5h2.8M1699.2 1375.4h5.5M1707.5 1387.2h2.8M1740.5 1410.8h2.8M1630.4 1422.6h2.8M1649.7 1422.6h2.8M1696.5 1422.6h5.5M1704.7 1422.6h2.8M1680 1434.3h2.8M1702 1440.2h2.8M1671.7 1452h2.8M1646.9 1463.8h2.8M1696.5 1499.2h2.8M1666.2 1522.8h2.8M1691 1522.8h2.8M1713 1522.8h2.8M1718.5 1522.8h2.8M1726.8 1522.8h2.8M1735 1522.8h2.8M1765.3 1522.8h2.8M1787.3 1528.7h2.8M1718.5 1558.2h5.5M1735 1558.2h2.8M1768.1 1558.2h2.8M1660.7 1564.1h8.3M1638.7 1575.9h2.8M1735 1587.6h2.8M1765.3 1587.6h2.8M1726.8 1611.2h2.8M1743.3 1611.2h2.8M1735 1617.1h8.3M1784.6 1617.1h8.3M1677.2 1628.9h2.8M1655.2 1634.8h2.8M1638.7 1640.7h5.5M1677.2 1640.7h2.8M1693.7 1658.4h2.8M1715.8 1670.2h2.8M1666.2 1676.1h2.8M1746 1693.8h2.8M1765.3 1711.5h2.8M1726.8 1729.2h2.8M1635.9 1735.1h5.5" stroke="#cf1707"/>
<path d="M1680 1304.6h8.3M1754.3 1304.6h2.8M1754.3 1310.5h2.8M1754.3 1351.8h2.8M1644.2 1363.6h2.8M1635.9 1381.3h2.8M1652.4 1399h2.8M1646.9 1422.6h2.8M1707.5 1422.6h2.8M1704.7 1440.2h2.8M1759.8 1440.2h2.8M1666.2 1452h5.5M1644.2 1463.8h2.8M1726.8 1463.8h2.8M1644.2 1481.5h2.8M1715.8 1499.2h2.8M1781.8 1505.1h2.8M1644.2 1522.8h2.8M1688.2 1522.8h2.8M1779.1 1528.7h8.3M1671.7 1540.5h2.8M1773.6 1546.4h2.8M1688.2 1558.2h2.8M1770.8 1558.2h2.8M1635.9 1575.9h2.8M1674.5 1587.6h2.8M1732.3 1587.6h2.8M1737.8 1587.6h2.8M1729.5 1611.2h2.8M1735 1611.2h8.3M1779.1 1611.2h2.8M1638.7 1617.1h2.8M1732.3 1617.1h2.8M1792.8 1617.1h2.8M1674.5 1628.9h2.8M1680 1628.9h2.8M1792.8 1652.5h2.8M1674.5 1687.9h2.8M1748.8 1687.9h2.8M1743.3 1693.8h2.8M1748.8 1711.5h2.8M1718.5 1729.2h2.8M1721.3 1735.1h2.8" stroke="#ec400a"/>
<path d="M1660.7 1269.2h5.5M1768.1 1286.9h2.8M1759.8 1304.6h2.8M1691 1310.5h5.5M1729.5 1316.4h5.5M1776.3 1316.4h5.5M1682.7 1328.2h2.8M1765.3 1328.2h2.8M1776.3 1328.2h2.8M1781.8 1328.2h2.8M1635.9 1345.9h2.8M1773.6 1357.7h5.5M1781.8 1357.7h5.5M1735 1375.4h2.8M1768.1 1375.4h2.8M1704.7 1387.2h2.8M1735 1410.8h2.8M1663.4 1428.4h2.8M1696.5 1487.4h2.8M1724 1493.3h2.8M1779.1 1499.2h5.5M1784.6 1505.1h2.8M1773.6 1528.7h5.5M1762.6 1575.9h2.8M1768.1 1575.9h5.5M1748.8 1611.2h8.3M1759.8 1646.6h5.5M1726.8 1652.5h2.8M1779.1 1652.5h5.5M1787.3 1652.5h5.5M1715.8 1676.1h8.3M1784.6 1676.1h5.5M1737.8 1693.8h5.5M1790.1 1711.5h2.8M1768.1 1723.3h2.8M1710.2 1729.2h8.3M1721.3 1729.2h5.5" stroke="#ff780a"/>
<path d="M1718.5 1304.6h5.5M1748.8 1304.6h2.8M1757.1 1304.6h2.8M1696.5 1316.4h2.8M1685.5 1328.2h2.8M1759.8 1328.2h2.8M1768.1 1328.2h2.8M1773.6 1328.2h2.8M1784.6 1328.2h2.8M1633.2 1345.9h2.8M1768.1 1357.7h2.8M1732.3 1375.4h2.8M1702 1387.2h2.8M1666.2 1428.4h2.8M1693.7 1487.4h2.8M1713 1499.2h2.8M1715.8 1522.8h2.8M1729.5 1522.8h5.5M1765.3 1570h2.8M1790.1 1570h2.8M1759.8 1575.9h2.8M1765.3 1575.9h2.8M1768.1 1593.5h8.3M1790.1 1593.5h2.8M1746 1611.2h2.8M1765.3 1646.6h2.8M1729.5 1652.5h2.8M1776.3 1652.5h2.8M1784.6 1652.5h2.8M1740.5 1699.7h2.8M1762.6 1711.5h2.8M1792.8 1711.5h2.8M1710.2 1735.1h2.8" stroke="#ffb118"/>
<path d="M1770.8 1286.9h2.8M1776.3 1286.9h2.8M1784.6 1286.9h2.8M1792.8 1286.9h2.8M1743.3 1310.5h11M1787.3 1316.4h8.3M1743.3 1357.7h2.8M1743.3 1375.4h8.3M1765.3 1375.4h2.8M1718.5 1410.8h5.5M1737.8 1410.8h2.8M1792.8 1410.8h2.8M1713 1493.3h5.5M1721.3 1493.3h2.8M1710.2 1499.2h2.8M1721.3 1528.7h2.8M1743.3 1540.5h5.5M1754.3 1540.5h2.8M1759.8 1540.5h5.5M1784.6 1540.5h5.5M1792.8 1540.5h2.8M1762.6 1546.4h2.8M1768.1 1546.4h2.8M1762.6 1611.2h2.8M1776.3 1611.2h2.8M1751.5 1711.5h8.3M1713 1735.1h5.5" stroke="#ffdc46"/>
<path d="M1779.1 1286.9h2.8M1787.3 1286.9h2.8M1746 1357.7h2.8M1751.5 1375.4h13.8M1790.1 1410.8h2.8M1718.5 1493.3h2.8M1724 1528.7h2.8M1751.5 1540.5h2.8M1768.1 1540.5h5.5M1790.1 1540.5h2.8M1765.3 1546.4h2.8M1770.8 1546.4h2.8M1759.8 1611.2h2.8M1765.3 1611.2h11M1735 1687.9h13.8M1759.8 1711.5h2.8M1718.5 1735.1h2.8" stroke="#fff482"/>
<path d="M1743.3 1304.6h5.5M1768.1 1570h22M1776.3 1593.5h13.8M1713 1699.7h27.5M1790.1 1723.3h5.5" stroke="#ffffb4"/>
</g></g>
<path d="M1712.9 1266.3L1712.9 1738" stroke="#c2c2c2" stroke-width="1.4" stroke-dasharray="6.8 4.6"/>
<path d="M1726.6 1266.3L1726.6 1738" stroke="#c2c2c2" stroke-width="1.4" stroke-dasharray="6.8 4.6"/>
<path d="M1753.8 1266.3L1753.8 1738" stroke="#c2c2c2" stroke-width="1.4" stroke-dasharray="6.8 4.6"/>
<rect x="1816.5" y="1266.3" width="165.5" height="471.7" fill="#000"/>
<clipPath id="cl9"><rect x="1816.5" y="1266.3" width="165.5" height="471.7"/></clipPath>
<g clip-path="url(#cl9)"><g filter="url(#bl8)" stroke-width="6.1">
<path d="M1940.6 1457.9h2.8M1940.6 1593.5h2.8M1946.1 1593.5h2.8" stroke="#1396ff"/>
<path d="M1946.1 1457.9h2.8M1937.9 1593.5h2.8M1943.4 1593.5h2.8M1948.9 1593.5h2.8" stroke="#0668f9"/>
<path d="M1943.4 1457.9h2.8M1904.8 1499.2h2.8M1973.7 1699.7h2.8" stroke="#003cf0"/>
<path d="M1937.9 1457.9h2.8M1948.9 1457.9h2.8M1896.5 1499.2h5.5M1976.5 1699.7h5.5" stroke="#001dce"/>
<path d="M1893.7 1269.2h5.5M1891 1351.8h5.5M1833 1363.6h2.8M1852.4 1381.3h8.3M1888.2 1410.8h8.3M1951.7 1434.3h8.3M1899.2 1452h2.8M1959.9 1457.9h2.8M1973.7 1457.9h2.8M1979.2 1457.9h2.8M1822 1469.7h2.8M1968.2 1487.4h2.8M1902 1499.2h2.8M1863.4 1540.5h8.3M1841.3 1552.3h8.3M1968.2 1552.3h5.5M1857.9 1581.7h8.3M1951.7 1593.5h2.8M1915.8 1605.3h8.3M1971 1611.2h5.5M1918.6 1628.9h8.3M1846.8 1634.8h5.5M1915.8 1658.4h8.3M1824.8 1693.8h5.5M1882.7 1699.7h5.5M1863.4 1717.4h5.5M1946.1 1735.1h2.8M1954.4 1735.1h5.5M1962.7 1735.1h2.8M1971 1735.1h2.8M1976.5 1735.1h5.5" stroke="#00079e"/>
<path d="M1868.9 1275.1h8.3M1885.5 1310.5h2.8M1968.2 1334.1h2.8M1979.2 1340h2.8M1954.4 1428.4h8.3M1957.2 1457.9h2.8M1965.5 1457.9h5.5M1976.5 1457.9h2.8M1833 1487.4h2.8M1957.2 1682h5.5M1971 1693.8h2.8M1907.5 1699.7h5.5M1899.2 1735.1h11M1915.8 1735.1h2.8M1924.1 1735.1h5.5M1932.3 1735.1h13.8M1948.9 1735.1h2.8M1959.9 1735.1h2.8M1965.5 1735.1h5.5M1973.7 1735.1h2.8" stroke="#00005a"/>
<path d="M1863.4 1292.8h2.8M1838.6 1345.9h2.8M1852.4 1357.7h2.8M1868.9 1369.5h2.8M1874.4 1399h2.8M1882.7 1422.6h2.8M1885.5 1428.4h2.8M1899.2 1428.4h2.8M1830.3 1440.2h2.8M1929.6 1440.2h2.8M1891 1522.8h2.8M1882.7 1528.7h2.8M1954.4 1528.7h2.8M1830.3 1540.5h2.8M1893.7 1552.3h2.8M1888.2 1611.2h2.8M1824.8 1617.1h2.8M1841.3 1623h2.8M1868.9 1640.7h2.8M1932.3 1640.7h2.8M1822 1652.5h2.8M1852.4 1652.5h2.8M1822 1658.4h2.8M1877.2 1664.3h2.8M1824.8 1682h2.8M1822 1699.7h2.8M1885.5 1711.5h2.8M1899.2 1717.4h2.8M1893.7 1735.1h2.8" stroke="#460000"/>
<path d="M1816.5 1269.2h2.8M1849.6 1275.1h2.8M1896.5 1275.1h2.8M1899.2 1281h2.8M1973.7 1298.7h2.8M1827.5 1304.6h2.8M1946.1 1304.6h2.8M1959.9 1304.6h2.8M1946.1 1316.4h2.8M1979.2 1316.4h2.8M1866.2 1322.3h2.8M1871.7 1322.3h2.8M1891 1322.3h2.8M1951.7 1322.3h2.8M1893.7 1328.2h2.8M1965.5 1334.1h2.8M1976.5 1334.1h2.8M1954.4 1340h2.8M1965.5 1340h2.8M1830.3 1345.9h2.8M1866.2 1345.9h2.8M1830.3 1357.7h2.8M1932.3 1357.7h2.8M1857.9 1363.6h2.8M1940.6 1363.6h2.8M1948.9 1363.6h2.8M1965.5 1363.6h2.8M1896.5 1375.4h2.8M1937.9 1375.4h2.8M1893.7 1387.2h2.8M1866.2 1393.1h2.8M1888.2 1393.1h2.8M1932.3 1410.8h2.8M1835.8 1416.7h5.5M1929.6 1416.7h2.8M1882.7 1428.4h2.8M1822 1434.3h2.8M1965.5 1434.3h2.8M1827.5 1440.2h2.8M1838.6 1440.2h2.8M1948.9 1440.2h2.8M1871.7 1452h2.8M1819.3 1457.9h2.8M1855.1 1457.9h2.8M1866.2 1463.8h2.8M1915.8 1463.8h2.8M1879.9 1469.7h2.8M1904.8 1481.5h2.8M1913 1481.5h2.8M1937.9 1499.2h2.8M1866.2 1505.1h2.8M1913 1505.1h2.8M1819.3 1511h2.8M1841.3 1511h2.8M1888.2 1522.8h2.8M1915.8 1522.8h2.8M1849.6 1528.7h2.8M1929.6 1528.7h2.8M1857.9 1540.5h2.8M1891 1540.5h2.8M1943.4 1540.5h2.8M1866.2 1546.4h2.8M1893.7 1546.4h2.8M1921.3 1546.4h2.8M1968.2 1575.9h2.8M1888.2 1587.6h2.8M1838.6 1593.5h2.8M1891 1593.5h2.8M1893.7 1599.4h2.8M1844.1 1605.3h2.8M1822 1611.2h2.8M1926.8 1611.2h2.8M1888.2 1617.1h2.8M1824.8 1640.7h2.8M1885.5 1640.7h2.8M1948.9 1640.7h2.8M1833 1658.4h2.8M1874.4 1664.3h2.8M1929.6 1664.3h2.8M1868.9 1670.2h2.8M1973.7 1682h2.8M1816.5 1699.7h5.5M1841.3 1699.7h2.8M1959.9 1711.5h2.8M1896.5 1717.4h2.8M1979.2 1717.4h2.8M1935.1 1723.3h2.8M1852.4 1729.2h2.8" stroke="#990800"/>
<path d="M1816.5 1275.1h2.8M1846.8 1275.1h2.8M1835.8 1281h2.8M1841.3 1286.9h5.5M1874.4 1292.8h5.5M1824.8 1304.6h2.8M1940.6 1304.6h2.8M1822 1310.5h5.5M1896.5 1310.5h2.8M1973.7 1310.5h2.8M1940.6 1316.4h2.8M1879.9 1322.3h2.8M1943.4 1322.3h5.5M1948.9 1328.2h2.8M1866.2 1340h2.8M1937.9 1357.7h2.8M1855.1 1363.6h2.8M1882.7 1369.5h2.8M1893.7 1375.4h2.8M1932.3 1375.4h2.8M1957.2 1381.3h2.8M1891 1387.2h2.8M1885.5 1393.1h2.8M1904.8 1393.1h2.8M1877.2 1399h2.8M1943.4 1410.8h2.8M1924.1 1416.7h2.8M1913 1422.6h2.8M1932.3 1422.6h2.8M1935.1 1428.4h2.8M1973.7 1428.4h2.8M1891 1434.3h2.8M1913 1434.3h2.8M1932.3 1434.3h2.8M1899.2 1440.2h2.8M1915.8 1440.2h2.8M1943.4 1440.2h2.8M1841.3 1446.1h2.8M1868.9 1452h2.8M1973.7 1452h8.3M1871.7 1463.8h2.8M1943.4 1463.8h2.8M1877.2 1469.7h2.8M1976.5 1469.7h2.8M1841.3 1481.5h2.8M1846.8 1481.5h2.8M1888.2 1487.4h2.8M1893.7 1487.4h2.8M1913 1487.4h2.8M1946.1 1499.2h2.8M1954.4 1499.2h5.5M1888.2 1505.1h2.8M1838.6 1511h2.8M1841.3 1522.8h2.8M1896.5 1540.5h2.8M1940.6 1540.5h2.8M1863.4 1546.4h2.8M1871.7 1546.4h2.8M1879.9 1558.2h2.8M1879.9 1564.1h11M1879.9 1570h5.5M1954.4 1575.9h2.8M1819.3 1581.7h2.8M1879.9 1581.7h2.8M1885.5 1581.7h5.5M1929.6 1593.5h2.8M1874.4 1599.4h2.8M1879.9 1599.4h2.8M1924.1 1611.2h2.8M1874.4 1617.1h2.8M1833 1623h2.8M1877.2 1623h2.8M1907.5 1623h2.8M1971 1628.9h2.8M1835.8 1634.8h2.8M1816.5 1646.6h2.8M1846.8 1652.5h2.8M1830.3 1658.4h2.8M1819.3 1664.3h8.3M1855.1 1676.1h2.8M1971 1682h2.8M1874.4 1699.7h2.8M1957.2 1699.7h2.8M1822 1711.5h2.8M1957.2 1711.5h2.8M1885.5 1723.3h2.8M1932.3 1723.3h2.8M1885.5 1735.1h2.8" stroke="#cf1707"/>
<path d="M1833 1281h2.8M1846.8 1286.9h2.8M1879.9 1292.8h2.8M1819.3 1310.5h2.8M1893.7 1310.5h2.8M1852.4 1322.3h2.8M1877.2 1322.3h2.8M1954.4 1322.3h2.8M1962.7 1322.3h2.8M1863.4 1328.2h8.3M1943.4 1328.2h2.8M1962.7 1334.1h2.8M1822 1340h2.8M1863.4 1340h2.8M1824.8 1345.9h5.5M1833 1345.9h2.8M1954.4 1387.2h2.8M1871.7 1393.1h2.8M1915.8 1410.8h2.8M1921.3 1410.8h2.8M1824.8 1416.7h2.8M1844.1 1416.7h2.8M1921.3 1416.7h2.8M1863.4 1422.6h5.5M1893.7 1428.4h2.8M1910.3 1428.4h2.8M1962.7 1428.4h2.8M1940.6 1440.2h2.8M1921.3 1446.1h2.8M1918.6 1452h2.8M1904.8 1457.9h2.8M1915.8 1457.9h2.8M1973.7 1469.7h2.8M1932.3 1475.6h5.5M1907.5 1481.5h2.8M1860.6 1493.3h2.8M1910.3 1493.3h2.8M1830.3 1499.2h2.8M1877.2 1528.7h2.8M1868.9 1546.4h2.8M1913 1546.4h2.8M1874.4 1558.2h2.8M1885.5 1570h5.5M1882.7 1581.7h2.8M1926.8 1599.4h2.8M1868.9 1611.2h2.8M1885.5 1617.1h2.8M1904.8 1623h2.8M1844.1 1634.8h2.8M1943.4 1640.7h2.8M1948.9 1646.6h2.8M1885.5 1682h2.8" stroke="#ec400a"/>
<path d="M1857.9 1298.7h5.5M1976.5 1298.7h2.8M1943.4 1304.6h2.8M1962.7 1304.6h5.5M1971 1304.6h2.8M1979.2 1304.6h2.8M1976.5 1310.5h2.8M1943.4 1316.4h2.8M1904.8 1322.3h2.8M1959.9 1334.1h2.8M1957.2 1340h2.8M1935.1 1357.7h2.8M1943.4 1363.6h5.5M1929.6 1381.3h5.5M1951.7 1381.3h5.5M1841.3 1387.2h2.8M1951.7 1387.2h2.8M1896.5 1393.1h8.3M1838.6 1404.9h2.8M1929.6 1410.8h2.8M1902 1416.7h2.8M1926.8 1416.7h2.8M1904.8 1422.6h2.8M1915.8 1422.6h5.5M1924.1 1422.6h2.8M1891 1428.4h2.8M1896.5 1428.4h2.8M1913 1428.4h2.8M1921.3 1428.4h5.5M1929.6 1428.4h5.5M1915.8 1434.3h2.8M1921.3 1434.3h2.8M1929.6 1434.3h2.8M1891 1440.2h2.8M1918.6 1440.2h2.8M1924.1 1440.2h2.8M1935.1 1440.2h2.8M1907.5 1463.8h2.8M1816.5 1475.6h5.5M1891 1487.4h2.8M1907.5 1487.4h2.8M1857.9 1493.3h2.8M1904.8 1493.3h2.8M1932.3 1499.2h2.8M1907.5 1505.1h5.5M1951.7 1511h8.3M1962.7 1511h2.8M1819.3 1516.9h5.5M1918.6 1522.8h2.8M1879.9 1528.7h2.8M1885.5 1552.3h2.8M1877.2 1558.2h2.8M1841.3 1575.9h2.8M1902 1575.9h5.5M1962.7 1575.9h5.5M1879.9 1587.6h2.8M1885.5 1587.6h2.8M1976.5 1593.5h5.5M1882.7 1611.2h2.8M1877.2 1617.1h2.8M1879.9 1640.7h5.5M1940.6 1640.7h2.8M1852.4 1676.1h2.8M1959.9 1705.6h2.8M1816.5 1711.5h2.8M1863.4 1723.3h5.5M1877.2 1729.2h5.5M1976.5 1729.2h2.8" stroke="#ff780a"/>
<path d="M1979.2 1298.7h2.8M1968.2 1304.6h2.8M1973.7 1304.6h5.5M1979.2 1310.5h2.8M1868.9 1322.3h2.8M1902 1322.3h2.8M1948.9 1322.3h2.8M1965.5 1322.3h5.5M1946.1 1328.2h2.8M1954.4 1334.1h5.5M1959.9 1340h5.5M1940.6 1351.8h2.8M1973.7 1351.8h2.8M1935.1 1375.4h2.8M1971 1381.3h2.8M1844.1 1387.2h2.8M1838.6 1399h2.8M1841.3 1410.8h5.5M1902 1410.8h2.8M1910.3 1410.8h2.8M1924.1 1410.8h5.5M1846.8 1416.7h2.8M1902 1422.6h2.8M1921.3 1422.6h2.8M1926.8 1422.6h5.5M1946.1 1422.6h2.8M1954.4 1422.6h2.8M1915.8 1428.4h5.5M1926.8 1428.4h2.8M1971 1428.4h2.8M1918.6 1434.3h2.8M1924.1 1434.3h5.5M1921.3 1440.2h2.8M1926.8 1440.2h2.8M1946.1 1440.2h2.8M1946.1 1446.1h2.8M1962.7 1446.1h2.8M1915.8 1452h2.8M1913 1457.9h2.8M1868.9 1463.8h2.8M1910.3 1463.8h5.5M1844.1 1481.5h2.8M1910.3 1481.5h2.8M1910.3 1487.4h2.8M1951.7 1487.4h5.5M1940.6 1499.2h2.8M1921.3 1522.8h2.8M1937.9 1522.8h2.8M1893.7 1540.5h2.8M1888.2 1552.3h5.5M1844.1 1575.9h2.8M1882.7 1587.6h2.8M1973.7 1593.5h2.8M1877.2 1599.4h2.8M1940.6 1599.4h2.8M1885.5 1611.2h2.8M1962.7 1611.2h2.8M1879.9 1617.1h5.5M1841.3 1634.8h2.8M1946.1 1640.7h2.8M1849.6 1652.5h2.8M1849.6 1676.1h2.8M1962.7 1705.6h2.8M1819.3 1711.5h2.8M1979.2 1729.2h2.8" stroke="#ffb118"/>
<path d="M1904.8 1416.7h2.8M1913 1416.7h8.3M1965.5 1428.4h5.5M1893.7 1440.2h2.8M1915.8 1446.1h5.5M1907.5 1457.9h5.5M1907.5 1493.3h2.8M1943.4 1499.2h2.8M1948.9 1499.2h2.8M1940.6 1646.6h8.3" stroke="#ffdc46"/>
<path d="M1957.2 1322.3h5.5M1918.6 1410.8h2.8M1907.5 1416.7h5.5M1896.5 1440.2h2.8M1937.9 1440.2h2.8M1935.1 1499.2h2.8M1951.7 1499.2h2.8M1959.9 1511h2.8" stroke="#fff482"/>
<path d="M1899.2 1269.2h82.8M1899.2 1275.1h82.8M1902 1281h80M1910.3 1286.9h71.7M1902 1292.8h80M1902 1298.7h71.7M1904.8 1304.6h35.9M1904.8 1310.5h33.1M1907.5 1316.4h33.1M1907.5 1322.3h33.1M1896.5 1328.2h44.1M1907.5 1334.1h33.1M1907.5 1340h33.1M1918.6 1345.9h38.6M1915.8 1351.8h24.8M1943.4 1351.8h30.3M1904.8 1357.7h27.6M1904.8 1363.6h27.6M1907.5 1369.5h22.1M1907.5 1375.4h22.1M1907.5 1381.3h22.1M1962.7 1381.3h8.3M1910.3 1387.2h22.1M1910.3 1393.1h27.6M1913 1399h22.1M1913 1404.9h22.1M1904.8 1410.8h5.5M1948.9 1422.6h5.5M1948.9 1446.1h13.8M1943.4 1599.4h38.6M1940.6 1611.2h22.1M1976.5 1628.9h5.5M1951.7 1646.6h30.3" stroke="#ffffb4"/>
</g></g>
<path d="M1898.5 1266.3L1898.5 1738" stroke="#c2c2c2" stroke-width="1.4" stroke-dasharray="6.8 4.6"/>
<path d="M1912.2 1266.3L1912.2 1738" stroke="#c2c2c2" stroke-width="1.4" stroke-dasharray="6.8 4.6"/>
<path d="M1939.9 1266.3L1939.9 1738" stroke="#c2c2c2" stroke-width="1.4" stroke-dasharray="6.8 4.6"/>
<path d="M834 1268V1739M834 1325.9h-9M834 1385h-9M834 1444.8h-9M834 1504.4h-9M834 1563.5h-9M834 1622.6h-9M834 1682.4h-9" stroke="#1f1f1f" stroke-width="1.8" fill="none"/>
<text x="818.5" y="1334.7" text-anchor="end" fill="#1c1c1c" font-size="24.5">10</text>
<text x="818.5" y="1393.8" text-anchor="end" fill="#1c1c1c" font-size="24.5">20</text>
<text x="818.5" y="1453.6" text-anchor="end" fill="#1c1c1c" font-size="24.5">30</text>
<text x="818.5" y="1513.2" text-anchor="end" fill="#1c1c1c" font-size="24.5">40</text>
<text x="818.5" y="1572.3" text-anchor="end" fill="#1c1c1c" font-size="24.5">50</text>
<text x="818.5" y="1631.4" text-anchor="end" fill="#1c1c1c" font-size="24.5">60</text>
<text x="818.5" y="1691.2" text-anchor="end" fill="#1c1c1c" font-size="24.5">70</text>
<path d="M1440.8 1268V1739M1440.8 1327.1h-10.5M1440.8 1386.2h-10.5M1440.8 1446h-10.5M1440.8 1505.6h-10.5M1440.8 1564.7h-10.5M1440.8 1623.8h-10.5M1440.8 1683.6h-10.5" stroke="#1f1f1f" stroke-width="1.8" fill="none"/>
<text x="1424" y="1335.9" text-anchor="end" fill="#1c1c1c" font-size="24.5">10</text>
<text x="1424" y="1395" text-anchor="end" fill="#1c1c1c" font-size="24.5">20</text>
<text x="1424" y="1454.8" text-anchor="end" fill="#1c1c1c" font-size="24.5">30</text>
<text x="1424" y="1514.4" text-anchor="end" fill="#1c1c1c" font-size="24.5">40</text>
<text x="1424" y="1573.5" text-anchor="end" fill="#1c1c1c" font-size="24.5">50</text>
<text x="1424" y="1632.6" text-anchor="end" fill="#1c1c1c" font-size="24.5">60</text>
<text x="1424" y="1692.4" text-anchor="end" fill="#1c1c1c" font-size="24.5">70</text>
<path d="M839.2 1744H1004.3M839.2 1744v9M921.5 1744v9M935.5 1744v9M963 1744v9M1004.3 1744v9" stroke="#1f1f1f" stroke-width="1.8" fill="none"/>
<path d="M1026.3 1744H1191.4M1026.3 1744v9M1108.5 1744v9M1122.6 1744v9M1150.1 1744v9M1191.4 1744v9" stroke="#1f1f1f" stroke-width="1.8" fill="none"/>
<path d="M1211.1 1744H1376.2M1211.1 1744v9M1293.3 1744v9M1307.4 1744v9M1334.9 1744v9M1376.2 1744v9" stroke="#1f1f1f" stroke-width="1.8" fill="none"/>
<path d="M1444.9 1744H1610M1444.9 1744v9M1527.2 1744v9M1541.2 1744v9M1568.7 1744v9M1610 1744v9" stroke="#1f1f1f" stroke-width="1.8" fill="none"/>
<path d="M1630.4 1744H1795.5M1630.4 1744v9M1712.7 1744v9M1726.7 1744v9M1754.2 1744v9M1795.5 1744v9" stroke="#1f1f1f" stroke-width="1.8" fill="none"/>
<path d="M1816.5 1744H1981.6M1816.5 1744v9M1898.8 1744v9M1912.8 1744v9M1940.3 1744v9M1981.6 1744v9" stroke="#1f1f1f" stroke-width="1.8" fill="none"/>
<text x="839.7" y="1771.8" text-anchor="middle" fill="#1c1c1c" font-size="25.8">-6</text>
<text x="923" y="1771.8" text-anchor="middle" fill="#1c1c1c" font-size="25.8">0</text>
<text x="964.7" y="1771.8" text-anchor="middle" fill="#1c1c1c" font-size="25.8">3</text>
<text x="1001.6" y="1771.8" text-anchor="middle" fill="#1c1c1c" font-size="25.8">6</text>
<text x="1027.4" y="1771.8" text-anchor="middle" fill="#1c1c1c" font-size="25.8">-6</text>
<text x="1106" y="1771.8" text-anchor="middle" fill="#1c1c1c" font-size="25.8">0</text>
<text x="1147.6" y="1771.8" text-anchor="middle" fill="#1c1c1c" font-size="25.8">3</text>
<text x="1188" y="1771.8" text-anchor="middle" fill="#1c1c1c" font-size="25.8">6</text>
<text x="1212.7" y="1771.8" text-anchor="middle" fill="#1c1c1c" font-size="25.8">-6</text>
<text x="1291.3" y="1771.8" text-anchor="middle" fill="#1c1c1c" font-size="25.8">0</text>
<text x="1333" y="1771.8" text-anchor="middle" fill="#1c1c1c" font-size="25.8">3</text>
<text x="1377.4" y="1771.8" text-anchor="middle" fill="#1c1c1c" font-size="25.8">6</text>
<text x="1449.4" y="1771.8" text-anchor="middle" fill="#1c1c1c" font-size="25.8">-6</text>
<text x="1532" y="1771.8" text-anchor="middle" fill="#1c1c1c" font-size="25.8">0</text>
<text x="1573.2" y="1771.8" text-anchor="middle" fill="#1c1c1c" font-size="25.8">3</text>
<text x="1610.1" y="1771.8" text-anchor="middle" fill="#1c1c1c" font-size="25.8">6</text>
<text x="1636.7" y="1771.8" text-anchor="middle" fill="#1c1c1c" font-size="25.8">-6</text>
<text x="1714.5" y="1771.8" text-anchor="middle" fill="#1c1c1c" font-size="25.8">0</text>
<text x="1755.8" y="1771.8" text-anchor="middle" fill="#1c1c1c" font-size="25.8">3</text>
<text x="1797.8" y="1771.8" text-anchor="middle" fill="#1c1c1c" font-size="25.8">6</text>
<text x="1821.2" y="1771.8" text-anchor="middle" fill="#1c1c1c" font-size="25.8">-6</text>
<text x="1899.8" y="1771.8" text-anchor="middle" fill="#1c1c1c" font-size="25.8">0</text>
<text x="1941.5" y="1771.8" text-anchor="middle" fill="#1c1c1c" font-size="25.8">3</text>
<text x="1986.3" y="1771.8" text-anchor="middle" fill="#1c1c1c" font-size="25.8">6</text>
<text x="1012" y="1807" font-size="33.3">Time - CS (s)</text>
<text x="1620" y="1807" font-size="33.3">Time - CS (s)</text>
<text text-anchor="middle" fill="#1a1a1a" transform="translate(768.7 1487) rotate(-90)" font-size="33">Cell identity</text>
<defs><linearGradient id="hcf" x1="0" y1="0" x2="0" y2="1"><stop offset="0%" stop-color="#ffffb4"/><stop offset="2.1%" stop-color="#fffa9b"/><stop offset="4.2%" stop-color="#fff482"/><stop offset="6.2%" stop-color="#ffed67"/><stop offset="8.3%" stop-color="#ffdc46"/><stop offset="10.4%" stop-color="#ffcb25"/><stop offset="12.5%" stop-color="#ffb118"/><stop offset="14.6%" stop-color="#ff9511"/><stop offset="16.7%" stop-color="#ff780a"/><stop offset="18.8%" stop-color="#f65c0a"/><stop offset="20.8%" stop-color="#ec400a"/><stop offset="22.9%" stop-color="#e3240a"/><stop offset="25%" stop-color="#cf1707"/><stop offset="27.1%" stop-color="#b80f02"/><stop offset="29.2%" stop-color="#990800"/><stop offset="31.2%" stop-color="#700400"/><stop offset="33.3%" stop-color="#460000"/><stop offset="35.4%" stop-color="#230000"/><stop offset="37.5%" stop-color="#000"/><stop offset="39.6%" stop-color="#000"/><stop offset="41.7%" stop-color="#000"/><stop offset="43.8%" stop-color="#000"/><stop offset="45.8%" stop-color="#000"/><stop offset="47.9%" stop-color="#000"/><stop offset="50%" stop-color="#000"/><stop offset="52.1%" stop-color="#000"/><stop offset="54.2%" stop-color="#000"/><stop offset="56.2%" stop-color="#000"/><stop offset="58.3%" stop-color="#000"/><stop offset="60.4%" stop-color="#000"/><stop offset="62.5%" stop-color="#000"/><stop offset="64.6%" stop-color="#00002d"/><stop offset="66.7%" stop-color="#00005a"/><stop offset="68.8%" stop-color="#00047c"/><stop offset="70.8%" stop-color="#00079e"/><stop offset="72.9%" stop-color="#000dbc"/><stop offset="75%" stop-color="#001dce"/><stop offset="77.1%" stop-color="#002cdf"/><stop offset="79.2%" stop-color="#003cf0"/><stop offset="81.2%" stop-color="#0352f5"/><stop offset="83.3%" stop-color="#0668f9"/><stop offset="85.4%" stop-color="#097efe"/><stop offset="87.5%" stop-color="#1396ff"/><stop offset="89.6%" stop-color="#1dafff"/><stop offset="91.7%" stop-color="#28c8ff"/><stop offset="93.8%" stop-color="#45d9ff"/><stop offset="95.8%" stop-color="#62e9ff"/><stop offset="97.9%" stop-color="#8cf6ff"/><stop offset="100%" stop-color="#beffff"/></linearGradient></defs>
<rect x="1990.8" y="1390.2" width="17.6" height="325.6" fill="url(#hcf)" stroke="#2a2a2a" stroke-width="1"/>
<text x="2018.6" y="1403" fill="#111" font-size="24">6</text>
<text x="2018.6" y="1456.2" fill="#111" font-size="24">4</text>
<text x="2018.6" y="1510.6" fill="#111" font-size="24">2</text>
<text x="2018.6" y="1564.9" fill="#111" font-size="24">0</text>
<text x="2018.6" y="1617.4" fill="#111" font-size="24">-2</text>
<text x="2018.6" y="1671.8" fill="#111" font-size="24">-4</text>
<text x="2018.6" y="1720.9" fill="#111" font-size="24">-6</text>
<text text-anchor="middle" fill="#111" transform="translate(2070.6 1551.6) rotate(-90)" font-size="23.5">ΔF (z-score)</text>
<text x="-2.5" y="1891" font-size="75">g</text>
<text x="204" y="1878.4" font-size="29.6">CS<tspan font-size="18.5" dy="11.5" dx="2.6">R</tspan></text>
<text x="403" y="1878.4" font-size="29.6">CS<tspan font-size="18.5" dy="11.5" dx="2.6">P</tspan></text>
<rect x="137.3" y="1903" width="177.5" height="442.4" fill="#000"/>
<g stroke-width="1.04">
<path d="M137.3 2119.9h177.5M137.3 2162.5h177.5M137.3 2174.4h29.6M137.3 2222.6h177.5" stroke="#1396ff"/>
<path d="M137.3 2093h59.2" stroke="#003cf0"/>
<path d="M196.5 2071.7h118.3M137.3 2074h29.6M137.3 2078.8h118.3M137.3 2096.2h177.5M137.3 2136.4h118.3M137.3 2146.7h59.2M137.3 2148.3h177.5M137.3 2157h118.3M137.3 2164.9h177.5M137.3 2179.1h177.5M137.3 2206.8h177.5M137.3 2209.1h177.5M137.3 2224.9h177.5M137.3 2234.4h177.5M137.3 2254.2h177.5M137.3 2265.2h177.5M137.3 2270.7h29.6M196.5 2270.7h118.3M137.3 2318.1h177.5M196.5 2322.9h118.3" stroke="#00079e"/>
<path d="M137.3 1927.1h177.5M255.6 1931h59.2M137.3 1938.2h177.5M137.3 1975.3h59.2M137.3 1990.3h59.2M137.3 1991.9h88.8M137.3 2002.1h177.5M137.3 2002.9h177.5M137.3 2031.4h177.5M137.3 2048.8h177.5M137.3 2050.3h177.5M137.3 2059h177.5M137.3 2070.9h177.5M137.3 2073.2h177.5M137.3 2076.4h177.5M137.3 2094.6h177.5M137.3 2096.9h177.5M137.3 2099.3h177.5M137.3 2100.1h177.5M196.5 2101.7h118.3M137.3 2106.4h177.5M137.3 2109.6h177.5M226.1 2117.5h88.8M137.3 2120.6h177.5M137.3 2124.6h177.5M255.6 2129.3h59.2M137.3 2134.1h177.5M137.3 2145.9h29.6M137.3 2167.3h177.5M137.3 2172h177.5M137.3 2175.2h88.8M137.3 2179.9h177.5M137.3 2184.6h177.5M137.3 2190.2h29.6M137.3 2191h177.5M137.3 2192.5h118.3M137.3 2193.3h177.5M137.3 2196.5h177.5M137.3 2205.2h177.5M137.3 2206h177.5M137.3 2217.8h177.5M137.3 2218.6h177.5M137.3 2223.3h88.8M137.3 2227.3h59.2M137.3 2238.4h29.6M137.3 2240.7h177.5M137.3 2242.3h177.5M226.1 2246.3h88.8M166.9 2270.7h29.6" stroke="#00005a"/>
<path d="M137.3 1904.2h177.5M137.3 1905h177.5M137.3 1909.7h177.5M137.3 1916h59.2M137.3 1916.8h177.5M166.9 1922.4h147.9M137.3 1935.8h118.3M137.3 1938.9h177.5M137.3 1944.5h177.5M137.3 1946.1h177.5M137.3 1972.1h59.2M196.5 1975.3h118.3M196.5 1980h118.3M137.3 1986.3h59.2M137.3 1991.1h177.5M226.1 1994.2h88.8M137.3 1995.8h177.5M137.3 2004.5h177.5M226.1 2005.3h88.8M166.9 2011.6h147.9M137.3 2012.4h118.3M255.6 2015.6h59.2M226.1 2022.7h88.8M137.3 2040.9h177.5M137.3 2044h88.8M137.3 2046.4h177.5M137.3 2047.2h177.5M137.3 2048h177.5M137.3 2062.2h177.5M137.3 2063h177.5M137.3 2064.6h177.5M137.3 2065.3h177.5M196.5 2086.7h118.3M137.3 2090.6h177.5M137.3 2098.5h118.3M196.5 2100.9h118.3M137.3 2101.7h59.2M137.3 2102.5h118.3M137.3 2108.8h88.8M137.3 2112h177.5M137.3 2115.9h177.5M137.3 2125.4h177.5M137.3 2130.1h177.5M137.3 2130.9h177.5M137.3 2140.4h177.5M137.3 2142.8h177.5M137.3 2143.6h177.5M196.5 2151.5h118.3M226.1 2152.2h88.8M137.3 2157.8h177.5M137.3 2160.1h177.5M137.3 2181.5h177.5M166.9 2190.2h147.9M137.3 2191.7h177.5M137.3 2198.9h177.5M137.3 2200.4h177.5M137.3 2213.9h177.5M137.3 2220.2h177.5M137.3 2221.8h177.5M196.5 2239.9h118.3M137.3 2250.2h118.3M137.3 2251.8h177.5M137.3 2252.6h177.5M255.6 2253.4h59.2" stroke="#460000"/>
<path d="M137.3 1914.5h177.5M255.6 1937.4h59.2M137.3 1950h177.5M137.3 1954h177.5M137.3 1956.3h177.5M137.3 1965.8h177.5M137.3 1969.8h177.5M137.3 1976.1h177.5M137.3 1980.8h177.5M137.3 1984h177.5M137.3 1985.6h177.5M137.3 1988.7h177.5M137.3 1999h177.5M137.3 2008.5h177.5M196.5 2010.8h118.3M137.3 2026.6h177.5M137.3 2036.9h177.5M166.9 2040.1h147.9M137.3 2049.5h118.3M137.3 2061.4h177.5M137.3 2068.5h177.5M137.3 2091.4h177.5M255.6 2102.5h59.2M166.9 2108h147.9M137.3 2123h177.5M137.3 2126.2h177.5M255.6 2138h59.2M137.3 2152.2h88.8M137.3 2154.6h177.5M255.6 2177.5h59.2M137.3 2182.3h177.5M137.3 2201.2h29.6M226.1 2223.3h88.8M137.3 2232.8h177.5M137.3 2236.8h118.3M137.3 2249.4h177.5" stroke="#990800"/>
<path d="M137.3 1918.4h29.6M196.5 1918.4h118.3M196.5 1930.3h59.2M285.2 1930.3h29.6M137.3 1950.8h59.2M137.3 1954.7h29.6M226.1 1963.4h29.6M137.3 1967.4h29.6M285.2 1967.4h29.6M226.1 1970.5h29.6M166.9 1996.6h29.6M255.6 1996.6h29.6M166.9 2030.6h29.6M255.6 2030.6h29.6M196.5 2033h59.2M196.5 2044.8h29.6M255.6 2081.9h59.2M137.3 2142h29.6M196.5 2142h29.6M285.2 2171.2h29.6M196.5 2194.1h29.6M255.6 2258.9h59.2M137.3 2286.5h177.5M137.3 2302.3h177.5M166.9 2303.9h59.2M255.6 2311.8h59.2M137.3 2323.7h177.5M196.5 2326.8h118.3M166.9 2327.6h147.9M137.3 2328.4h59.2M255.6 2334.7h59.2M137.3 2343.4h177.5" stroke="#cf1707"/>
<path d="M166.9 1918.4h29.6M137.3 1930.3h59.2M255.6 1930.3h29.6M137.3 1935h29.6M255.6 1935.8h59.2M196.5 1950.8h59.2M166.9 1954.7h147.9M137.3 1958.7h118.3M137.3 1963.4h88.8M255.6 1963.4h59.2M137.3 1966.6h177.5M166.9 1967.4h118.3M137.3 1970.5h88.8M255.6 1970.5h59.2M137.3 1996.6h29.6M196.5 1996.6h59.2M285.2 1996.6h29.6M137.3 2030.6h29.6M196.5 2030.6h59.2M285.2 2030.6h29.6M137.3 2033h59.2M137.3 2044.8h59.2M226.1 2044.8h88.8M137.3 2081.9h118.3M137.3 2085.1h177.5M166.9 2142h29.6M226.1 2142h88.8M226.1 2171.2h59.2M166.9 2180.7h147.9M137.3 2194.1h59.2M226.1 2194.1h29.6M137.3 2221h59.2" stroke="#ec400a"/>
<path d="M196.5 1917.6h29.6M285.2 1917.6h29.6M166.9 1942.1h29.6M137.3 1946.8h29.6M137.3 1953.2h29.6M137.3 1971.3h88.8M255.6 1971.3h29.6M166.9 1972.9h29.6M137.3 1993.5h29.6M255.6 2028.2h59.2M137.3 2257.3h118.3M137.3 2267.6h177.5M137.3 2270h29.6M166.9 2276.3h147.9M255.6 2279.4h59.2M137.3 2282.6h177.5M166.9 2284.2h147.9M137.3 2288.1h29.6M196.5 2292.1h118.3M226.1 2314.2h88.8M166.9 2325.3h147.9M196.5 2328.4h118.3" stroke="#ff780a"/>
<path d="M137.3 1917.6h59.2M226.1 1917.6h59.2M137.3 1942.1h29.6M196.5 1942.1h118.3M255.6 1945.3h59.2M166.9 1946.8h147.9M166.9 1953.2h147.9M226.1 1971.3h29.6M285.2 1971.3h29.6M137.3 1972.9h29.6M196.5 1972.9h118.3M196.5 1986.3h118.3M166.9 1993.5h29.6M196.5 2028.2h59.2M137.3 2081.1h177.5M137.3 2121.4h177.5M137.3 2175.9h177.5M137.3 2219.4h177.5M137.3 2245.5h177.5M137.3 2256.5h29.6M196.5 2256.5h59.2M285.2 2256.5h29.6M285.2 2257.3h29.6M285.2 2258.1h29.6M166.9 2259.7h88.8M285.2 2259.7h29.6M137.3 2261.3h88.8M166.9 2264.4h118.3M166.9 2272.3h147.9M166.9 2283.4h59.2M255.6 2283.4h59.2M137.3 2284.2h29.6M166.9 2289.7h88.8M285.2 2289.7h29.6M196.5 2294.4h118.3M137.3 2301.6h29.6M166.9 2303.1h29.6M226.1 2303.1h88.8M166.9 2315h88.8M196.5 2317.4h118.3M166.9 2330h29.6M226.1 2330h88.8M226.1 2332.4h59.2M166.9 2341.1h147.9M137.3 2341.8h118.3M285.2 2341.8h29.6" stroke="#ffb118"/>
<path d="M137.3 1957.1h29.6M226.1 1961.1h29.6M226.1 1968.2h29.6M137.3 2010.8h59.2M166.9 2256.5h29.6M255.6 2256.5h29.6M255.6 2257.3h29.6M255.6 2258.1h29.6M255.6 2259.7h29.6M285.2 2264.4h29.6M137.3 2272.3h29.6M137.3 2283.4h29.6M226.1 2283.4h29.6M255.6 2289.7h29.6M137.3 2294.4h59.2M137.3 2303.1h29.6M196.5 2303.1h29.6M137.3 2317.4h59.2M137.3 2322.9h59.2M196.5 2330h29.6M285.2 2332.4h29.6M255.6 2341.8h29.6" stroke="#ffdc46"/>
<path d="M137.3 1949.2h177.5M166.9 1957.1h147.9M137.3 1961.1h88.8M255.6 1961.1h59.2M137.3 1968.2h88.8M255.6 1968.2h59.2M137.3 2084.3h118.3M137.3 2141.2h177.5M137.3 2183.8h177.5M137.3 2186.2h118.3M166.9 2201.2h147.9M137.3 2244.7h177.5M166.9 2255.7h147.9M137.3 2266h177.5M196.5 2266.8h118.3M166.9 2278.6h147.9M137.3 2280.2h177.5M137.3 2281.8h177.5M137.3 2290.5h177.5M137.3 2292.1h59.2M166.9 2293.7h147.9M255.6 2300.8h59.2M255.6 2306.3h59.2M137.3 2308.7h29.6M255.6 2311h59.2M137.3 2311.8h118.3M137.3 2312.6h177.5M255.6 2315h59.2M137.3 2335.5h118.3M137.3 2344.2h29.6M137.3 2345h59.2" stroke="#fff482"/>
<path d="M137.3 1905.8h177.5M137.3 1931h118.3M137.3 1976.9h177.5M137.3 1989.5h118.3M226.1 1991.9h88.8M137.3 2039.3h177.5M137.3 2254.9h177.5M137.3 2255.7h29.6M137.3 2260.5h177.5M226.1 2261.3h88.8M137.3 2262.1h177.5M137.3 2262.8h177.5M137.3 2263.6h177.5M166.9 2268.4h147.9M166.9 2269.2h147.9M137.3 2271.5h177.5M137.3 2273.9h177.5M166.9 2274.7h147.9M137.3 2275.5h177.5M137.3 2277.1h177.5M166.9 2279.4h88.8M166.9 2281h147.9M137.3 2285.8h177.5M166.9 2287.3h147.9M166.9 2288.1h147.9M137.3 2288.9h177.5M137.3 2289.7h29.6M166.9 2291.3h147.9M166.9 2292.9h147.9M137.3 2293.7h29.6M137.3 2295.2h177.5M166.9 2296h147.9M226.1 2296.8h88.8M137.3 2297.6h177.5M166.9 2298.4h147.9M137.3 2299.2h177.5M137.3 2300h177.5M137.3 2300.8h118.3M166.9 2301.6h147.9M226.1 2303.9h88.8M166.9 2304.7h147.9M137.3 2305.5h177.5M137.3 2306.3h118.3M137.3 2307.1h177.5M137.3 2307.9h177.5M166.9 2308.7h147.9M137.3 2309.5h177.5M137.3 2310.2h177.5M166.9 2311h88.8M137.3 2313.4h177.5M137.3 2314.2h88.8M166.9 2315.8h147.9M137.3 2316.6h177.5M137.3 2318.9h177.5M137.3 2319.7h177.5M166.9 2320.5h147.9M137.3 2321.3h177.5M137.3 2322.1h177.5M166.9 2326h147.9M137.3 2326.8h59.2M166.9 2330.8h147.9M137.3 2331.6h177.5M137.3 2332.4h88.8M137.3 2333.2h177.5M166.9 2333.9h147.9M166.9 2334.7h88.8M255.6 2335.5h59.2M137.3 2336.3h177.5M137.3 2337.1h177.5M137.3 2338.7h177.5M137.3 2339.5h177.5M166.9 2340.3h147.9M137.3 2342.6h177.5M166.9 2344.2h147.9M196.5 2345h118.3" stroke="#ffffb4"/>
</g>
<rect x="339.5" y="1903" width="177.3" height="442.4" fill="#000"/>
<g stroke-width="1.04">
<path d="M398.6 1905.8h29.5M369.1 1908.1h29.5M369.1 1913.7h29.5M398.6 1916.8h29.5M398.6 1919.2h29.5M398.6 1921.6h29.5M398.6 1928.7h29.5M369.1 1933.4h29.5M339.5 1950h29.5M339.5 1953.2h29.5M339.5 1969.8h29.5M398.6 1999.8h29.5M398.6 2002.9h29.5M398.6 2006.9h29.5M369.1 2009.3h29.5M339.5 2025.8h29.5M398.6 2095.4h59.1M339.5 2096.2h59.1" stroke="#62e9ff"/>
<path d="M398.6 1923.9h29.5M398.6 2005.3h29.5M339.5 2006.9h29.5M339.5 2008.5h29.5M369.1 2010h29.5M398.6 2012.4h29.5M398.6 2013.2h29.5M398.6 2016.4h29.5M398.6 2022.7h29.5M339.5 2095.4h59.1M428.1 2096.2h29.5M487.2 2096.2h29.5" stroke="#28c8ff"/>
<path d="M339.5 2043.2h59.1M339.5 2071.7h177.3M457.7 2095.4h59.1M398.6 2096.2h29.5M457.7 2096.2h29.5M369.1 2100.9h147.7M339.5 2132.5h177.3M339.5 2144.3h177.3M457.7 2159.4h59.1M339.5 2184.6h177.3M339.5 2221h177.3M339.5 2254.9h177.3" stroke="#1396ff"/>
<path d="M369.1 2042.4h88.6M487.2 2042.4h29.5M339.5 2073.2h118.2M487.2 2073.2h29.5M339.5 2077.2h29.5M398.6 2077.2h59.1M369.1 2079.6h147.7M339.5 2152.2h177.3M369.1 2245.5h29.5M428.1 2245.5h59.1" stroke="#003cf0"/>
<path d="M339.5 2042.4h29.5M457.7 2042.4h29.5M457.7 2073.2h29.5M369.1 2077.2h29.5M457.7 2077.2h59.1M339.5 2079.6h29.5M339.5 2245.5h29.5M398.6 2245.5h29.5M487.2 2245.5h29.5M339.5 2257.3h88.6M339.5 2295.2h29.5M339.5 2312.6h118.2M428.1 2326.8h88.6" stroke="#001dce"/>
<path d="M428.1 2039.3h88.6M339.5 2052.7h177.3M339.5 2062.2h177.3M339.5 2063.8h177.3M339.5 2072.5h88.6M398.6 2096.9h118.2M339.5 2098.5h29.5M339.5 2102.5h177.3M339.5 2103.3h177.3M339.5 2112h177.3M369.1 2119.1h147.7M457.7 2153h59.1M339.5 2157h29.5M339.5 2165.7h177.3M339.5 2171.2h177.3M339.5 2179.9h88.6M339.5 2188.6h118.2M339.5 2198.9h177.3M369.1 2199.6h147.7M339.5 2206.8h177.3M339.5 2216.2h29.5M339.5 2224.9h177.3M339.5 2232.8h29.5M339.5 2239.9h177.3M339.5 2242.3h88.6M339.5 2243.9h177.3M339.5 2273.9h29.5M339.5 2281h59.1M428.1 2281h29.5M487.2 2281h29.5M339.5 2285h59.1M428.1 2285h59.1M428.1 2289.7h88.6M428.1 2290.5h29.5M339.5 2292.1h118.2M339.5 2297.6h29.5M398.6 2297.6h29.5M457.7 2297.6h59.1M369.1 2308.7h59.1M457.7 2308.7h59.1M339.5 2315h29.5M398.6 2315h29.5M457.7 2315h59.1M369.1 2326.8h29.5M339.5 2332.4h29.5M339.5 2341.1h29.5M398.6 2341.1h88.6" stroke="#00079e"/>
<path d="M339.5 2038.5h177.3M398.6 2040.9h118.2M339.5 2044.8h177.3M339.5 2049.5h177.3M339.5 2051.9h177.3M339.5 2053.5h177.3M339.5 2055.9h177.3M339.5 2057.4h177.3M339.5 2058.2h177.3M339.5 2061.4h177.3M339.5 2065.3h177.3M339.5 2066.1h177.3M339.5 2068.5h177.3M339.5 2070.1h177.3M339.5 2074h177.3M339.5 2075.6h88.6M339.5 2076.4h177.3M369.1 2080.4h147.7M428.1 2081.1h88.6M339.5 2085.1h177.3M339.5 2085.9h177.3M339.5 2090.6h118.2M339.5 2092.2h177.3M369.1 2098.5h147.7M457.7 2101.7h59.1M339.5 2105.6h177.3M339.5 2108h177.3M339.5 2115.1h118.2M339.5 2119.9h177.3M339.5 2122.2h59.1M339.5 2124.6h177.3M398.6 2126.2h118.2M339.5 2129.3h177.3M369.1 2130.1h147.7M339.5 2130.9h177.3M339.5 2140.4h177.3M339.5 2141.2h177.3M339.5 2142h177.3M339.5 2146.7h177.3M339.5 2148.3h177.3M339.5 2153.8h59.1M339.5 2156.2h29.5M369.1 2157h147.7M339.5 2159.4h118.2M339.5 2160.1h88.6M339.5 2160.9h177.3M428.1 2161.7h88.6M339.5 2166.5h177.3M339.5 2168.8h177.3M339.5 2170.4h177.3M428.1 2172.8h88.6M339.5 2175.2h177.3M428.1 2179.9h88.6M457.7 2180.7h59.1M339.5 2183.8h177.3M339.5 2187h177.3M339.5 2191.7h177.3M339.5 2193.3h177.3M339.5 2194.1h177.3M398.6 2197.3h118.2M339.5 2198.1h177.3M339.5 2202h177.3M339.5 2202.8h177.3M369.1 2203.6h147.7M339.5 2204.4h177.3M339.5 2206h177.3M339.5 2207.5h177.3M339.5 2211.5h177.3M428.1 2213.9h88.6M339.5 2214.7h177.3M339.5 2224.1h59.1M339.5 2225.7h177.3M339.5 2230.5h118.2M369.1 2273.9h29.5M398.6 2281h29.5M457.7 2281h29.5M398.6 2285h29.5M487.2 2285h29.5M457.7 2290.5h59.1M369.1 2297.6h29.5M428.1 2297.6h29.5M428.1 2308.7h29.5M369.1 2315h29.5M428.1 2315h29.5M339.5 2326.8h29.5M398.6 2326.8h29.5M369.1 2332.4h29.5M369.1 2341.1h29.5M487.2 2341.1h29.5" stroke="#00005a"/>
<path d="M339.5 2037.7h177.3M339.5 2041.6h177.3M339.5 2059h177.3M339.5 2060.6h177.3M339.5 2070.9h177.3M428.1 2075.6h88.6M339.5 2087.5h177.3M339.5 2100.9h29.5M339.5 2104.1h29.5M339.5 2107.2h177.3M339.5 2116.7h177.3M339.5 2120.6h177.3M339.5 2127.8h59.1M339.5 2137.2h88.6M457.7 2139.6h59.1M339.5 2149.1h177.3M398.6 2153.8h118.2M339.5 2157.8h177.3M339.5 2162.5h177.3M339.5 2168h177.3M339.5 2172h29.5M369.1 2175.9h147.7M339.5 2177.5h177.3M339.5 2181.5h177.3M339.5 2209.9h177.3M339.5 2210.7h59.1M339.5 2220.2h177.3M457.7 2230.5h59.1M339.5 2239.1h88.6M339.5 2251h177.3" stroke="#460000"/>
<path d="M339.5 1906.6h29.5M369.1 1912.1h29.5M369.1 1914.5h59.1M398.6 1915.2h29.5M339.5 1922.4h29.5M428.1 1922.4h59.1M339.5 1924.7h29.5M339.5 1925.5h29.5M369.1 1926.3h29.5M398.6 1927.1h29.5M398.6 1927.9h29.5M339.5 1929.5h59.1M339.5 1930.3h29.5M398.6 1934.2h29.5M369.1 1938.2h29.5M398.6 1939.7h29.5M339.5 1945.3h29.5M428.1 1965.8h29.5M487.2 1965.8h29.5M339.5 1977.7h59.1M457.7 1977.7h29.5M398.6 1986.3h29.5M369.1 1987.1h29.5M339.5 1995.8h29.5M398.6 1995.8h29.5M487.2 1995.8h29.5M398.6 2003.7h29.5M398.6 2017.9h29.5M369.1 2018.7h29.5M369.1 2026.6h29.5M428.1 2028.2h29.5M398.6 2029h29.5M398.6 2029.8h29.5M339.5 2040.1h118.2M339.5 2044h177.3M339.5 2048.8h177.3M457.7 2051.1h59.1M339.5 2078.8h177.3M339.5 2091.4h177.3M339.5 2093h29.5M339.5 2123.8h177.3M339.5 2133.3h177.3M339.5 2142.8h118.2M339.5 2169.6h177.3M339.5 2196.5h177.3M339.5 2213.1h177.3M339.5 2218.6h177.3M339.5 2247.8h177.3M398.6 2258.1h118.2M339.5 2264.4h177.3M398.6 2266h118.2M339.5 2267.6h59.1M339.5 2268.4h177.3M339.5 2278.6h118.2M457.7 2292.1h59.1M339.5 2293.7h177.3M339.5 2300.8h59.1M339.5 2305.5h177.3M339.5 2306.3h177.3M339.5 2308.7h29.5M339.5 2317.4h177.3M369.1 2320.5h147.7M428.1 2322.1h88.6M428.1 2329.2h88.6M398.6 2332.4h118.2" stroke="#990800"/>
<path d="M487.2 2066.9h29.5M457.7 2069.3h59.1M369.1 2089h29.5M428.1 2089h29.5M339.5 2183.1h29.5M457.7 2192.5h29.5M369.1 2216.2h29.5M398.6 2232h88.6M339.5 2270h177.3M457.7 2276.3h59.1M339.5 2283.4h177.3M339.5 2286.5h177.3M339.5 2296.8h177.3M339.5 2307.1h177.3M339.5 2315.8h177.3M339.5 2318.1h177.3M339.5 2320.5h29.5M369.1 2321.3h147.7M339.5 2323.7h177.3M339.5 2331.6h177.3M339.5 2337.9h177.3" stroke="#cf1707"/>
<path d="M398.6 1903.4h59.1M369.1 1906.6h29.5M369.1 1911.3h29.5M428.1 1915.2h29.5M398.6 1918.4h29.5M339.5 1919.2h29.5M339.5 1920h59.1M428.1 1920.8h29.5M369.1 1922.4h29.5M428.1 1924.7h29.5M339.5 1927.1h29.5M428.1 1927.9h29.5M398.6 1931h29.5M398.6 1931.8h59.1M339.5 1932.6h29.5M428.1 1933.4h29.5M428.1 1934.2h29.5M339.5 1936.6h29.5M339.5 1938.9h29.5M457.7 1939.7h29.5M339.5 1940.5h29.5M369.1 1943.7h29.5M369.1 1947.6h29.5M369.1 1953.2h29.5M339.5 1961.9h29.5M339.5 1963.4h29.5M339.5 1971.3h29.5M339.5 1972.9h29.5M487.2 1977.7h29.5M339.5 1981.6h29.5M369.1 1983.2h29.5M369.1 1986.3h29.5M487.2 1986.3h29.5M428.1 1987.1h29.5M369.1 1991.1h29.5M428.1 1995.8h59.1M428.1 1999h29.5M428.1 1999.8h29.5M428.1 2000.6h29.5M339.5 2001.4h29.5M398.6 2001.4h29.5M487.2 2001.4h29.5M428.1 2002.1h29.5M369.1 2003.7h29.5M339.5 2005.3h29.5M428.1 2006.1h29.5M428.1 2007.7h29.5M339.5 2010h29.5M339.5 2011.6h29.5M369.1 2013.2h29.5M339.5 2014h29.5M428.1 2015.6h29.5M428.1 2017.9h29.5M487.2 2018.7h29.5M339.5 2019.5h29.5M339.5 2020.3h29.5M369.1 2021.9h59.1M487.2 2021.9h29.5M369.1 2023.5h29.5M428.1 2024.3h29.5M428.1 2026.6h29.5M369.1 2027.4h29.5M487.2 2027.4h29.5M398.6 2028.2h29.5M369.1 2029h29.5M369.1 2031.4h29.5M428.1 2033.7h29.5M339.5 2036.1h29.5M398.6 2036.1h29.5M398.6 2043.2h118.2M339.5 2066.9h147.7M428.1 2069.3h29.5M339.5 2089h29.5M398.6 2089h29.5M457.7 2089h59.1M428.1 2109.6h88.6M369.1 2183.1h147.7M339.5 2192.5h118.2M487.2 2192.5h29.5M339.5 2213.9h88.6M398.6 2216.2h118.2M339.5 2232h59.1M487.2 2232h29.5" stroke="#ec400a"/>
<path d="M339.5 1903.4h59.1M369.1 1904.2h29.5M398.6 1905h29.5M339.5 1905.8h29.5M428.1 1908.1h29.5M398.6 1908.9h29.5M339.5 1910.5h29.5M428.1 1910.5h29.5M428.1 1921.6h29.5M487.2 1922.4h29.5M428.1 1923.1h29.5M369.1 1923.9h29.5M398.6 1924.7h29.5M457.7 1929.5h29.5M398.6 1930.3h29.5M369.1 1931h29.5M428.1 1931h29.5M487.2 1931h29.5M428.1 1932.6h29.5M369.1 1938.9h29.5M428.1 1939.7h29.5M487.2 1939.7h29.5M339.5 1941.3h29.5M339.5 1942.9h29.5M369.1 1945.3h29.5M369.1 1946.8h29.5M339.5 1949.2h29.5M339.5 1950.8h29.5M339.5 1952.4h29.5M339.5 1957.9h29.5M339.5 1959.5h29.5M339.5 1961.1h29.5M339.5 1964.2h29.5M369.1 1965h29.5M369.1 1965.8h29.5M339.5 1966.6h29.5M339.5 1975.3h29.5M339.5 1984.8h29.5M339.5 1987.1h29.5M398.6 1987.1h29.5M457.7 1987.1h29.5M428.1 1989.5h29.5M487.2 1989.5h29.5M339.5 1990.3h29.5M369.1 1994.2h29.5M369.1 1995.8h29.5M339.5 1998.2h29.5M428.1 2005.3h29.5M398.6 2011.6h29.5M398.6 2018.7h59.1M457.7 2021.9h29.5M398.6 2023.5h29.5M398.6 2024.3h29.5M369.1 2025.8h29.5M339.5 2026.6h29.5M428.1 2027.4h59.1M457.7 2028.2h29.5M428.1 2034.5h29.5M369.1 2036.1h29.5M339.5 2265.2h177.3M339.5 2266h59.1M339.5 2284.2h177.3M339.5 2302.3h88.6M428.1 2310.2h88.6M339.5 2324.5h177.3M339.5 2336.3h177.3M339.5 2342.6h177.3M339.5 2344.2h177.3M339.5 2345h177.3" stroke="#ff780a"/>
<path d="M428.1 1912.1h29.5M428.1 1919.2h29.5M428.1 1923.9h29.5M428.1 1925.5h29.5M428.1 1928.7h29.5M428.1 1935h29.5M339.5 1946.1h29.5M339.5 1948.4h29.5M369.1 1950h29.5M339.5 1951.6h29.5M339.5 1954h29.5M369.1 1958.7h29.5M339.5 1967.4h29.5M339.5 1968.2h29.5M369.1 1969h29.5M339.5 1984h29.5M369.1 1991.9h29.5M339.5 1993.5h29.5M339.5 1995h29.5M428.1 2023.5h29.5M428.1 2025.8h29.5M428.1 2029.8h29.5M428.1 2036.9h29.5M339.5 2039.3h88.6M369.1 2078h147.7M339.5 2138.8h177.3M339.5 2145.9h177.3M339.5 2147.5h177.3M339.5 2173.6h177.3M339.5 2180.7h118.2M339.5 2229.7h177.3M339.5 2237.6h88.6M428.1 2257.3h29.5M487.2 2257.3h29.5M369.1 2259.7h59.1M457.7 2259.7h59.1M369.1 2273.1h147.7M339.5 2311.8h29.5M398.6 2311.8h59.1M487.2 2311.8h29.5M339.5 2326h177.3M339.5 2333.2h118.2M339.5 2339.5h88.6M339.5 2340.3h118.2M487.2 2340.3h29.5M339.5 2341.8h177.3" stroke="#ffb118"/>
<path d="M487.2 1904.2h29.5M457.7 1905h29.5M428.1 1905.8h59.1M428.1 1906.6h29.5M398.6 1907.3h29.5M457.7 1908.1h29.5M457.7 1909.7h29.5M398.6 1910.5h29.5M487.2 1912.9h29.5M398.6 1913.7h59.1M487.2 1915.2h29.5M339.5 1916h29.5M487.2 1916h29.5M457.7 1917.6h29.5M428.1 1918.4h29.5M428.1 1920h29.5M457.7 1924.7h29.5M428.1 1926.3h29.5M369.1 1927.9h29.5M457.7 1927.9h59.1M457.7 1931.8h29.5M369.1 1932.6h29.5M487.2 1933.4h29.5M369.1 1934.2h29.5M428.1 1935.8h29.5M487.2 1935.8h29.5M339.5 1937.4h29.5M428.1 1937.4h29.5M428.1 1938.2h29.5M487.2 1940.5h29.5M398.6 1941.3h59.1M487.2 1941.3h29.5M428.1 1942.1h29.5M457.7 1942.9h59.1M487.2 1943.7h29.5M339.5 1944.5h59.1M457.7 1944.5h29.5M457.7 1946.1h29.5M369.1 1948.4h29.5M428.1 1948.4h59.1M398.6 1949.2h29.5M487.2 1949.2h29.5M398.6 1950h29.5M369.1 1951.6h29.5M428.1 1951.6h29.5M398.6 1952.4h29.5M457.7 1952.4h59.1M369.1 1954h29.5M457.7 1954.7h29.5M398.6 1955.5h29.5M487.2 1956.3h29.5M428.1 1957.1h29.5M487.2 1957.9h29.5M428.1 1958.7h29.5M457.7 1959.5h59.1M339.5 1960.3h59.1M428.1 1961.9h29.5M339.5 1962.6h29.5M398.6 1962.6h29.5M487.2 1965h29.5M457.7 1966.6h29.5M398.6 1967.4h59.1M487.2 1967.4h29.5M457.7 1968.2h29.5M457.7 1969h29.5M369.1 1969.8h29.5M369.1 1970.5h29.5M428.1 1971.3h29.5M457.7 1972.1h29.5M369.1 1972.9h29.5M428.1 1972.9h29.5M398.6 1973.7h29.5M487.2 1974.5h29.5M398.6 1976.1h29.5M398.6 1976.9h59.1M339.5 1978.4h29.5M457.7 1978.4h29.5M398.6 1979.2h59.1M457.7 1980h29.5M428.1 1980.8h29.5M369.1 1981.6h59.1M398.6 1982.4h29.5M428.1 1984h29.5M398.6 1984.8h29.5M487.2 1984.8h29.5M369.1 1985.6h29.5M339.5 1988.7h29.5M398.6 1991.1h29.5M457.7 1991.9h59.1M398.6 1992.7h29.5M487.2 1992.7h29.5M487.2 1993.5h29.5M457.7 1995h29.5M339.5 1996.6h29.5M339.5 1997.4h29.5M428.1 1997.4h59.1M369.1 1998.2h29.5M457.7 1998.2h29.5M487.2 2000.6h29.5M369.1 2002.1h59.1M339.5 2002.9h29.5M369.1 2004.5h29.5M487.2 2004.5h29.5M487.2 2006.9h29.5M457.7 2007.7h29.5M428.1 2008.5h29.5M428.1 2009.3h29.5M428.1 2010h29.5M398.6 2010.8h29.5M457.7 2010.8h29.5M457.7 2011.6h29.5M487.2 2013.2h29.5M428.1 2014h29.5M428.1 2014.8h59.1M428.1 2016.4h29.5M457.7 2017.9h29.5M457.7 2019.5h59.1M398.6 2021.1h29.5M428.1 2022.7h29.5M487.2 2023.5h29.5M339.5 2024.3h29.5M457.7 2024.3h29.5M339.5 2025.1h29.5M487.2 2025.1h29.5M487.2 2026.6h29.5M457.7 2029h59.1M339.5 2029.8h29.5M428.1 2032.2h29.5M339.5 2033h29.5M487.2 2033.7h29.5M428.1 2035.3h29.5M457.7 2036.1h59.1M457.7 2036.9h29.5M457.7 2257.3h29.5M339.5 2259.7h29.5M428.1 2259.7h29.5M339.5 2273.1h29.5M369.1 2311.8h29.5M457.7 2311.8h29.5M428.1 2339.5h88.6M457.7 2340.3h29.5" stroke="#ffdc46"/>
<path d="M487.2 1905.8h29.5M487.2 1906.6h29.5M428.1 1907.3h29.5M487.2 1908.1h29.5M428.1 1909.7h29.5M487.2 1910.5h29.5M428.1 1911.3h29.5M457.7 1912.1h29.5M428.1 1912.9h29.5M457.7 1913.7h29.5M457.7 1914.5h29.5M457.7 1916h29.5M457.7 1916.8h59.1M487.2 1918.4h29.5M457.7 1919.2h29.5M457.7 1920h29.5M457.7 1920.8h29.5M487.2 1921.6h29.5M457.7 1923.9h29.5M487.2 1926.3h29.5M428.1 1927.1h29.5M428.1 1930.3h29.5M487.2 1930.3h29.5M487.2 1931.8h29.5M457.7 1935h29.5M428.1 1936.6h29.5M457.7 1937.4h29.5M457.7 1938.2h29.5M487.2 1938.9h29.5M457.7 1940.5h29.5M457.7 1941.3h29.5M339.5 1942.1h29.5M457.7 1942.1h59.1M398.6 1942.9h29.5M428.1 1944.5h29.5M398.6 1945.3h29.5M457.7 1945.3h29.5M369.1 1946.1h29.5M428.1 1946.8h29.5M487.2 1948.4h29.5M369.1 1950.8h29.5M457.7 1951.6h29.5M398.6 1953.2h29.5M339.5 1954.7h29.5M339.5 1955.5h29.5M339.5 1956.3h29.5M457.7 1956.3h29.5M339.5 1957.1h29.5M457.7 1957.1h29.5M398.6 1959.5h29.5M398.6 1960.3h88.6M457.7 1961.9h29.5M487.2 1962.6h29.5M369.1 1964.2h29.5M457.7 1964.2h29.5M369.1 1967.4h29.5M457.7 1967.4h29.5M398.6 1969.8h29.5M457.7 1970.5h29.5M369.1 1971.3h29.5M457.7 1971.3h29.5M339.5 1972.1h29.5M398.6 1972.9h29.5M457.7 1972.9h59.1M457.7 1973.7h59.1M339.5 1974.5h59.1M457.7 1974.5h29.5M398.6 1975.3h29.5M369.1 1976.1h29.5M457.7 1976.1h29.5M369.1 1976.9h29.5M457.7 1976.9h29.5M369.1 1978.4h29.5M487.2 1978.4h29.5M339.5 1979.2h29.5M487.2 1979.2h29.5M487.2 1980h29.5M457.7 1980.8h29.5M457.7 1981.6h59.1M369.1 1982.4h29.5M428.1 1983.2h59.1M487.2 1984h29.5M457.7 1984.8h29.5M398.6 1987.9h29.5M487.2 1987.9h29.5M369.1 1988.7h59.1M398.6 1990.3h59.1M428.1 1991.1h29.5M369.1 1992.7h29.5M369.1 1993.5h29.5M457.7 1993.5h29.5M398.6 1994.2h29.5M457.7 1994.2h59.1M369.1 1995h29.5M369.1 1996.6h29.5M369.1 1997.4h59.1M487.2 1999h29.5M487.2 1999.8h29.5M487.2 2002.1h29.5M428.1 2002.9h59.1M457.7 2005.3h29.5M487.2 2006.1h29.5M428.1 2006.9h29.5M428.1 2012.4h29.5M428.1 2013.2h29.5M487.2 2014h29.5M487.2 2014.8h29.5M457.7 2015.6h29.5M457.7 2016.4h29.5M487.2 2017.9h29.5M428.1 2020.3h59.1M428.1 2025.1h59.1M457.7 2025.8h29.5M428.1 2029h29.5M457.7 2030.6h29.5M428.1 2031.4h29.5M487.2 2031.4h29.5M428.1 2033h29.5M428.1 2036.1h29.5M398.6 2127.8h118.2M339.5 2174.4h177.3M339.5 2277.1h59.1M398.6 2292.9h118.2M369.1 2295.2h147.7M428.1 2296h88.6M428.1 2302.3h88.6M339.5 2303.9h177.3M339.5 2318.9h177.3" stroke="#fff482"/>
<path d="M428.1 1904.2h59.1M428.1 1905h29.5M487.2 1905h29.5M457.7 1906.6h29.5M457.7 1907.3h59.1M428.1 1908.9h88.6M487.2 1909.7h29.5M457.7 1910.5h29.5M457.7 1911.3h59.1M487.2 1912.1h29.5M457.7 1912.9h29.5M487.2 1913.7h29.5M428.1 1914.5h29.5M487.2 1914.5h29.5M457.7 1915.2h29.5M428.1 1916h29.5M428.1 1916.8h29.5M428.1 1917.6h29.5M487.2 1917.6h29.5M457.7 1918.4h29.5M487.2 1919.2h29.5M487.2 1920h29.5M487.2 1920.8h29.5M457.7 1921.6h29.5M457.7 1923.1h59.1M487.2 1923.9h29.5M487.2 1924.7h29.5M457.7 1925.5h59.1M457.7 1926.3h29.5M457.7 1927.1h59.1M457.7 1928.7h59.1M457.7 1930.3h29.5M457.7 1932.6h59.1M457.7 1933.4h29.5M457.7 1934.2h59.1M487.2 1935h29.5M457.7 1935.8h29.5M457.7 1936.6h59.1M487.2 1937.4h29.5M487.2 1938.2h29.5M398.6 1938.9h88.6M369.1 1940.5h88.6M369.1 1941.3h29.5M369.1 1942.1h59.1M369.1 1942.9h29.5M428.1 1942.9h29.5M398.6 1943.7h88.6M398.6 1944.5h29.5M487.2 1944.5h29.5M428.1 1945.3h29.5M487.2 1945.3h29.5M398.6 1946.1h59.1M487.2 1946.1h29.5M398.6 1946.8h29.5M457.7 1946.8h59.1M398.6 1947.6h118.2M398.6 1948.4h29.5M369.1 1949.2h29.5M428.1 1949.2h59.1M428.1 1950h88.6M398.6 1950.8h118.2M398.6 1951.6h29.5M487.2 1951.6h29.5M369.1 1952.4h29.5M428.1 1952.4h29.5M428.1 1953.2h88.6M398.6 1954h118.2M369.1 1954.7h88.6M487.2 1954.7h29.5M369.1 1955.5h29.5M428.1 1955.5h88.6M369.1 1956.3h88.6M369.1 1957.1h59.1M487.2 1957.1h29.5M369.1 1957.9h118.2M398.6 1958.7h29.5M457.7 1958.7h59.1M369.1 1959.5h29.5M428.1 1959.5h29.5M487.2 1960.3h29.5M369.1 1961.1h147.7M369.1 1961.9h59.1M487.2 1961.9h29.5M369.1 1962.6h29.5M428.1 1962.6h59.1M369.1 1963.4h147.7M398.6 1964.2h59.1M487.2 1964.2h29.5M398.6 1965h88.6M369.1 1966.6h88.6M487.2 1966.6h29.5M369.1 1968.2h88.6M487.2 1968.2h29.5M398.6 1969h59.1M487.2 1969h29.5M428.1 1969.8h88.6M398.6 1970.5h59.1M487.2 1970.5h29.5M398.6 1971.3h29.5M487.2 1971.3h29.5M369.1 1972.1h88.6M487.2 1972.1h29.5M339.5 1973.7h59.1M428.1 1973.7h29.5M398.6 1974.5h59.1M369.1 1975.3h29.5M428.1 1975.3h88.6M339.5 1976.1h29.5M428.1 1976.1h29.5M487.2 1976.1h29.5M487.2 1976.9h29.5M398.6 1978.4h59.1M369.1 1979.2h29.5M457.7 1979.2h29.5M339.5 1980h118.2M339.5 1980.8h88.6M487.2 1980.8h29.5M428.1 1981.6h29.5M339.5 1982.4h29.5M428.1 1982.4h88.6M398.6 1983.2h29.5M487.2 1983.2h29.5M369.1 1984h59.1M457.7 1984h29.5M369.1 1984.8h29.5M428.1 1984.8h29.5M398.6 1985.6h118.2M339.5 1987.9h59.1M428.1 1987.9h59.1M428.1 1988.7h88.6M369.1 1990.3h29.5M457.7 1990.3h59.1M457.7 1991.1h59.1M398.6 1991.9h59.1M428.1 1992.7h59.1M398.6 1993.5h59.1M428.1 1994.2h29.5M398.6 1995h59.1M487.2 1995h29.5M398.6 1996.6h118.2M487.2 1997.4h29.5M398.6 1998.2h59.1M487.2 1998.2h29.5M457.7 1999h29.5M457.7 1999.8h29.5M457.7 2000.6h29.5M457.7 2002.1h29.5M487.2 2002.9h29.5M428.1 2004.5h59.1M487.2 2005.3h29.5M457.7 2006.1h29.5M457.7 2006.9h29.5M487.2 2007.7h29.5M457.7 2008.5h59.1M457.7 2009.3h59.1M457.7 2010h59.1M428.1 2010.8h29.5M487.2 2010.8h29.5M428.1 2011.6h29.5M487.2 2011.6h29.5M457.7 2012.4h59.1M457.7 2013.2h29.5M457.7 2014h29.5M487.2 2015.6h29.5M487.2 2016.4h29.5M428.1 2017.2h88.6M428.1 2019.5h29.5M487.2 2020.3h29.5M428.1 2021.1h88.6M457.7 2022.7h59.1M457.7 2023.5h29.5M487.2 2024.3h29.5M487.2 2025.8h29.5M457.7 2026.6h29.5M457.7 2029.8h59.1M428.1 2030.6h29.5M487.2 2030.6h29.5M457.7 2031.4h29.5M457.7 2032.2h59.1M457.7 2033h59.1M457.7 2033.7h29.5M457.7 2034.5h59.1M457.7 2035.3h59.1M487.2 2036.9h29.5M339.5 2276.3h118.2M339.5 2307.9h177.3M339.5 2325.3h118.2" stroke="#ffffb4"/>
</g>
<path d="M128.6 1903V2347M128.6 1980.6h-13M128.6 2059.5h-13M128.6 2138.4h-13M128.6 2217.3h-13M128.6 2296h-13" stroke="#1f1f1f" stroke-width="1.8" fill="none"/>
<text x="109" y="1989.4" text-anchor="end" fill="#1c1c1c" font-size="24.5">100</text>
<text x="109" y="2068.3" text-anchor="end" fill="#1c1c1c" font-size="24.5">200</text>
<text x="109" y="2147.2" text-anchor="end" fill="#1c1c1c" font-size="24.5">300</text>
<text x="109" y="2226.1" text-anchor="end" fill="#1c1c1c" font-size="24.5">400</text>
<text x="109" y="2304.8" text-anchor="end" fill="#1c1c1c" font-size="24.5">500</text>
<text x="144.2" y="2375" text-anchor="middle" fill="#333" font-size="24">0</text>
<text x="310.2" y="2375" text-anchor="middle" fill="#333" font-size="24">1</text>
<text x="343.8" y="2375" text-anchor="middle" fill="#333" font-size="24">0</text>
<text x="514.2" y="2375" text-anchor="middle" fill="#333" font-size="24">1</text>
<text x="242.4" y="2420" fill="#333" font-size="31.1">Time - CS (s)</text>
<text text-anchor="middle" fill="#333" transform="translate(34.7 2124) rotate(-90)" font-size="33">Cell identity</text>
<defs><linearGradient id="hcg" x1="0" y1="0" x2="0" y2="1"><stop offset="0%" stop-color="#ffffb4"/><stop offset="2.1%" stop-color="#fffa9b"/><stop offset="4.2%" stop-color="#fff482"/><stop offset="6.2%" stop-color="#ffed67"/><stop offset="8.3%" stop-color="#ffdc46"/><stop offset="10.4%" stop-color="#ffcb25"/><stop offset="12.5%" stop-color="#ffb118"/><stop offset="14.6%" stop-color="#ff9511"/><stop offset="16.7%" stop-color="#ff780a"/><stop offset="18.8%" stop-color="#f65c0a"/><stop offset="20.8%" stop-color="#ec400a"/><stop offset="22.9%" stop-color="#e3240a"/><stop offset="25%" stop-color="#cf1707"/><stop offset="27.1%" stop-color="#b80f02"/><stop offset="29.2%" stop-color="#990800"/><stop offset="31.2%" stop-color="#700400"/><stop offset="33.3%" stop-color="#460000"/><stop offset="35.4%" stop-color="#230000"/><stop offset="37.5%" stop-color="#000"/><stop offset="39.6%" stop-color="#000"/><stop offset="41.7%" stop-color="#000"/><stop offset="43.8%" stop-color="#000"/><stop offset="45.8%" stop-color="#000"/><stop offset="47.9%" stop-color="#000"/><stop offset="50%" stop-color="#000"/><stop offset="52.1%" stop-color="#000"/><stop offset="54.2%" stop-color="#000"/><stop offset="56.2%" stop-color="#000"/><stop offset="58.3%" stop-color="#000"/><stop offset="60.4%" stop-color="#000"/><stop offset="62.5%" stop-color="#000"/><stop offset="64.6%" stop-color="#00002d"/><stop offset="66.7%" stop-color="#00005a"/><stop offset="68.8%" stop-color="#00047c"/><stop offset="70.8%" stop-color="#00079e"/><stop offset="72.9%" stop-color="#000dbc"/><stop offset="75%" stop-color="#001dce"/><stop offset="77.1%" stop-color="#002cdf"/><stop offset="79.2%" stop-color="#003cf0"/><stop offset="81.2%" stop-color="#0352f5"/><stop offset="83.3%" stop-color="#0668f9"/><stop offset="85.4%" stop-color="#097efe"/><stop offset="87.5%" stop-color="#1396ff"/><stop offset="89.6%" stop-color="#1dafff"/><stop offset="91.7%" stop-color="#28c8ff"/><stop offset="93.8%" stop-color="#45d9ff"/><stop offset="95.8%" stop-color="#62e9ff"/><stop offset="97.9%" stop-color="#8cf6ff"/><stop offset="100%" stop-color="#beffff"/></linearGradient></defs>
<rect x="530.5" y="2059" width="15" height="277.6" fill="url(#hcg)" stroke="#2a2a2a" stroke-width="1"/>
<text x="553" y="2069.3" fill="#111" font-size="24">6</text>
<text x="553" y="2114.6" fill="#111" font-size="24">4</text>
<text x="553" y="2161" fill="#111" font-size="24">2</text>
<text x="553" y="2207.8" fill="#111" font-size="24">0</text>
<text x="553" y="2252.1" fill="#111" font-size="24">-2</text>
<text x="553" y="2299.1" fill="#111" font-size="24">-4</text>
<text x="553" y="2340.2" fill="#111" font-size="24">-6</text>
<text text-anchor="middle" fill="#111" transform="translate(605.6 2192) rotate(-90)" font-size="23.6">ΔF (z-score)</text>
<rect x="638.3" y="1902.8" width="177.5" height="442.8" fill="#000"/>
<g shape-rendering="crispEdges" stroke-width="1">
<path d="M697.1 1911.9h58.7M755.8 1911.9h60M638.3 1912.7h58.8M697.1 1913.5h58.7M697.1 1914.3h58.7M697.1 1917.4h58.7M755.8 1919h60M755.8 1922.2h60M697.1 1923h58.7M697.1 1924.5h58.7M638.3 1925.3h58.8M638.3 1926.1h58.8M755.8 1930.1h60M755.8 1930.9h60M755.8 1933.2h60M697.1 1935.6h58.7M755.8 1937.2h60M638.3 1940.4h58.8M697.1 1940.4h58.7M697.1 1941.9h58.7M697.1 1942.7h58.7M697.1 1943.5h58.7M697.1 1944.3h58.7M697.1 1948.3h58.7M755.8 1952.2h60M697.1 1953.8h58.7M638.3 1957.8h58.8M697.1 1958.5h58.7M697.1 1960.1h58.7M755.8 1960.9h60M697.1 1961.7h58.7M697.1 1964.9h58.7M697.1 1965.7h58.7M638.3 1972.8h58.8M697.1 1975.2h58.7M697.1 1978.3h58.7M755.8 1981.5h60M697.1 1985.4h58.7M697.1 1986.2h58.7M697.1 1991h58.7M697.1 1992.5h58.7M755.8 1992.5h60M755.8 1994.1h60M638.3 1995.7h58.8M755.8 1995.7h60M697.1 1996.5h58.7M638.3 1998.1h58.8M697.1 1998.9h58.7M638.3 2000.5h58.8M755.8 2002h60M697.1 2002.8h58.7M697.1 2003.6h58.7M697.1 2004.4h58.7M697.1 2006.8h58.7M697.1 2008.4h58.7M755.8 2009.2h60M755.8 2011.5h60M755.8 2013.1h60M755.8 2014.7h60M755.8 2016.3h60M638.3 2017.1h58.8M697.1 2017.1h58.7M638.3 2017.8h58.8M697.1 2019.4h58.7M697.1 2020.2h58.7M755.8 2025h60M697.1 2028.9h58.7M697.1 2030.5h58.7M755.8 2032.9h60M638.3 2036h58.8M638.3 2036.8h58.8M638.3 2048.7h58.8M697.1 2048.7h58.7M697.1 2049.5h58.7M697.1 2056.6h58.7M638.3 2059h58.8M697.1 2061.3h58.7M697.1 2062.9h58.7M697.1 2072.4h58.7M697.1 2078.7h58.7M697.1 2081.9h58.7M697.1 2082.7h58.7M697.1 2083.5h58.7M697.1 2084.3h58.7M697.1 2085.1h58.7M638.3 2089h58.8M638.3 2092.2h58.8M697.1 2104h58.7M697.1 2108h58.7M638.3 2108.8h58.8M697.1 2111.2h58.7M697.1 2113.5h58.7M697.1 2119.1h58.7M697.1 2124.6h58.7M697.1 2132.5h58.7M697.1 2138.8h58.7M638.3 2145.9h58.8M697.1 2148.3h58.7M697.1 2150.7h58.7M638.3 2151.5h58.8M638.3 2154.6h58.8M638.3 2156.2h58.8M697.1 2161h58.7M697.1 2162.5h58.7M697.1 2163.3h58.7M697.1 2168.9h58.7M638.3 2177.6h58.8M697.1 2180.7h58.7M697.1 2181.5h58.7M638.3 2183.1h58.8M638.3 2187.9h58.8M638.3 2194.2h58.8M697.1 2194.2h58.7M697.1 2198.1h58.7M697.1 2198.9h58.7M697.1 2199.7h58.7M697.1 2202.1h58.7M697.1 2209.2h58.7M638.3 2218.7h58.8M697.1 2221.1h58.7M638.3 2221.9h58.8M697.1 2221.9h58.7M638.3 2222.6h58.8M697.1 2222.6h58.7M697.1 2223.4h58.7M697.1 2224.2h58.7M638.3 2229h58.8M697.1 2229h58.7M638.3 2231.3h58.8M697.1 2232.9h58.7M697.1 2239.2h58.7M697.1 2240.8h58.7M638.3 2243.2h58.8M638.3 2244h58.8M697.1 2247.2h58.7M697.1 2251.9h58.7M638.3 2252.7h58.8M697.1 2252.7h58.7M755.8 2253.5h60M755.8 2256.6h60M638.3 2257.4h58.8M755.8 2259h60M638.3 2263.8h58.8M638.3 2264.6h58.8M638.3 2265.3h58.8M755.8 2266.1h60M638.3 2266.9h58.8M755.8 2266.9h60M755.8 2270.9h60M638.3 2273.2h58.8M638.3 2274.8h58.8M755.8 2278h60M638.3 2278.8h58.8M755.8 2281.2h60M638.3 2285.1h58.8M755.8 2285.1h60M755.8 2285.9h60M755.8 2293h60M755.8 2293.8h60M755.8 2294.6h60M755.8 2296.2h60M755.8 2297h60M638.3 2298.6h58.8M638.3 2299.3h58.8M638.3 2300.1h58.8M755.8 2303.3h60M638.3 2304.1h58.8M755.8 2305.7h60M755.8 2307.3h60M755.8 2310.4h60M755.8 2313.6h60M755.8 2315.2h60M638.3 2316.7h58.8M755.8 2318.3h60M638.3 2319.9h58.8M638.3 2323.9h58.8M755.8 2323.9h60M755.8 2325.4h60M755.8 2327.8h60M638.3 2330.2h58.8M755.8 2331.8h60M638.3 2336.5h58.8M638.3 2343.6h58.8" stroke="#1a1a1a"/>
<path d="M755.8 1909.5h60M755.8 1910.3h60M755.8 1911.1h60M697.1 1912.7h58.7M755.8 1915.1h60M697.1 1915.8h58.7M755.8 1919.8h60M697.1 1920.6h58.7M697.1 1922.2h58.7M755.8 1924.5h60M697.1 1925.3h58.7M755.8 1925.3h60M697.1 1928.5h58.7M755.8 1928.5h60M755.8 1931.7h60M755.8 1932.5h60M755.8 1934h60M755.8 1936.4h60M697.1 1937.2h58.7M755.8 1938.8h60M697.1 1941.1h58.7M755.8 1941.9h60M755.8 1942.7h60M755.8 1943.5h60M755.8 1944.3h60M697.1 1945.9h58.7M755.8 1947.5h60M755.8 1948.3h60M755.8 1950.6h60M697.1 1952.2h58.7M755.8 1953.8h60M755.8 1956.2h60M755.8 1957h60M755.8 1958.5h60M755.8 1959.3h60M755.8 1960.1h60M755.8 1962.5h60M755.8 1963.3h60M755.8 1964.9h60M755.8 1967.2h60M697.1 1968h58.7M755.8 1968h60M697.1 1971.2h58.7M697.1 1972h58.7M697.1 1973.6h58.7M755.8 1973.6h60M697.1 1974.4h58.7M755.8 1975.2h60M697.1 1975.9h58.7M697.1 1976.7h58.7M755.8 1977.5h60M755.8 1978.3h60M697.1 1979.9h58.7M755.8 1979.9h60M755.8 1980.7h60M755.8 1983.8h60M697.1 1984.6h58.7M755.8 1984.6h60M697.1 1987.8h58.7M755.8 1988.6h60M697.1 1989.4h58.7M755.8 1989.4h60M755.8 1991h60M697.1 1993.3h58.7M697.1 2000.5h58.7M755.8 2000.5h60M755.8 2001.2h60M755.8 2003.6h60M755.8 2004.4h60M697.1 2006h58.7M755.8 2006.8h60M697.1 2007.6h58.7M755.8 2007.6h60M755.8 2008.4h60M697.1 2009.2h58.7M697.1 2009.9h58.7M755.8 2009.9h60M697.1 2012.3h58.7M755.8 2012.3h60M697.1 2014.7h58.7M755.8 2017.8h60M697.1 2018.6h58.7M755.8 2018.6h60M697.1 2021.8h58.7M755.8 2021.8h60M697.1 2022.6h58.7M755.8 2023.4h60M755.8 2024.2h60M697.1 2027.3h58.7M697.1 2029.7h58.7M755.8 2029.7h60M755.8 2030.5h60M755.8 2031.3h60M697.1 2033.7h58.7M697.1 2036h58.7M697.1 2036.8h58.7M638.3 2038.4h58.8M697.1 2038.4h58.7M755.8 2038.4h60M697.1 2039.2h58.7M638.3 2040h58.8M697.1 2040h58.7M638.3 2040.8h58.8M638.3 2041.6h58.8M697.1 2041.6h58.7M638.3 2042.4h58.8M697.1 2043.2h58.7M697.1 2043.9h58.7M697.1 2044.7h58.7M697.1 2045.5h58.7M638.3 2046.3h58.8M697.1 2046.3h58.7M697.1 2047.1h58.7M697.1 2047.9h58.7M755.8 2048.7h60M638.3 2049.5h58.8M755.8 2049.5h60M638.3 2052.6h58.8M697.1 2053.4h58.7M638.3 2054.2h58.8M697.1 2054.2h58.7M755.8 2054.2h60M638.3 2055h58.8M697.1 2055h58.7M755.8 2055h60M697.1 2055.8h58.7M638.3 2056.6h58.8M697.1 2057.4h58.7M697.1 2058.2h58.7M697.1 2059h58.7M697.1 2060.5h58.7M697.1 2062.1h58.7M697.1 2063.7h58.7M638.3 2064.5h58.8M697.1 2066.1h58.7M638.3 2067.7h58.8M697.1 2067.7h58.7M755.8 2067.7h60M755.8 2068.5h60M697.1 2069.2h58.7M697.1 2070h58.7M697.1 2070.8h58.7M638.3 2071.6h58.8M697.1 2073.2h58.7M697.1 2074h58.7M697.1 2074.8h58.7M755.8 2074.8h60M638.3 2075.6h58.8M755.8 2075.6h60M697.1 2076.4h58.7M638.3 2077.2h58.8M697.1 2077.2h58.7M638.3 2077.9h58.8M697.1 2077.9h58.7M755.8 2079.5h60M638.3 2082.7h58.8M755.8 2082.7h60M638.3 2085.9h58.8M697.1 2085.9h58.7M697.1 2086.6h58.7M697.1 2087.4h58.7M755.8 2089h60M697.1 2090.6h58.7M697.1 2091.4h58.7M697.1 2092.2h58.7M697.1 2093.8h58.7M755.8 2094.5h60M638.3 2095.3h58.8M697.1 2095.3h58.7M697.1 2096.1h58.7M697.1 2096.9h58.7M697.1 2097.7h58.7M697.1 2098.5h58.7M697.1 2100.1h58.7M697.1 2100.9h58.7M697.1 2101.7h58.7M697.1 2102.5h58.7M697.1 2104.8h58.7M755.8 2105.6h60M638.3 2106.4h58.8M697.1 2106.4h58.7M638.3 2107.2h58.8M755.8 2107.2h60M697.1 2108.8h58.7M697.1 2109.6h58.7M697.1 2110.4h58.7M638.3 2111.2h58.8M697.1 2111.9h58.7M697.1 2112.7h58.7M697.1 2114.3h58.7M697.1 2115.1h58.7M697.1 2115.9h58.7M638.3 2116.7h58.8M697.1 2116.7h58.7M697.1 2118.3h58.7M638.3 2119.1h58.8M697.1 2119.9h58.7M638.3 2122.2h58.8M697.1 2122.2h58.7M638.3 2123h58.8M697.1 2123h58.7M697.1 2123.8h58.7M755.8 2124.6h60M697.1 2125.4h58.7M638.3 2126.2h58.8M697.1 2126.2h58.7M638.3 2127.8h58.8M697.1 2127.8h58.7M697.1 2128.5h58.7M697.1 2129.3h58.7M697.1 2130.1h58.7M638.3 2133.3h58.8M697.1 2133.3h58.7M697.1 2134.1h58.7M697.1 2134.9h58.7M697.1 2136.5h58.7M697.1 2138h58.7M697.1 2140.4h58.7M638.3 2142h58.8M697.1 2144.4h58.7M638.3 2145.2h58.8M697.1 2145.9h58.7M638.3 2150.7h58.8M697.1 2151.5h58.7M755.8 2152.3h60M697.1 2153.1h58.7M697.1 2155.4h58.7M697.1 2157h58.7M697.1 2157.8h58.7M697.1 2158.6h58.7M697.1 2160.2h58.7M638.3 2161.8h58.8M697.1 2161.8h58.7M638.3 2163.3h58.8M697.1 2164.1h58.7M755.8 2164.1h60M697.1 2165.7h58.7M697.1 2166.5h58.7M755.8 2166.5h60M697.1 2167.3h58.7M638.3 2168.1h58.8M697.1 2168.1h58.7M638.3 2168.9h58.8M697.1 2169.7h58.7M697.1 2170.5h58.7M697.1 2172h58.7M697.1 2174.4h58.7M697.1 2175.2h58.7M697.1 2176h58.7M638.3 2176.8h58.8M697.1 2176.8h58.7M755.8 2176.8h60M697.1 2177.6h58.7M697.1 2178.4h58.7M638.3 2179.2h58.8M638.3 2180.7h58.8M638.3 2183.9h58.8M697.1 2183.9h58.7M697.1 2184.7h58.7M638.3 2185.5h58.8M697.1 2185.5h58.7M697.1 2186.3h58.7M697.1 2187.9h58.7M697.1 2188.6h58.7M755.8 2188.6h60M638.3 2192.6h58.8M697.1 2195h58.7M697.1 2196.6h58.7M638.3 2197.3h58.8M697.1 2200.5h58.7M697.1 2201.3h58.7M697.1 2202.9h58.7M697.1 2203.7h58.7M697.1 2204.5h58.7M638.3 2205.2h58.8M697.1 2206h58.7M638.3 2206.8h58.8M697.1 2206.8h58.7M638.3 2207.6h58.8M697.1 2207.6h58.7M697.1 2208.4h58.7M697.1 2210.8h58.7M697.1 2211.6h58.7M638.3 2212.4h58.8M697.1 2212.4h58.7M638.3 2213.2h58.8M697.1 2213.2h58.7M638.3 2213.9h58.8M638.3 2214.7h58.8M638.3 2215.5h58.8M697.1 2215.5h58.7M697.1 2216.3h58.7M697.1 2217.1h58.7M638.3 2217.9h58.8M697.1 2218.7h58.7M697.1 2219.5h58.7M638.3 2221.1h58.8M697.1 2225h58.7M638.3 2227.4h58.8M697.1 2227.4h58.7M697.1 2228.2h58.7M638.3 2230.6h58.8M697.1 2231.3h58.7M697.1 2232.1h58.7M638.3 2233.7h58.8M638.3 2234.5h58.8M697.1 2234.5h58.7M638.3 2235.3h58.8M697.1 2235.3h58.7M697.1 2236.1h58.7M697.1 2237.7h58.7M638.3 2238.5h58.8M697.1 2238.5h58.7M697.1 2240h58.7M638.3 2241.6h58.8M697.1 2241.6h58.7M697.1 2242.4h58.7M697.1 2243.2h58.7M755.8 2243.2h60M697.1 2244h58.7M697.1 2244.8h58.7M697.1 2247.9h58.7M697.1 2248.7h58.7M755.8 2248.7h60M697.1 2249.5h58.7M638.3 2250.3h58.8M697.1 2250.3h58.7M697.1 2251.1h58.7M638.3 2254.3h58.8M755.8 2255.1h60M638.3 2255.9h58.8M755.8 2255.9h60M638.3 2256.6h58.8M638.3 2258.2h58.8M638.3 2259h58.8M755.8 2259.8h60M638.3 2263h58.8M755.8 2263h60M755.8 2263.8h60M755.8 2264.6h60M755.8 2267.7h60M755.8 2269.3h60M638.3 2270.1h58.8M697.1 2270.1h58.7M755.8 2270.1h60M697.1 2270.9h58.7M638.3 2272.5h58.8M697.1 2273.2h58.7M638.3 2274h58.8M697.1 2275.6h58.7M755.8 2275.6h60M755.8 2276.4h60M638.3 2279.6h58.8M755.8 2280.4h60M638.3 2281.2h58.8M638.3 2282.7h58.8M638.3 2283.5h58.8M755.8 2283.5h60M638.3 2284.3h58.8M638.3 2285.9h58.8M697.1 2286.7h58.7M755.8 2286.7h60M638.3 2287.5h58.8M755.8 2287.5h60M638.3 2288.3h58.8M638.3 2289.1h58.8M755.8 2289.1h60M638.3 2289.9h58.8M755.8 2289.9h60M755.8 2290.6h60M638.3 2291.4h58.8M697.1 2291.4h58.7M755.8 2291.4h60M755.8 2292.2h60M638.3 2293.8h58.8M638.3 2295.4h58.8M697.1 2295.4h58.7M755.8 2295.4h60M638.3 2297h58.8M638.3 2297.8h58.8M755.8 2300.1h60M638.3 2300.9h58.8M755.8 2300.9h60M638.3 2301.7h58.8M755.8 2301.7h60M638.3 2303.3h58.8M638.3 2304.9h58.8M755.8 2304.9h60M638.3 2305.7h58.8M638.3 2306.5h58.8M755.8 2306.5h60M638.3 2308h58.8M755.8 2308h60M638.3 2308.8h58.8M755.8 2308.8h60M755.8 2309.6h60M697.1 2312h58.7M755.8 2312h60M638.3 2312.8h58.8M755.8 2312.8h60M638.3 2313.6h58.8M638.3 2314.4h58.8M755.8 2314.4h60M638.3 2315.9h58.8M755.8 2315.9h60M755.8 2316.7h60M755.8 2317.5h60M755.8 2319.1h60M755.8 2319.9h60M638.3 2321.5h58.8M755.8 2321.5h60M697.1 2322.3h58.7M755.8 2322.3h60M755.8 2323.1h60M638.3 2325.4h58.8M638.3 2326.2h58.8M755.8 2326.2h60M638.3 2327h58.8M638.3 2327.8h58.8M638.3 2328.6h58.8M755.8 2328.6h60M755.8 2329.4h60M755.8 2330.2h60M638.3 2331h58.8M755.8 2331h60M638.3 2331.8h58.8M697.1 2332.6h58.7M755.8 2332.6h60M638.3 2334.1h58.8M638.3 2334.9h58.8M755.8 2334.9h60M638.3 2335.7h58.8M638.3 2337.3h58.8M755.8 2337.3h60M638.3 2338.1h58.8M755.8 2338.1h60M638.3 2338.9h58.8M638.3 2339.7h58.8M638.3 2340.5h58.8M697.1 2340.5h58.7M755.8 2340.5h60M638.3 2341.3h58.8M755.8 2341.3h60M638.3 2342h58.8M755.8 2342h60M638.3 2342.8h58.8M638.3 2344.4h58.8M755.8 2345.2h60" stroke="#333"/>
<path d="M697.1 1915.1h58.7M638.3 1919h58.8M638.3 1921.4h58.8M638.3 1922.2h58.8M697.1 1930.9h58.7M697.1 1931.7h58.7M697.1 1934.8h58.7M697.1 1953h58.7M697.1 1966.5h58.7M697.1 1970.4h58.7M638.3 1974.4h58.8M638.3 1979.1h58.8M638.3 1981.5h58.8M697.1 1981.5h58.7M697.1 1982.3h58.7M638.3 1985.4h58.8M638.3 1988.6h58.8M697.1 1991.8h58.7M638.3 1993.3h58.8M697.1 1995.7h58.7M697.1 1998.1h58.7M697.1 1999.7h58.7M638.3 2002h58.8M638.3 2010.7h58.8M697.1 2010.7h58.7M697.1 2015.5h58.7M697.1 2017.8h58.7M638.3 2021.8h58.8M697.1 2025.8h58.7M697.1 2028.1h58.7M697.1 2032.1h58.7M755.8 2036.8h60M697.1 2040.8h58.7M755.8 2040.8h60M755.8 2043.9h60M638.3 2047.9h58.8M697.1 2051.1h58.7M697.1 2051.8h58.7M638.3 2055.8h58.8M755.8 2061.3h60M755.8 2066.9h60M638.3 2074h58.8M697.1 2075.6h58.7M755.8 2078.7h60M638.3 2081.1h58.8M755.8 2085.1h60M697.1 2089h58.7M638.3 2091.4h58.8M755.8 2092.2h60M638.3 2093h58.8M638.3 2096.1h58.8M755.8 2098.5h60M755.8 2100.1h60M638.3 2100.9h58.8M755.8 2102.5h60M697.1 2103.2h58.7M697.1 2105.6h58.7M697.1 2107.2h58.7M638.3 2109.6h58.8M755.8 2110.4h60M755.8 2111.2h60M755.8 2111.9h60M638.3 2115.1h58.8M755.8 2115.1h60M755.8 2116.7h60M697.1 2117.5h58.7M638.3 2118.3h58.8M755.8 2118.3h60M697.1 2121.4h58.7M755.8 2121.4h60M755.8 2122.2h60M755.8 2123h60M638.3 2131.7h58.8M638.3 2136.5h58.8M755.8 2136.5h60M755.8 2141.2h60M755.8 2142.8h60M697.1 2143.6h58.7M755.8 2144.4h60M697.1 2145.2h58.7M638.3 2146.7h58.8M697.1 2146.7h58.7M755.8 2146.7h60M638.3 2147.5h58.8M697.1 2149.1h58.7M697.1 2149.9h58.7M697.1 2152.3h58.7M697.1 2153.9h58.7M697.1 2154.6h58.7M755.8 2158.6h60M697.1 2159.4h58.7M638.3 2164.9h58.8M755.8 2167.3h60M638.3 2171.2h58.8M755.8 2171.2h60M638.3 2172h58.8M755.8 2172h60M697.1 2172.8h58.7M755.8 2172.8h60M697.1 2173.6h58.7M638.3 2175.2h58.8M755.8 2175.2h60M755.8 2176h60M697.1 2179.2h58.7M755.8 2179.9h60M755.8 2180.7h60M755.8 2183.9h60M755.8 2184.7h60M755.8 2185.5h60M697.1 2187.1h58.7M697.1 2190.2h58.7M697.1 2191.8h58.7M697.1 2193.4h58.7M755.8 2194.2h60M755.8 2197.3h60M638.3 2199.7h58.8M638.3 2200.5h58.8M755.8 2202.9h60M755.8 2205.2h60M638.3 2209.2h58.8M697.1 2214.7h58.7M697.1 2217.9h58.7M638.3 2220.3h58.8M638.3 2223.4h58.8M638.3 2225.8h58.8M755.8 2225.8h60M697.1 2226.6h58.7M755.8 2227.4h60M755.8 2228.2h60M697.1 2230.6h58.7M755.8 2233.7h60M755.8 2235.3h60M638.3 2237.7h58.8M755.8 2237.7h60M755.8 2238.5h60M638.3 2239.2h58.8M755.8 2244.8h60M638.3 2246.4h58.8M755.8 2246.4h60M755.8 2254.3h60M755.8 2257.4h60M755.8 2265.3h60M638.3 2269.3h58.8M755.8 2271.7h60M755.8 2273.2h60M755.8 2274.8h60M638.3 2275.6h58.8M755.8 2277.2h60M638.3 2278h58.8M638.3 2280.4h58.8M755.8 2281.9h60M638.3 2292.2h58.8M638.3 2293h58.8M638.3 2294.6h58.8M755.8 2297.8h60M755.8 2298.6h60M755.8 2299.3h60M755.8 2311.2h60M638.3 2315.2h58.8M638.3 2319.1h58.8M755.8 2334.1h60M755.8 2335.7h60M755.8 2336.5h60M755.8 2339.7h60M755.8 2343.6h60M755.8 2344.4h60" stroke="#4c4c4c"/>
<path d="M755.8 1908.7h60M697.1 1910.3h58.7M755.8 1915.8h60M697.1 1916.6h58.7M697.1 1918.2h58.7M697.1 1923.8h58.7M755.8 1927.7h60M697.1 1930.1h58.7M697.1 1936.4h58.7M755.8 1938h60M755.8 1945.9h60M755.8 1946.7h60M697.1 1949.1h58.7M755.8 1951.4h60M755.8 1954.6h60M755.8 1955.4h60M697.1 1960.9h58.7M697.1 1963.3h58.7M755.8 1971.2h60M697.1 1972.8h58.7M755.8 1974.4h60M755.8 1975.9h60M755.8 1979.1h60M697.1 1980.7h58.7M755.8 1982.3h60M755.8 1986.2h60M697.1 1988.6h58.7M697.1 1990.2h58.7M697.1 1994.9h58.7M755.8 2002.8h60M697.1 2023.4h58.7M697.1 2026.5h58.7M755.8 2027.3h60M697.1 2037.6h58.7M755.8 2037.6h60M755.8 2039.2h60M755.8 2040h60M755.8 2041.6h60M755.8 2043.2h60M755.8 2046.3h60M755.8 2047.9h60M755.8 2051.1h60M697.1 2052.6h58.7M755.8 2052.6h60M755.8 2053.4h60M755.8 2059h60M755.8 2059.8h60M755.8 2060.5h60M755.8 2063.7h60M755.8 2064.5h60M755.8 2065.3h60M755.8 2066.1h60M697.1 2068.5h58.7M755.8 2070.8h60M755.8 2071.6h60M755.8 2074h60M755.8 2076.4h60M755.8 2077.9h60M697.1 2080.3h58.7M755.8 2081.1h60M755.8 2081.9h60M755.8 2083.5h60M755.8 2084.3h60M755.8 2085.9h60M755.8 2086.6h60M755.8 2087.4h60M697.1 2089.8h58.7M697.1 2093h58.7M755.8 2093h60M755.8 2096.1h60M755.8 2096.9h60M755.8 2099.3h60M755.8 2100.9h60M755.8 2104h60M755.8 2106.4h60M755.8 2109.6h60M755.8 2113.5h60M755.8 2117.5h60M755.8 2119.1h60M755.8 2119.9h60M755.8 2120.6h60M755.8 2123.8h60M755.8 2125.4h60M755.8 2126.2h60M755.8 2127h60M755.8 2128.5h60M755.8 2129.3h60M697.1 2130.9h58.7M755.8 2130.9h60M697.1 2131.7h58.7M755.8 2131.7h60M755.8 2132.5h60M755.8 2134.1h60M755.8 2135.7h60M755.8 2137.2h60M755.8 2138h60M697.1 2139.6h58.7M755.8 2139.6h60M755.8 2140.4h60M697.1 2142h58.7M755.8 2142h60M755.8 2145.2h60M755.8 2145.9h60M697.1 2147.5h58.7M755.8 2148.3h60M755.8 2150.7h60M755.8 2153.9h60M697.1 2156.2h58.7M755.8 2156.2h60M755.8 2157h60M755.8 2157.8h60M755.8 2159.4h60M755.8 2160.2h60M755.8 2161h60M755.8 2162.5h60M755.8 2163.3h60M697.1 2164.9h58.7M755.8 2164.9h60M755.8 2168.1h60M755.8 2170.5h60M755.8 2173.6h60M755.8 2177.6h60M697.1 2179.9h58.7M697.1 2182.3h58.7M697.1 2183.1h58.7M755.8 2187.1h60M697.1 2189.4h58.7M697.1 2191h58.7M755.8 2191h60M755.8 2191.8h60M755.8 2192.6h60M755.8 2195h60M697.1 2195.8h58.7M755.8 2195.8h60M755.8 2196.6h60M697.1 2197.3h58.7M755.8 2199.7h60M755.8 2201.3h60M697.1 2205.2h58.7M755.8 2206h60M755.8 2206.8h60M755.8 2208.4h60M755.8 2209.2h60M755.8 2210h60M755.8 2215.5h60M755.8 2216.3h60M755.8 2217.9h60M755.8 2219.5h60M697.1 2220.3h58.7M755.8 2221.9h60M755.8 2224.2h60M697.1 2225.8h58.7M755.8 2226.6h60M697.1 2229.8h58.7M755.8 2229.8h60M755.8 2232.1h60M697.1 2236.9h58.7M755.8 2240.8h60M755.8 2244h60M755.8 2245.6h60M697.1 2246.4h58.7M755.8 2249.5h60M755.8 2252.7h60M638.3 2253.5h58.8M697.1 2253.5h58.7M697.1 2259h58.7M697.1 2261.4h58.7M755.8 2261.4h60M755.8 2262.2h60M638.3 2266.1h58.8M697.1 2266.9h58.7M697.1 2267.7h58.7M638.3 2271.7h58.8M697.1 2271.7h58.7M755.8 2272.5h60M755.8 2274h60M638.3 2277.2h58.8M755.8 2279.6h60M638.3 2281.9h58.8M755.8 2284.3h60M755.8 2288.3h60M697.1 2290.6h58.7M697.1 2298.6h58.7M697.1 2302.5h58.7M755.8 2302.5h60M697.1 2304.1h58.7M755.8 2304.1h60M697.1 2305.7h58.7M638.3 2309.6h58.8M638.3 2312h58.8M697.1 2312.8h58.7M638.3 2318.3h58.8M697.1 2324.6h58.7M755.8 2324.6h60M638.3 2329.4h58.8M638.3 2333.3h58.8M755.8 2333.3h60M697.1 2335.7h58.7M697.1 2338.1h58.7M697.1 2343.6h58.7M638.3 2345.2h58.8" stroke="#666"/>
<path d="M755.8 1923h60M755.8 1929.3h60M755.8 1934.8h60M755.8 1935.6h60M755.8 1939.6h60M755.8 1953h60M755.8 1969.6h60M755.8 1990.2h60M755.8 1994.9h60M755.8 1996.5h60M755.8 1998.9h60M755.8 2015.5h60M755.8 2025.8h60M755.8 2080.3h60M755.8 2088.2h60M755.8 2089.8h60M755.8 2091.4h60M755.8 2114.3h60M755.8 2143.6h60M755.8 2149.1h60M755.8 2153.1h60M755.8 2155.4h60M755.8 2189.4h60M755.8 2198.9h60M755.8 2207.6h60M755.8 2212.4h60M755.8 2213.2h60M755.8 2214.7h60M755.8 2232.9h60M755.8 2236.9h60M755.8 2242.4h60" stroke="#808080"/>
<path d="M638.3 1911.1h58.8M755.8 1916.6h60M638.3 1926.9h58.8M638.3 1928.5h58.8M755.8 1940.4h60M755.8 1949.1h60M638.3 1951.4h58.8M638.3 1952.2h58.8M638.3 1955.4h58.8M755.8 1957.8h60M638.3 1961.7h58.8M755.8 1961.7h60M638.3 1965.7h58.8M755.8 1965.7h60M755.8 1970.4h60M755.8 1972.8h60M638.3 1973.6h58.8M755.8 1976.7h60M755.8 1983.1h60M755.8 1985.4h60M638.3 1989.4h58.8M638.3 1991h58.8M755.8 1991.8h60M755.8 1993.3h60M755.8 1997.3h60M755.8 2005.2h60M638.3 2007.6h58.8M755.8 2013.9h60M755.8 2017.1h60M638.3 2018.6h58.8M755.8 2019.4h60M755.8 2021h60M638.3 2025.8h58.8M755.8 2026.5h60M755.8 2028.1h60M638.3 2031.3h58.8M638.3 2032.1h58.8M755.8 2032.1h60M755.8 2034.5h60M755.8 2036h60M755.8 2044.7h60M755.8 2045.5h60M755.8 2047.1h60M755.8 2050.3h60M755.8 2051.8h60M755.8 2055.8h60M755.8 2057.4h60M755.8 2062.1h60M755.8 2062.9h60M755.8 2069.2h60M755.8 2070h60M755.8 2072.4h60M755.8 2090.6h60M755.8 2093.8h60M755.8 2097.7h60M755.8 2103.2h60M755.8 2108.8h60M755.8 2112.7h60M755.8 2115.9h60M755.8 2127.8h60M755.8 2130.1h60M755.8 2134.9h60M755.8 2138.8h60M755.8 2151.5h60M755.8 2154.6h60M755.8 2161.8h60M755.8 2165.7h60M755.8 2168.9h60M755.8 2169.7h60M755.8 2174.4h60M755.8 2179.2h60M755.8 2181.5h60M755.8 2182.3h60M755.8 2183.1h60M755.8 2200.5h60M755.8 2202.1h60M755.8 2204.5h60M755.8 2211.6h60M755.8 2213.9h60M755.8 2218.7h60M755.8 2221.1h60M755.8 2222.6h60M755.8 2231.3h60M755.8 2234.5h60M755.8 2236.1h60M755.8 2239.2h60M755.8 2241.6h60M755.8 2247.2h60M755.8 2247.9h60M755.8 2250.3h60M755.8 2251.1h60M755.8 2251.9h60M697.1 2258.2h58.7M697.1 2262.2h58.7M697.1 2263.8h58.7M697.1 2276.4h58.7M697.1 2278.8h58.7M697.1 2289.1h58.7M697.1 2299.3h58.7M697.1 2306.5h58.7M697.1 2309.6h58.7M697.1 2323.1h58.7M697.1 2331.8h58.7" stroke="#999"/>
<path d="M638.3 1911.9h58.8M638.3 1917.4h58.8M638.3 1929.3h58.8M638.3 1934h58.8M638.3 1956.2h58.8M638.3 1979.9h58.8M638.3 1983.1h58.8M638.3 1987h58.8M638.3 1996.5h58.8M638.3 2002.8h58.8M638.3 2009.2h58.8M638.3 2011.5h58.8M638.3 2012.3h58.8M638.3 2029.7h58.8M638.3 2033.7h58.8M755.8 2042.4h60M755.8 2056.6h60M755.8 2058.2h60M755.8 2073.2h60M755.8 2077.2h60M755.8 2095.3h60M755.8 2101.7h60M755.8 2104.8h60M755.8 2108h60M755.8 2133.3h60M755.8 2147.5h60M755.8 2149.9h60M755.8 2178.4h60M755.8 2186.3h60M755.8 2187.9h60M755.8 2190.2h60M755.8 2193.4h60M755.8 2198.1h60M755.8 2203.7h60M755.8 2210.8h60M755.8 2217.1h60M755.8 2220.3h60M755.8 2223.4h60M755.8 2225h60M755.8 2229h60M755.8 2230.6h60M755.8 2240h60M697.1 2268.5h58.7M697.1 2274h58.7M697.1 2292.2h58.7M697.1 2297h58.7M697.1 2308h58.7M697.1 2319.1h58.7M697.1 2336.5h58.7" stroke="#b2b2b2"/>
<path d="M638.3 1913.5h58.8M638.3 1914.3h58.8M638.3 1915.8h58.8M638.3 1918.2h58.8M638.3 1930.9h58.8M638.3 1939.6h58.8M638.3 1942.7h58.8M638.3 1945.9h58.8M638.3 1950.6h58.8M638.3 1960.9h58.8M638.3 1962.5h58.8M638.3 1964.1h58.8M638.3 1980.7h58.8M638.3 1987.8h58.8M638.3 2001.2h58.8M638.3 2003.6h58.8M638.3 2013.1h58.8M638.3 2016.3h58.8M638.3 2025h58.8M638.3 2034.5h58.8M697.1 2255.1h58.7M697.1 2255.9h58.7M697.1 2257.4h58.7M697.1 2259.8h58.7M697.1 2263h58.7M697.1 2272.5h58.7M697.1 2278h58.7M697.1 2280.4h58.7M697.1 2294.6h58.7M697.1 2297.8h58.7M697.1 2300.9h58.7M697.1 2301.7h58.7M697.1 2308.8h58.7M697.1 2313.6h58.7M697.1 2315.9h58.7M697.1 2318.3h58.7M697.1 2319.9h58.7M697.1 2327h58.7M697.1 2329.4h58.7M697.1 2337.3h58.7" stroke="#ccc"/>
<path d="M638.3 1910.3h58.8M638.3 1916.6h58.8M638.3 1920.6h58.8M638.3 1936.4h58.8M638.3 1946.7h58.8M638.3 1949.8h58.8M638.3 1963.3h58.8M638.3 1976.7h58.8M638.3 1992.5h58.8M638.3 1997.3h58.8M638.3 2005.2h58.8M638.3 2013.9h58.8M638.3 2021h58.8M638.3 2022.6h58.8M638.3 2030.5h58.8M697.1 2260.6h58.7M697.1 2274.8h58.7M697.1 2296.2h58.7M697.1 2310.4h58.7M697.1 2320.7h58.7M697.1 2323.9h58.7M697.1 2326.2h58.7M697.1 2333.3h58.7M697.1 2338.9h58.7M697.1 2345.2h58.7" stroke="#e6e6e6"/>
<path d="M638.3 1903.2h58.8M638.3 1904h58.8M638.3 1904.8h58.8M638.3 1905.6h58.8M638.3 1906.4h58.8M638.3 1907.1h58.8M638.3 1907.9h58.8M638.3 1908.7h58.8M638.3 1909.5h58.8M638.3 1915.1h58.8M638.3 1919.8h58.8M638.3 1923h58.8M638.3 1923.8h58.8M638.3 1924.5h58.8M638.3 1927.7h58.8M638.3 1930.1h58.8M638.3 1931.7h58.8M638.3 1932.5h58.8M638.3 1933.2h58.8M638.3 1934.8h58.8M638.3 1935.6h58.8M638.3 1937.2h58.8M638.3 1938h58.8M638.3 1938.8h58.8M638.3 1941.1h58.8M638.3 1941.9h58.8M638.3 1943.5h58.8M638.3 1944.3h58.8M638.3 1945.1h58.8M638.3 1947.5h58.8M638.3 1948.3h58.8M638.3 1949.1h58.8M638.3 1953h58.8M638.3 1953.8h58.8M638.3 1954.6h58.8M638.3 1957h58.8M638.3 1958.5h58.8M638.3 1959.3h58.8M638.3 1960.1h58.8M638.3 1964.9h58.8M638.3 1966.5h58.8M638.3 1967.2h58.8M638.3 1968h58.8M638.3 1968.8h58.8M638.3 1969.6h58.8M638.3 1970.4h58.8M638.3 1971.2h58.8M638.3 1972h58.8M638.3 1975.2h58.8M638.3 1975.9h58.8M638.3 1977.5h58.8M638.3 1978.3h58.8M638.3 1982.3h58.8M638.3 1983.8h58.8M638.3 1984.6h58.8M638.3 1986.2h58.8M638.3 1990.2h58.8M638.3 1991.8h58.8M638.3 1994.1h58.8M638.3 1994.9h58.8M638.3 1998.9h58.8M638.3 1999.7h58.8M638.3 2004.4h58.8M638.3 2006h58.8M638.3 2006.8h58.8M638.3 2008.4h58.8M638.3 2009.9h58.8M638.3 2014.7h58.8M638.3 2015.5h58.8M638.3 2019.4h58.8M638.3 2020.2h58.8M638.3 2023.4h58.8M638.3 2024.2h58.8M638.3 2026.5h58.8M638.3 2027.3h58.8M638.3 2028.1h58.8M638.3 2028.9h58.8M638.3 2032.9h58.8M638.3 2035.2h58.8M697.1 2254.3h58.7M697.1 2256.6h58.7M697.1 2264.6h58.7M697.1 2265.3h58.7M697.1 2266.1h58.7M697.1 2269.3h58.7M697.1 2277.2h58.7M697.1 2279.6h58.7M697.1 2281.2h58.7M697.1 2281.9h58.7M697.1 2282.7h58.7M697.1 2283.5h58.7M697.1 2284.3h58.7M697.1 2285.1h58.7M697.1 2285.9h58.7M697.1 2287.5h58.7M697.1 2288.3h58.7M697.1 2289.9h58.7M697.1 2293h58.7M697.1 2293.8h58.7M697.1 2300.1h58.7M697.1 2303.3h58.7M697.1 2304.9h58.7M697.1 2307.3h58.7M697.1 2311.2h58.7M697.1 2314.4h58.7M697.1 2315.2h58.7M697.1 2316.7h58.7M697.1 2317.5h58.7M697.1 2321.5h58.7M697.1 2325.4h58.7M697.1 2327.8h58.7M697.1 2328.6h58.7M697.1 2330.2h58.7M697.1 2331h58.7M697.1 2334.1h58.7M697.1 2334.9h58.7M697.1 2339.7h58.7M697.1 2341.3h58.7M697.1 2342h58.7M697.1 2342.8h58.7M697.1 2344.4h58.7" stroke="#fff"/>
</g>
<defs><linearGradient id="gr" x1="0" y1="0" x2="1" y2="0"><stop offset="0" stop-color="#000"/><stop offset="1" stop-color="#fff"/></linearGradient></defs>
<rect x="638.6" y="1885.9" width="177" height="11.4" fill="url(#gr)" stroke="#444" stroke-width="0.8"/>
<text x="634.5" y="1882" fill="#111" font-size="23">-4</text>
<text x="818.5" y="1882" text-anchor="end" fill="#111" font-size="23">5</text>
<path d="M669.3 2346V2355.5M726.8 2346V2355.5M788.7 2346V2355.5" stroke="#1f1f1f" stroke-width="1.5" fill="none"/>
<text x="669" y="2380.4" text-anchor="middle" fill="#111" font-size="24">1</text>
<text x="725.3" y="2380.4" text-anchor="middle" fill="#111" font-size="24">2</text>
<text x="789" y="2380.4" text-anchor="middle" fill="#111" font-size="24">3</text>
<text x="712.5" y="2419.3" font-size="31">PC</text>
<path d="M1068.7 1973.5V2319.6M954.6 1973.5H1068.7M992.1 2143.6H1068.7M930.2 2319.6H1068.7M954.6 1945.2V2001.8M875.9 1945.2H954.6M893.6 2001.8H954.6M875.9 1932.9V1958.5M860.6 1932.9H875.9M848.2 1958.5H875.9M860.6 1920.2V1944.6M842.3 1920.2H860.6M835.8 1944.6H860.6M842.3 1911.3V1929.9M835.8 1911.3H842.3M835.8 1929.9H842.3M848.2 1955V1961.5M835.8 1955H848.2M835.8 1961.5H848.2M893.6 1986.8V2016.9M859.4 1986.8H893.6M858.8 2016.9H893.6M859.4 1978.5V1995.4M850 1978.5H859.4M843.2 1995.4H859.4M850 1972.1V1984.4M840.2 1972.1H850M835.8 1984.4H850M840.2 1968.2V1975.6M835.8 1968.2H840.2M835.8 1975.6H840.2M843.2 1992.7V1998M835.8 1992.7H843.2M835.8 1998H843.2M858.8 2007.1V2026.6M835.8 2007.1H858.8M840.2 2026.6H858.8M840.2 2021.3V2032.2M835.8 2021.3H840.2M835.8 2032.2H840.2M839.4 2003.6V2010.4M835.8 2003.6H839.4M835.8 2010.4H839.4M992.1 2084.1V2203.5M876.5 2084.1H992.1M883.9 2203.5H992.1M876.5 2064V2104.4M855.6 2064H876.5M855 2104.4H876.5M855.6 2052V2075.8M835.8 2052H855.6M840.2 2075.8H855.6M840.2 2069.9V2081.7M835.8 2069.9H840.2M835.8 2081.7H840.2M855 2094.4V2114.7M835.8 2094.4H855M838.8 2114.7H855M838.8 2107.7V2122.4M835.8 2107.7H838.8M835.8 2122.4H838.8M883.9 2173.7V2233.5M859.4 2173.7H883.9M857.3 2233.5H883.9M859.4 2151.9V2194.6M849.4 2151.9H859.4M844.1 2194.6H859.4M849.4 2140.7V2162.8M838.8 2140.7H849.4M835.8 2162.8H849.4M838.8 2131.8V2149.5M835.8 2131.8H838.8M835.8 2149.5H838.8M844.1 2184.9V2205.5M835.8 2184.9H844.1M835.8 2205.5H844.1M857.3 2225.3V2241.8M843.2 2225.3H857.3M845.3 2241.8H857.3M843.2 2220.3V2230.6M835.8 2220.3H843.2M835.8 2230.6H843.2M845.3 2238V2246.2M835.8 2238H845.3M835.8 2246.2H845.3M930.2 2298.4V2340.5M865.3 2298.4H930.2M858.5 2340.5H930.2M865.3 2279.2V2317.6M855 2279.2H865.3M842.3 2317.6H865.3M855 2266.6V2291M840.2 2266.6H855M838.2 2291H855M840.2 2261.5V2271.9M835.8 2261.5H840.2M835.8 2271.9H840.2M838.2 2285.1V2298.4M835.8 2285.1H838.2M835.8 2298.4H838.2M842.3 2311.7V2323.4M835.8 2311.7H842.3M835.8 2323.4H842.3M858.5 2332.3V2345.9M835.8 2332.3H858.5M835.8 2345.9H858.5M842.3 2337.6V2342.6M835.8 2337.6H842.3M835.8 2342.6H842.3M835.2 1902.8V2345.9M835.3 1903h2M835.3 1907.6h2M835.3 1911.4h1M835.3 1915.5h1M835.3 1918.3h1.5M835.3 1923.9h3M835.3 1927.3h2M835.3 1930.5h2M835.3 1934.7h1M835.3 1938.8h2M835.3 1944.3h2M835.3 1949.1h1M835.3 1952.9h1.5M835.3 1957.8h1.5M835.3 1960.8h1M835.3 1963.5h1.5M835.3 1968.9h2.5M835.3 1973h2M835.3 1978.7h3M835.3 1983.7h3M835.3 1987.6h1M835.3 1991.7h2M835.3 1997.3h1.5M835.3 1999.9h3M835.3 2003.1h2M835.3 2007.2h2M835.3 2012.7h3M835.3 2016.9h3M835.3 2021.4h1M835.3 2026h1M835.3 2029.3h2.5M835.3 2034.2h1.5M835.3 2039.7h1M835.3 2044.5h2M835.3 2049.5h2.5M835.3 2055.4h1M835.3 2059.9h2M835.3 2064.7h2M835.3 2070.1h1M835.3 2073.5h1.5M835.3 2076.2h2M835.3 2082.2h1.5M835.3 2085.9h1.5M835.3 2089.8h2M835.3 2092.4h3M835.3 2097.6h1.5M835.3 2100.2h1M835.3 2105.4h3M835.3 2110.4h2.5M835.3 2114.8h2.5M835.3 2119.1h1.5M835.3 2122.7h1.5M835.3 2125.6h1M835.3 2128.2h2M835.3 2134.1h2.5M835.3 2138.7h2M835.3 2143.6h2.5M835.3 2147.2h2M835.3 2152.9h3M835.3 2156.7h1M835.3 2160.5h1M835.3 2165.4h1.5M835.3 2170.1h1M835.3 2173.6h2M835.3 2178.6h2M835.3 2184.3h3M835.3 2190.3h1M835.3 2193.8h2.5M835.3 2196.4h3M835.3 2202.3h2.5M835.3 2204.9h1M835.3 2209.5h2M835.3 2212.2h2M835.3 2215.8h2.5M835.3 2220.7h2.5M835.3 2225.3h2.5M835.3 2230.4h1.5M835.3 2235h2M835.3 2237.6h2.5M835.3 2240.9h3M835.3 2244.5h1M835.3 2248.1h2.5M835.3 2251.3h2.5M835.3 2256.7h2.5M835.3 2260.3h3M835.3 2263.1h1.5M835.3 2269h2M835.3 2274.1h2.5M835.3 2278.4h2M835.3 2283.7h2M835.3 2287.3h2M835.3 2291.3h2M835.3 2294.2h1M835.3 2297.8h2.5M835.3 2302.7h2M835.3 2306.7h2M835.3 2309.5h2M835.3 2314.3h1M835.3 2318.3h2M835.3 2323.6h1.5M835.3 2327.9h2M835.3 2331.5h1M835.3 2334.7h2.5M835.3 2338.4h2M835.3 2341.2h1M835.3 2344.9h2" stroke="#2a22c4" stroke-width="1.4" fill="none" stroke-linecap="square"/>
<text x="962.6" y="1958" font-style="italic" font-size="30.8">Type 1</text>
<text x="999.5" y="2123" font-style="italic" font-size="31.6">Type 2</text>
<text x="941.4" y="2298.4" font-style="italic" font-size="30.8">Type 3</text>
<text x="1115" y="1892.6" font-size="70">h</text>
<path d="M1216.5 1870L1260.7 1870" stroke="#1a7d1a" stroke-width="2.6"/>
<text x="1265.7" y="1886.3" font-size="32.6">Reward</text>
<path d="M1216.5 1911.3L1260.7 1911.3" stroke="#0b24e0" stroke-width="2.6"/>
<text x="1265.7" y="1926" font-size="32.6">Neutral</text>
<path d="M1216.5 1952L1260.7 1952" stroke="#ed1c24" stroke-width="2.6"/>
<text x="1265.7" y="1962.3" font-size="32.6">Punishment</text>
<text x="1208.5" y="2026.3" font-style="italic" font-size="33.2">Type 1</text>
<text x="1479.7" y="2026.3" font-style="italic" font-size="33.2">Type 2</text>
<text x="1765" y="2026.3" font-style="italic" font-size="33.2">Type 3</text>
<text x="1304" y="2080.3" font-size="33">CS</text>
<text x="1581" y="2080.3" font-size="33">CS</text>
<text x="1860" y="2080.3" font-size="33">CS</text>
<text text-anchor="middle" transform="translate(1151.4 2207) rotate(-90)" font-size="33">ΔF (z-score)</text>
<text x="1184" y="2092.6" text-anchor="end" fill="#1c1c1c" font-size="23.5">6</text>
<text x="1184" y="2178.1" text-anchor="end" fill="#1c1c1c" font-size="23.5">3</text>
<text x="1184" y="2263.3" text-anchor="end" fill="#1c1c1c" font-size="23.5">0</text>
<text x="1184" y="2349.1" text-anchor="end" fill="#1c1c1c" font-size="23.5">-3</text>
<path d="M1197 2084.1V2340.6M1197 2084.1h-6.5M1197 2169.6h-6.5M1197 2254.8h-6.5M1197 2340.6h-6.5" stroke="#1f1f1f" stroke-width="1.8" fill="none"/>
<path d="M1197 2340.6H1459.4M1197 2340.6v8M1328.2 2340.6v8M1350.1 2340.6v8M1393.8 2340.6v8M1459.4 2340.6v8" stroke="#1f1f1f" stroke-width="1.8" fill="none"/>
<path d="M1328.2 2089L1328.2 2340" stroke="#111" stroke-width="1.6" stroke-dasharray="8 6.5"/>
<path d="M1197 2232L1198.5 2230.5L1200.1 2232.3L1201.6 2230L1203.1 2232.2L1204.7 2234L1206.2 2234.3L1207.7 2236.9L1209.2 2237.8L1210.8 2241.3L1212.3 2241.7L1213.8 2241.8L1215.4 2242.8L1216.9 2241.9L1218.4 2240.4L1220 2240.5L1221.5 2239.5L1223 2236.7L1224.6 2239.3L1226.1 2241L1227.6 2242.9L1229.1 2244.1L1230.7 2248.1L1232.2 2247.1L1233.7 2244.5L1235.3 2246.2L1236.8 2243.2L1238.3 2243.8L1239.9 2246.2L1241.4 2245.2L1242.9 2245L1244.5 2242.8L1246 2241.8L1247.5 2244.8L1249 2244.8L1250.6 2247.9L1252.1 2247L1253.6 2250.2L1255.2 2250.7L1256.7 2251.8L1258.2 2253.6L1259.8 2252.9L1261.3 2254.5L1262.8 2250.4L1264.3 2250.7L1265.9 2251.7L1267.4 2250.2L1268.9 2248.8L1270.5 2248.4L1272 2244.9L1273.5 2246.3L1275.1 2244.3L1276.6 2239L1278.1 2240.9L1279.7 2240.4L1281.2 2234.9L1282.7 2232.6L1284.2 2227.5L1285.8 2225.7L1287.3 2226.4L1288.8 2228.7L1290.4 2230.4L1291.9 2233.1L1293.4 2232.3L1295 2237.2L1296.5 2239.4L1298 2242.3L1299.6 2240.1L1301.1 2241L1302.6 2239.9L1304.1 2234L1305.7 2238.5L1307.2 2240.6L1308.7 2244.3L1310.3 2244.9L1311.8 2249.5L1313.3 2251L1314.9 2258L1316.4 2256.1L1317.9 2258.1L1319.5 2260.6L1321 2260.6L1322.5 2262.1L1324 2264.8L1325.6 2262L1327.1 2264.2L1328.6 2263L1330.2 2263.5L1331.7 2265.6L1333.2 2267.8L1334.8 2267.9L1336.3 2269.6L1337.8 2274.7L1339.4 2275.1L1340.9 2275.9L1342.4 2277.3L1343.9 2278L1345.5 2277.8L1347 2280.3L1348.5 2282.1L1350.1 2280.4L1351.6 2278L1353.1 2275.2L1354.7 2274.2L1356.2 2270.8L1357.7 2273L1359.3 2271.4L1360.8 2270.4L1362.3 2274L1363.8 2276L1365.4 2274.4L1366.9 2271.8L1368.4 2272L1370 2271.8L1371.5 2270.9L1373 2270.1L1374.6 2270.7L1376.1 2270.7L1377.6 2271.4L1379.1 2273.5L1380.7 2272.4L1382.2 2271.1L1383.7 2271.2L1385.3 2272.9L1386.8 2276.8L1388.3 2274.6L1389.9 2276.4L1391.4 2277L1392.9 2274.9L1394.5 2269.9L1396 2268.8L1397.5 2266.3L1399 2263L1400.6 2253.3L1402.1 2246.8L1403.6 2236.4L1405.2 2229.4L1406.7 2231L1408.2 2232.8L1409.8 2235.1L1411.3 2235.2L1412.8 2237.1L1414.4 2238.3L1415.9 2238.3L1417.4 2238.7L1418.9 2239.2L1420.5 2240.6L1422 2242.2L1423.5 2239.8L1425.1 2241.5L1426.6 2241.9L1428.1 2243.9L1429.7 2246.9L1431.2 2245.8L1432.7 2247.1L1434.3 2246.1L1435.8 2247.2L1437.3 2246.9L1438.8 2248L1440.4 2249.6L1441.9 2249.4L1443.4 2251.7L1445 2255.7L1446.5 2254.2L1448 2256.1L1449.6 2257.7L1451.1 2254.6L1452.6 2257.3L1454.2 2253.8L1455.7 2252.8L1457.2 2254.8L1458.7 2254.2L1458.7 2264.2L1457.2 2262.7L1455.7 2262.7L1454.2 2265.9L1452.6 2264L1451.1 2263.7L1449.6 2263.9L1448 2263.7L1446.5 2264.3L1445 2262.2L1443.4 2263.7L1441.9 2260.5L1440.4 2257.8L1438.8 2257.7L1437.3 2259.1L1435.8 2258.7L1434.3 2253.3L1432.7 2255.6L1431.2 2257.9L1429.7 2253.1L1428.1 2250.4L1426.6 2251.3L1425.1 2253.1L1423.5 2250.8L1422 2248.9L1420.5 2249.3L1418.9 2250.8L1417.4 2248.7L1415.9 2248.6L1414.4 2246.6L1412.8 2243.1L1411.3 2244L1409.8 2242.7L1408.2 2240.6L1406.7 2239.5L1405.2 2237.5L1403.6 2243.3L1402.1 2254L1400.6 2263.5L1399 2269.7L1397.5 2274.4L1396 2279.8L1394.5 2281L1392.9 2285.5L1391.4 2285.6L1389.9 2284.1L1388.3 2285.4L1386.8 2284.2L1385.3 2284.4L1383.7 2281.9L1382.2 2281.1L1380.7 2281.1L1379.1 2280.5L1377.6 2280.4L1376.1 2281.7L1374.6 2277.9L1373 2280.9L1371.5 2280.3L1370 2279.4L1368.4 2280.5L1366.9 2284.1L1365.4 2283.9L1363.8 2282.8L1362.3 2280.7L1360.8 2281.6L1359.3 2280.9L1357.7 2279.1L1356.2 2279L1354.7 2281.3L1353.1 2283.9L1351.6 2285.8L1350.1 2288.1L1348.5 2289.2L1347 2290.3L1345.5 2288.9L1343.9 2289.3L1342.4 2288.7L1340.9 2286.4L1339.4 2286.5L1337.8 2283L1336.3 2280.7L1334.8 2276.8L1333.2 2277L1331.7 2275L1330.2 2273.5L1328.6 2273.4L1327.1 2274.8L1325.6 2274.2L1324 2271.7L1322.5 2273.6L1321 2269.3L1319.5 2269L1317.9 2267.3L1316.4 2268.2L1314.9 2265L1313.3 2263.1L1311.8 2259.1L1310.3 2255.4L1308.7 2251.5L1307.2 2247.2L1305.7 2247.4L1304.1 2246L1302.6 2246L1301.1 2248.1L1299.6 2249.5L1298 2248.3L1296.5 2248.3L1295 2243.8L1293.4 2243.5L1291.9 2239.2L1290.4 2237.1L1288.8 2238.7L1287.3 2236.6L1285.8 2232.8L1284.2 2234.5L1282.7 2238.7L1281.2 2245.8L1279.7 2247.2L1278.1 2248.7L1276.6 2250.9L1275.1 2250.4L1273.5 2253L1272 2254.8L1270.5 2255.2L1268.9 2258.5L1267.4 2259.6L1265.9 2258.8L1264.3 2260.1L1262.8 2260.3L1261.3 2260.8L1259.8 2260.1L1258.2 2263.3L1256.7 2262.8L1255.2 2261.5L1253.6 2259.6L1252.1 2259L1250.6 2256.2L1249 2254.5L1247.5 2250.8L1246 2252.2L1244.5 2250.8L1242.9 2253.6L1241.4 2252.1L1239.9 2252.6L1238.3 2254L1236.8 2253.8L1235.3 2253.2L1233.7 2256.4L1232.2 2257L1230.7 2254.2L1229.1 2254.4L1227.6 2254.8L1226.1 2253L1224.6 2250.4L1223 2247.9L1221.5 2248.4L1220 2249.7L1218.4 2249L1216.9 2248.1L1215.4 2249.1L1213.8 2248.5L1212.3 2249.4L1210.8 2250.2L1209.2 2248.4L1207.7 2248.1L1206.2 2243.7L1204.7 2243.3L1203.1 2242.6L1201.6 2239.7L1200.1 2239.4L1198.5 2238.6L1197 2238.7Z" fill="#c6f2c6" opacity="0.8"/>
<path d="M1197 2235.3L1198.5 2234.5L1200.1 2235.9L1201.6 2234.9L1203.1 2237.4L1204.7 2238.7L1206.2 2239L1207.7 2242.5L1209.2 2243.1L1210.8 2245.8L1212.3 2245.5L1213.8 2245.1L1215.4 2246L1216.9 2245L1218.4 2244.7L1220 2245.1L1221.5 2243.9L1223 2242.3L1224.6 2244.8L1226.1 2247L1227.6 2248.9L1229.1 2249.3L1230.7 2251.1L1232.2 2252.1L1233.7 2250.5L1235.3 2249.7L1236.8 2248.5L1238.3 2248.9L1239.9 2249.4L1241.4 2248.7L1242.9 2249.3L1244.5 2246.8L1246 2247L1247.5 2247.8L1249 2249.7L1250.6 2252L1252.1 2253L1253.6 2254.9L1255.2 2256.1L1256.7 2257.3L1258.2 2258.4L1259.8 2256.5L1261.3 2257.7L1262.8 2255.3L1264.3 2255.4L1265.9 2255.2L1267.4 2254.9L1268.9 2253.6L1270.5 2251.8L1272 2249.9L1273.5 2249.7L1275.1 2247.3L1276.6 2245L1278.1 2244.8L1279.7 2243.8L1281.2 2240.3L1282.7 2235.6L1284.2 2231L1285.8 2229.2L1287.3 2231.5L1288.8 2233.7L1290.4 2233.8L1291.9 2236.2L1293.4 2237.9L1295 2240.5L1296.5 2243.8L1298 2245.3L1299.6 2244.8L1301.1 2244.5L1302.6 2243L1304.1 2240L1305.7 2242.9L1307.2 2243.9L1308.7 2247.9L1310.3 2250.1L1311.8 2254.3L1313.3 2257L1314.9 2261.5L1316.4 2262.2L1317.9 2262.7L1319.5 2264.8L1321 2264.9L1322.5 2267.9L1324 2268.2L1325.6 2268.1L1327.1 2269.5L1328.6 2268.2L1330.2 2268.5L1331.7 2270.3L1333.2 2272.4L1334.8 2272.4L1336.3 2275.1L1337.8 2278.9L1339.4 2280.8L1340.9 2281.1L1342.4 2283L1343.9 2283.6L1345.5 2283.3L1347 2285.3L1348.5 2285.7L1350.1 2284.3L1351.6 2281.9L1353.1 2279.6L1354.7 2277.8L1356.2 2274.9L1357.7 2276L1359.3 2276.2L1360.8 2276L1362.3 2277.3L1363.8 2279.4L1365.4 2279.2L1366.9 2278L1368.4 2276.3L1370 2275.6L1371.5 2275.6L1373 2275.5L1374.6 2274.3L1376.1 2276.2L1377.6 2275.9L1379.1 2277L1380.7 2276.7L1382.2 2276.1L1383.7 2276.5L1385.3 2278.6L1386.8 2280.5L1388.3 2280L1389.9 2280.3L1391.4 2281.3L1392.9 2280.2L1394.5 2275.5L1396 2274.3L1397.5 2270.3L1399 2266.3L1400.6 2258.4L1402.1 2250.4L1403.6 2239.8L1405.2 2233.4L1406.7 2235.3L1408.2 2236.7L1409.8 2238.9L1411.3 2239.6L1412.8 2240.1L1414.4 2242.5L1415.9 2243.5L1417.4 2243.7L1418.9 2245L1420.5 2244.9L1422 2245.6L1423.5 2245.3L1425.1 2247.3L1426.6 2246.6L1428.1 2247.1L1429.7 2250L1431.2 2251.8L1432.7 2251.3L1434.3 2249.7L1435.8 2253L1437.3 2253L1438.8 2252.8L1440.4 2253.7L1441.9 2254.9L1443.4 2257.7L1445 2259L1446.5 2259.2L1448 2259.9L1449.6 2260.8L1451.1 2259.1L1452.6 2260.7L1454.2 2259.8L1455.7 2257.7L1457.2 2258.8L1458.7 2259.2" stroke="#1a7d1a" stroke-width="2.9" fill="none" stroke-linejoin="round"/>
<path d="M1197 2242.9L1198.5 2237.6L1200.1 2233.4L1201.6 2227.5L1203.1 2224.1L1204.7 2218.1L1206.2 2220.3L1207.7 2221.8L1209.2 2223.6L1210.8 2225.7L1212.3 2228.1L1213.8 2223.2L1215.4 2221.5L1216.9 2221L1218.4 2223.4L1220 2225.2L1221.5 2227L1223 2228.7L1224.6 2231.6L1226.1 2235.1L1227.6 2238.9L1229.1 2236.9L1230.7 2241L1232.2 2238.8L1233.7 2243L1235.3 2245L1236.8 2244.3L1238.3 2241.9L1239.9 2240.8L1241.4 2240.4L1242.9 2238.9L1244.5 2235.7L1246 2236.8L1247.5 2237.2L1249 2236.3L1250.6 2238.3L1252.1 2239.5L1253.6 2244L1255.2 2242.4L1256.7 2244.1L1258.2 2247.3L1259.8 2247.6L1261.3 2248.5L1262.8 2248.6L1264.3 2249.6L1265.9 2249.3L1267.4 2251L1268.9 2250L1270.5 2250.6L1272 2248.1L1273.5 2243.4L1275.1 2242.6L1276.6 2238.9L1278.1 2235.8L1279.7 2233.7L1281.2 2229.6L1282.7 2227.6L1284.2 2231.4L1285.8 2232.4L1287.3 2231.6L1288.8 2234.6L1290.4 2236.6L1291.9 2238.3L1293.4 2241.7L1295 2242.7L1296.5 2244.1L1298 2249.1L1299.6 2248.4L1301.1 2249.8L1302.6 2251.6L1304.1 2250.2L1305.7 2251.7L1307.2 2251.1L1308.7 2251.5L1310.3 2253.6L1311.8 2252.4L1313.3 2256.3L1314.9 2257.9L1316.4 2260.1L1317.9 2260.2L1319.5 2261.5L1321 2263.4L1322.5 2263.7L1324 2265L1325.6 2264.9L1327.1 2266.1L1328.6 2264.3L1330.2 2263.9L1331.7 2263.2L1333.2 2254.9L1334.8 2246.7L1336.3 2245.3L1337.8 2245L1339.4 2247L1340.9 2247.7L1342.4 2247.8L1343.9 2249.5L1345.5 2250.4L1347 2250.6L1348.5 2252.5L1350.1 2252.8L1351.6 2254.1L1353.1 2255.7L1354.7 2256.3L1356.2 2257L1357.7 2258.5L1359.3 2261.3L1360.8 2260.4L1362.3 2260.2L1363.8 2260.6L1365.4 2261.2L1366.9 2263.1L1368.4 2260.1L1370 2259.5L1371.5 2262.2L1373 2257.6L1374.6 2256.6L1376.1 2259.1L1377.6 2257L1379.1 2253.4L1380.7 2251.5L1382.2 2250.6L1383.7 2250.1L1385.3 2248.7L1386.8 2251.6L1388.3 2253.2L1389.9 2252.6L1391.4 2252.8L1392.9 2257.2L1394.5 2255L1396 2256.3L1397.5 2257.3L1399 2258.9L1400.6 2260.6L1402.1 2257.7L1403.6 2257.9L1405.2 2256.8L1406.7 2257.5L1408.2 2258.2L1409.8 2258.6L1411.3 2259.4L1412.8 2260.6L1414.4 2263.2L1415.9 2265.4L1417.4 2265.8L1418.9 2263.5L1420.5 2262.7L1422 2258.7L1423.5 2259.1L1425.1 2261.3L1426.6 2260.8L1428.1 2261.2L1429.7 2260.5L1431.2 2257.9L1432.7 2256.4L1434.3 2259.4L1435.8 2259.2L1437.3 2263.1L1438.8 2266.5L1440.4 2267L1441.9 2264.3L1443.4 2263.3L1445 2262L1446.5 2262.7L1448 2263.3L1449.6 2261.2L1451.1 2263.5L1452.6 2263.2L1454.2 2262.3L1455.7 2263.8L1457.2 2264L1458.7 2262L1458.7 2271.6L1457.2 2270.4L1455.7 2272.6L1454.2 2273.5L1452.6 2270.7L1451.1 2269.7L1449.6 2270.1L1448 2271.1L1446.5 2270.3L1445 2272.3L1443.4 2272.3L1441.9 2275.8L1440.4 2276.1L1438.8 2275.3L1437.3 2270.5L1435.8 2268.7L1434.3 2266L1432.7 2267.8L1431.2 2268.1L1429.7 2267L1428.1 2270.2L1426.6 2270.5L1425.1 2267.4L1423.5 2271.2L1422 2270.1L1420.5 2271.1L1418.9 2273.5L1417.4 2273.4L1415.9 2273.1L1414.4 2275.2L1412.8 2271.1L1411.3 2269.2L1409.8 2268L1408.2 2269.3L1406.7 2267.9L1405.2 2266.8L1403.6 2266.3L1402.1 2268.3L1400.6 2268.3L1399 2266.7L1397.5 2267.9L1396 2265.2L1394.5 2264.5L1392.9 2263.5L1391.4 2264.6L1389.9 2261.6L1388.3 2262.8L1386.8 2260.1L1385.3 2257.5L1383.7 2256.1L1382.2 2259.1L1380.7 2263.6L1379.1 2265.4L1377.6 2267.1L1376.1 2265.4L1374.6 2266.9L1373 2269.9L1371.5 2270.7L1370 2270.5L1368.4 2271.2L1366.9 2272.2L1365.4 2273.4L1363.8 2272.3L1362.3 2271.7L1360.8 2267.6L1359.3 2268.7L1357.7 2265.3L1356.2 2265.4L1354.7 2265.4L1353.1 2264.2L1351.6 2265.8L1350.1 2263.2L1348.5 2262.4L1347 2261.8L1345.5 2257.2L1343.9 2259.7L1342.4 2255.2L1340.9 2255.8L1339.4 2255.2L1337.8 2256.3L1336.3 2254L1334.8 2252.9L1333.2 2263.3L1331.7 2273.7L1330.2 2276L1328.6 2276.5L1327.1 2275.2L1325.6 2271.3L1324 2273L1322.5 2273.3L1321 2270.2L1319.5 2271.3L1317.9 2270L1316.4 2268.3L1314.9 2266.4L1313.3 2264L1311.8 2261.1L1310.3 2260.9L1308.7 2263.5L1307.2 2261.1L1305.7 2258.4L1304.1 2261.8L1302.6 2262.7L1301.1 2259.3L1299.6 2257L1298 2256.5L1296.5 2255.3L1295 2251.8L1293.4 2252.9L1291.9 2247.7L1290.4 2246L1288.8 2242.8L1287.3 2242.1L1285.8 2239.4L1284.2 2237.5L1282.7 2237.1L1281.2 2241.7L1279.7 2243.5L1278.1 2247.6L1276.6 2248.4L1275.1 2249.4L1273.5 2255.5L1272 2256.1L1270.5 2258L1268.9 2259.2L1267.4 2260.2L1265.9 2260.7L1264.3 2260.6L1262.8 2260.6L1261.3 2259.8L1259.8 2257.3L1258.2 2254.6L1256.7 2253.8L1255.2 2254.3L1253.6 2251.6L1252.1 2245.7L1250.6 2248.4L1249 2247.2L1247.5 2245.6L1246 2243.8L1244.5 2246.8L1242.9 2247.7L1241.4 2249L1239.9 2250.2L1238.3 2252.2L1236.8 2252.4L1235.3 2252.3L1233.7 2251.5L1232.2 2250.5L1230.7 2252.8L1229.1 2249.1L1227.6 2248.2L1226.1 2246.1L1224.6 2242.8L1223 2240.3L1221.5 2238L1220 2234.2L1218.4 2229.8L1216.9 2230.9L1215.4 2230.5L1213.8 2233.6L1212.3 2234.4L1210.8 2234.7L1209.2 2235.2L1207.7 2232.2L1206.2 2231L1204.7 2227.1L1203.1 2234.1L1201.6 2239.2L1200.1 2240.8L1198.5 2247L1197 2252.1Z" fill="#d0d3fa" opacity="0.8"/>
<path d="M1197 2247.5L1198.5 2242.3L1200.1 2237.1L1201.6 2233.4L1203.1 2229.1L1204.7 2222.6L1206.2 2225.7L1207.7 2227L1209.2 2229.4L1210.8 2230.2L1212.3 2231.3L1213.8 2228.4L1215.4 2226L1216.9 2226L1218.4 2226.6L1220 2229.7L1221.5 2232.5L1223 2234.5L1224.6 2237.2L1226.1 2240.6L1227.6 2243.6L1229.1 2243L1230.7 2246.9L1232.2 2244.7L1233.7 2247.3L1235.3 2248.7L1236.8 2248.4L1238.3 2247L1239.9 2245.5L1241.4 2244.7L1242.9 2243.3L1244.5 2241.3L1246 2240.3L1247.5 2241.4L1249 2241.8L1250.6 2243.4L1252.1 2242.6L1253.6 2247.8L1255.2 2248.4L1256.7 2248.9L1258.2 2250.9L1259.8 2252.4L1261.3 2254.2L1262.8 2254.6L1264.3 2255.1L1265.9 2255L1267.4 2255.6L1268.9 2254.6L1270.5 2254.3L1272 2252.1L1273.5 2249.5L1275.1 2246L1276.6 2243.6L1278.1 2241.7L1279.7 2238.6L1281.2 2235.6L1282.7 2232.3L1284.2 2234.5L1285.8 2235.9L1287.3 2236.9L1288.8 2238.7L1290.4 2241.3L1291.9 2243L1293.4 2247.3L1295 2247.2L1296.5 2249.7L1298 2252.8L1299.6 2252.7L1301.1 2254.6L1302.6 2257.1L1304.1 2256L1305.7 2255L1307.2 2256.1L1308.7 2257.5L1310.3 2257.3L1311.8 2256.7L1313.3 2260.2L1314.9 2262.1L1316.4 2264.2L1317.9 2265.1L1319.5 2266.4L1321 2266.8L1322.5 2268.5L1324 2269L1325.6 2268.1L1327.1 2270.7L1328.6 2270.4L1330.2 2269.9L1331.7 2268.5L1333.2 2259.1L1334.8 2249.8L1336.3 2249.7L1337.8 2250.7L1339.4 2251.1L1340.9 2251.7L1342.4 2251.5L1343.9 2254.6L1345.5 2253.8L1347 2256.2L1348.5 2257.4L1350.1 2258L1351.6 2259.9L1353.1 2260L1354.7 2260.8L1356.2 2261.2L1357.7 2261.9L1359.3 2265L1360.8 2264L1362.3 2265.9L1363.8 2266.4L1365.4 2267.3L1366.9 2267.7L1368.4 2265.7L1370 2265L1371.5 2266.4L1373 2263.8L1374.6 2261.7L1376.1 2262.3L1377.6 2262.1L1379.1 2259.4L1380.7 2257.5L1382.2 2254.8L1383.7 2253.1L1385.3 2253.1L1386.8 2255.8L1388.3 2258L1389.9 2257.1L1391.4 2258.7L1392.9 2260.4L1394.5 2259.7L1396 2260.8L1397.5 2262.6L1399 2262.8L1400.6 2264.5L1402.1 2263L1403.6 2262.1L1405.2 2261.8L1406.7 2262.7L1408.2 2263.8L1409.8 2263.3L1411.3 2264.3L1412.8 2265.9L1414.4 2269.2L1415.9 2269.3L1417.4 2269.6L1418.9 2268.5L1420.5 2266.9L1422 2264.4L1423.5 2265.1L1425.1 2264.3L1426.6 2265.7L1428.1 2265.7L1429.7 2263.8L1431.2 2263L1432.7 2262.1L1434.3 2262.7L1435.8 2263.9L1437.3 2266.8L1438.8 2270.9L1440.4 2271.6L1441.9 2270.1L1443.4 2267.8L1445 2267.1L1446.5 2266.5L1448 2267.2L1449.6 2265.6L1451.1 2266.6L1452.6 2267L1454.2 2267.9L1455.7 2268.2L1457.2 2267.2L1458.7 2266.8" stroke="#0b24e0" stroke-width="2.9" fill="none" stroke-linejoin="round"/>
<path d="M1197 2268.2L1198.5 2267L1200.1 2269.6L1201.6 2269.9L1203.1 2264.2L1204.7 2255.4L1206.2 2250L1207.7 2252.2L1209.2 2251.8L1210.8 2252.7L1212.3 2254.1L1213.8 2255L1215.4 2252.3L1216.9 2254.4L1218.4 2254.7L1220 2253.7L1221.5 2253.2L1223 2252.6L1224.6 2252.4L1226.1 2250.7L1227.6 2247.8L1229.1 2247.9L1230.7 2249.7L1232.2 2250.2L1233.7 2250.1L1235.3 2251.8L1236.8 2251.3L1238.3 2251.5L1239.9 2251.9L1241.4 2255.7L1242.9 2260.2L1244.5 2257.6L1246 2259.9L1247.5 2259.4L1249 2259.6L1250.6 2258.1L1252.1 2260L1253.6 2257.8L1255.2 2256.4L1256.7 2257L1258.2 2254.2L1259.8 2254L1261.3 2251.7L1262.8 2256.2L1264.3 2253.4L1265.9 2254L1267.4 2258.9L1268.9 2258.2L1270.5 2256.6L1272 2255.1L1273.5 2254.9L1275.1 2256.8L1276.6 2257.8L1278.1 2255.8L1279.7 2256.5L1281.2 2257.2L1282.7 2258.3L1284.2 2256.6L1285.8 2256.9L1287.3 2257.3L1288.8 2256.6L1290.4 2255.2L1291.9 2254.8L1293.4 2254.6L1295 2254.3L1296.5 2254.7L1298 2253L1299.6 2252.1L1301.1 2251.1L1302.6 2249L1304.1 2251.5L1305.7 2253.3L1307.2 2252.2L1308.7 2252.8L1310.3 2254.1L1311.8 2255.5L1313.3 2252.7L1314.9 2252.9L1316.4 2248.6L1317.9 2248.7L1319.5 2250L1321 2247.5L1322.5 2247.2L1324 2244L1325.6 2242.6L1327.1 2244L1328.6 2238.8L1330.2 2229.8L1331.7 2221.9L1333.2 2210.7L1334.8 2195L1336.3 2181L1337.8 2169.3L1339.4 2155.6L1340.9 2147.3L1342.4 2134.3L1343.9 2126.5L1345.5 2115.6L1347 2112.8L1348.5 2109.6L1350.1 2108.8L1351.6 2105.2L1353.1 2109.5L1354.7 2105L1356.2 2107.6L1357.7 2110.5L1359.3 2114.6L1360.8 2118.5L1362.3 2124.6L1363.8 2127.3L1365.4 2133.6L1366.9 2138.4L1368.4 2144.1L1370 2148L1371.5 2154L1373 2154.8L1374.6 2159.3L1376.1 2164.8L1377.6 2171.1L1379.1 2176.4L1380.7 2179.3L1382.2 2183.4L1383.7 2187.2L1385.3 2189.8L1386.8 2193L1388.3 2194.4L1389.9 2196.5L1391.4 2201.4L1392.9 2205.4L1394.5 2208L1396 2206.7L1397.5 2205.6L1399 2203.9L1400.6 2207.5L1402.1 2207.5L1403.6 2211.4L1405.2 2214.2L1406.7 2217.5L1408.2 2218.8L1409.8 2220.9L1411.3 2222.3L1412.8 2223.4L1414.4 2224.6L1415.9 2226L1417.4 2229.6L1418.9 2230.3L1420.5 2233.1L1422 2233.2L1423.5 2237L1425.1 2236.7L1426.6 2237L1428.1 2240.7L1429.7 2242.4L1431.2 2244.6L1432.7 2245.2L1434.3 2248.8L1435.8 2248.1L1437.3 2250.4L1438.8 2251L1440.4 2253.4L1441.9 2254.9L1443.4 2256.7L1445 2257.1L1446.5 2258.8L1448 2256.8L1449.6 2255.6L1451.1 2258L1452.6 2255.4L1454.2 2256L1455.7 2257.5L1457.2 2257.2L1458.7 2260.2L1458.7 2268L1457.2 2266.2L1455.7 2265.6L1454.2 2264.4L1452.6 2265.4L1451.1 2266.3L1449.6 2262.6L1448 2265L1446.5 2268.7L1445 2269.2L1443.4 2265.8L1441.9 2264.9L1440.4 2263.4L1438.8 2259.8L1437.3 2260L1435.8 2260.2L1434.3 2254.8L1432.7 2254L1431.2 2251.5L1429.7 2249.4L1428.1 2249.9L1426.6 2249.3L1425.1 2248.9L1423.5 2244L1422 2245.3L1420.5 2241.4L1418.9 2239.8L1417.4 2238L1415.9 2235.7L1414.4 2235.4L1412.8 2234.9L1411.3 2232.2L1409.8 2231.7L1408.2 2227.8L1406.7 2226.6L1405.2 2222.7L1403.6 2221.7L1402.1 2218L1400.6 2216L1399 2212.6L1397.5 2217.3L1396 2218.6L1394.5 2217.5L1392.9 2216.4L1391.4 2211.3L1389.9 2207.9L1388.3 2204.1L1386.8 2201L1385.3 2200.8L1383.7 2195.5L1382.2 2191.5L1380.7 2187.4L1379.1 2184.4L1377.6 2178.1L1376.1 2174.9L1374.6 2171.6L1373 2166.5L1371.5 2161.3L1370 2157.5L1368.4 2152.8L1366.9 2147.5L1365.4 2139.6L1363.8 2138.7L1362.3 2132.3L1360.8 2128L1359.3 2122.7L1357.7 2121.3L1356.2 2117.5L1354.7 2116.8L1353.1 2116.6L1351.6 2117.3L1350.1 2114.8L1348.5 2121.5L1347 2121.5L1345.5 2127.8L1343.9 2135.6L1342.4 2145.1L1340.9 2153.9L1339.4 2164.1L1337.8 2176.4L1336.3 2192.2L1334.8 2206.7L1333.2 2219.9L1331.7 2228.9L1330.2 2240L1328.6 2249.3L1327.1 2250.3L1325.6 2254.7L1324 2254.8L1322.5 2255.7L1321 2256.4L1319.5 2257.6L1317.9 2260.4L1316.4 2258.3L1314.9 2259.9L1313.3 2263.2L1311.8 2262.9L1310.3 2265.6L1308.7 2264.6L1307.2 2261.7L1305.7 2263L1304.1 2258.5L1302.6 2261.2L1301.1 2263.4L1299.6 2260.6L1298 2264L1296.5 2261.8L1295 2263.2L1293.4 2264.3L1291.9 2266.2L1290.4 2266.2L1288.8 2265.2L1287.3 2265.6L1285.8 2266.7L1284.2 2267.3L1282.7 2265.8L1281.2 2267.7L1279.7 2265.6L1278.1 2267.5L1276.6 2266.8L1275.1 2266.6L1273.5 2266.5L1272 2265.4L1270.5 2266.6L1268.9 2265.5L1267.4 2265L1265.9 2266.1L1264.3 2264.3L1262.8 2262.3L1261.3 2261.5L1259.8 2264.3L1258.2 2265.6L1256.7 2265.2L1255.2 2266.8L1253.6 2268.9L1252.1 2267.1L1250.6 2265.7L1249 2267.1L1247.5 2270L1246 2268.3L1244.5 2269.5L1242.9 2269.7L1241.4 2263.3L1239.9 2260.7L1238.3 2261.4L1236.8 2263.3L1235.3 2260.9L1233.7 2260.8L1232.2 2262.3L1230.7 2261.5L1229.1 2259.4L1227.6 2260.1L1226.1 2259.5L1224.6 2259.3L1223 2260.3L1221.5 2264L1220 2263.7L1218.4 2264.3L1216.9 2260.7L1215.4 2264.1L1213.8 2263L1212.3 2262.7L1210.8 2259.8L1209.2 2260.7L1207.7 2260L1206.2 2262.3L1204.7 2265.2L1203.1 2273.3L1201.6 2277.1L1200.1 2276.8L1198.5 2278.7L1197 2274.5Z" fill="#fbc9c9" opacity="0.8"/>
<path d="M1197 2271.3L1198.5 2272.9L1200.1 2273.2L1201.6 2273.5L1203.1 2268.7L1204.7 2260.3L1206.2 2256.2L1207.7 2256.1L1209.2 2256.3L1210.8 2256.2L1212.3 2258.4L1213.8 2259L1215.4 2258.2L1216.9 2257.6L1218.4 2259.5L1220 2258.7L1221.5 2258.6L1223 2256.4L1224.6 2255.9L1226.1 2255.1L1227.6 2254L1229.1 2253.6L1230.7 2255.6L1232.2 2256.3L1233.7 2255.5L1235.3 2256.4L1236.8 2257.3L1238.3 2256.4L1239.9 2256.3L1241.4 2259.5L1242.9 2264.9L1244.5 2263.6L1246 2264.1L1247.5 2264.7L1249 2263.4L1250.6 2261.9L1252.1 2263.5L1253.6 2263.4L1255.2 2261.6L1256.7 2261.1L1258.2 2259.9L1259.8 2259.2L1261.3 2256.6L1262.8 2259.3L1264.3 2258.8L1265.9 2260.1L1267.4 2261.9L1268.9 2261.9L1270.5 2261.6L1272 2260.2L1273.5 2260.7L1275.1 2261.7L1276.6 2262.3L1278.1 2261.7L1279.7 2261L1281.2 2262.4L1282.7 2262L1284.2 2262L1285.8 2261.8L1287.3 2261.4L1288.8 2260.9L1290.4 2260.7L1291.9 2260.5L1293.4 2259.4L1295 2258.7L1296.5 2258.3L1298 2258.5L1299.6 2256.3L1301.1 2257.3L1302.6 2255.1L1304.1 2255L1305.7 2258.2L1307.2 2256.9L1308.7 2258.7L1310.3 2259.9L1311.8 2259.2L1313.3 2257.9L1314.9 2256.4L1316.4 2253.4L1317.9 2254.6L1319.5 2253.8L1321 2251.9L1322.5 2251.5L1324 2249.4L1325.6 2248.6L1327.1 2247.2L1328.6 2244L1330.2 2234.9L1331.7 2225.4L1333.2 2215.3L1334.8 2200.8L1336.3 2186.6L1337.8 2172.8L1339.4 2159.8L1340.9 2150.6L1342.4 2139.7L1343.9 2131L1345.5 2121.7L1347 2117.2L1348.5 2115.6L1350.1 2111.8L1351.6 2111.2L1353.1 2113L1354.7 2110.9L1356.2 2112.5L1357.7 2115.9L1359.3 2118.7L1360.8 2123.2L1362.3 2128.5L1363.8 2133L1365.4 2136.6L1366.9 2142.9L1368.4 2148.5L1370 2152.7L1371.5 2157.6L1373 2160.6L1374.6 2165.4L1376.1 2169.8L1377.6 2174.6L1379.1 2180.4L1380.7 2183.4L1382.2 2187.5L1383.7 2191.3L1385.3 2195.3L1386.8 2197L1388.3 2199.2L1389.9 2202.2L1391.4 2206.3L1392.9 2210.9L1394.5 2212.7L1396 2212.7L1397.5 2211.5L1399 2208.3L1400.6 2211.8L1402.1 2212.7L1403.6 2216.6L1405.2 2218.5L1406.7 2222.1L1408.2 2223.3L1409.8 2226.3L1411.3 2227.3L1412.8 2229.1L1414.4 2230L1415.9 2230.8L1417.4 2233.8L1418.9 2235.1L1420.5 2237.2L1422 2239.3L1423.5 2240.5L1425.1 2242.8L1426.6 2243.2L1428.1 2245.3L1429.7 2245.9L1431.2 2248L1432.7 2249.6L1434.3 2251.8L1435.8 2254.1L1437.3 2255.2L1438.8 2255.4L1440.4 2258.4L1441.9 2259.9L1443.4 2261.2L1445 2263.1L1446.5 2263.8L1448 2260.9L1449.6 2259.1L1451.1 2262.2L1452.6 2260.4L1454.2 2260.2L1455.7 2261.6L1457.2 2261.7L1458.7 2264.1" stroke="#ed1c24" stroke-width="2.9" fill="none" stroke-linejoin="round"/>
<text x="1195" y="2372" text-anchor="middle" fill="#1c1c1c" font-size="23.5">-6</text>
<text x="1327" y="2372" text-anchor="middle" fill="#1c1c1c" font-size="23.5">0</text>
<text x="1453.8" y="2372" text-anchor="middle" fill="#1c1c1c" font-size="23.5">6</text>
<path d="M1475 2084.1V2340.6M1475 2084.1h-6.5M1475 2169.6h-6.5M1475 2254.8h-6.5M1475 2340.6h-6.5" stroke="#1f1f1f" stroke-width="1.8" fill="none"/>
<path d="M1475 2340.6H1738.2M1475 2340.6v8M1606.6 2340.6v8M1628.5 2340.6v8M1672.4 2340.6v8M1738.2 2340.6v8" stroke="#1f1f1f" stroke-width="1.8" fill="none"/>
<path d="M1606.6 2089L1606.6 2340" stroke="#111" stroke-width="1.6" stroke-dasharray="8 6.5"/>
<path d="M1475 2242.9L1476.5 2243.7L1478.1 2245.6L1479.6 2246.5L1481.1 2246.5L1482.7 2247.1L1484.2 2248.6L1485.7 2247.8L1487.3 2250.4L1488.8 2248.7L1490.4 2251.2L1491.9 2249.7L1493.4 2249.5L1495 2249.9L1496.5 2253L1498 2248.2L1499.6 2249.6L1501.1 2249.6L1502.6 2247L1504.2 2247.3L1505.7 2246.4L1507.2 2248.8L1508.8 2250.6L1510.3 2252.2L1511.8 2250.9L1513.4 2251.5L1514.9 2252L1516.5 2255.3L1518 2254.9L1519.5 2252.5L1521.1 2255.3L1522.6 2253.2L1524.1 2255.3L1525.7 2256.6L1527.2 2254.5L1528.7 2258.9L1530.3 2255.6L1531.8 2257.6L1533.3 2255.1L1534.9 2254.9L1536.4 2256.4L1537.9 2255.1L1539.5 2253.3L1541 2257.3L1542.6 2253.9L1544.1 2257.7L1545.6 2257.5L1547.2 2258.6L1548.7 2256.8L1550.2 2256.6L1551.8 2259.8L1553.3 2259.2L1554.8 2259L1556.4 2260.7L1557.9 2262.4L1559.4 2260.7L1561 2262.6L1562.5 2261.5L1564 2264.5L1565.6 2264.5L1567.1 2263L1568.7 2264.5L1570.2 2264.5L1571.7 2267.8L1573.3 2268.2L1574.8 2268.2L1576.3 2269.6L1577.9 2270.2L1579.4 2268.9L1580.9 2268.4L1582.5 2272.3L1584 2271L1585.5 2268.8L1587.1 2271.4L1588.6 2274.3L1590.2 2273.1L1591.7 2276L1593.2 2275.3L1594.8 2276.3L1596.3 2280.4L1597.8 2279.7L1599.4 2281.6L1600.9 2279.2L1602.4 2281.2L1604 2285.7L1605.5 2286.5L1607 2283.3L1608.6 2285L1610.1 2285.9L1611.6 2288L1613.2 2290.7L1614.7 2289.5L1616.3 2289L1617.8 2292.7L1619.3 2293.4L1620.9 2293.6L1622.4 2294L1623.9 2294.6L1625.5 2293.5L1627 2293L1628.5 2289.5L1630.1 2287.1L1631.6 2282.6L1633.1 2281.1L1634.7 2278.5L1636.2 2273.9L1637.7 2276L1639.3 2273.6L1640.8 2275.9L1642.4 2276.1L1643.9 2275.6L1645.4 2277.8L1647 2275.9L1648.5 2278.3L1650 2278.4L1651.6 2279.4L1653.1 2276.9L1654.6 2277.4L1656.2 2280.7L1657.7 2278.3L1659.2 2275.4L1660.8 2276.7L1662.3 2276.8L1663.8 2275.3L1665.4 2277.5L1666.9 2274.6L1668.5 2277L1670 2276L1671.5 2275.3L1673.1 2273L1674.6 2271.2L1676.1 2268.5L1677.7 2267.7L1679.2 2266.3L1680.7 2259.6L1682.3 2251.5L1683.8 2249.8L1685.3 2245.9L1686.9 2246.3L1688.4 2247.4L1689.9 2244.4L1691.5 2244.3L1693 2243.5L1694.6 2238.8L1696.1 2243.6L1697.6 2239.8L1699.2 2239.7L1700.7 2238L1702.2 2235.9L1703.8 2237.1L1705.3 2234.1L1706.8 2233.2L1708.4 2232.5L1709.9 2234.6L1711.4 2234.4L1713 2235.2L1714.5 2235.4L1716 2236.7L1717.6 2235.1L1719.1 2234.8L1720.7 2232.7L1722.2 2233.3L1723.7 2233.7L1725.3 2234.5L1726.8 2234.5L1728.3 2236.3L1729.9 2237.7L1731.4 2239.6L1732.9 2238.2L1734.5 2239.4L1736 2242.1L1737.5 2242L1737.5 2251.9L1736 2250L1734.5 2248.1L1732.9 2248.9L1731.4 2247.2L1729.9 2245.5L1728.3 2245.9L1726.8 2245.7L1725.3 2243.9L1723.7 2243.8L1722.2 2242.7L1720.7 2244.4L1719.1 2245.5L1717.6 2247L1716 2243.6L1714.5 2244.6L1713 2243.7L1711.4 2242.2L1709.9 2242.7L1708.4 2244.1L1706.8 2244.8L1705.3 2244.4L1703.8 2244.4L1702.2 2247.7L1700.7 2247.9L1699.2 2247.8L1697.6 2249.3L1696.1 2251L1694.6 2250.4L1693 2250.3L1691.5 2254.8L1689.9 2254.2L1688.4 2254.3L1686.9 2256.2L1685.3 2257.4L1683.8 2258.9L1682.3 2262.5L1680.7 2268.5L1679.2 2272.3L1677.7 2276L1676.1 2279.8L1674.6 2281.7L1673.1 2279L1671.5 2283.8L1670 2284.1L1668.5 2287.6L1666.9 2286.8L1665.4 2285.8L1663.8 2285.5L1662.3 2286.2L1660.8 2286.8L1659.2 2287.5L1657.7 2286.6L1656.2 2289.4L1654.6 2287.5L1653.1 2285.2L1651.6 2286.5L1650 2284.8L1648.5 2284.3L1647 2284.8L1645.4 2284.3L1643.9 2285.2L1642.4 2282.7L1640.8 2282.9L1639.3 2283.1L1637.7 2283.4L1636.2 2285.1L1634.7 2284.6L1633.1 2287.3L1631.6 2293.7L1630.1 2294.5L1628.5 2296.4L1627 2300.5L1625.5 2302.8L1623.9 2302.6L1622.4 2303.4L1620.9 2304L1619.3 2301L1617.8 2298.8L1616.3 2300.7L1614.7 2298.7L1613.2 2296.6L1611.6 2295.3L1610.1 2294.5L1608.6 2294.3L1607 2294.1L1605.5 2292.8L1604 2293.5L1602.4 2291.6L1600.9 2290.6L1599.4 2288.1L1597.8 2286.4L1596.3 2287.2L1594.8 2286.2L1593.2 2285.6L1591.7 2283.7L1590.2 2284.8L1588.6 2282.4L1587.1 2277.6L1585.5 2280L1584 2280.3L1582.5 2278.7L1580.9 2280.5L1579.4 2279L1577.9 2277.5L1576.3 2276.1L1574.8 2278.4L1573.3 2276.3L1571.7 2274L1570.2 2274.3L1568.7 2271.3L1567.1 2272.3L1565.6 2272.1L1564 2270.9L1562.5 2273.6L1561 2269.3L1559.4 2271.1L1557.9 2268.8L1556.4 2271.2L1554.8 2270.9L1553.3 2271.1L1551.8 2265.8L1550.2 2266.1L1548.7 2267.7L1547.2 2268.3L1545.6 2266.6L1544.1 2265.5L1542.6 2265.6L1541 2264.3L1539.5 2261.8L1537.9 2263.2L1536.4 2263.2L1534.9 2264.3L1533.3 2263.1L1531.8 2264.7L1530.3 2266L1528.7 2265.4L1527.2 2266.7L1525.7 2264.7L1524.1 2261.7L1522.6 2261.7L1521.1 2261.3L1519.5 2261.8L1518 2261L1516.5 2263.5L1514.9 2261.6L1513.4 2260.9L1511.8 2259.8L1510.3 2258.2L1508.8 2259.4L1507.2 2254.7L1505.7 2253.5L1504.2 2254.3L1502.6 2255.9L1501.1 2256.7L1499.6 2258.5L1498 2259.3L1496.5 2258.9L1495 2259.5L1493.4 2258.7L1491.9 2258.9L1490.4 2259.1L1488.8 2260.4L1487.3 2256.4L1485.7 2258.8L1484.2 2255.3L1482.7 2254.7L1481.1 2253.9L1479.6 2254.4L1478.1 2255.3L1476.5 2255.5L1475 2253.9Z" fill="#c6f2c6" opacity="0.8"/>
<path d="M1475 2248.4L1476.5 2249.6L1478.1 2250.5L1479.6 2250.4L1481.1 2250.2L1482.7 2250.9L1484.2 2252L1485.7 2253.3L1487.3 2253.4L1488.8 2254.5L1490.4 2255.1L1491.9 2254.3L1493.4 2254.1L1495 2254.7L1496.5 2256L1498 2253.7L1499.6 2254.1L1501.1 2253.1L1502.6 2251.4L1504.2 2250.8L1505.7 2249.9L1507.2 2251.7L1508.8 2255L1510.3 2255.2L1511.8 2255.3L1513.4 2256.2L1514.9 2256.8L1516.5 2259.4L1518 2258L1519.5 2257.2L1521.1 2258.3L1522.6 2257.4L1524.1 2258.5L1525.7 2260.6L1527.2 2260.6L1528.7 2262.2L1530.3 2260.8L1531.8 2261.2L1533.3 2259.1L1534.9 2259.6L1536.4 2259.8L1537.9 2259.1L1539.5 2257.5L1541 2260.8L1542.6 2259.7L1544.1 2261.6L1545.6 2262L1547.2 2263.5L1548.7 2262.2L1550.2 2261.4L1551.8 2262.8L1553.3 2265.2L1554.8 2265L1556.4 2265.9L1557.9 2265.6L1559.4 2265.9L1561 2266L1562.5 2267.6L1564 2267.7L1565.6 2268.3L1567.1 2267.7L1568.7 2267.9L1570.2 2269.4L1571.7 2270.9L1573.3 2272.3L1574.8 2273.3L1576.3 2272.9L1577.9 2273.9L1579.4 2273.9L1580.9 2274.4L1582.5 2275.5L1584 2275.7L1585.5 2274.4L1587.1 2274.5L1588.6 2278.4L1590.2 2279L1591.7 2279.9L1593.2 2280.4L1594.8 2281.2L1596.3 2283.8L1597.8 2283L1599.4 2284.8L1600.9 2284.9L1602.4 2286.4L1604 2289.6L1605.5 2289.7L1607 2288.7L1608.6 2289.6L1610.1 2290.2L1611.6 2291.7L1613.2 2293.6L1614.7 2294.1L1616.3 2294.8L1617.8 2295.8L1619.3 2297.2L1620.9 2298.8L1622.4 2298.7L1623.9 2298.6L1625.5 2298.2L1627 2296.7L1628.5 2292.9L1630.1 2290.8L1631.6 2288.2L1633.1 2284.2L1634.7 2281.5L1636.2 2279.5L1637.7 2279.7L1639.3 2278.3L1640.8 2279.4L1642.4 2279.4L1643.9 2280.4L1645.4 2281L1647 2280.4L1648.5 2281.3L1650 2281.6L1651.6 2283L1653.1 2281L1654.6 2282.4L1656.2 2285.1L1657.7 2282.4L1659.2 2281.5L1660.8 2281.7L1662.3 2281.5L1663.8 2280.4L1665.4 2281.6L1666.9 2280.7L1668.5 2282.3L1670 2280L1671.5 2279.6L1673.1 2276L1674.6 2276.5L1676.1 2274.2L1677.7 2271.9L1679.2 2269.3L1680.7 2264.1L1682.3 2257L1683.8 2254.3L1685.3 2251.7L1686.9 2251.2L1688.4 2250.9L1689.9 2249.3L1691.5 2249.6L1693 2246.9L1694.6 2244.6L1696.1 2247.3L1697.6 2244.6L1699.2 2243.8L1700.7 2242.9L1702.2 2241.8L1703.8 2240.8L1705.3 2239.3L1706.8 2239L1708.4 2238.3L1709.9 2238.6L1711.4 2238.3L1713 2239.4L1714.5 2240L1716 2240.1L1717.6 2241.1L1719.1 2240.2L1720.7 2238.6L1722.2 2238L1723.7 2238.8L1725.3 2239.2L1726.8 2240.1L1728.3 2241.1L1729.9 2241.6L1731.4 2243.4L1732.9 2243.5L1734.5 2243.7L1736 2246.1L1737.5 2246.9" stroke="#1a7d1a" stroke-width="2.9" fill="none" stroke-linejoin="round"/>
<path d="M1475 2248.5L1476.5 2248.3L1478.1 2245.2L1479.6 2250L1481.1 2248.4L1482.7 2252.6L1484.2 2252.1L1485.7 2253.9L1487.3 2250.5L1488.8 2252.4L1490.4 2251.2L1491.9 2251.6L1493.4 2250.5L1495 2248.5L1496.5 2248.2L1498 2250.3L1499.6 2250.4L1501.1 2250.8L1502.6 2251.8L1504.2 2253.4L1505.7 2254.6L1507.2 2253.6L1508.8 2252.7L1510.3 2256.4L1511.8 2251.9L1513.4 2252.3L1514.9 2252.1L1516.5 2251.9L1518 2250.8L1519.5 2248.6L1521.1 2248.2L1522.6 2247L1524.1 2246.8L1525.7 2244.6L1527.2 2244.4L1528.7 2244.4L1530.3 2244.8L1531.8 2245.1L1533.3 2247.1L1534.9 2248.2L1536.4 2249.5L1537.9 2248.6L1539.5 2249.5L1541 2253L1542.6 2252.8L1544.1 2254.4L1545.6 2255.7L1547.2 2256.6L1548.7 2258.9L1550.2 2258.6L1551.8 2258.7L1553.3 2259.3L1554.8 2258.9L1556.4 2260.1L1557.9 2260.5L1559.4 2262.1L1561 2260.3L1562.5 2259L1564 2260.3L1565.6 2261.5L1567.1 2263L1568.7 2265.7L1570.2 2265.4L1571.7 2264.9L1573.3 2266.3L1574.8 2269L1576.3 2266.3L1577.9 2265L1579.4 2262.9L1580.9 2262.2L1582.5 2259.8L1584 2257.7L1585.5 2259.4L1587.1 2258.1L1588.6 2258.5L1590.2 2260.5L1591.7 2259.1L1593.2 2259.8L1594.8 2261.7L1596.3 2259.4L1597.8 2259.7L1599.4 2258.9L1600.9 2257.5L1602.4 2252.3L1604 2252.5L1605.5 2252.9L1607 2252.9L1608.6 2251.4L1610.1 2251.7L1611.6 2253.6L1613.2 2251.8L1614.7 2254.9L1616.3 2256.1L1617.8 2257.7L1619.3 2258.5L1620.9 2259.4L1622.4 2260L1623.9 2264.1L1625.5 2264.3L1627 2264.8L1628.5 2266L1630.1 2262.8L1631.6 2264.9L1633.1 2265.9L1634.7 2264.3L1636.2 2265.6L1637.7 2264L1639.3 2262.2L1640.8 2260.3L1642.4 2259.6L1643.9 2259L1645.4 2258.2L1647 2257.5L1648.5 2254.2L1650 2252.2L1651.6 2250.4L1653.1 2252.8L1654.6 2247.4L1656.2 2249.1L1657.7 2247.1L1659.2 2248.3L1660.8 2252.5L1662.3 2253.4L1663.8 2251.3L1665.4 2253.8L1666.9 2251.1L1668.5 2251.4L1670 2251.8L1671.5 2254.3L1673.1 2255.2L1674.6 2254.3L1676.1 2255.7L1677.7 2260.3L1679.2 2259.6L1680.7 2262.5L1682.3 2265.9L1683.8 2267L1685.3 2263.9L1686.9 2261.9L1688.4 2260.9L1689.9 2262.1L1691.5 2262.4L1693 2262.4L1694.6 2260.2L1696.1 2262.9L1697.6 2266L1699.2 2265.3L1700.7 2264.2L1702.2 2260.7L1703.8 2264L1705.3 2261.6L1706.8 2264L1708.4 2265.3L1709.9 2268.2L1711.4 2267.5L1713 2271.1L1714.5 2270.3L1716 2267.5L1717.6 2262.1L1719.1 2253.5L1720.7 2250.9L1722.2 2245.5L1723.7 2242.8L1725.3 2242.4L1726.8 2243.6L1728.3 2244.1L1729.9 2246.5L1731.4 2244.6L1732.9 2245.8L1734.5 2246.9L1736 2247.5L1737.5 2251.2L1737.5 2260L1736 2257.4L1734.5 2255.3L1732.9 2253.9L1731.4 2254.8L1729.9 2254.7L1728.3 2253.2L1726.8 2250.9L1725.3 2248.8L1723.7 2251.1L1722.2 2256.6L1720.7 2257.2L1719.1 2264.9L1717.6 2271.1L1716 2279.7L1714.5 2281L1713 2278.2L1711.4 2278.4L1709.9 2277.7L1708.4 2276.7L1706.8 2273.3L1705.3 2273.9L1703.8 2270.1L1702.2 2272L1700.7 2272L1699.2 2271.4L1697.6 2272.6L1696.1 2271.9L1694.6 2272.4L1693 2268.5L1691.5 2270.6L1689.9 2271.1L1688.4 2272.4L1686.9 2274L1685.3 2275.1L1683.8 2273.9L1682.3 2272.7L1680.7 2270.9L1679.2 2270.8L1677.7 2266.4L1676.1 2264.5L1674.6 2262.6L1673.1 2262.3L1671.5 2260.4L1670 2262.6L1668.5 2262.7L1666.9 2261.3L1665.4 2261L1663.8 2263.2L1662.3 2260.9L1660.8 2258.5L1659.2 2258L1657.7 2257.5L1656.2 2255.7L1654.6 2257.4L1653.1 2259.3L1651.6 2262.6L1650 2264.4L1648.5 2262.7L1647 2266L1645.4 2265.6L1643.9 2269.3L1642.4 2268.3L1640.8 2268.1L1639.3 2268.2L1637.7 2272.6L1636.2 2272.2L1634.7 2272.7L1633.1 2272.7L1631.6 2273.7L1630.1 2274.7L1628.5 2273.5L1627 2274.4L1625.5 2273.5L1623.9 2270.2L1622.4 2272L1620.9 2268.6L1619.3 2264.5L1617.8 2266.3L1616.3 2265.3L1614.7 2261.7L1613.2 2263L1611.6 2260.6L1610.1 2260.7L1608.6 2262.7L1607 2259.3L1605.5 2261.1L1604 2262.9L1602.4 2264.2L1600.9 2264.2L1599.4 2264.8L1597.8 2269.7L1596.3 2268.2L1594.8 2269.8L1593.2 2268.8L1591.7 2270.3L1590.2 2267.6L1588.6 2267.4L1587.1 2267.9L1585.5 2268.5L1584 2269L1582.5 2270.7L1580.9 2269.7L1579.4 2272.4L1577.9 2275L1576.3 2277.3L1574.8 2275.3L1573.3 2272.5L1571.7 2275.1L1570.2 2274.2L1568.7 2271.7L1567.1 2273.4L1565.6 2270.7L1564 2271.6L1562.5 2268L1561 2267.9L1559.4 2270.1L1557.9 2269.5L1556.4 2270.1L1554.8 2269.9L1553.3 2266.1L1551.8 2267.5L1550.2 2270.6L1548.7 2269.1L1547.2 2265.1L1545.6 2264.9L1544.1 2263L1542.6 2262.2L1541 2260.9L1539.5 2260.6L1537.9 2260.8L1536.4 2258.8L1534.9 2254.5L1533.3 2255.4L1531.8 2254.1L1530.3 2252.1L1528.7 2251.4L1527.2 2253L1525.7 2254.2L1524.1 2255.5L1522.6 2258.7L1521.1 2257.4L1519.5 2258.7L1518 2259.8L1516.5 2262.4L1514.9 2263L1513.4 2263.7L1511.8 2261.6L1510.3 2264.4L1508.8 2264.6L1507.2 2263.1L1505.7 2261L1504.2 2260L1502.6 2259L1501.1 2260.7L1499.6 2261.2L1498 2261.5L1496.5 2260.4L1495 2260L1493.4 2262.3L1491.9 2258.4L1490.4 2258.2L1488.8 2260.3L1487.3 2262.8L1485.7 2261L1484.2 2264L1482.7 2264.3L1481.1 2258.1L1479.6 2256.7L1478.1 2257.4L1476.5 2257.8L1475 2259.5Z" fill="#d0d3fa" opacity="0.8"/>
<path d="M1475 2254L1476.5 2253L1478.1 2251.3L1479.6 2253.4L1481.1 2253.2L1482.7 2258.4L1484.2 2258.1L1485.7 2257.4L1487.3 2256.6L1488.8 2256.4L1490.4 2254.7L1491.9 2255L1493.4 2256.4L1495 2254.3L1496.5 2254.3L1498 2255.9L1499.6 2255.8L1501.1 2255.7L1502.6 2255.4L1504.2 2256.7L1505.7 2257.8L1507.2 2258.3L1508.8 2258.6L1510.3 2260.4L1511.8 2256.7L1513.4 2258L1514.9 2257.6L1516.5 2257.1L1518 2255.3L1519.5 2253.6L1521.1 2252.8L1522.6 2252.9L1524.1 2251.1L1525.7 2249.4L1527.2 2248.7L1528.7 2247.9L1530.3 2248.5L1531.8 2249.6L1533.3 2251.3L1534.9 2251.3L1536.4 2254.1L1537.9 2254.7L1539.5 2255L1541 2257L1542.6 2257.5L1544.1 2258.7L1545.6 2260.3L1547.2 2260.8L1548.7 2264L1550.2 2264.6L1551.8 2263.1L1553.3 2262.7L1554.8 2264.4L1556.4 2265.1L1557.9 2265L1559.4 2266.1L1561 2264.1L1562.5 2263.5L1564 2266L1565.6 2266.1L1567.1 2268.2L1568.7 2268.7L1570.2 2269.8L1571.7 2270L1573.3 2269.4L1574.8 2272.1L1576.3 2271.8L1577.9 2270L1579.4 2267.7L1580.9 2266L1582.5 2265.2L1584 2263.4L1585.5 2263.9L1587.1 2263L1588.6 2263L1590.2 2264.1L1591.7 2264.7L1593.2 2264.3L1594.8 2265.8L1596.3 2263.8L1597.8 2264.7L1599.4 2261.9L1600.9 2260.9L1602.4 2258.3L1604 2257.7L1605.5 2257L1607 2256.1L1608.6 2257.1L1610.1 2256.2L1611.6 2257.1L1613.2 2257.4L1614.7 2258.3L1616.3 2260.7L1617.8 2262L1619.3 2261.5L1620.9 2264L1622.4 2266L1623.9 2267.2L1625.5 2268.9L1627 2269.6L1628.5 2269.7L1630.1 2268.8L1631.6 2269.3L1633.1 2269.3L1634.7 2268.5L1636.2 2268.9L1637.7 2268.3L1639.3 2265.2L1640.8 2264.2L1642.4 2263.9L1643.9 2264.2L1645.4 2261.9L1647 2261.8L1648.5 2258.4L1650 2258.3L1651.6 2256.5L1653.1 2256L1654.6 2252.4L1656.2 2252.4L1657.7 2252.3L1659.2 2253.2L1660.8 2255.5L1662.3 2257.1L1663.8 2257.2L1665.4 2257.4L1666.9 2256.2L1668.5 2257.1L1670 2257.2L1671.5 2257.4L1673.1 2258.7L1674.6 2258.4L1676.1 2260.1L1677.7 2263.4L1679.2 2265.2L1680.7 2266.7L1682.3 2269.3L1683.8 2270.4L1685.3 2269.5L1686.9 2268L1688.4 2266.6L1689.9 2266.6L1691.5 2266.5L1693 2265.5L1694.6 2266.3L1696.1 2267.4L1697.6 2269.3L1699.2 2268.4L1700.7 2268.1L1702.2 2266.4L1703.8 2267L1705.3 2267.7L1706.8 2268.7L1708.4 2271L1709.9 2273L1711.4 2273L1713 2274.7L1714.5 2275.7L1716 2273.6L1717.6 2266.6L1719.1 2259.2L1720.7 2254.1L1722.2 2251L1723.7 2246.9L1725.3 2245.6L1726.8 2247.2L1728.3 2248.6L1729.9 2250.6L1731.4 2249.7L1732.9 2249.8L1734.5 2251.1L1736 2252.4L1737.5 2255.6" stroke="#0b24e0" stroke-width="2.9" fill="none" stroke-linejoin="round"/>
<path d="M1475 2258.1L1476.5 2257.9L1478.1 2255L1479.6 2255.5L1481.1 2255.6L1482.7 2256.5L1484.2 2255.8L1485.7 2254.9L1487.3 2257.2L1488.8 2256.6L1490.4 2257.2L1491.9 2254.3L1493.4 2255.2L1495 2254.6L1496.5 2253.6L1498 2253L1499.6 2255.6L1501.1 2257.1L1502.6 2256.7L1504.2 2258L1505.7 2259.3L1507.2 2257.6L1508.8 2259.9L1510.3 2261.4L1511.8 2262.6L1513.4 2265.5L1514.9 2266.7L1516.5 2270.1L1518 2272.9L1519.5 2273.2L1521.1 2270.4L1522.6 2269L1524.1 2267.3L1525.7 2267.2L1527.2 2266.2L1528.7 2264.7L1530.3 2264.7L1531.8 2268.3L1533.3 2268.8L1534.9 2269L1536.4 2268L1537.9 2269.1L1539.5 2268L1541 2267.2L1542.6 2265.8L1544.1 2266.9L1545.6 2269.5L1547.2 2271.1L1548.7 2269.7L1550.2 2269.4L1551.8 2271.1L1553.3 2272.5L1554.8 2271.8L1556.4 2269.4L1557.9 2271.9L1559.4 2267.9L1561 2266L1562.5 2265.4L1564 2268.7L1565.6 2268.4L1567.1 2270.1L1568.7 2269.4L1570.2 2270.1L1571.7 2272.1L1573.3 2272.1L1574.8 2273.3L1576.3 2269.5L1577.9 2269.2L1579.4 2269.6L1580.9 2271.4L1582.5 2269.7L1584 2269.8L1585.5 2271.1L1587.1 2273.2L1588.6 2276.2L1590.2 2279.4L1591.7 2276.6L1593.2 2276.8L1594.8 2281L1596.3 2279.6L1597.8 2282.5L1599.4 2284.7L1600.9 2285.4L1602.4 2286L1604 2284.9L1605.5 2286.1L1607 2286.8L1608.6 2291.3L1610.1 2292.2L1611.6 2296.1L1613.2 2297.3L1614.7 2299.2L1616.3 2299.2L1617.8 2302.1L1619.3 2303.4L1620.9 2306.2L1622.4 2305.3L1623.9 2308.6L1625.5 2308.8L1627 2305.6L1628.5 2304.3L1630.1 2303.8L1631.6 2298L1633.1 2295.9L1634.7 2293.8L1636.2 2292.7L1637.7 2285.3L1639.3 2283.7L1640.8 2281.3L1642.4 2275.1L1643.9 2270.6L1645.4 2266.1L1647 2263.3L1648.5 2264.9L1650 2263.1L1651.6 2261L1653.1 2261.3L1654.6 2260.6L1656.2 2259.9L1657.7 2261.5L1659.2 2261.6L1660.8 2260.5L1662.3 2255.9L1663.8 2258.7L1665.4 2257.3L1666.9 2253.1L1668.5 2251.3L1670 2249.5L1671.5 2249.1L1673.1 2245L1674.6 2244.8L1676.1 2244.2L1677.7 2245.6L1679.2 2244.1L1680.7 2245.8L1682.3 2243.9L1683.8 2243L1685.3 2240.3L1686.9 2239L1688.4 2236.5L1689.9 2231L1691.5 2232.4L1693 2229.9L1694.6 2231.5L1696.1 2233.4L1697.6 2237.7L1699.2 2236L1700.7 2236.4L1702.2 2234.1L1703.8 2236.1L1705.3 2236.9L1706.8 2240.3L1708.4 2242.5L1709.9 2243.5L1711.4 2242.1L1713 2242.1L1714.5 2244.5L1716 2241.5L1717.6 2239.7L1719.1 2240.8L1720.7 2244.5L1722.2 2249.6L1723.7 2249.3L1725.3 2250.4L1726.8 2249.3L1728.3 2251.3L1729.9 2248.6L1731.4 2250.4L1732.9 2254.6L1734.5 2254.3L1736 2252.5L1737.5 2252.1L1737.5 2260.2L1736 2264.2L1734.5 2262L1732.9 2262L1731.4 2262.2L1729.9 2259.8L1728.3 2257.5L1726.8 2259.3L1725.3 2258.1L1723.7 2260.7L1722.2 2256.4L1720.7 2255.3L1719.1 2250.2L1717.6 2249.3L1716 2248.6L1714.5 2250.9L1713 2254.1L1711.4 2252.6L1709.9 2249.4L1708.4 2248.9L1706.8 2247.8L1705.3 2249.1L1703.8 2243.8L1702.2 2244.9L1700.7 2243.2L1699.2 2246.3L1697.6 2246.2L1696.1 2244.7L1694.6 2241.9L1693 2241.9L1691.5 2240.2L1689.9 2243.3L1688.4 2247L1686.9 2247.1L1685.3 2250.1L1683.8 2251.1L1682.3 2255.2L1680.7 2252.8L1679.2 2253.2L1677.7 2252.3L1676.1 2252.5L1674.6 2251.9L1673.1 2254.6L1671.5 2256.1L1670 2257L1668.5 2260.2L1666.9 2264.3L1665.4 2264.4L1663.8 2265.1L1662.3 2267.7L1660.8 2267.4L1659.2 2270L1657.7 2271.7L1656.2 2271.3L1654.6 2269.9L1653.1 2269.3L1651.6 2273L1650 2272.2L1648.5 2272.1L1647 2274.4L1645.4 2275L1643.9 2279.6L1642.4 2287L1640.8 2289.1L1639.3 2293.2L1637.7 2297L1636.2 2299.5L1634.7 2304.3L1633.1 2305.9L1631.6 2310.1L1630.1 2310.7L1628.5 2311.2L1627 2313.6L1625.5 2316.7L1623.9 2315L1622.4 2316.9L1620.9 2314.7L1619.3 2310.7L1617.8 2309.7L1616.3 2310.1L1614.7 2306.3L1613.2 2306.2L1611.6 2302.1L1610.1 2299.9L1608.6 2300.5L1607 2299L1605.5 2292.4L1604 2294.7L1602.4 2295.4L1600.9 2295.5L1599.4 2293.1L1597.8 2289.1L1596.3 2289.8L1594.8 2287.9L1593.2 2287.9L1591.7 2287.3L1590.2 2285.9L1588.6 2283.3L1587.1 2280.6L1585.5 2282.2L1584 2279.1L1582.5 2280.9L1580.9 2278.8L1579.4 2278.4L1577.9 2279.3L1576.3 2280.6L1574.8 2282.2L1573.3 2282.3L1571.7 2281.8L1570.2 2280.2L1568.7 2279.5L1567.1 2276.1L1565.6 2276.7L1564 2276.6L1562.5 2277.5L1561 2278.2L1559.4 2279.7L1557.9 2281.3L1556.4 2279.7L1554.8 2278.5L1553.3 2280L1551.8 2278.4L1550.2 2280.3L1548.7 2278.5L1547.2 2278.6L1545.6 2281.3L1544.1 2278.1L1542.6 2277.7L1541 2277.8L1539.5 2276.6L1537.9 2277.4L1536.4 2276.8L1534.9 2275.8L1533.3 2276.9L1531.8 2274.3L1530.3 2276.6L1528.7 2273.6L1527.2 2274.8L1525.7 2277.9L1524.1 2275.7L1522.6 2275.1L1521.1 2278.8L1519.5 2279.2L1518 2280.9L1516.5 2279.1L1514.9 2275.5L1513.4 2274.1L1511.8 2274.7L1510.3 2271.3L1508.8 2270.3L1507.2 2268.5L1505.7 2266L1504.2 2266.1L1502.6 2265.4L1501.1 2264.5L1499.6 2262.4L1498 2265L1496.5 2262.3L1495 2261.2L1493.4 2264.8L1491.9 2265.9L1490.4 2263.5L1488.8 2267L1487.3 2266.8L1485.7 2266.9L1484.2 2264.5L1482.7 2265.3L1481.1 2267.5L1479.6 2266.2L1478.1 2266.3L1476.5 2265.2L1475 2266.2Z" fill="#fbc9c9" opacity="0.8"/>
<path d="M1475 2262.2L1476.5 2261.6L1478.1 2260.6L1479.6 2260.9L1481.1 2261.5L1482.7 2260.9L1484.2 2260.1L1485.7 2260.9L1487.3 2262L1488.8 2261.8L1490.4 2260.3L1491.9 2260.1L1493.4 2260L1495 2257.9L1496.5 2258L1498 2259L1499.6 2259L1501.1 2260.8L1502.6 2261.1L1504.2 2262.1L1505.7 2262.6L1507.2 2263L1508.8 2265.1L1510.3 2266.3L1511.8 2268.7L1513.4 2269.8L1514.9 2271.1L1516.5 2274.6L1518 2276.9L1519.5 2276.2L1521.1 2274.6L1522.6 2272.1L1524.1 2271.5L1525.7 2272.5L1527.2 2270.5L1528.7 2269.2L1530.3 2270.7L1531.8 2271.3L1533.3 2272.8L1534.9 2272.4L1536.4 2272.4L1537.9 2273.2L1539.5 2272.3L1541 2272.5L1542.6 2271.7L1544.1 2272.5L1545.6 2275.4L1547.2 2274.8L1548.7 2274.1L1550.2 2274.8L1551.8 2274.8L1553.3 2276.2L1554.8 2275.1L1556.4 2274.6L1557.9 2276.6L1559.4 2273.8L1561 2272.1L1562.5 2271.5L1564 2272.7L1565.6 2272.5L1567.1 2273.1L1568.7 2274.5L1570.2 2275.2L1571.7 2277L1573.3 2277.2L1574.8 2277.8L1576.3 2275.1L1577.9 2274.2L1579.4 2274L1580.9 2275.1L1582.5 2275.3L1584 2274.4L1585.5 2276.6L1587.1 2276.9L1588.6 2279.8L1590.2 2282.7L1591.7 2282L1593.2 2282.4L1594.8 2284.5L1596.3 2284.7L1597.8 2285.8L1599.4 2288.9L1600.9 2290.5L1602.4 2290.7L1604 2289.8L1605.5 2289.3L1607 2292.9L1608.6 2295.9L1610.1 2296L1611.6 2299.1L1613.2 2301.8L1614.7 2302.8L1616.3 2304.7L1617.8 2305.9L1619.3 2307L1620.9 2310.4L1622.4 2311.1L1623.9 2311.8L1625.5 2312.7L1627 2309.6L1628.5 2307.8L1630.1 2307.3L1631.6 2304.1L1633.1 2300.9L1634.7 2299L1636.2 2296.1L1637.7 2291.2L1639.3 2288.4L1640.8 2285.2L1642.4 2281L1643.9 2275.1L1645.4 2270.6L1647 2268.8L1648.5 2268.5L1650 2267.7L1651.6 2267L1653.1 2265.3L1654.6 2265.3L1656.2 2265.6L1657.7 2266.6L1659.2 2265.8L1660.8 2263.9L1662.3 2261.8L1663.8 2261.9L1665.4 2260.9L1666.9 2258.7L1668.5 2255.8L1670 2253.3L1671.5 2252.6L1673.1 2249.8L1674.6 2248.4L1676.1 2248.3L1677.7 2248.9L1679.2 2248.6L1680.7 2249.3L1682.3 2249.6L1683.8 2247L1685.3 2245.2L1686.9 2243L1688.4 2241.8L1689.9 2237.2L1691.5 2236.3L1693 2235.9L1694.6 2236.7L1696.1 2239.1L1697.6 2241.9L1699.2 2241.1L1700.7 2239.8L1702.2 2239.5L1703.8 2240L1705.3 2243L1706.8 2244L1708.4 2245.7L1709.9 2246.5L1711.4 2247.4L1713 2248.1L1714.5 2247.7L1716 2245L1717.6 2244.5L1719.1 2245.5L1720.7 2249.9L1722.2 2253L1723.7 2255L1725.3 2254.3L1726.8 2254.3L1728.3 2254.4L1729.9 2254.2L1731.4 2256.3L1732.9 2258.3L1734.5 2258.1L1736 2258.4L1737.5 2256.2" stroke="#ed1c24" stroke-width="2.9" fill="none" stroke-linejoin="round"/>
<text x="1480.3" y="2372" text-anchor="middle" fill="#1c1c1c" font-size="23.5">-6</text>
<text x="1603.8" y="2372" text-anchor="middle" fill="#1c1c1c" font-size="23.5">0</text>
<text x="1734.4" y="2372" text-anchor="middle" fill="#1c1c1c" font-size="23.5">6</text>
<path d="M1755.9 2084.1V2340.6M1755.9 2084.1h-6.5M1755.9 2169.6h-6.5M1755.9 2254.8h-6.5M1755.9 2340.6h-6.5" stroke="#1f1f1f" stroke-width="1.8" fill="none"/>
<path d="M1755.9 2340.6H2019.4M1755.9 2340.6v8M1887.7 2340.6v8M1909.6 2340.6v8M1953.5 2340.6v8M2019.4 2340.6v8" stroke="#1f1f1f" stroke-width="1.8" fill="none"/>
<path d="M1887.7 2089L1887.7 2340" stroke="#111" stroke-width="1.6" stroke-dasharray="8 6.5"/>
<path d="M1755.9 2268.6L1757.4 2265.4L1759 2266.6L1760.5 2270.4L1762 2268.6L1763.6 2267.3L1765.1 2268.6L1766.7 2266.7L1768.2 2263.4L1769.7 2268.4L1771.3 2265.3L1772.8 2266.5L1774.3 2264.7L1775.9 2264.3L1777.4 2262.6L1779 2263.5L1780.5 2265.1L1782 2264L1783.6 2262.9L1785.1 2266.5L1786.6 2267.4L1788.2 2265.2L1789.7 2264.1L1791.3 2265.2L1792.8 2266.5L1794.3 2266.2L1795.9 2266.9L1797.4 2267.6L1798.9 2266.7L1800.5 2265.8L1802 2266.3L1803.5 2264.3L1805.1 2263.4L1806.6 2263.4L1808.2 2263.9L1809.7 2261.5L1811.2 2264.4L1812.8 2260.9L1814.3 2260L1815.8 2259.4L1817.4 2260.2L1818.9 2257.3L1820.5 2256.8L1822 2257.8L1823.5 2257.4L1825.1 2256.9L1826.6 2253.6L1828.1 2252.7L1829.7 2253.3L1831.2 2252.6L1832.8 2247.4L1834.3 2243.8L1835.8 2243.4L1837.4 2241L1838.9 2233.9L1840.4 2233.3L1842 2234.2L1843.5 2237.6L1845.1 2235.2L1846.6 2235.1L1848.1 2236.9L1849.7 2234L1851.2 2237.8L1852.7 2234.4L1854.3 2233L1855.8 2233.9L1857.3 2230.3L1858.9 2230.9L1860.4 2227.3L1862 2227.5L1863.5 2224.2L1865 2224.4L1866.6 2230.8L1868.1 2229.9L1869.6 2231.9L1871.2 2234.5L1872.7 2238.9L1874.3 2242.6L1875.8 2242.3L1877.3 2243.8L1878.9 2244.5L1880.4 2244.5L1881.9 2240.3L1883.5 2233.8L1885 2225.9L1886.6 2216.3L1888.1 2204.9L1889.6 2199.9L1891.2 2194L1892.7 2188.2L1894.2 2180.8L1895.8 2171.9L1897.3 2169.2L1898.8 2163.3L1900.4 2163.2L1901.9 2157.1L1903.5 2155.1L1905 2157.9L1906.5 2163.1L1908.1 2171.2L1909.6 2176.9L1911.1 2180.7L1912.7 2187.4L1914.2 2189.6L1915.8 2198L1917.3 2201.6L1918.8 2204.3L1920.4 2208.5L1921.9 2212L1923.4 2215.1L1925 2212.7L1926.5 2213.6L1928.1 2215.2L1929.6 2217.4L1931.1 2223.1L1932.7 2224.4L1934.2 2222.5L1935.7 2225.7L1937.3 2228.7L1938.8 2225.3L1940.4 2228.5L1941.9 2229L1943.4 2231.5L1945 2232.3L1946.5 2236.6L1948 2235.1L1949.6 2238.8L1951.1 2240.5L1952.6 2240.7L1954.2 2247L1955.7 2247.1L1957.3 2245.9L1958.8 2244.9L1960.3 2247.9L1961.9 2248.4L1963.4 2251.5L1964.9 2253.5L1966.5 2256.3L1968 2259.7L1969.6 2260L1971.1 2262L1972.6 2264.2L1974.2 2261.8L1975.7 2266.3L1977.2 2264.7L1978.8 2263.2L1980.3 2262.2L1981.9 2265.6L1983.4 2266.4L1984.9 2268.4L1986.5 2270L1988 2267.6L1989.5 2267L1991.1 2265.5L1992.6 2266.9L1994.1 2268.5L1995.7 2269.1L1997.2 2268.1L1998.8 2272.9L2000.3 2275L2001.8 2275.1L2003.4 2276.9L2004.9 2277.8L2006.4 2278.1L2008 2281L2009.5 2283L2011.1 2282.1L2012.6 2282.7L2014.1 2283.2L2015.7 2282.7L2017.2 2283.6L2018.7 2284.1L2018.7 2294.3L2017.2 2295L2015.7 2294.4L2014.1 2292.7L2012.6 2292.5L2011.1 2293.1L2009.5 2290.1L2008 2290L2006.4 2287.1L2004.9 2284.3L2003.4 2284.7L2001.8 2284.5L2000.3 2282.6L1998.8 2280.4L1997.2 2277.6L1995.7 2279.4L1994.1 2277.1L1992.6 2275.7L1991.1 2277.1L1989.5 2276.9L1988 2277.6L1986.5 2276.2L1984.9 2276.5L1983.4 2277.7L1981.9 2273.8L1980.3 2272.8L1978.8 2274.9L1977.2 2276.7L1975.7 2274L1974.2 2271.4L1972.6 2271.3L1971.1 2271.3L1969.6 2272L1968 2266.2L1966.5 2262.9L1964.9 2263.2L1963.4 2260L1961.9 2258.9L1960.3 2257.1L1958.8 2256.3L1957.3 2255.7L1955.7 2255.2L1954.2 2252.9L1952.6 2249.3L1951.1 2249.1L1949.6 2245.9L1948 2243.5L1946.5 2242.9L1945 2242.3L1943.4 2238L1941.9 2237.9L1940.4 2237.6L1938.8 2236.5L1937.3 2234.8L1935.7 2236.5L1934.2 2232.1L1932.7 2233.7L1931.1 2231.2L1929.6 2229.3L1928.1 2226L1926.5 2223L1925 2224.1L1923.4 2222.1L1921.9 2218.1L1920.4 2217.7L1918.8 2214.3L1917.3 2210.8L1915.8 2207.1L1914.2 2201.6L1912.7 2193.6L1911.1 2192L1909.6 2184.6L1908.1 2179.3L1906.5 2173.8L1905 2166L1903.5 2164.8L1901.9 2168.7L1900.4 2171.4L1898.8 2175.2L1897.3 2177L1895.8 2182.1L1894.2 2188.2L1892.7 2194.7L1891.2 2201.4L1889.6 2208.4L1888.1 2214.6L1886.6 2224.3L1885 2234.4L1883.5 2243.2L1881.9 2248L1880.4 2250.8L1878.9 2255.7L1877.3 2254.9L1875.8 2254L1874.3 2249L1872.7 2248.2L1871.2 2243.1L1869.6 2240.9L1868.1 2241.8L1866.6 2237.2L1865 2235.7L1863.5 2235.7L1862 2233.8L1860.4 2238.9L1858.9 2237.3L1857.3 2241.9L1855.8 2243.8L1854.3 2243.7L1852.7 2244.5L1851.2 2243.9L1849.7 2245.4L1848.1 2244.1L1846.6 2245.8L1845.1 2243.1L1843.5 2245.7L1842 2244.6L1840.4 2245.4L1838.9 2242.9L1837.4 2247.6L1835.8 2251L1834.3 2255.9L1832.8 2257.9L1831.2 2260.4L1829.7 2262.8L1828.1 2264.4L1826.6 2265.2L1825.1 2265.9L1823.5 2265.4L1822 2265.7L1820.5 2265.1L1818.9 2264.6L1817.4 2268.6L1815.8 2271.2L1814.3 2270.2L1812.8 2271.2L1811.2 2270.5L1809.7 2273.6L1808.2 2271.4L1806.6 2273.8L1805.1 2274.5L1803.5 2272.5L1802 2273.6L1800.5 2274.1L1798.9 2273.2L1797.4 2275.5L1795.9 2275.6L1794.3 2275.7L1792.8 2275.6L1791.3 2276.1L1789.7 2275.7L1788.2 2275.1L1786.6 2273.5L1785.1 2272.8L1783.6 2273.9L1782 2272.1L1780.5 2271.8L1779 2274.3L1777.4 2272.7L1775.9 2273.3L1774.3 2273.3L1772.8 2273.6L1771.3 2271.9L1769.7 2275.2L1768.2 2273.4L1766.7 2273.4L1765.1 2274.7L1763.6 2274.8L1762 2277.8L1760.5 2277.1L1759 2276.5L1757.4 2275.7L1755.9 2275.5Z" fill="#c6f2c6" opacity="0.8"/>
<path d="M1755.9 2272.1L1757.4 2270.5L1759 2271.6L1760.5 2273.8L1762 2273.2L1763.6 2271L1765.1 2271.7L1766.7 2270.1L1768.2 2268.4L1769.7 2271.8L1771.3 2268.6L1772.8 2270.1L1774.3 2269L1775.9 2268.8L1777.4 2267.6L1779 2268.9L1780.5 2268.4L1782 2268.1L1783.6 2268.4L1785.1 2269.6L1786.6 2270.5L1788.2 2270.1L1789.7 2269.9L1791.3 2270.6L1792.8 2271.1L1794.3 2270.9L1795.9 2271.3L1797.4 2271.6L1798.9 2270L1800.5 2269.9L1802 2269.9L1803.5 2268.4L1805.1 2269L1806.6 2268.6L1808.2 2267.7L1809.7 2267.6L1811.2 2267.4L1812.8 2266L1814.3 2265.1L1815.8 2265.3L1817.4 2264.4L1818.9 2260.9L1820.5 2261L1822 2261.7L1823.5 2261.4L1825.1 2261.4L1826.6 2259.4L1828.1 2258.5L1829.7 2258L1831.2 2256.5L1832.8 2252.7L1834.3 2249.8L1835.8 2247.2L1837.4 2244.3L1838.9 2238.4L1840.4 2239.3L1842 2239.4L1843.5 2241.6L1845.1 2239.1L1846.6 2240.5L1848.1 2240.5L1849.7 2239.7L1851.2 2240.8L1852.7 2239.4L1854.3 2238.3L1855.8 2238.9L1857.3 2236.1L1858.9 2234.1L1860.4 2233.1L1862 2230.7L1863.5 2230L1865 2230.1L1866.6 2234L1868.1 2235.9L1869.6 2236.4L1871.2 2238.8L1872.7 2243.5L1874.3 2245.8L1875.8 2248.1L1877.3 2249.3L1878.9 2250.1L1880.4 2247.7L1881.9 2244.1L1883.5 2238.5L1885 2230.2L1886.6 2220.3L1888.1 2209.7L1889.6 2204.2L1891.2 2197.7L1892.7 2191.4L1894.2 2184.5L1895.8 2177L1897.3 2173.1L1898.8 2169.2L1900.4 2167.3L1901.9 2162.9L1903.5 2160L1905 2162L1906.5 2168.5L1908.1 2175.2L1909.6 2180.8L1911.1 2186.3L1912.7 2190.5L1914.2 2195.6L1915.8 2202.6L1917.3 2206.2L1918.8 2209.3L1920.4 2213.1L1921.9 2215.1L1923.4 2218.6L1925 2218.4L1926.5 2218.3L1928.1 2220.6L1929.6 2223.4L1931.1 2227.2L1932.7 2229.1L1934.2 2227.3L1935.7 2231.1L1937.3 2231.8L1938.8 2230.9L1940.4 2233L1941.9 2233.5L1943.4 2234.8L1945 2237.3L1946.5 2239.8L1948 2239.3L1949.6 2242.3L1951.1 2244.8L1952.6 2245L1954.2 2250L1955.7 2251.2L1957.3 2250.8L1958.8 2250.6L1960.3 2252.5L1961.9 2253.6L1963.4 2255.8L1964.9 2258.4L1966.5 2259.6L1968 2263L1969.6 2266L1971.1 2266.6L1972.6 2267.7L1974.2 2266.6L1975.7 2270.1L1977.2 2270.7L1978.8 2269.1L1980.3 2267.5L1981.9 2269.7L1983.4 2272L1984.9 2272.5L1986.5 2273.1L1988 2272.6L1989.5 2272L1991.1 2271.3L1992.6 2271.3L1994.1 2272.8L1995.7 2274.2L1997.2 2272.9L1998.8 2276.6L2000.3 2278.8L2001.8 2279.8L2003.4 2280.8L2004.9 2281.1L2006.4 2282.6L2008 2285.5L2009.5 2286.5L2011.1 2287.6L2012.6 2287.6L2014.1 2288L2015.7 2288.5L2017.2 2289.3L2018.7 2289.2" stroke="#1a7d1a" stroke-width="2.9" fill="none" stroke-linejoin="round"/>
<path d="M1755.9 2256.8L1757.4 2257L1759 2256.1L1760.5 2255L1762 2253.9L1763.6 2253.2L1765.1 2253.6L1766.7 2250.9L1768.2 2249.9L1769.7 2250.3L1771.3 2247.7L1772.8 2245.1L1774.3 2240.8L1775.9 2239.2L1777.4 2238L1779 2236.7L1780.5 2234.9L1782 2236.9L1783.6 2235.9L1785.1 2239.4L1786.6 2242.4L1788.2 2245.4L1789.7 2247.6L1791.3 2242.1L1792.8 2242.1L1794.3 2239.9L1795.9 2241.6L1797.4 2241.4L1798.9 2243.7L1800.5 2242.4L1802 2244.6L1803.5 2246.6L1805.1 2243.6L1806.6 2242.5L1808.2 2244.3L1809.7 2244.2L1811.2 2243.6L1812.8 2244.6L1814.3 2244.6L1815.8 2245.8L1817.4 2249.1L1818.9 2246.4L1820.5 2248.1L1822 2253.2L1823.5 2253.5L1825.1 2252.8L1826.6 2255.2L1828.1 2256.8L1829.7 2258.8L1831.2 2260.6L1832.8 2260.6L1834.3 2264.5L1835.8 2264L1837.4 2266.3L1838.9 2266L1840.4 2269.3L1842 2269.1L1843.5 2267.5L1845.1 2267L1846.6 2265.3L1848.1 2263.9L1849.7 2260.6L1851.2 2260L1852.7 2259.5L1854.3 2254.9L1855.8 2256.7L1857.3 2256.2L1858.9 2253.3L1860.4 2252.7L1862 2252.2L1863.5 2250.2L1865 2253.3L1866.6 2253.1L1868.1 2254.3L1869.6 2253.1L1871.2 2252.7L1872.7 2254.3L1874.3 2255.1L1875.8 2256.1L1877.3 2255.5L1878.9 2257.9L1880.4 2259.7L1881.9 2260.8L1883.5 2258.7L1885 2257.7L1886.6 2262.7L1888.1 2261.6L1889.6 2260.4L1891.2 2264.2L1892.7 2262.2L1894.2 2262.3L1895.8 2262.1L1897.3 2262.5L1898.8 2263.9L1900.4 2264.2L1901.9 2260.5L1903.5 2261.3L1905 2261L1906.5 2259.9L1908.1 2257.7L1909.6 2256.3L1911.1 2254.4L1912.7 2256.2L1914.2 2255.4L1915.8 2256.1L1917.3 2256.6L1918.8 2260.7L1920.4 2258.6L1921.9 2257.9L1923.4 2256.1L1925 2254.8L1926.5 2254.2L1928.1 2252.6L1929.6 2254.5L1931.1 2255.9L1932.7 2250.1L1934.2 2249.8L1935.7 2246.2L1937.3 2243.5L1938.8 2241.8L1940.4 2238.7L1941.9 2238.1L1943.4 2239.7L1945 2243.4L1946.5 2243.9L1948 2245.4L1949.6 2249.8L1951.1 2255.4L1952.6 2257.9L1954.2 2259.8L1955.7 2260.3L1957.3 2263L1958.8 2266.3L1960.3 2265.1L1961.9 2268.3L1963.4 2270.6L1964.9 2269L1966.5 2271L1968 2272.8L1969.6 2274.6L1971.1 2274.9L1972.6 2273.4L1974.2 2273.6L1975.7 2274.6L1977.2 2276.7L1978.8 2276L1980.3 2277.3L1981.9 2273.9L1983.4 2272.8L1984.9 2273.7L1986.5 2273.6L1988 2274.8L1989.5 2272.7L1991.1 2271.7L1992.6 2274.4L1994.1 2276.5L1995.7 2274.8L1997.2 2279.4L1998.8 2277.3L2000.3 2277.9L2001.8 2276.3L2003.4 2275L2004.9 2270.8L2006.4 2270.2L2008 2270.1L2009.5 2269L2011.1 2267.4L2012.6 2264.8L2014.1 2263.7L2015.7 2263.2L2017.2 2263.5L2018.7 2260.3L2018.7 2271.8L2017.2 2271.9L2015.7 2273.4L2014.1 2274.8L2012.6 2277L2011.1 2278.8L2009.5 2277.7L2008 2279.7L2006.4 2280.1L2004.9 2282.4L2003.4 2283.7L2001.8 2286L2000.3 2284.6L1998.8 2289.1L1997.2 2285.8L1995.7 2285.8L1994.1 2284.9L1992.6 2285.3L1991.1 2283L1989.5 2283.9L1988 2283.2L1986.5 2279.9L1984.9 2284L1983.4 2284.3L1981.9 2283.3L1980.3 2286L1978.8 2288.2L1977.2 2285.5L1975.7 2286.8L1974.2 2285.1L1972.6 2282.8L1971.1 2283.7L1969.6 2282.3L1968 2283.2L1966.5 2279.8L1964.9 2280.9L1963.4 2277.9L1961.9 2275.8L1960.3 2275.5L1958.8 2273.1L1957.3 2274.3L1955.7 2272.3L1954.2 2269.5L1952.6 2265.6L1951.1 2264.1L1949.6 2261.4L1948 2255.1L1946.5 2253L1945 2251.5L1943.4 2250.1L1941.9 2246.7L1940.4 2245.5L1938.8 2252L1937.3 2254.7L1935.7 2257.9L1934.2 2259.5L1932.7 2260.9L1931.1 2262.6L1929.6 2262.7L1928.1 2264.2L1926.5 2261.9L1925 2264.9L1923.4 2263.3L1921.9 2265.6L1920.4 2266L1918.8 2266.7L1917.3 2267L1915.8 2265.3L1914.2 2266.5L1912.7 2264.6L1911.1 2264.7L1909.6 2265.1L1908.1 2267.8L1906.5 2267.1L1905 2268.2L1903.5 2268.4L1901.9 2272.1L1900.4 2271.8L1898.8 2275.9L1897.3 2274.5L1895.8 2272.3L1894.2 2268.6L1892.7 2274.1L1891.2 2271.2L1889.6 2270.2L1888.1 2271.4L1886.6 2269.1L1885 2269.4L1883.5 2265.7L1881.9 2268.4L1880.4 2268.9L1878.9 2263.9L1877.3 2267.8L1875.8 2266.7L1874.3 2264.8L1872.7 2261.2L1871.2 2261L1869.6 2262.5L1868.1 2260.5L1866.6 2259.3L1865 2259.5L1863.5 2260.2L1862 2259.1L1860.4 2259.1L1858.9 2263.3L1857.3 2263L1855.8 2262.7L1854.3 2262.3L1852.7 2265.5L1851.2 2268.6L1849.7 2268.8L1848.1 2273.5L1846.6 2276.3L1845.1 2277.6L1843.5 2279.2L1842 2278.1L1840.4 2276.2L1838.9 2275.2L1837.4 2274.1L1835.8 2274.4L1834.3 2270.6L1832.8 2272.2L1831.2 2270.3L1829.7 2266.8L1828.1 2264.5L1826.6 2263.8L1825.1 2263.4L1823.5 2261L1822 2259.7L1820.5 2257.5L1818.9 2258.7L1817.4 2255.8L1815.8 2256.2L1814.3 2255.9L1812.8 2256.9L1811.2 2255.8L1809.7 2254.6L1808.2 2251.1L1806.6 2254.1L1805.1 2255.7L1803.5 2253.3L1802 2251.9L1800.5 2254.7L1798.9 2252.4L1797.4 2248L1795.9 2249.9L1794.3 2250.6L1792.8 2252.7L1791.3 2253.5L1789.7 2253.7L1788.2 2252.6L1786.6 2250.1L1785.1 2249.3L1783.6 2244.4L1782 2245.3L1780.5 2246.7L1779 2244.4L1777.4 2246.2L1775.9 2250L1774.3 2252.8L1772.8 2251.2L1771.3 2255.1L1769.7 2257.8L1768.2 2260.6L1766.7 2259.7L1765.1 2261.6L1763.6 2261.1L1762 2261.1L1760.5 2263.1L1759 2264.1L1757.4 2263.6L1755.9 2266.4Z" fill="#d0d3fa" opacity="0.8"/>
<path d="M1755.9 2261.6L1757.4 2260.3L1759 2260.1L1760.5 2259.1L1762 2257.5L1763.6 2257.1L1765.1 2257.6L1766.7 2255.3L1768.2 2255.3L1769.7 2254L1771.3 2251.4L1772.8 2248.2L1774.3 2246.8L1775.9 2244.6L1777.4 2242.1L1779 2240.5L1780.5 2240.8L1782 2241.1L1783.6 2240.2L1785.1 2244.3L1786.6 2246.2L1788.2 2249L1789.7 2250.7L1791.3 2247.8L1792.8 2247.4L1794.3 2245.3L1795.9 2245.8L1797.4 2244.7L1798.9 2248.1L1800.5 2248.5L1802 2248.3L1803.5 2250L1805.1 2249.6L1806.6 2248.3L1808.2 2247.7L1809.7 2249.4L1811.2 2249.7L1812.8 2250.8L1814.3 2250.3L1815.8 2251L1817.4 2252.4L1818.9 2252.5L1820.5 2252.8L1822 2256.4L1823.5 2257.3L1825.1 2258.1L1826.6 2259.5L1828.1 2260.7L1829.7 2262.8L1831.2 2265.5L1832.8 2266.4L1834.3 2267.5L1835.8 2269.2L1837.4 2270.2L1838.9 2270.6L1840.4 2272.8L1842 2273.6L1843.5 2273.4L1845.1 2272.3L1846.6 2270.8L1848.1 2268.7L1849.7 2264.7L1851.2 2264.3L1852.7 2262.5L1854.3 2258.6L1855.8 2259.7L1857.3 2259.6L1858.9 2258.3L1860.4 2255.9L1862 2255.6L1863.5 2255.2L1865 2256.4L1866.6 2256.2L1868.1 2257.4L1869.6 2257.8L1871.2 2256.9L1872.7 2257.8L1874.3 2260L1875.8 2261.4L1877.3 2261.6L1878.9 2260.9L1880.4 2264.3L1881.9 2264.6L1883.5 2262.2L1885 2263.5L1886.6 2265.9L1888.1 2266.5L1889.6 2265.3L1891.2 2267.7L1892.7 2268.1L1894.2 2265.4L1895.8 2267.2L1897.3 2268.5L1898.8 2269.9L1900.4 2268L1901.9 2266.3L1903.5 2264.9L1905 2264.6L1906.5 2263.5L1908.1 2262.8L1909.6 2260.7L1911.1 2259.5L1912.7 2260.4L1914.2 2260.9L1915.8 2260.7L1917.3 2261.8L1918.8 2263.7L1920.4 2262.3L1921.9 2261.8L1923.4 2259.7L1925 2259.8L1926.5 2258L1928.1 2258.4L1929.6 2258.6L1931.1 2259.3L1932.7 2255.5L1934.2 2254.6L1935.7 2252L1937.3 2249.1L1938.8 2246.9L1940.4 2242.1L1941.9 2242.4L1943.4 2244.9L1945 2247.5L1946.5 2248.4L1948 2250.3L1949.6 2255.6L1951.1 2259.8L1952.6 2261.7L1954.2 2264.7L1955.7 2266.3L1957.3 2268.6L1958.8 2269.7L1960.3 2270.3L1961.9 2272.1L1963.4 2274.3L1964.9 2274.9L1966.5 2275.4L1968 2278L1969.6 2278.5L1971.1 2279.3L1972.6 2278.1L1974.2 2279.3L1975.7 2280.7L1977.2 2281.1L1978.8 2282.1L1980.3 2281.6L1981.9 2278.6L1983.4 2278.5L1984.9 2278.8L1986.5 2276.8L1988 2279L1989.5 2278.3L1991.1 2277.3L1992.6 2279.8L1994.1 2280.7L1995.7 2280.3L1997.2 2282.6L1998.8 2283.2L2000.3 2281.3L2001.8 2281.2L2003.4 2279.4L2004.9 2276.6L2006.4 2275.1L2008 2274.9L2009.5 2273.3L2011.1 2273.1L2012.6 2270.9L2014.1 2269.2L2015.7 2268.3L2017.2 2267.7L2018.7 2266.1" stroke="#0b24e0" stroke-width="2.9" fill="none" stroke-linejoin="round"/>
<path d="M1755.9 2235.4L1757.4 2236.4L1759 2238.2L1760.5 2239.9L1762 2239.7L1763.6 2240.6L1765.1 2242.6L1766.7 2242.2L1768.2 2242.8L1769.7 2243.6L1771.3 2248.1L1772.8 2249.3L1774.3 2249.5L1775.9 2251.2L1777.4 2251.1L1779 2253.9L1780.5 2253.6L1782 2252.6L1783.6 2256.4L1785.1 2256.2L1786.6 2255L1788.2 2254.8L1789.7 2255.4L1791.3 2255.8L1792.8 2256.1L1794.3 2256.5L1795.9 2254.7L1797.4 2254.6L1798.9 2254.5L1800.5 2254.3L1802 2252.8L1803.5 2253.4L1805.1 2252.4L1806.6 2254.4L1808.2 2251.3L1809.7 2254.9L1811.2 2256.3L1812.8 2256.4L1814.3 2258.2L1815.8 2260.2L1817.4 2257L1818.9 2258.9L1820.5 2260.7L1822 2263.8L1823.5 2261.1L1825.1 2262.1L1826.6 2263.6L1828.1 2264.5L1829.7 2260.5L1831.2 2257.3L1832.8 2259.3L1834.3 2260.9L1835.8 2263.7L1837.4 2266.6L1838.9 2271.6L1840.4 2268.7L1842 2271.2L1843.5 2271.4L1845.1 2275.5L1846.6 2273.9L1848.1 2274L1849.7 2277L1851.2 2279.1L1852.7 2278.2L1854.3 2279.2L1855.8 2278.9L1857.3 2278.5L1858.9 2281.7L1860.4 2281.5L1862 2281L1863.5 2279.2L1865 2279.4L1866.6 2283.7L1868.1 2282.5L1869.6 2285.2L1871.2 2286.3L1872.7 2285.5L1874.3 2286.6L1875.8 2289L1877.3 2289.9L1878.9 2289.7L1880.4 2291.8L1881.9 2293.7L1883.5 2293.2L1885 2290.7L1886.6 2291.7L1888.1 2292.7L1889.6 2289.9L1891.2 2292.1L1892.7 2291.3L1894.2 2292.3L1895.8 2294.1L1897.3 2294.6L1898.8 2295.7L1900.4 2293.7L1901.9 2290.1L1903.5 2287.8L1905 2287.8L1906.5 2280.3L1908.1 2276L1909.6 2265.2L1911.1 2257.5L1912.7 2252.5L1914.2 2248.5L1915.8 2245.4L1917.3 2242.6L1918.8 2238.4L1920.4 2234.1L1921.9 2236L1923.4 2235.8L1925 2235.4L1926.5 2237.7L1928.1 2234.2L1929.6 2235.1L1931.1 2234.2L1932.7 2233.6L1934.2 2230.1L1935.7 2230.5L1937.3 2229.5L1938.8 2228.5L1940.4 2228.3L1941.9 2227.1L1943.4 2225.8L1945 2229.1L1946.5 2228.7L1948 2229.8L1949.6 2230.7L1951.1 2234.5L1952.6 2234.5L1954.2 2233L1955.7 2233.7L1957.3 2237.9L1958.8 2237.4L1960.3 2239.1L1961.9 2238.5L1963.4 2242.3L1964.9 2243.5L1966.5 2243.2L1968 2245.5L1969.6 2246.2L1971.1 2249.3L1972.6 2252L1974.2 2256.5L1975.7 2257.4L1977.2 2254.3L1978.8 2251.7L1980.3 2252.1L1981.9 2251.6L1983.4 2249.9L1984.9 2255.7L1986.5 2259.1L1988 2261.5L1989.5 2260.3L1991.1 2256.9L1992.6 2256.5L1994.1 2254.9L1995.7 2256.3L1997.2 2253.2L1998.8 2257.9L2000.3 2257.9L2001.8 2258.8L2003.4 2260.1L2004.9 2259.8L2006.4 2258.9L2008 2260.2L2009.5 2260.9L2011.1 2261.3L2012.6 2263.7L2014.1 2265.3L2015.7 2261.9L2017.2 2261.8L2018.7 2260.7L2018.7 2268.6L2017.2 2270.4L2015.7 2273.4L2014.1 2273.1L2012.6 2270L2011.1 2272.9L2009.5 2271.7L2008 2270.8L2006.4 2268L2004.9 2271.7L2003.4 2266.6L2001.8 2265.1L2000.3 2265.3L1998.8 2266L1997.2 2263.6L1995.7 2264.9L1994.1 2264.3L1992.6 2266.6L1991.1 2267.6L1989.5 2270L1988 2267.6L1986.5 2268.1L1984.9 2262.1L1983.4 2261.5L1981.9 2259.3L1980.3 2260L1978.8 2263.8L1977.2 2264.9L1975.7 2264.7L1974.2 2263.6L1972.6 2260.4L1971.1 2256.9L1969.6 2257.1L1968 2253.8L1966.5 2254.1L1964.9 2253.1L1963.4 2249.8L1961.9 2247.3L1960.3 2248.4L1958.8 2244.5L1957.3 2246.7L1955.7 2243.2L1954.2 2245.1L1952.6 2242.8L1951.1 2242.1L1949.6 2241.5L1948 2239.8L1946.5 2238.1L1945 2235.6L1943.4 2236.3L1941.9 2233.9L1940.4 2238.3L1938.8 2237L1937.3 2238.9L1935.7 2237.3L1934.2 2237L1932.7 2239.5L1931.1 2243.3L1929.6 2244.5L1928.1 2243.3L1926.5 2244.1L1925 2246L1923.4 2243.2L1921.9 2245.6L1920.4 2244.8L1918.8 2250.5L1917.3 2253.4L1915.8 2254.9L1914.2 2256.8L1912.7 2259.7L1911.1 2264.9L1909.6 2277.1L1908.1 2282.2L1906.5 2292.2L1905 2294.4L1903.5 2298L1901.9 2301.6L1900.4 2303.4L1898.8 2302.4L1897.3 2302.6L1895.8 2302L1894.2 2300.5L1892.7 2300.6L1891.2 2298.6L1889.6 2300L1888.1 2300L1886.6 2299.6L1885 2303L1883.5 2299.3L1881.9 2299.7L1880.4 2301.8L1878.9 2298.3L1877.3 2299.3L1875.8 2298.8L1874.3 2296.6L1872.7 2296.6L1871.2 2293.9L1869.6 2296L1868.1 2294.2L1866.6 2289.8L1865 2291.4L1863.5 2289.1L1862 2291.1L1860.4 2291.4L1858.9 2290L1857.3 2289.9L1855.8 2287.3L1854.3 2288.9L1852.7 2286.2L1851.2 2285.8L1849.7 2284.5L1848.1 2284.7L1846.6 2283L1845.1 2281.9L1843.5 2281.8L1842 2278.9L1840.4 2280.1L1838.9 2277.8L1837.4 2276L1835.8 2273.3L1834.3 2271.5L1832.8 2265.3L1831.2 2268.8L1829.7 2272.5L1828.1 2270.6L1826.6 2271L1825.1 2269.3L1823.5 2270L1822 2272.5L1820.5 2271L1818.9 2269.5L1817.4 2268.7L1815.8 2267.7L1814.3 2266.5L1812.8 2266.2L1811.2 2265L1809.7 2263.9L1808.2 2262.8L1806.6 2263.4L1805.1 2264.2L1803.5 2264.2L1802 2261.1L1800.5 2261.2L1798.9 2264.8L1797.4 2264.7L1795.9 2264L1794.3 2263.3L1792.8 2264.9L1791.3 2263.2L1789.7 2266.2L1788.2 2265.9L1786.6 2265.1L1785.1 2263.5L1783.6 2263.4L1782 2263.2L1780.5 2263.2L1779 2260.4L1777.4 2261.4L1775.9 2257.3L1774.3 2260.3L1772.8 2256.6L1771.3 2254.6L1769.7 2255.5L1768.2 2251.7L1766.7 2252.1L1765.1 2250.2L1763.6 2251.6L1762 2247.5L1760.5 2248.1L1759 2250L1757.4 2243.8L1755.9 2244.2Z" fill="#fbc9c9" opacity="0.8"/>
<path d="M1755.9 2239.8L1757.4 2240.1L1759 2244.1L1760.5 2244L1762 2243.6L1763.6 2246.1L1765.1 2246.4L1766.7 2247.2L1768.2 2247.2L1769.7 2249.6L1771.3 2251.4L1772.8 2252.9L1774.3 2254.9L1775.9 2254.3L1777.4 2256.2L1779 2257.2L1780.5 2258.4L1782 2257.9L1783.6 2259.9L1785.1 2259.8L1786.6 2260.1L1788.2 2260.3L1789.7 2260.8L1791.3 2259.5L1792.8 2260.5L1794.3 2259.9L1795.9 2259.3L1797.4 2259.7L1798.9 2259.6L1800.5 2257.7L1802 2257L1803.5 2258.8L1805.1 2258.3L1806.6 2258.9L1808.2 2257.1L1809.7 2259.4L1811.2 2260.7L1812.8 2261.3L1814.3 2262.3L1815.8 2264L1817.4 2262.9L1818.9 2264.2L1820.5 2265.9L1822 2268.2L1823.5 2265.6L1825.1 2265.7L1826.6 2267.3L1828.1 2267.6L1829.7 2266.5L1831.2 2263L1832.8 2262.3L1834.3 2266.2L1835.8 2268.5L1837.4 2271.3L1838.9 2274.7L1840.4 2274.4L1842 2275L1843.5 2276.6L1845.1 2278.7L1846.6 2278.5L1848.1 2279.4L1849.7 2280.7L1851.2 2282.4L1852.7 2282.2L1854.3 2284L1855.8 2283.1L1857.3 2284.2L1858.9 2285.8L1860.4 2286.4L1862 2286L1863.5 2284.2L1865 2285.4L1866.6 2286.8L1868.1 2288.4L1869.6 2290.6L1871.2 2290.1L1872.7 2291.1L1874.3 2291.6L1875.8 2293.9L1877.3 2294.6L1878.9 2294L1880.4 2296.8L1881.9 2296.7L1883.5 2296.2L1885 2296.8L1886.6 2295.7L1888.1 2296.3L1889.6 2295L1891.2 2295.3L1892.7 2296L1894.2 2296.4L1895.8 2298L1897.3 2298.6L1898.8 2299L1900.4 2298.6L1901.9 2295.9L1903.5 2292.9L1905 2291.1L1906.5 2286.2L1908.1 2279.1L1909.6 2271.2L1911.1 2261.2L1912.7 2256.1L1914.2 2252.7L1915.8 2250.1L1917.3 2248L1918.8 2244.5L1920.4 2239.5L1921.9 2240.8L1923.4 2239.5L1925 2240.7L1926.5 2240.9L1928.1 2238.7L1929.6 2239.8L1931.1 2238.7L1932.7 2236.5L1934.2 2233.6L1935.7 2233.9L1937.3 2234.2L1938.8 2232.7L1940.4 2233.3L1941.9 2230.5L1943.4 2231.1L1945 2232.3L1946.5 2233.4L1948 2234.8L1949.6 2236.1L1951.1 2238.3L1952.6 2238.7L1954.2 2239L1955.7 2238.5L1957.3 2242.3L1958.8 2240.9L1960.3 2243.7L1961.9 2242.9L1963.4 2246.1L1964.9 2248.3L1966.5 2248.7L1968 2249.7L1969.6 2251.6L1971.1 2253.1L1972.6 2256.2L1974.2 2260L1975.7 2261.1L1977.2 2259.6L1978.8 2257.8L1980.3 2256L1981.9 2255.4L1983.4 2255.7L1984.9 2258.9L1986.5 2263.6L1988 2264.5L1989.5 2265.1L1991.1 2262.3L1992.6 2261.5L1994.1 2259.6L1995.7 2260.6L1997.2 2258.4L1998.8 2261.9L2000.3 2261.6L2001.8 2261.9L2003.4 2263.3L2004.9 2265.7L2006.4 2263.4L2008 2265.5L2009.5 2266.3L2011.1 2267.1L2012.6 2266.8L2014.1 2269.2L2015.7 2267.7L2017.2 2266.1L2018.7 2264.6" stroke="#ed1c24" stroke-width="2.9" fill="none" stroke-linejoin="round"/>
<text x="1761.5" y="2372" text-anchor="middle" fill="#1c1c1c" font-size="23.5">-6</text>
<text x="1884" y="2372" text-anchor="middle" fill="#1c1c1c" font-size="23.5">0</text>
<text x="2013.5" y="2372" text-anchor="middle" fill="#1c1c1c" font-size="23.5">6</text>
<text x="1529" y="2432.8" fill="#333" font-size="31.3">Time - CS (s)</text>
</g></svg>
</body></html>
